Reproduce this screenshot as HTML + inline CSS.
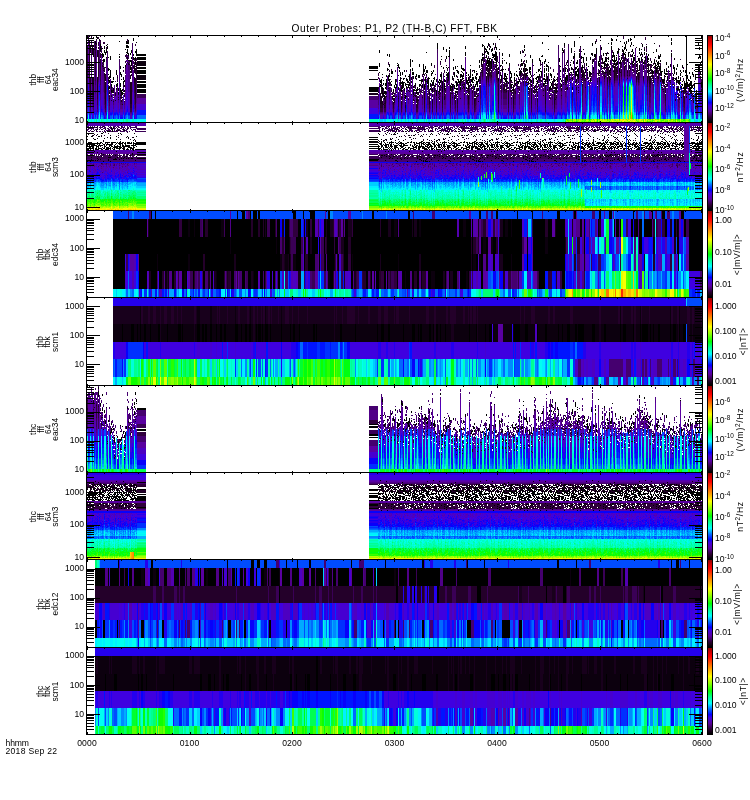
<!DOCTYPE html>
<html lang="en"><head><meta charset="utf-8"><title>Outer Probes: P1, P2 (TH-B,C) FFT, FBK</title>
<style>html,body{margin:0;padding:0;background:#fff}body{width:750px;height:800px;overflow:hidden}svg{display:block}text{font-family:"Liberation Sans",sans-serif;fill:#000}</style></head>
<body>
<svg width="750" height="800" viewBox="0 0 750 800" shape-rendering="crispEdges">
<rect width="750" height="800" fill="#fff"/>
<g><path fill="#000000" d="M611 39h2v2h-2zM126 42h3v2h-3zM126 46h3v2h-3zM624 47h2v2h-2zM491 49h2v2h-2zM622 50h2v2h-2zM135 51h2v2h-2zM617 51h2v2h-2zM487 52h2v2h-2zM495 52h2v2h-2zM591 53h2v2h-2zM136 54h10v2h-10zM102 54h2v2h-2zM492 54h5v2h-5zM594 54h2v3h-2zM612 55h3v2h-3zM573 56h2v2h-2zM658 57h2v2h-2zM137 57h9v3h-9zM494 58h3v2h-3zM647 58h2v2h-2zM633 57h2v4h-2zM605 59h2v2h-2zM481 59h2v2h-2zM103 59h2v3h-2zM487 61h5v2h-5zM603 62h2v2h-2zM576 62h2v2h-2zM619 62h2v2h-2zM616 63h2v2h-2zM521 63h2v3h-2zM598 63h2v3h-2zM369 66h9v3h-9zM655 67h3v2h-3zM575 67h2v2h-2zM137 67h9v2h-9zM673 67h2v2h-2zM659 67h2v3h-2zM529 67h2v3h-2zM698 68h2v3h-2zM577 69h2v2h-2zM538 69h2v2h-2zM423 69h2v3h-2zM685 70h2v3h-2zM426 70h2v3h-2zM457 71h2v2h-2zM652 71h2v2h-2zM520 71h2v2h-2zM137 70h9v4h-9zM391 71h2v3h-2zM575 72h2v2h-2zM412 72h2v3h-2zM519 73h2v2h-2zM504 73h2v3h-2zM550 74h2v2h-2zM575 74h4v2h-4zM460 74h2v2h-2zM447 73h2v4h-2zM440 74h2v3h-2zM388 75h2v2h-2zM566 75h2v2h-2zM418 75h2v3h-2zM109 76h2v2h-2zM686 76h2v3h-2zM475 77h2v2h-2zM472 77h2v2h-2zM565 77h3v3h-3zM675 78h2v2h-2zM406 79h2v2h-2zM388 79h2v2h-2zM444 80h2v2h-2zM505 80h2v2h-2zM471 80h2v2h-2zM380 80h2v3h-2zM137 81h9v2h-9zM458 81h3v2h-3zM407 81h2v2h-2zM427 80h2v4h-2zM678 81h2v3h-2zM690 81h2v3h-2zM476 82h2v2h-2zM432 82h2v3h-2zM456 83h2v3h-2zM385 83h2v3h-2zM116 84h2v2h-2zM419 84h2v2h-2zM402 84h2v2h-2zM137 84h9v4h-9zM683 87h4v2h-4zM401 87h2v2h-2zM549 87h2v3h-2zM413 89h2v2h-2zM369 87h9v5h-9zM137 89h9v4h-9zM384 91h2v2h-2zM121 92h2v2h-2z"/>
<path fill="#0c000e" d="M137 61h9v5h-9zM137 75h9v5h-9z"/>
<path fill="#18001c" d="M92 50h2v4h-2zM489 65h2v2h-2zM486 67h2v2h-2zM616 70h2v2h-2zM134 68h2v5h-2zM130 71h2v2h-2zM447 79h2v2h-2zM649 77h2v6h-2zM134 78h2v5h-2zM92 78h2v5h-2zM476 89h2v2h-2zM369 93h9v2h-9zM380 97h2v2h-2zM130 82h2v22h-2zM380 101h3v3h-3z"/>
<path fill="#24002a" d="M489 72h2v4h-2zM416 101h2v2h-2zM130 104h2v4h-2zM380 104h3v4h-3zM416 104h2v4h-2z"/>
<path fill="#30003d" d="M103 42h2v2h-2zM630 55h2v2h-2zM601 62h2v2h-2zM496 68h2v2h-2zM521 73h2v2h-2zM496 76h2v2h-2zM615 76h3v2h-3zM582 77h2v2h-2zM677 86h2v2h-2zM414 86h2v2h-2zM513 91h2v2h-2zM416 97h2v2h-2zM130 108h2v4h-2zM384 108h2v4h-2zM380 108h3v4h-3zM416 108h2v4h-2z"/>
<path fill="#3a0056" d="M615 78h3v2h-3zM657 79h2v2h-2zM649 95h2v2h-2zM137 94h9v4h-9zM503 93h4v6h-4zM514 94h2v5h-2zM427 96h2v3h-2z"/>
<path fill="#45006f" d="M645 64h2v2h-2zM579 62h2v5h-2zM645 67h2v2h-2zM128 65h2v5h-2zM625 67h2v3h-2zM558 68h2v2h-2zM605 70h2v2h-2zM583 82h2v2h-2zM652 84h2v2h-2zM565 85h2v3h-2zM108 90h2v2h-2zM663 92h2v4h-2zM369 96h9v3h-9zM120 102h3v2h-3zM427 99h2v6h-2zM503 99h4v6h-4zM514 99h2v6h-2zM555 100h2v5h-2zM444 100h2v5h-2z"/>
<path fill="#500089" d="M594 61h2v7h-2zM634 72h2v2h-2zM579 67h2v9h-2zM625 70h2v6h-2zM600 74h2v2h-2zM632 74h4v2h-4zM645 70h2v7h-2zM106 70h2v7h-2zM698 74h2v3h-2zM640 70h2v8h-2zM132 70h2v8h-2zM492 73h2v5h-2zM102 71h2v9h-2zM558 74h2v7h-2zM615 81h3v2h-3zM448 81h2v3h-2zM509 88h2v2h-2zM128 70h2v22h-2zM458 85h2v7h-2zM559 88h2v4h-2zM517 89h2v3h-2zM116 90h2v2h-2zM652 90h2v3h-2zM550 93h2v2h-2zM663 98h2v5h-2zM427 105h2v4h-2zM503 105h4v4h-4zM555 105h2v4h-2zM514 105h2v4h-2zM120 105h3v4h-3zM444 105h2v4h-2zM696 110h2v2h-2z"/>
<path fill="#5a00a1" d="M126 65h2v13h-2zM492 78h2v2h-2zM579 78h2v2h-2zM640 78h2v3h-2zM615 83h3v2h-3zM458 93h2v2h-2zM559 92h2v6h-2zM128 92h2v6h-2zM509 92h2v6h-2zM547 92h2v6h-2zM517 94h2v4h-2zM458 95h4v3h-4zM114 96h2v2h-2zM419 96h3v2h-3zM542 96h3v2h-3zM390 96h2v2h-2zM477 97h2v4h-2zM137 98h9v5h-9zM549 100h3v6h-3zM407 104h2v2h-2zM663 104h2v3h-2zM369 100h9v8h-9zM503 109h4v3h-4zM514 109h2v3h-2zM120 109h3v3h-3zM555 109h2v3h-2zM444 109h2v3h-2zM427 109h2v3h-2z"/>
<path fill="#5300b1" d="M492 80h2v2h-2zM640 81h2v2h-2zM126 82h2v3h-2zM539 85h2v2h-2zM615 85h3v2h-3zM568 87h2v6h-2zM465 91h2v2h-2zM447 87h2v8h-2zM540 89h2v6h-2zM409 98h2v3h-2zM583 99h2v2h-2zM419 98h3v7h-3zM517 98h2v7h-2zM542 98h3v7h-3zM509 98h2v7h-2zM390 98h2v7h-2zM559 98h2v7h-2zM547 98h2v7h-2zM128 98h2v7h-2zM458 99h4v6h-4zM403 100h2v5h-2zM437 100h2v5h-2zM114 101h2v4h-2zM110 101h2v4h-2zM477 102h2v5h-2zM549 106h3v3h-3zM663 108h2v3h-2z"/>
<path fill="#4d00c1" d="M492 82h2v3h-2zM640 83h2v3h-2zM615 87h3v8h-3zM538 89h2v6h-2zM568 95h2v4h-2zM540 95h2v6h-2zM447 95h2v6h-2zM692 104h2v2h-2zM542 105h3v3h-3zM509 105h2v3h-2zM390 105h2v3h-2zM547 105h2v3h-2zM110 105h2v3h-2zM559 105h2v3h-2zM437 105h2v3h-2zM128 105h2v3h-2zM114 105h2v3h-2zM403 105h2v3h-2zM419 105h3v3h-3zM458 105h4v3h-4zM517 105h2v3h-2zM477 107h2v4h-2zM414 109h2v2h-2zM549 109h3v3h-3zM380 116h3v3h-3zM416 116h2v3h-2zM384 116h2v3h-2zM130 116h2v3h-2z"/>
<path fill="#4600d1" d="M492 85h2v2h-2zM640 86h2v8h-2zM538 97h2v4h-2zM615 95h3v7h-3zM568 102h2v3h-2zM447 101h2v5h-2zM540 102h2v4h-2zM137 104h9v6h-9zM692 106h2v4h-2zM409 108h2v2h-2zM390 108h2v4h-2zM559 108h2v4h-2zM547 108h2v4h-2zM110 108h2v4h-2zM403 108h2v4h-2zM437 108h2v4h-2zM458 108h4v4h-4zM517 108h2v4h-2zM128 108h2v4h-2zM509 108h2v4h-2zM114 108h2v4h-2zM419 108h3v4h-3zM542 108h3v4h-3zM555 113h2v2h-2zM444 113h2v2h-2zM427 113h2v2h-2zM503 113h4v2h-4zM514 113h2v2h-2zM120 113h3v2h-3z"/>
<path fill="#3f00e0" d="M492 87h2v8h-2zM640 94h2v6h-2zM615 102h3v4h-3zM538 103h2v3h-2zM568 106h2v3h-2zM447 106h2v4h-2zM540 106h2v4h-2zM692 110h2v2h-2zM369 108h9v6h-9z"/>
<path fill="#2400ee" d="M483 84h2v2h-2zM593 91h2v3h-2zM492 95h2v6h-2zM640 100h2v5h-2zM615 106h3v4h-3zM538 107h2v3h-2zM568 110h2v2h-2zM540 110h2v2h-2zM447 110h2v2h-2zM477 112h2v2h-2zM549 113h3v2h-3zM503 115h4v2h-4zM514 115h2v2h-2zM120 115h3v2h-3zM555 115h2v2h-2zM444 115h2v2h-2zM427 115h2v2h-2z"/>
<path fill="#0800fb" d="M593 98h2v3h-2zM492 101h2v5h-2zM640 105h2v4h-2zM615 110h3v2h-3zM692 112h2v2h-2zM458 113h4v2h-4zM517 113h2v2h-2zM542 113h3v2h-3zM509 113h2v2h-2zM547 113h2v2h-2zM390 113h2v2h-2zM559 113h2v2h-2zM437 113h2v2h-2zM128 113h2v2h-2zM110 113h2v2h-2zM114 113h2v2h-2zM403 113h2v2h-2zM419 113h3v2h-3zM555 117h2v2h-2zM514 117h2v2h-2zM120 117h3v2h-3zM444 117h2v2h-2zM427 117h2v2h-2zM503 117h4v2h-4z"/>
<path fill="#0014ff" d="M483 90h2v5h-2zM492 106h2v4h-2zM640 109h2v3h-2zM540 112h2v2h-2zM447 112h2v2h-2zM137 110h9v5h-9zM549 115h3v2h-3zM369 114h9v5h-9zM663 116h2v3h-2z"/>
<path fill="#0030ff" d="M483 98h2v3h-2zM593 108h2v2h-2zM492 110h2v2h-2zM615 112h3v2h-3zM477 115h2v4h-2zM549 117h3v2h-3zM414 117h2v2h-2z"/>
<path fill="#004cff" d="M483 104h2v2h-2zM692 115h2v3h-2zM409 116h2v2h-2zM559 116h2v3h-2zM437 116h2v3h-2zM128 116h2v3h-2zM110 116h2v3h-2zM114 116h2v3h-2zM403 116h2v3h-2zM419 116h3v3h-3zM458 116h4v3h-4zM517 116h2v3h-2zM542 116h3v3h-3zM509 116h2v3h-2zM390 116h2v3h-2zM547 116h2v3h-2z"/>
<path fill="#0068ff" d="M483 108h2v2h-2zM492 112h2v2h-2zM640 113h2v2h-2zM568 115h2v2h-2zM700 115h2v2h-2zM540 115h2v3h-2zM447 115h2v3h-2zM137 115h9v4h-9z"/>
<path fill="#0089ff" d="M600 87h2v9h-2zM538 115h2v3h-2zM615 115h3v3h-3z"/>
<path fill="#00abff" d="M600 96h2v7h-2zM640 115h2v2h-2z"/>
<path fill="#00ceff" d="M600 103h2v4h-2zM492 115h2v3h-2zM640 117h2v2h-2zM695 120h3v2h-3zM428 119h2v4h-2zM525 119h2v4h-2zM474 119h2v4h-2zM467 119h2v4h-2zM384 119h2v4h-2zM380 119h3v4h-3zM454 119h2v4h-2zM416 119h2v4h-2z"/>
<path fill="#00f0ff" d="M600 107h2v4h-2zM593 116h2v2h-2zM92 119h2v4h-2zM476 119h3v4h-3zM413 119h3v4h-3zM503 119h4v4h-4zM130 119h2v4h-2zM549 119h4v4h-4zM555 119h2v4h-2zM444 119h2v4h-2zM134 119h2v4h-2zM514 119h2v4h-2zM439 119h2v4h-2z"/>
<path fill="#00fff1" d="M137 119h9v4h-9z"/>
<path fill="#00ffda" d="M483 116h2v2h-2zM120 119h3v2h-3zM538 119h2v4h-2zM547 119h2v4h-2zM509 119h2v4h-2zM557 119h4v4h-4zM395 119h2v4h-2zM437 119h2v4h-2zM387 119h2v4h-2zM403 119h2v4h-2zM419 119h3v4h-3zM399 119h2v4h-2zM458 119h4v4h-4zM517 119h2v4h-2zM700 119h2v4h-2zM390 119h2v4h-2zM542 119h3v4h-3zM691 120h2v3h-2z"/>
<path fill="#00ffc2" d="M600 112h2v2h-2zM489 119h3v3h-3zM114 119h2v4h-2zM106 119h2v4h-2zM369 119h9v4h-9zM110 119h2v4h-2zM128 119h2v4h-2zM132 119h2v4h-2zM102 119h2v4h-2z"/>
<path fill="#00ffaa" d="M447 119h2v4h-2zM540 119h2v4h-2z"/>
<path fill="#00ff92" d="M126 119h2v4h-2z"/>
<path fill="#00ff72" d="M600 115h2v4h-2z"/></g><g fill="none" transform="translate(0 .5)"><path stroke="#000000" d="M483 36h2M89 36h1M96 36h1M579 37h1M634 37h1M96 37h2M611 38h1M630 38h1M97 38h1M630 39h2M600 40h1M630 40h1M126 41h1M620 41h1M119 41h1M136 42h1M608 43h1M654 43h1M107 44h1M482 44h1M126 45h2M106 45h1M633 45h1M482 45h2M580 46h1M482 46h1M93 46h1M622 46h1M495 47h2M636 47h1M492 48h1M484 48h2M102 48h1M548 49h1M641 49h1M485 49h2M93 49h1M622 49h1M624 49h1M125 49h1M583 49h1M499 49h1M562 50h2M486 50h1M631 51h2M495 51h1M486 51h2M579 51h1M581 51h1M491 51h1M653 52h1M625 52h1M126 52h2M104 52h3M623 52h1M628 52h2M426 52h1M608 53h1M136 53h1M617 53h1M492 53h1M623 53h2M127 53h2M605 53h2M102 53h1M482 54h2M119 54h1M623 54h3M488 54h1M640 54h3M592 55h1M542 55h1M616 55h1M640 55h1M482 55h1M621 55h1M634 55h1M493 56h4M658 56h3M541 56h2M699 56h2M441 56h1M619 56h1M448 56h2M581 56h1M103 56h1M655 57h1M102 57h1M595 57h1M133 57h1M495 57h2M608 57h1M108 57h1M135 57h1M106 57h1M581 57h3M492 57h2M698 57h3M612 57h1M482 57h2M698 58h1M133 58h3M482 58h1M489 58h2M581 58h1M502 58h1M607 58h2M700 58h1M573 58h1M441 59h1M133 59h1M608 59h1M135 59h1M612 59h1M489 59h1M539 60h2M130 60h1M495 60h2M638 60h2M504 60h1M571 60h1M612 60h5M487 60h3M440 61h1M540 61h1M658 61h1M544 61h2M636 61h2M613 61h3M604 61h3M130 61h2M598 61h2M548 62h1M636 62h1M657 62h2M542 62h1M629 62h1M598 62h1M581 62h1M607 63h1M486 63h6M632 63h1M657 63h3M654 63h2M630 63h1M397 63h1M655 64h1M686 64h2M633 64h1M486 64h1M657 64h2M647 64h1M541 64h1M488 64h2M650 64h1M606 64h2M546 64h1M398 64h1M470 65h1M559 65h1M652 65h1M397 65h2M497 65h1M546 65h2M655 65h2M658 65h1M601 65h1M533 65h1M500 65h2M567 65h1M565 65h1M655 66h1M698 66h1M457 66h1M441 66h1M500 66h1M577 66h1M588 66h1M602 66h1M599 66h1M560 66h1M657 66h4M398 66h1M546 66h3M544 66h1M448 67h1M701 67h1M653 67h1M604 67h2M398 67h2M105 67h1M446 67h1M123 67h1M581 67h3M566 68h1M447 68h1M461 68h3M525 68h2M540 68h1M387 68h1M108 68h1M578 68h1M502 68h1M399 68h1M575 69h1M462 69h3M502 69h2M525 69h3M505 69h1M480 69h1M387 69h2M108 69h2M660 70h1M520 70h1M609 70h2M500 70h1M529 70h1M473 70h2M652 70h1M456 70h2M525 70h2M638 70h1M369 70h9M387 70h1M463 70h2M694 70h1M108 70h1M461 71h1M540 71h2M660 71h3M669 71h1M516 71h1M666 71h2M476 71h1M431 71h1M538 71h1M609 71h1M529 71h2M575 71h4M525 71h1M589 71h1M536 72h1M604 72h1M432 72h1M681 72h1M589 72h2M529 72h1M587 72h1M570 72h1M660 72h2M462 72h1M446 72h1M379 72h1M448 72h1M425 73h1M652 73h1M597 73h1M589 73h3M664 73h3M550 73h1M431 73h2M458 73h1M565 73h1M510 73h2M507 74h1M589 74h2M382 74h1M516 74h1M120 74h2M105 74h1M534 74h1M108 74h1M692 74h2M665 74h2M664 75h1M516 75h2M526 75h2M585 75h1M519 75h1M466 75h1M685 75h3M398 75h1M500 75h2M391 76h1M505 76h2M575 76h1M682 76h1M415 76h2M408 76h2M444 76h1M475 76h1M577 76h2M537 76h3M517 76h1M665 76h1M460 76h4M676 77h1M557 77h1M462 77h1M434 77h1M460 77h1M504 77h1M117 77h1M536 77h3M506 77h1M428 77h1M510 77h2M403 78h2M462 78h2M452 78h2M428 78h2M543 78h2M585 78h1M406 78h1M535 78h2M433 78h2M503 78h4M109 78h1M121 79h1M536 79h1M543 79h3M504 79h2M471 79h3M422 79h1M476 79h1M688 79h1M556 79h1M381 79h1M551 79h1M444 79h1M403 79h1M457 79h2M369 79h9M452 79h1M434 79h1M460 79h1M661 79h4M466 79h1M439 79h1M554 79h1M428 79h1M399 80h2M419 80h4M545 80h1M383 80h1M124 80h1M439 80h2M514 80h2M466 80h3M553 80h3M474 80h1M688 80h2M458 80h1M567 80h1M460 80h2M676 80h5M510 80h2M662 80h3M108 80h2M111 81h3M391 81h1M402 81h1M440 81h1M682 81h1M557 81h1M466 81h2M662 81h2M421 81h2M544 81h2M476 81h3M536 81h2M554 81h1M517 81h3M438 81h1M514 81h1M123 81h2M466 82h4M663 82h1M686 82h2M517 82h2M111 82h2M578 82h1M550 82h1M438 82h3M472 82h1M506 82h1M400 82h5M518 83h1M694 83h2M400 83h4M381 83h1M405 83h1M684 83h4M466 83h1M409 83h1M117 83h1M452 84h2M400 84h1M405 84h5M556 84h1M665 84h1M684 84h8M395 84h2M436 84h1M681 84h2M679 84h1M554 84h1M511 84h2M464 84h1M535 85h1M432 85h1M414 85h2M382 85h1M513 85h1M682 85h1M411 85h1M545 85h1M408 85h2M452 85h1M405 85h1M684 85h9M450 85h1M450 86h3M402 86h1M474 86h2M380 86h2M691 86h2M534 86h1M684 86h6M550 86h1M456 86h1M116 86h1M386 86h1M419 86h1M394 87h3M689 87h4M554 87h2M381 87h2M508 87h1M116 88h1M419 88h1M554 88h3M693 88h1M395 88h1M454 88h2M381 88h3M677 88h2M689 88h3M685 89h1M382 89h2M556 89h1M416 89h3M122 89h1M677 89h3M537 89h1M689 89h2M549 90h1M408 90h1M120 90h3M677 90h1M416 90h2M554 90h1M689 90h3M679 90h1M121 91h1M438 91h2M455 91h1M416 91h1M416 92h2M113 92h1M405 93h1M416 93h1M394 93h1M695 93h2M382 93h3M383 94h1M122 94h1M383 95h2"/>
<path stroke="#18001c" d="M88 37h1M96 39h1M88 40h1M87 43h1M89 46h4M92 47h1M96 47h1M98 48h1M89 49h2M92 49h1M94 49h1M87 50h1M101 51h1M95 52h1M484 54h1M101 54h1M100 55h1M622 55h2M642 56h1M484 57h1M644 57h1M126 57h2M622 57h1M623 58h1M483 58h2M100 59h1M624 59h1M642 59h1M631 59h1M524 60h1M484 60h1M128 60h2M622 60h3M642 61h1M622 61h1M483 61h2M127 62h1M623 62h1M103 62h1M483 62h1M495 62h1M644 63h2M634 63h1M102 63h1M631 63h1M128 63h1M126 64h1M103 64h1M632 64h1M128 64h2M482 64h1M490 64h1M621 64h1M613 64h1M612 65h1M633 65h1M102 65h1M608 65h1M136 65h1M134 65h1M487 65h1M481 66h2M612 66h2M493 66h1M133 66h1M632 66h1M645 66h1M617 66h1M495 66h2M654 66h1M135 66h1M601 66h1M647 66h2M102 66h2M490 67h1M133 67h2M648 67h1M615 67h2M613 67h1M629 68h2M103 68h1M602 68h1M608 68h1M614 68h1M650 68h1M647 68h2M489 68h2M494 68h1M650 69h2M593 69h1M489 69h1M632 69h1M616 69h1M606 69h3M637 69h1M648 69h1M630 69h1M495 69h1M481 70h2M657 70h2M636 70h1M103 70h1M649 70h2M632 70h2M614 70h1M488 70h2M583 71h1M104 71h1M634 71h1M613 71h2M601 71h3M649 71h1M651 71h1M657 71h1M636 71h2M643 71h1M481 72h2M610 72h1M593 72h1M486 72h1M602 72h1M605 72h4M638 72h2M650 72h1M571 72h1M584 72h1M620 72h1M598 73h2M649 73h3M486 73h3M669 73h1M616 73h1M638 73h1M657 73h1M135 73h1M609 73h1M605 73h1M603 73h1M659 73h1M573 74h1M637 74h2M609 74h2M131 74h1M659 74h2M598 74h1M570 74h1M523 75h1M520 75h1M652 75h1M603 75h2M599 75h1M627 75h1M130 75h2M583 76h2M604 76h2M657 76h1M591 76h1M649 76h5M660 77h1M520 77h1M447 77h1M530 77h1M540 77h1M587 77h1M581 77h1M134 77h1M584 77h1M92 77h1M655 78h1M587 78h2M653 78h1M669 78h1M577 78h1M597 78h1M627 78h1M571 78h1M672 79h1M569 79h2M609 79h2M470 79h1M527 79h1M619 79h1M581 79h1M525 79h1M546 79h1M501 80h1M669 80h2M584 80h2M463 80h1M674 80h1M539 80h3M667 80h1M652 80h2M591 80h1M563 80h1M609 80h1M479 80h2M389 81h1M507 81h1M566 81h1M669 81h1M588 81h1M541 81h1M597 81h1M462 81h1M498 81h1M581 81h1M426 81h1M666 81h1M526 81h1M662 82h1M390 82h1M670 82h1M470 82h1M538 82h1M664 82h1M526 82h2M473 82h1M570 82h1M563 82h1M565 82h2M520 83h1M566 83h1M506 83h1M529 83h1M479 83h1M108 83h1M504 83h1M388 83h3M663 83h2M560 83h1M649 83h1M448 84h1M536 84h1M576 84h1M462 84h2M582 84h1M470 84h1M565 84h1M666 84h2M527 84h1M557 84h1M530 84h1M672 84h2M540 84h1M503 84h1M473 84h1M517 84h1M578 84h1M563 84h1M589 84h1M503 85h2M447 85h1M516 85h1M575 85h1M469 85h1M431 85h1M462 85h1M664 85h1M674 85h1M667 85h1M433 85h2M546 85h1M506 85h2M526 85h1M514 86h1M469 86h2M421 86h1M670 86h1M434 86h2M500 86h1M506 86h1M529 86h1M517 86h2M545 86h1M479 86h1M541 86h1M463 86h1M597 86h1M425 86h1M664 86h3M473 86h1M123 86h1M445 86h1M453 86h1M427 86h1M531 86h1M379 86h1M701 87h1M441 87h1M501 87h1M471 87h1M557 87h1M411 87h1M451 87h1M533 87h2M431 87h1M673 87h1M585 87h1M463 87h2M661 87h2M578 87h1M665 87h1M680 87h1M407 87h1M567 87h1M464 88h1M500 88h1M534 88h1M553 88h1M536 88h1M688 88h1M406 88h1M467 88h1M471 88h2M517 88h2M388 88h1M507 88h1M503 88h2M462 88h1M445 88h1M566 88h2M506 89h1M529 89h1M684 89h1M468 89h1M400 89h1M565 89h1M440 89h1M451 89h1M662 89h2M503 89h1M473 89h1M123 89h1M534 89h3M519 89h1M116 89h1M512 89h1M567 89h1M399 90h2M395 90h1M422 90h1M434 90h2M556 90h1M415 90h1M683 90h3M504 90h1M665 90h1M388 90h1M419 90h1M451 90h2M510 90h3M402 90h1M543 90h1M445 90h1M578 90h1M466 90h3M533 90h1M428 90h1M510 91h2M464 91h1M663 91h1M120 91h1M506 91h1M424 91h1M456 91h2M469 91h1M533 91h2M528 91h1M452 91h1M552 91h1M420 91h2M123 91h1M681 91h6M555 91h3M406 91h1M433 91h2M474 91h1M409 91h1M685 92h1M422 92h1M519 92h1M386 92h1M537 92h1M111 92h2M552 92h2M512 92h1M396 92h1M378 92h1M681 92h1M665 92h1M533 92h3M555 92h2M442 92h1M455 92h3M578 92h1M439 92h1M400 93h1M385 93h2M438 93h1M457 93h1M420 93h1M450 93h3M440 93h1M528 93h1M123 93h1M415 93h1M478 93h1M466 93h1M686 93h2M549 93h1M468 93h2M464 94h1M688 94h2M411 94h1M686 94h1M121 94h1M677 94h2M511 94h1M467 94h1M513 94h1M665 94h1M382 94h1M402 94h1M118 94h1M692 94h1M675 94h1M439 94h1M392 94h1M454 95h1M554 95h1M556 95h1M404 95h1M120 95h2M678 95h2M419 95h1M691 95h1M543 95h1M393 95h1M414 95h3M477 95h2M456 95h1M561 95h1M549 95h2M476 96h2M455 96h1M474 96h1M386 96h1M432 96h1M457 96h1M381 96h3M406 96h1M415 96h1M396 96h1M413 96h1M392 96h3M683 96h1M535 96h1M109 96h1M692 96h1M694 96h1M439 96h1M677 96h1M395 97h1M113 97h1M422 97h1M401 97h2M438 97h1M556 97h1M404 97h1M681 97h1M452 97h1M549 97h1M418 97h1M118 97h1M385 97h1M392 97h1M120 97h3M429 98h2M693 98h1M511 98h1M460 98h1M398 98h1M690 98h1M474 98h2M392 98h3M109 98h1M550 98h1M416 99h2M384 99h1M537 99h1M393 99h2M404 99h1M122 99h1M413 99h1M381 99h1M554 99h2M436 99h1M408 99h1M689 99h1M118 99h1M692 99h1M111 100h1M417 100h2M380 100h2M115 100h1M696 100h2M691 100h1M413 100h2M113 101h1M696 101h1M478 101h1M124 101h1M393 102h2M413 102h1M405 102h1M384 103h2M697 103h1M417 103h1M393 103h1M383 104h1M122 104h1M384 105h1M697 105h1M384 107h1M697 107h1"/>
<path stroke="#24002a" d="M89 44h1M92 45h1M87 46h1M98 47h1M87 49h1M136 64h1M647 65h1M643 65h1M486 65h1M134 66h1M650 67h1M131 67h1M607 68h1M636 68h1M614 69h1M482 71h1M609 72h1M524 73h2M617 73h1M615 74h2M523 74h2M629 75h1M637 75h1M105 75h1M615 75h3M524 75h1M104 76h2M523 76h1M104 77h1M619 78h1M525 78h1M643 79h1M614 80h1M619 80h1M582 82h1M650 83h1M649 84h2M665 91h1M432 92h1M424 92h1M381 93h1M513 93h1M457 94h1M450 94h1M554 96h1M380 96h1M385 96h1M382 97h1M429 97h1M537 98h1M380 99h1M393 100h1M416 100h1M436 100h1M384 106h2M385 107h1"/>
<path stroke="#30003d" d="M100 36h1M499 39h1M641 43h1M646 44h1M95 44h1M619 49h1M484 49h1M100 51h1M574 51h1M482 53h1M630 54h1M126 54h1M125 55h2M658 55h1M637 56h1M524 56h1M102 56h1M125 56h1M645 56h1M485 57h1M654 59h1M134 59h1M680 59h1M134 60h3M131 60h1M502 60h1M523 61h2M602 61h1M608 61h1M648 61h1M498 62h1M570 62h1M616 62h1M615 63h1M648 63h1M651 64h1M649 64h1M493 64h1M608 64h1M649 65h3M482 65h1M446 65h1M616 65h1M496 65h1M650 66h2M615 66h1M609 66h1M487 66h1M651 67h1M603 67h1M489 67h1M617 67h1M607 67h3M496 67h1M615 68h3M692 68h1M603 68h2M658 68h1M666 68h1M655 69h1M604 69h1M617 69h1M615 69h1M657 69h1M651 70h1M582 70h2M639 70h1M527 70h1M637 70h1M627 70h1M610 71h1M582 71h1M489 71h1M658 71h1M563 71h1M651 72h1M657 72h2M616 72h2M582 72h2M530 72h1M672 73h1M610 73h1M653 73h1M548 73h1M637 73h1M435 74h1M652 74h1M651 75h1M610 75h1M653 75h1M497 75h1M462 75h1M522 75h1M533 75h1M621 76h1M624 76h1M482 76h1M608 76h1M504 76h1M637 76h1M490 76h1M487 76h1M560 76h1M653 77h1M382 77h1M680 77h1M490 77h2M507 78h1M401 78h1M421 79h1M506 79h1M390 79h1M461 79h2M537 80h1M464 80h1M643 80h1M510 81h2M400 81h1M115 81h1M694 81h1M457 82h1M510 82h3M488 82h1M636 82h1M638 82h1M503 82h1M409 82h1M510 83h1M552 83h2M689 83h1M424 84h1M476 84h1M438 85h1M555 85h2M464 85h1M438 86h2M543 86h1M513 86h1M430 86h1M649 87h2M503 87h1M477 88h1M529 88h1M506 88h1M508 88h1M511 88h1M415 88h1M504 89h2M381 89h1M424 89h1M503 90h1M505 90h2M432 91h1M113 91h1M503 91h3M427 91h1M503 92h4M450 92h1M693 93h1M401 94h1M385 94h1M382 95h1M455 95h1M380 95h1M416 96h1M401 96h1M109 97h1M398 99h1M384 104h1"/>
<path stroke="#3a0056" d="M91 41h1M101 46h1M622 53h1M642 55h1M492 59h1M102 60h1M103 63h1M613 63h1M630 64h1M632 65h1M481 65h1M493 65h1M613 65h1M633 66h1M606 67h1M601 67h1M605 68h2M598 69h1M593 70h1M659 70h1M698 71h1M587 73h1M660 73h1M591 74h1M581 74h1M548 74h1M412 76h1M423 76h1M524 76h1M489 76h1M608 77h1M652 77h1M624 77h1M584 78h1M490 78h2M651 78h2M651 79h1M491 79h1M583 79h3M441 79h1M653 79h1M566 80h1M664 81h1M643 81h1M504 82h1M514 82h1M389 82h1M614 83h1M505 83h1M619 83h1M525 83h1M565 83h1M504 84h3M514 85h2M108 85h1M427 85h1M503 86h1M464 86h1M506 87h1M476 88h1M445 89h1M472 90h1M519 90h1M476 91h1M445 91h1M537 91h1M469 92h1M452 92h1M444 92h2M427 93h1M555 93h2M439 93h1M464 93h1M514 93h1M475 94h2M445 94h1M427 94h2M427 95h1M439 95h1M444 95h2M511 95h1M109 95h1M436 96h1M555 96h2M417 96h2M120 96h1M511 97h1M555 97h1M452 98h1M555 98h2M535 98h1M402 98h1M422 98h1M120 98h1M384 100h1M405 100h1"/>
<path stroke="#45006f" d="M88 36h1M101 47h1M622 54h1M127 55h1M126 56h2M622 56h1M631 58h1M126 58h1M623 59h1M623 61h1M106 61h2M494 62h1M102 62h1M129 63h1M612 63h1M646 63h1M494 64h2M102 64h1M132 65h2M495 65h1M103 65h1M634 66h2M646 66h1M102 67h2M495 67h1M632 67h4M132 68h2M634 68h2M102 68h1M481 68h1M640 69h2M102 69h2M633 69h3M132 69h1M646 69h1M613 70h1M634 70h1M602 70h1M593 71h1M481 71h1M592 72h1M603 72h1M493 72h1M606 73h1M601 73h2M571 73h1M602 74h1M605 74h2M659 75h2M598 75h1M570 75h1M581 75h1M520 76h1M587 76h1M527 76h1M629 76h1M540 76h1M672 77h1M524 77h1M489 77h1M577 77h1M569 78h1M447 78h1M624 78h1M674 78h1M521 78h1M608 78h1M540 78h1M621 79h1M110 79h1M521 79h2M479 79h1M482 79h1M637 79h1M490 79h1M487 79h1M546 80h1M490 80h2M589 80h1M648 80h1M569 80h1M470 80h1M615 80h3M661 80h1M522 80h1M584 81h1M670 81h1M463 81h1M643 82h1M462 82h2M651 82h2M530 82h1M446 82h1M388 82h1M657 83h2M536 83h1M652 83h1M500 83h1M463 83h1M557 83h1M517 83h1M566 84h1M431 84h1M544 85h1M421 85h1M523 85h1M425 85h1M636 85h1M517 85h1M638 85h1M533 85h1M117 86h1M108 86h1M553 87h1M512 87h1M421 87h1M518 87h1M433 87h1M565 88h1M451 88h1M566 89h1M471 89h1M395 89h1M419 89h2M663 90h2M420 90h1M440 90h1M475 91h1M664 91h1M438 92h1M440 92h1M115 92h1M678 93h1M413 95h1M454 96h1M121 96h1M439 97h1M121 98h1M392 99h1M556 99h1M369 99h10M418 99h1M445 99h1M124 99h1M649 102h2M678 102h2M413 104h1M120 104h2M696 104h2M696 105h1M696 106h2M696 107h1M684 111h1M455 111h1M135 111h1M90 111h1M436 112h1M474 112h1M508 112h1M457 112h1M429 112h1M380 112h3M545 112h1M416 112h2M105 112h1M531 112h1M130 112h2M450 112h1M554 112h1M432 112h1M468 112h1M424 112h1M405 112h1M384 112h2M401 112h1M442 112h1M393 112h1M513 112h1M498 112h1"/>
<path stroke="#500089" d="M88 41h1M101 50h1M101 52h1M622 58h1M484 59h2M126 60h2M644 60h1M642 60h1M594 60h1M126 61h1M102 70h1M603 74h1M605 75h2M625 76h1M579 76h3M573 76h2M655 76h2M606 76h1M592 76h3M633 76h3M668 77h2M593 77h1M527 77h1M645 77h1M588 77h1M605 77h2M598 77h1M579 77h2M574 77h1M698 77h1M489 78h1M606 78h1M672 78h1M524 78h1M540 79h1M608 79h1M627 79h1M666 80h1M538 80h1M470 81h1M538 81h3M479 81h1M522 81h1M546 81h1M569 81h1M521 82h2M539 82h1M610 82h1M470 83h1M661 83h2M461 83h2M546 83h1M643 83h1M541 83h2M530 83h1M663 84h1M458 84h1M500 85h1M662 85h2M463 85h1M473 85h1M453 85h1M663 86h1M431 86h1M583 86h2M614 86h1M667 86h1M619 86h1M525 86h1M657 86h2M500 87h1M517 87h1M453 87h1M400 88h1M532 88h2M557 88h1M662 88h2M547 88h2M701 88h1M388 89h1M467 89h1M428 89h1M534 90h1M678 90h1M550 90h2M557 90h1M542 91h3M388 91h1M386 91h1M435 91h1M419 91h1M548 91h4M477 91h1M117 92h1M419 92h3M414 92h2M549 92h1M459 92h2M518 92h1M534 93h1M512 93h1M477 93h1M391 93h1M454 93h1M420 94h1M549 96h1M407 96h2M550 97h2M407 97h1M565 97h2M551 98h1M549 98h1M407 98h2M118 98h1M550 99h2M407 99h1M697 101h1M663 103h1M649 107h2M678 107h2M683 111h1M684 112h1M455 112h1M135 112h1M90 112h1M474 113h1M554 113h1M432 113h1M457 113h1M429 113h1M468 113h1M424 113h1M545 113h1M384 113h2M105 113h1M531 113h1M130 113h2M450 113h1M442 113h1M513 113h1M498 113h1M405 113h1M436 113h1M401 113h1M393 113h1M508 113h1M380 113h3M416 113h2"/>
<path stroke="#5a00a1" d="M127 61h1M126 63h2M127 64h1M494 69h1M571 76h1M630 76h1M600 76h2M626 76h1M632 76h1M623 76h1M620 77h1M592 77h1M573 77h1M99 77h1M671 77h1M495 77h1M107 77h1M625 77h1M570 77h2M699 77h1M611 77h1M633 77h3M628 77h2M594 77h1M646 77h1M483 77h1M605 78h1M593 78h2M659 78h1M634 78h2M573 78h2M526 78h2M655 79h2M591 79h1M574 79h1M426 79h1M593 79h1M524 79h1M489 79h1M605 79h2M627 80h1M608 80h1M656 80h1M672 80h1M568 80h1M579 80h1M567 81h2M624 81h1M577 81h1M487 82h1M666 82h1M479 82h1M568 82h1M637 82h1M568 83h2M563 83h1M643 84h1M516 84h1M539 84h1M568 84h1M569 85h1M470 85h1M448 86h1M411 86h2M661 86h1M536 87h1M412 87h1M411 88h2M431 88h1M123 90h1M686 90h1M578 91h1M458 92h1M409 92h2M116 92h1M578 93h1M583 93h2M116 93h2M421 94h1M542 94h3M477 94h2M390 94h2M456 94h1M415 94h1M420 95h2M390 95h1M544 95h1M542 95h1M437 96h2M478 96h1M403 96h2M403 97h1M679 97h1M437 97h1M110 97h2M115 98h1M652 98h2M404 98h1M111 98h1M414 99h2M415 100h1M477 101h1M414 101h2M136 103h10M664 103h1M565 103h2M663 107h1M678 110h2M649 110h2M649 111h1M678 111h1M97 112h1M455 113h1M90 113h1M135 113h1M684 113h1M105 114h1M531 114h1M554 114h1M432 114h1M468 114h1M424 114h1M405 114h1M384 114h2M130 114h2M450 114h1M401 114h1M442 114h1M393 114h1M513 114h1M498 114h1M436 114h1M474 114h1M508 114h1M457 114h1M429 114h1M380 114h3M545 114h1M416 114h2"/>
<path stroke="#5300b1" d="M654 76h1M644 76h1M494 76h1M600 77h2M632 77h1M633 78h1M570 78h1M581 78h1M628 78h1M611 78h1M594 79h1M634 79h2M587 79h1M573 79h1M526 79h1M655 80h1M634 80h1M489 80h1M673 80h1M580 80h1M593 80h2M426 80h1M524 80h1M593 81h1M655 81h2M608 81h1M627 81h1M579 81h2M668 81h1M668 82h2M579 82h1M656 82h1M567 82h1M624 82h1M676 83h1M637 83h1M487 83h1M482 84h1M621 84h1M479 85h1M490 85h1M666 85h1M447 86h1M540 87h2M540 88h1M412 89h1M411 90h2M431 91h1M686 92h1M692 93h1M112 94h1M679 94h1M692 95h1M461 98h1M458 98h2M110 98h1M114 98h1M114 99h2M110 99h2M110 100h1M114 100h1M652 104h2M414 106h2M664 107h1M407 108h2M663 111h1M650 111h1M572 111h1M679 111h1M696 112h2M697 113h1M135 114h1M665 114h1M90 114h1M93 114h1M684 114h1M455 114h1M537 114h1M475 114h1M398 114h1M424 115h1M405 115h1M401 115h1M442 115h1M393 115h1M513 115h1M498 115h1M380 115h3M436 115h1M416 115h2M474 115h1M554 115h1M508 115h1M432 115h1M457 115h1M429 115h1M468 115h1M545 115h1M384 115h2M105 115h1M531 115h1M130 115h2M450 115h1"/>
<path stroke="#4d00c1" d="M654 77h1M630 77h1M626 77h1M623 77h1M644 77h1M629 78h1M612 78h1M600 78h2M660 78h1M618 78h1M632 78h1M611 79h2M628 79h1M633 79h1M588 80h1M526 80h2M592 80h1M635 80h1M99 80h1M671 80h1M620 80h1M495 80h1M107 80h1M625 80h1M646 80h1M483 80h1M524 81h1M489 81h1M594 81h1M634 81h2M673 81h1M627 82h1M608 82h1M593 82h2M591 82h1M634 82h1M655 82h1M580 82h1M655 83h2M579 83h2M593 83h1M672 83h1M624 83h1M567 84h1M676 84h1M674 84h1M577 85h1M575 86h1M538 88h1M687 91h1M411 91h1M101 93h2M686 95h1M677 97h1M528 97h1M700 98h2M583 105h2M409 105h2M652 108h2M565 111h2M118 111h1M136 111h1M108 111h1M414 111h1M386 111h1M440 111h1M664 111h1M89 111h1M472 112h1M92 112h1M120 112h3M464 112h1M552 112h1M555 112h2M418 112h1M535 112h1M383 112h1M454 112h1M402 112h1M422 112h1M561 112h1M439 112h1M480 112h1M392 112h1M444 112h2M649 112h2M427 112h2M511 112h1M113 112h1M394 112h1M430 112h1M519 112h1M378 112h1M501 112h1M413 112h1M389 112h1M469 112h1M104 112h1M452 112h1M572 112h1M678 112h2M476 112h1M134 112h1M87 112h1M467 112h1M503 112h4M529 112h1M434 112h1M514 112h2M124 112h1M649 113h1M678 113h1M696 113h1M697 114h1M683 114h1M109 114h1"/>
<path stroke="#4600d1" d="M631 76h1M494 77h1M654 78h1M644 78h1M630 78h1M600 79h2M618 79h1M611 80h2M628 80h1M484 80h1M633 80h1M570 80h1M581 80h1M612 81h1M483 81h2M524 82h1M489 82h1M673 82h1M483 82h1M680 82h1M635 82h1M594 83h1M608 83h1M481 83h1M627 83h1M485 83h1M624 84h1M593 84h2M593 85h1M676 86h1M577 86h1M637 86h1M487 86h1M590 87h1M687 92h1M528 92h1M675 95h1M101 99h2M538 101h4M538 102h1M693 103h1M700 104h2M569 105h1M583 109h2M415 111h1M497 111h1M477 111h2M386 112h1M440 112h1M607 112h1M89 112h1M565 112h1M585 112h1M408 112h1M118 112h1M663 112h1M108 112h1M650 113h1M679 113h1M572 113h1M649 114h1M678 114h1M696 114h1M582 114h1M97 115h1"/>
<path stroke="#3f00e0" d="M494 78h1M626 78h1M623 78h1M644 79h1M632 79h1M629 79h1M654 79h1M660 79h1M600 80h2M570 81h1M628 81h1M611 81h1M633 81h1M484 82h1M592 83h1M673 83h1M680 83h1M99 83h1M671 83h1M620 83h1M495 83h1M483 83h2M524 83h1M489 83h1M107 83h1M625 83h1M587 83h1M646 83h1M527 83h1M627 84h1M608 84h1M594 85h1M593 86h2M676 87h1M682 90h1M677 91h1M691 94h1M406 95h1M693 97h1M693 99h1M539 102h1M101 105h2M568 105h1M538 106h1M700 108h2M569 109h1M604 111h1M414 112h1M653 112h1M664 112h1M549 112h3M597 112h1M95 112h1M407 112h1M566 112h1M425 112h1M533 112h1M589 112h1M100 112h1M386 113h1M565 113h1M440 113h1M89 113h1M585 113h1M408 113h1M118 113h1M663 113h2M108 113h1M607 113h1M599 114h1M650 114h1M572 114h1M679 114h1M576 114h1M647 114h1M696 115h2M475 118h1M665 118h1"/>
<path stroke="#2400ee" d="M631 77h1M494 79h1M630 79h1M632 80h1M654 80h1M600 81h2M628 82h1M611 82h1M588 82h1M618 82h1M524 84h1M489 84h1M680 85h1M608 85h1M627 85h1M635 85h1M682 88h1M539 106h1M568 109h1M538 110h1M651 111h1M639 111h1M558 111h1M491 111h1M94 111h1M662 112h1M583 112h1M449 112h1M403 112h2M559 112h2M437 112h2M517 112h2M441 112h1M132 112h1M636 112h1M521 112h1M433 112h1M557 112h1M451 112h1M128 112h2M509 112h2M388 112h1M435 112h1M443 112h1M512 112h1M117 112h1M523 112h1M507 112h1M114 112h2M410 112h1M530 112h1M419 112h3M125 112h1M458 112h4M542 112h3M532 112h1M685 112h1M488 112h1M400 112h1M471 112h1M604 112h1M534 112h1M667 112h1M390 112h2M502 112h1M638 112h1M473 112h1M547 112h2M456 112h1M553 112h1M652 112h1M103 112h1M423 112h1M500 112h1M564 112h1M110 112h2M395 112h1M415 112h1M106 112h1M463 112h1M562 112h1M446 112h1M566 113h1M653 113h1M407 113h1M414 113h2M565 114h1M486 114h1M585 114h1M609 114h1M118 114h1M108 114h1M407 114h2M386 114h1M663 114h2M136 114h1M440 114h1M607 114h1M414 114h1M89 114h1M696 118h2M109 118h1"/>
<path stroke="#0800fb" d="M623 79h1M626 79h1M630 80h1M632 81h1M654 81h1M644 82h1M581 82h1M600 82h2M588 83h1M628 83h1M526 83h1M611 83h1M633 84h1M527 85h1M489 85h1M524 85h1M646 86h1M587 86h1M608 86h1M627 86h1M680 86h1M99 86h1M620 86h1M495 86h1M592 86h1M483 86h2M671 86h1M107 86h1M625 86h1M694 88h1M539 110h1M686 111h1M538 111h2M610 111h1M453 112h1M584 112h1M409 112h1M701 112h1M412 112h1M661 112h1M387 112h1M583 113h2M604 113h1M409 113h2M652 113h1M497 114h1M652 114h2M410 114h1M657 114h1M477 114h2M670 114h1M681 114h1M415 114h1M583 114h1M566 114h1M585 115h1M408 115h1M607 115h1M663 115h1"/>
<path stroke="#0014ff" d="M494 80h1M629 80h1M654 82h1M600 83h2M644 83h1M581 83h1M526 84h1M628 84h1M611 84h1M588 84h1M633 85h1M618 85h1M570 85h1M673 86h1M527 86h1M673 88h1M593 105h2M602 111h1M575 111h1M645 111h1M496 112h1M399 112h1M568 112h2M119 112h1M700 112h1M102 112h1M686 112h1M538 112h1M98 112h1M453 113h1M701 113h1M569 113h1M412 113h1M387 113h1M677 114h1M584 114h1M604 114h1M675 114h1M658 114h1M578 114h1M525 114h1M409 114h1M528 114h1M466 114h1M692 114h2M619 114h1M614 114h1M565 115h2M653 115h1M664 115h1M407 115h1M407 116h2M576 118h1M599 118h1M647 118h1"/>
<path stroke="#0030ff" d="M631 78h1M623 80h1M626 80h1M630 81h1M494 81h1M632 82h1M660 82h1M654 83h1M600 84h2M644 84h1M581 84h1M628 85h1M633 86h1M489 86h1M524 86h1M694 92h1M694 94h1M690 97h1M695 111h1M577 111h1M682 111h1M637 111h1M487 111h1M567 111h1M411 112h1M397 112h1M669 112h1M539 112h1M643 112h1M101 112h1M479 112h1M691 112h1M490 112h1M606 112h1M666 112h1M127 112h1M686 113h1M568 113h1M700 113h1M538 113h2M516 114h1M499 114h1M94 114h1M465 114h1M536 114h1M520 114h1M491 114h1M688 114h1M412 114h1M387 114h1M123 114h1M700 114h2M563 114h1M431 114h1M396 114h1M447 114h2M546 114h1M651 114h1M379 114h1M112 114h1M96 114h1M116 114h1M540 114h2M126 114h1M470 114h1M639 114h1M558 114h1M462 114h1M453 114h1M91 114h1M568 114h2M500 115h1M564 115h1M400 115h1M471 115h1M463 115h1M562 115h1M534 115h1M446 115h1M390 115h2M502 115h1M559 115h2M547 115h2M553 115h1M652 115h1M636 115h1M103 115h1M451 115h1M423 115h1M128 115h2M110 115h2M395 115h1M443 115h1M106 115h1M512 115h1M117 115h1M449 115h1M403 115h2M419 115h3M437 115h2M458 115h4M517 115h2M542 115h3M441 115h1M132 115h1M521 115h1M433 115h1M557 115h1M532 115h1M509 115h2M388 115h1M435 115h1M523 115h1M507 115h1M114 115h2M410 115h1M530 115h1M638 115h1M125 115h1M473 115h1M456 115h1M652 116h2M486 118h1M609 118h1"/>
<path stroke="#004cff" d="M629 81h1M630 82h1M494 82h1M660 83h1M632 83h1M654 84h1M581 85h1M600 85h2M644 85h1M628 86h1M689 91h1M689 93h1M694 95h1M694 97h1M88 111h1M699 111h1M668 112h1M640 112h2M698 112h1M687 112h1M656 112h1M426 112h1M674 112h1M133 112h1M621 112h1M482 112h1M406 112h1M579 112h1M643 113h1M522 114h1M615 114h3M610 114h1M538 114h2M648 114h1M686 114h1M590 114h1M409 115h1M661 115h1M583 117h2M670 118h1M681 118h1M583 118h1M657 118h1M410 118h1"/>
<path stroke="#0068ff" d="M631 79h1M626 81h1M623 81h1M660 84h1M632 84h1M654 85h1M600 86h2M588 86h1M644 86h1M581 86h1M526 86h1M593 112h1M603 112h1M655 112h1M605 112h1M580 112h1M574 112h1M674 113h1M426 113h1M645 114h1M602 114h1M643 114h1M575 114h1M569 117h1M619 118h1M675 118h1M658 118h1M578 118h1M614 118h1M677 118h1M584 118h1M525 118h1M409 118h1M528 118h1M466 118h1M692 118h2"/>
<path stroke="#0089ff" d="M629 82h1M630 83h1M494 83h1M654 86h1M595 111h1M622 111h1M481 112h1M624 112h1M596 112h1M676 112h1M571 112h1M485 112h1M659 112h1M642 112h1M594 112h1M634 112h1M655 113h1M605 113h1M580 113h1M574 113h1M593 113h1M637 114h1M492 114h2M487 114h1M567 114h1M672 114h1M586 114h1M674 114h1M613 114h1M695 114h1M598 114h1M426 114h1M577 114h1M682 114h1M479 115h1M411 115h1M568 117h1M96 118h1M538 118h1M116 118h1M540 118h2M470 118h1M462 118h1M91 118h1M568 118h2M516 118h1M499 118h1M431 118h1M465 118h1M112 118h1M536 118h1M520 118h1M688 118h1M123 118h1M563 118h1M396 118h1M447 118h2M546 118h1M126 118h1M379 118h1"/>
<path stroke="#00abff" d="M626 82h1M623 82h1M630 84h1M494 84h1M660 85h1M632 85h1M527 111h1M673 111h1M608 111h1M689 111h1M612 112h1M622 112h1M635 112h1M690 112h1M484 112h1M595 112h1M485 113h1M594 113h1M481 113h1M605 114h1M580 114h1M88 114h1M591 114h1M574 114h1M655 114h1M699 114h1M593 114h2M426 115h1M648 118h1M590 118h1M539 118h1M522 118h1M615 118h3"/>
<path stroke="#00ceff" d="M631 80h1M629 83h1M494 85h1M632 86h1M660 86h1M483 112h1M608 112h1M673 112h1M689 112h1M622 113h1M483 113h2M595 113h1M612 113h1M485 114h1M573 114h1M481 114h1M605 115h1M580 115h1M574 115h1M593 115h1M603 115h1M655 115h1M697 119h1M695 122h1M697 122h1"/>
<path stroke="#00f0ff" d="M626 83h1M623 83h1M630 85h1M680 112h1M618 112h1M570 112h1M694 112h1M673 113h1M608 113h1M689 113h1M620 114h1M592 114h1M671 114h1M495 114h1M107 114h1M483 114h2M595 114h1M646 114h1M612 114h1M99 114h1M587 114h1M622 114h1M625 114h1M627 114h1M485 115h1M594 115h1M481 115h1M624 115h1M593 118h1M492 118h2M672 118h1M598 118h1M586 118h1M613 118h1M695 119h2M696 122h1"/>
<path stroke="#00fff1" d="M630 86h1M494 86h1M600 111h2M581 111h1M633 112h1M611 112h1M618 113h1M694 113h1M570 113h1M680 113h1M673 114h1M689 114h1M527 114h1M608 114h1M484 115h1M612 115h1M635 115h1M690 115h1M634 118h1M596 118h1M659 118h1M591 118h1M594 118h1M692 119h1M124 119h1M108 119h1M488 120h1M118 120h1M120 121h3M488 122h1M118 122h1M482 122h1M124 122h1M87 122h1"/>
<path stroke="#00ffda" d="M631 81h1M626 84h1M623 84h1M629 84h1M611 113h1M524 114h1M570 114h1M694 114h1M680 114h1M489 114h1M618 114h1M483 115h1M573 118h1M484 118h1M488 119h1M481 119h2M118 119h1M691 119h1M118 121h1M487 121h2M120 122h3M486 122h1M481 122h1M490 122h1"/>
<path stroke="#00ffc2" d="M588 112h1M526 112h1M644 112h1M628 114h1M611 114h1M587 118h1M625 118h1M483 118h1M620 118h1M592 118h1M671 118h1M495 118h1M107 118h1M646 118h1M491 122h1M489 122h1M487 122h1"/>
<path stroke="#00ffaa" d="M631 82h1M626 85h1M623 85h1M629 85h1M654 112h1M581 114h1M600 114h2M611 115h1M493 119h1M492 120h1"/>
<path stroke="#00ff92" d="M485 119h1M492 119h1M493 120h1M565 120h1"/>
<path stroke="#00ff72" d="M629 86h1M626 86h1M623 86h1M660 112h1M632 112h1M588 115h1M526 115h1M628 118h1M565 119h1"/>
<path stroke="#00ff52" d="M631 83h1M660 113h1M632 113h1M654 115h1M644 118h1M494 122h1"/>
<path stroke="#00ff31" d="M494 112h1M632 114h1M660 114h1M689 120h1"/>
<path stroke="#00ff10" d="M631 84h1M630 112h1M689 119h1M684 120h1M576 121h1M689 122h1"/>
<path stroke="#0dff00" d="M684 119h1M576 119h1M678 119h2M675 119h1M589 119h1M683 120h1M576 122h1M572 122h1M589 122h1"/>
<path stroke="#26ff00" d="M650 119h1M582 119h1M567 119h1M590 119h1M677 119h1M599 119h1M589 120h1M572 120h1M650 121h1M584 121h1M681 121h2M689 121h1M590 121h1M675 121h1M647 121h1M599 121h1M683 122h1M685 122h1"/>
<path stroke="#3fff00" d="M631 85h1M494 118h1M670 119h1M683 119h1M607 119h1M566 119h1M681 119h1M663 119h1M572 119h1M649 119h1M657 119h2M567 120h1M661 120h3M576 120h1M636 120h1M585 120h1M675 120h1M688 120h1M679 120h1M677 120h1M685 120h1M582 121h1M577 121h1M661 121h1M572 121h1M657 121h1M588 121h1M609 121h1M665 121h1M684 122h1M583 122h1M607 122h1M566 122h1M681 122h1M673 122h1M568 122h1M675 122h1M614 122h1M678 122h1M664 122h2M649 122h1"/>
<path stroke="#59ff00" d="M629 111h1M630 118h1M664 119h1M591 119h1M648 119h1M619 119h1M660 119h1M671 119h1M609 119h2M593 119h1M636 119h1M652 119h1M682 119h1M588 119h1M647 120h1M673 120h1M678 120h1M681 120h1M669 120h1M653 120h1M607 120h1M658 121h1M684 121h2M581 121h1M589 121h1M574 121h1M666 121h1M637 121h2M648 121h2M579 122h1M638 122h1M659 122h3M650 122h1M686 122h1M677 122h1M594 122h1M610 122h1M582 122h1M648 122h1M663 122h1"/>
<path stroke="#72ff00" d="M631 86h1M626 112h1M623 112h1M685 119h1M583 119h1M655 119h1M604 119h1M673 119h1M585 119h1M661 119h2M568 119h1M638 119h1M598 119h1M578 119h1M665 119h1M665 120h2M686 120h2M670 120h1M582 120h2M674 120h1M682 120h1M627 120h1M615 120h1M569 120h3M577 120h2M619 120h1M575 121h1M585 121h2M624 121h1M583 121h1M596 121h1M683 121h1M673 121h1M677 121h2M629 121h1M688 121h1M651 121h1M621 121h1M571 122h1M567 122h1M641 122h1M617 122h1M592 122h2M580 122h1M584 122h2M574 122h2M668 122h1M577 122h2M670 122h1M590 122h1"/>
<path stroke="#8cff00" d="M577 119h1M674 119h1M633 119h1M570 119h1M666 119h1M656 119h1M626 119h1M672 119h1M596 119h1M643 119h1M628 119h1M676 119h1M586 119h1M581 120h1M614 120h1M599 120h1M590 120h1M608 120h3M637 120h2M566 120h1M650 120h2M641 120h1M587 121h1M646 121h1M616 121h1M566 121h2M663 121h2M606 121h1M659 121h1M672 121h1M670 121h1M578 121h2M628 121h1M604 122h1M588 122h1M639 122h2M647 122h1M674 122h1M633 122h1M598 122h3M657 122h1M627 122h1M609 122h1M680 122h1M621 122h1M671 122h2M652 122h1M611 122h1M636 122h1M682 122h1M586 122h1"/>
<path stroke="#a2ff00" d="M629 114h1M571 119h1M574 119h1M635 119h1M579 119h3M587 119h1M605 119h2M623 119h1M647 119h1M602 119h1M686 119h3M608 119h1M667 119h1M651 119h1M601 120h1M649 120h1M630 120h1M680 120h1M664 120h1M588 120h1M573 120h2M658 120h1M592 120h1M607 121h2M687 121h1M639 121h1M611 121h1M669 121h1M570 121h1M674 121h1M619 121h1M581 122h1M595 122h2M635 122h1M613 122h1M646 122h1M616 122h1M632 122h1M688 122h1M658 122h1M608 122h1M654 122h1M651 122h1"/>
<path stroke="#b8ff00" d="M594 119h1M653 119h1M629 119h1M614 119h1M637 119h1M612 119h1M569 119h1M669 119h1M596 120h1M602 120h1M616 120h1M657 120h1M586 120h2M579 120h1M591 120h1M604 120h3M613 120h1M593 120h1M595 121h1M618 121h1M614 121h1M627 121h1M686 121h1M668 121h1M640 121h2M592 121h1M635 121h2M603 121h3M680 121h1M571 121h1M610 121h1M625 121h1M631 121h1M623 122h3M629 122h1M666 122h1M601 122h1M591 122h1M655 122h1M669 122h1"/>
<path stroke="#ceff00" d="M626 118h1M623 118h1M654 119h1M627 119h1M592 119h1M573 119h1M625 119h1M595 119h1M615 119h1M648 120h1M672 120h1M618 120h1M634 120h2M611 120h2M655 120h2M591 121h1M620 121h1M613 121h1M600 121h2M593 121h1M632 121h1M619 122h1M637 122h1M687 122h1M612 122h1M634 122h1M676 122h1M587 122h1"/>
<path stroke="#e4ff00" d="M641 119h1M613 119h1M611 119h1M622 119h1M620 119h1M601 119h1M680 119h1M616 119h2M630 119h1M625 120h1M640 120h1M621 120h1M655 121h1M630 121h1M605 122h2M570 122h1"/>
<path stroke="#faff00" d="M621 119h1M640 119h1M618 119h1M624 119h1M634 119h1M629 120h1M623 120h2M595 120h1M612 121h1M623 121h1M634 121h1M622 122h1M628 122h1M631 122h1M603 122h1M618 122h1"/>
<path stroke="#fff100" d="M644 119h1M628 120h1M622 121h1M644 122h1M630 122h1M620 122h1"/>
<path stroke="#ffdf00" d="M622 120h1M620 120h1"/>
<path stroke="#ffce00" d="M631 112h1"/></g><g fill="none" transform="translate(.5 0)"><path stroke="#000000" d="M93 37v2M133 38v3M671 38v3M99 39v2M616 39v2M628 39v3M128 40v2M95 41v3M626 41v3M595 41v3M542 42v2M624 42v2M671 42v3M631 42v3M611 42v3M493 43v2M592 43v3M698 43v3M488 43v3M564 43v3M574 41v6M642 44v3M625 44v3M630 45v2M495 45v2M524 45v3M484 46v2M490 46v2M487 46v2M646 46v2M437 43v6M107 46v3M104 46v3M465 46v3M449 47v2M611 46v4M601 47v3M443 47v3M699 47v3M496 48v2M489 48v2M562 48v2M100 44v7M639 48v3M618 48v3M644 49v2M632 49v2M136 49v2M626 49v2M524 49v2M127 49v3M446 49v3M656 49v3M106 49v3M104 50v2M571 48v5M379 50v3M131 50v3M523 51v2M563 51v2M596 48v6M484 50v4M520 51v3M641 52v2M639 52v2M633 52v2M644 52v3M613 52v3M646 53v2M130 53v2M584 53v2M105 53v2M449 50v6M465 52v4M603 53v3M502 53v3M574 53v3M648 54v2M660 54v2M133 54v2M606 54v2M128 54v2M699 54v2M387 54v2M671 53v4M628 53v4M632 54v3M389 54v3M509 54v3M579 53v5M530 55v3M486 55v3M647 56v2M119 56v2M625 55v4M446 56v3M131 57v2M605 57v2M110 56v4M616 57v3M614 57v3M621 57v3M590 57v3M638 58v2M674 58v2M539 58v2M487 58v2M586 57v4M645 57v4M641 57v4M602 58v3M545 59v2M599 59v2M453 59v2M491 59v2M559 58v4M593 59v3M627 59v3M521 59v3M660 60v2M412 60v2M577 60v2M656 60v2M620 60v2M583 58v5M532 59v4M479 60v3M647 60v3M654 60v3M567 60v3M526 60v3M701 61v2M633 61v2M617 61v2M651 61v2M496 61v2M639 61v2M686 36v28M502 61v3M493 61v3M573 61v3M592 62v2M643 62v2M544 62v2M506 62v2M481 61v4M135 61v4M614 62v3M666 62v3M131 62v4M586 63v3M431 63v3M700 63v3M509 63v3M570 64v2M410 59v8M379 63v4M604 64v3M636 64v3M525 64v3M419 64v3M677 64v3M389 64v3M670 64v3M125 65v2M673 65v2M606 65v2M582 65v2M488 65v2M461 65v3M682 65v3M629 65v3M479 65v3M614 66v2M668 66v2M423 64v5M491 64v5M120 66v3M425 66v3M455 66v3M593 67v2M443 67v2M686 65v5M639 65v5M498 67v3M130 67v3M453 67v3M571 67v3M610 68v2M676 68v2M519 68v2M412 68v3M563 68v3M546 68v3M587 69v2M410 69v2M666 69v2M548 67v5M523 68v4M619 68v4M567 69v3M565 69v3M683 70v2M404 70v2M433 70v2M560 70v2M502 70v2M680 70v2M399 70v2M581 68v5M544 68v5M664 69v4M585 69v4M656 69v4M573 69v4M599 70v3M510 71v2M474 71v2M674 69v5M498 71v3M120 72v2M692 72v2M578 72v2M466 72v2M689 72v2M116 70v5M676 72v3M402 72v3M423 72v3M700 72v3M530 73v2M686 73v2M526 73v2M110 70v6M400 72v4M541 72v4M476 73v3M463 73v3M661 73v3M680 73v3M546 73v3M569 73v3M514 73v3M468 74v2M431 74v2M539 74v2M673 74v2M416 74v2M472 74v2M409 74v2M454 72v5M582 73v4M511 74v3M544 74v3M121 75v2M693 75v2M405 75v2M456 75v2M589 75v2M386 75v2M531 75v2M470 69v9M551 76v2M452 76v2M554 76v2M413 76v3M479 76v3M678 76v3M690 76v3M441 77v2M572 77v2M661 77v2M578 77v2M388 77v2M415 77v2M448 77v2M695 75v5M501 76v4M667 76v4M468 77v3M400 77v3M411 77v3M113 77v3M673 77v3M123 77v3M514 77v3M510 78v2M538 78v2M560 78v2M680 78v2M409 77v4M529 78v3M498 78v3M549 79v2M519 79v2M478 79v2M425 77v5M590 78v4M576 79v3M686 79v3M436 79v3M431 80v2M433 80v2M561 80v2M565 80v2M386 79v4M531 80v3M676 81v2M684 81v2M411 81v2M528 81v2M456 81v2M109 81v2M552 81v2M547 76v8M533 78v6M395 79v5M545 82v2M123 82v2M508 82v2M537 82v2M383 83v2M415 83v2M515 83v2M439 83v2M543 83v3M551 83v3M460 83v3M430 83v3M471 84v2M391 84v2M475 84v2M531 84v2M380 84v2M701 82v5M120 83v4M477 84v3M561 84v3M428 84v3M124 85v2M394 85v2M396 85v2M111 84v4M422 84v4M694 84v4M454 85v3M511 85v3M413 86v2M406 86v2M408 86v2M552 86v2M468 83v6M424 85v4M681 86v3M109 86v3M417 87v2M385 87v2M466 87v2M444 83v7M528 87v3M452 87v3M460 87v3M474 87v3M398 87v3M430 88v2M457 88v2M120 88v2M513 87v4M450 87v4M118 88v3M113 88v3M432 88v3M404 88v3M478 88v3M439 89v2M442 81v11M401 89v3M393 89v3M124 90v2M111 90v2M382 90v3M696 90v3M691 91v3M118 92v2M429 92v2M413 91v4M436 90v6M693 95v2M696 94v4M405 95v4M384 96v3"/>
<path stroke="#18001c" d="M89 41v3M96 43v2M95 45v2M90 47v2M87 47v2M101 48v2M90 50v3M97 50v7M93 54v3M127 58v2M644 61v2M624 63v2M496 63v2M615 64v2M648 64v2M625 65v2M524 63v5M620 66v2M643 66v4M131 68v3M486 69v2M607 70v2M647 70v3M491 70v3M488 71v2M627 71v2M655 70v4M636 72v2M497 73v2M583 73v3M607 73v3M104 73v3M587 74v2M426 74v2M491 75v2M619 74v4M525 74v4M130 76v3M609 76v3M643 76v3M604 77v2M658 77v2M614 72v8M488 74v6M638 75v5M636 76v4M523 77v3M486 76v5M105 77v4M647 76v6M607 77v5M599 77v5M530 79v3M660 80v2M441 80v2M523 81v2M447 81v2M653 81v2M500 81v2M575 81v2M516 82v2M425 82v3M514 83v2M544 83v2M661 84v2M553 84v3M538 84v3M440 85v2M510 84v4M403 86v2M504 86v2M560 86v2M378 87v2M539 87v2M409 87v2M428 87v2M576 87v3M572 87v3M434 87v3M108 87v3M551 88v2M676 88v2M456 88v2M561 88v3M701 89v2M547 89v2M431 89v2M97 77v15M112 90v2M536 90v2M391 90v2M381 90v3M472 91v2M515 91v3M690 92v2M476 92v2M683 92v2M109 92v2M418 92v3M455 93v2M380 93v2M444 93v2M93 83v13M115 93v3M90 78v19M135 83v14M111 95v2M537 95v2M124 95v2M686 96v2M554 97v2M444 96v4M454 97v3M679 98v2M439 98v2M675 99v2M394 100v2M121 100v2M693 100v3M385 100v3M436 101v2M105 82v22M498 84v20M531 88v16M545 89v15M508 92v12M424 93v11M468 95v9M450 95v9M442 96v8M513 97v7M457 98v6M474 99v5M432 99v5M429 99v5M554 100v4M401 101v3M405 105v3M695 106v3"/>
<path stroke="#24002a" d="M89 47v2M95 47v5M100 56v2M488 68v2M524 68v5M615 70v4M619 72v2M89 50v26M98 50v26M95 53v23M100 60v16M136 66v10M624 66v10M621 69v7M496 70v6M648 70v6M608 73v3M482 73v3M487 74v2M87 51v27M638 80v2M488 80v2M636 80v2M609 81v2M486 81v2M647 82v2M599 82v2M607 82v2M498 82v2M134 83v3M92 83v3M649 85v2M582 85v2M545 87v2M508 90v2M468 91v2M554 93v2M474 92v4M442 93v3M432 94v2M513 95v2M97 92v7M401 98v2M385 98v2M665 95v6M475 99v2M93 96v6M398 100v2M537 100v2M684 96v8M90 97v7M135 97v7M455 100v4M385 104v2M436 103v5M105 104v4M531 104v4M554 104v4M432 104v4M457 104v4M468 104v4M424 104v4M450 104v4M401 104v4M442 104v4M393 104v4M513 104v4M498 104v4M474 104v4M508 104v4M429 104v4M545 104v4"/>
<path stroke="#30003d" d="M91 36v3M623 36v3M98 37v2M645 37v3M596 39v3M127 39v3M100 40v4M495 43v2M98 42v4M135 44v2M489 44v3M659 45v2M564 46v2M106 47v2M644 47v2M494 47v3M579 49v2M646 48v4M671 50v2M522 50v3M612 50v3M485 51v2M607 52v2M499 52v3M100 53v2M525 54v2M488 56v3M599 56v3M624 57v2M606 57v2M601 55v5M619 58v2M639 58v2M595 58v2M136 58v2M650 58v3M497 56v6M445 59v3M592 59v3M486 60v3M624 61v2M632 61v2M125 61v2M621 62v2M523 62v2M136 62v2M610 60v5M566 62v3M440 62v3M388 62v3M134 62v3M653 63v2M540 62v4M660 63v3M605 63v3M518 64v2M520 64v3M130 65v2M607 65v2M621 65v3M434 65v3M699 66v2M502 66v2M637 63v6M565 67v2M683 67v2M125 67v2M550 67v2M584 63v7M482 67v3M582 68v2M572 68v2M521 68v2M104 67v4M508 68v3M569 68v3M391 69v2M447 69v2M501 69v2M490 69v2M553 69v3M487 69v3M389 70v2M608 70v2M395 70v2M123 70v2M406 70v2M472 70v2M497 70v3M444 70v3M519 71v2M527 72v2M441 72v2M629 70v5M453 72v3M500 72v3M389 73v2M477 73v2M491 73v2M604 73v2M557 73v2M667 73v2M627 73v2M378 73v3M584 73v3M670 73v3M572 74v2M424 74v2M446 74v2M563 74v2M658 73v4M422 74v3M590 75v2M117 75v2M639 73v5M526 76v2M98 76v2M569 76v2M457 76v2M541 76v2M648 76v2M700 76v3M664 76v3M546 76v3M466 77v2M378 77v2M657 77v2M480 72v8M528 77v3M518 77v3M539 77v3M108 77v3M553 78v2M497 78v2M416 78v2M427 78v2M100 76v5M95 76v5M683 78v3M557 78v3M453 79v2M582 79v2M500 79v2M572 79v2M424 79v2M469 76v6M136 76v6M89 76v6M117 78v4M701 79v3M578 79v3M396 79v3M619 81v2M677 81v2M553 81v2M525 81v2M461 81v2M501 81v2M455 81v2M614 81v2M480 81v3M464 82v2M421 82v2M555 83v2M459 83v2M486 83v2M451 83v2M528 83v2M609 83v2M467 83v2M389 84v2M552 84v2M693 84v2M607 84v2M381 84v2M123 84v2M501 84v3M647 84v3M599 84v3M401 85v2M650 85v2M537 86v2M535 86v2M556 86v2M439 87v2M386 87v3M665 88v2M111 88v2M555 89v2M514 89v2M429 89v3M444 90v2M104 78v15M87 78v15M480 85v8M134 86v7M92 86v7M389 87v6M501 88v5M529 90v3M383 90v3M679 91v2M554 91v2M393 92v2M684 92v2M582 87v8M649 88v7M417 93v2M683 94v2M429 94v3M475 95v2M398 96v2M436 97v2M455 97v2M695 95v5M109 99v2M683 97v6M384 101v2M97 99v6M405 103v2M665 101v5M475 101v5M93 102v5M537 102v5M398 102v5M135 104v4M90 104v4M684 104v4M455 104v4M450 108v4M531 108v4M424 108v4M405 108v4M401 108v4M442 108v4M393 108v4M513 108v4M498 108v4M436 108v4M474 108v4M554 108v4M508 108v4M432 108v4M457 108v4M429 108v4M468 108v4M545 108v4M105 108v4"/>
<path stroke="#3a0056" d="M94 41v4M132 43v5M568 44v4M600 45v4M558 45v4M635 48v2M580 47v4M564 49v4M437 49v4M611 50v3M107 51v3M562 52v3M596 54v3M623 56v2M128 56v3M449 57v3M671 57v3M594 58v2M106 58v3M574 58v3M483 59v2M625 59v2M579 59v3M119 59v3M645 61v2M129 61v2M641 61v2M133 61v3M532 63v2M542 63v3M620 64v2M634 64v2M559 66v2M509 66v2M125 69v2M410 71v2M443 73v2M521 75v2M627 76v2M482 77v2M522 77v2M621 77v2M637 77v2M487 77v2M610 77v2M496 78v2M648 78v2M98 78v2M639 78v2M597 79v2M604 79v3M583 80v2M497 80v3M657 81v2M108 81v2M95 81v4M100 81v4M597 82v3M636 83v2M638 83v2M523 83v2M488 83v2M585 81v6M136 82v5M486 85v2M609 85v2M505 85v2M89 82v6M472 86v2M519 86v3M607 86v4M427 87v3M585 88v2M469 87v4M515 88v3M552 88v3M464 89v2M378 89v3M535 90v2M402 91v3M392 92v2M511 92v2M475 92v2M647 87v8M599 87v8M650 88v7M576 90v5M561 91v4M120 92v3M124 93v2M537 93v2M398 92v4M430 93v3M535 94v2M555 94v2M572 92v5M452 94v3M402 95v2M422 95v2M434 92v7M92 93v6M472 93v6M480 93v6M519 93v6M501 93v6M389 93v6M104 93v6M134 93v6M87 93v6M529 93v6M469 94v5M552 94v5M378 94v5M464 95v4M467 95v4M445 96v3M561 96v3M476 97v2M582 95v7M678 96v6M649 97v5M109 101v5M683 103v4M97 105v4M665 106v4M475 106v4M93 107v3M537 107v3M398 107v3M135 108v3M90 108v3M684 108v3M455 108v3"/>
<path stroke="#45006f" d="M88 38v2M96 40v3M91 43v3M94 45v4M132 48v2M484 55v2M499 55v3M600 49v11M465 57v3M611 53v8M107 54v7M580 51v11M671 60v2M128 61v2M625 62v2M132 60v5M635 60v6M626 64v3M558 49v19M596 57v11M630 66v2M132 66v2M641 64v5M654 67v2M99 47v23M568 48v22M91 48v22M94 50v20M564 53v17M437 53v17M562 55v15M449 60v10M574 61v9M107 62v8M119 62v8M623 63v7M483 63v7M485 64v6M628 64v6M397 67v3M601 68v2M532 65v6M542 66v5M493 67v4M620 68v4M630 70v2M598 70v3M633 71v2M509 68v6M559 70v4M125 71v3M698 72v2M593 73v3M410 73v3M655 74v2M669 74v3M443 75v2M125 75v2M563 76v2M575 77v2M548 75v5M412 77v3M379 78v2M516 78v2M496 80v2M651 80v2M98 80v2M610 80v2M639 80v3M491 81v2M658 81v2M589 82v2M576 82v2M441 82v2M667 82v2M507 82v3M604 82v3M670 83v2M435 83v3M560 84v2M619 84v2M525 84v2M583 84v2M390 84v2M657 84v2M388 84v2M614 84v2M497 83v4M572 83v4M488 85v2M576 85v2M557 85v2M547 84v4M400 85v3M440 87v2M653 86v4M664 87v3M391 88v2M543 88v2M460 90v2M467 91v2M404 91v2M100 85v9M589 85v9M95 85v9M597 87v7M425 87v7M428 91v3M486 87v8M609 87v8M136 87v9M113 94v2M394 94v2M89 88v9M565 91v6M108 92v5M440 94v3M607 90v8M585 90v8M663 96v2M413 97v2M576 95v6M599 95v6M647 95v6M113 99v2M650 97v5M120 99v3M122 100v2M572 97v6M383 98v6M92 99v6M480 99v6M464 99v6M552 99v6M535 99v6M402 99v6M422 99v6M519 99v6M511 99v6M467 99v6M529 99v6M501 99v6M389 99v6M469 99v6M104 99v6M452 99v6M476 99v6M134 99v6M87 99v6M434 99v6M472 99v6M561 99v6M454 100v5M378 100v5M439 101v4M392 101v4M430 101v4M418 101v4M113 102v3M124 102v3M394 103v2M582 102v5M649 103v4M678 103v4M109 106v4M697 108v2M683 107v4M97 109v3M665 110v2M93 110v2M475 110v2M398 110v2M537 110v2"/>
<path stroke="#500089" d="M99 41v6M96 45v2M132 50v10M635 50v10M618 53v7M499 58v4M646 55v8M465 60v3M631 60v3M628 58v6M626 58v6M485 60v4M494 65v3M640 61v8M106 62v8M592 65v7M654 70v2M635 70v2M492 60v13M397 70v3M600 60v14M558 70v4M632 72v2M699 72v2M594 68v8M623 70v6M574 70v6M630 72v4M592 73v3M656 73v3M571 74v2M611 61v16M671 62v15M596 68v9M483 70v7M668 70v7M99 70v7M495 70v7M485 70v7M628 70v7M481 73v4M620 73v4M586 67v11M613 72v6M602 76v2M426 76v2M659 76v2M656 77v2M591 77v2M119 70v10M568 70v10M520 78v2M94 70v11M449 70v11M91 70v11M577 79v2M575 79v2M624 79v2M446 77v5M516 80v2M482 80v2M637 80v2M621 80v2M487 80v2M379 80v2M542 71v12M387 76v7M700 79v4M412 80v3M490 81v2M661 81v2M648 81v2M399 82v2M496 82v2M98 82v2M639 83v2M651 83v2M491 83v2M658 84v2M584 84v2M441 84v3M536 85v2M532 71v17M509 74v14M548 80v8M559 81v7M604 85v3M388 86v2M507 86v2M473 87v2M123 87v2M652 86v4M117 87v3M112 87v3M435 88v2M542 84v7M544 86v5M421 88v3M433 88v3M548 89v2M564 70v22M562 70v22M437 70v22M502 72v20M410 76v16M423 77v15M125 77v15M443 77v15M106 77v15M132 78v14M110 80v12M103 80v12M521 83v9M446 83v9M449 84v8M461 84v8M530 85v7M636 86v6M638 86v6M523 86v6M390 87v5M463 88v4M441 88v4M532 89v3M500 90v2M553 90v2M509 90v2M507 90v2M473 90v2M114 85v8M488 87v6M583 87v6M667 88v5M403 89v4M662 90v3M400 91v2M451 91v2M471 90v4M543 92v2M657 87v8M670 87v8M395 91v4M414 93v2M404 93v2M460 93v2M111 93v2M497 87v9M407 88v8M386 94v2M438 94v2M566 90v7M551 95v2M118 95v2M653 93v5M664 96v2M414 96v3M597 94v6M95 94v6M425 94v6M589 94v6M533 94v6M100 94v6M609 95v6M486 95v6M679 100v2M136 96v7M386 97v6M440 97v6M89 97v6M108 97v6M565 98v5M118 100v3M607 98v6M585 98v6M408 100v4M696 102v2M599 101v5M576 101v5M647 101v5M650 103v4M679 103v4M572 103v5M383 105v4M113 105v4M394 105v4M430 105v4M422 105v4M519 105v4M389 105v4M104 105v4M511 105v4M467 105v4M378 105v4M529 105v4M501 105v4M413 105v4M124 105v4M469 105v4M452 105v4M92 105v4M476 105v4M134 105v4M87 105v4M552 105v4M418 105v4M535 105v4M454 105v4M402 105v4M434 105v4M472 105v4M561 105v4M439 105v4M480 105v4M392 105v4M464 105v4M582 107v3M678 108v2M696 108v2M649 108v2M109 110v2"/>
<path stroke="#5a00a1" d="M618 60v16M622 62v14M642 62v14M484 63v13M631 64v12M644 64v12M612 67v9M595 68v8M494 71v5M654 72v4M88 43v34M101 55v23M397 73v5M603 76v2M485 77v2M596 77v2M481 77v2M613 78v2M598 78v2M586 78v2M668 78v3M698 78v3M645 78v3M602 78v3M133 78v3M96 48v34M499 62v20M465 63v19M126 78v4M606 80v2M520 81v2M621 82v2M482 82v2M540 82v2M119 80v5M102 80v5M490 83v2M648 83v2M610 83v2M447 83v2M522 83v2M91 81v5M379 83v3M700 83v3M412 83v3M399 84v2M496 84v2M98 84v2M541 84v2M94 81v6M558 81v6M651 85v2M491 85v2M639 85v2M578 85v2M462 86v2M387 83v6M578 88v2M453 88v3M661 88v3M681 89v2M396 88v4M688 89v3M584 87v6M658 87v7M619 87v7M525 87v7M614 87v7M701 91v3M517 92v2M390 92v2M544 92v2M542 92v2M461 92v3M437 92v4M403 93v3M114 93v3M408 93v3M604 88v9M110 92v5M681 93v4M395 95v2M463 92v6M562 92v6M446 92v6M502 92v6M449 92v6M441 92v6M132 92v6M636 92v6M521 92v6M557 92v6M388 92v6M435 92v6M443 92v6M106 92v6M523 92v6M530 92v6M125 92v6M532 92v6M507 92v6M638 92v6M473 92v6M103 92v6M423 92v6M500 92v6M564 92v6M410 93v5M553 93v5M652 93v5M451 94v4M117 94v4M433 94v4M400 94v4M471 94v4M534 95v3M512 95v3M456 96v2M667 93v6M662 93v6M685 93v6M488 93v6M583 94v5M415 97v2M696 98v2M438 98v2M670 95v6M657 95v6M681 98v3M497 96v6M566 98v5M653 99v5M407 100v4M425 100v6M533 100v6M100 100v6M589 100v6M597 100v6M95 100v6M486 101v5M609 101v5M414 102v4M136 104v3M89 103v5M108 103v5M118 103v5M386 103v5M440 103v5M565 104v4M585 104v4M607 104v4M408 106v2M599 106v4M647 106v4M576 106v4M679 108v2M650 108v2M572 108v3M430 109v3M519 109v3M378 109v3M501 109v3M413 109v3M389 109v3M469 109v3M104 109v3M452 109v3M476 109v3M134 109v3M87 109v3M418 109v3M467 109v3M529 109v3M434 109v3M124 109v3M472 109v3M561 109v3M92 109v3M464 109v3M552 109v3M535 109v3M383 109v3M454 109v3M394 109v3M402 109v3M422 109v3M439 109v3M480 109v3M392 109v3M511 109v3M113 109v3M582 110v2M398 112v2M537 112v2M475 112v2M665 112v2M93 112v2"/>
<path stroke="#5300b1" d="M595 76v2M618 76v2M484 76v2M622 76v2M612 76v2M642 76v3M88 77v2M671 78v2M107 78v2M625 78v2M483 78v2M646 78v2M99 78v2M620 78v2M495 78v2M592 78v2M603 78v2M699 78v2M481 79v2M485 79v2M659 79v2M596 79v2M127 78v4M586 80v2M598 80v2M574 80v2M605 80v2M613 80v2M698 81v2M133 81v2M672 81v2M645 81v3M602 81v3M577 82v2M674 82v2M590 82v2M101 78v7M397 78v7M606 82v4M669 83v3M610 85v2M522 85v2M568 85v2M648 85v2M643 85v2M687 87v2M399 88v2M465 82v9M409 89v2M119 85v8M102 85v8M496 86v7M98 86v7M700 86v7M399 91v2M408 91v2M688 92v2M499 82v13M96 82v13M520 84v11M126 85v10M563 85v10M516 86v9M546 86v9M91 86v9M379 87v8M470 88v7M462 89v6M536 92v3M569 93v2M431 93v2M465 93v2M491 87v9M639 87v9M558 87v9M94 87v9M651 87v9M116 94v2M396 94v2M387 89v9M661 91v7M412 91v7M453 92v6M409 93v5M701 94v4M584 94v5M692 97v2M403 98v2M437 98v2M658 94v7M578 94v7M614 94v7M525 94v7M619 94v7M466 95v6M528 98v3M677 99v2M604 97v6M652 99v5M449 98v7M441 98v7M132 98v7M521 98v7M433 98v7M532 98v7M388 98v7M435 98v7M523 98v7M507 98v7M530 98v7M638 98v7M125 98v7M473 98v7M456 98v7M500 98v7M564 98v7M400 98v7M471 98v7M463 98v7M562 98v7M534 98v7M446 98v7M502 98v7M553 98v7M636 98v7M103 98v7M557 98v7M451 98v7M423 98v7M395 98v7M443 98v7M106 98v7M512 98v7M117 98v7M685 99v6M488 99v6M667 99v6M662 99v6M410 101v4M583 101v4M681 101v5M657 101v5M670 101v5M415 102v4M497 102v5M566 104v4M653 105v3M407 106v2M425 106v3M589 106v3M533 106v3M100 106v3M597 106v3M95 106v3M414 107v2M486 106v4M609 106v4M136 107v4M565 108v3M118 108v3M108 108v3M386 108v3M440 108v3M89 108v3M585 108v4M607 108v4M408 109v3M576 110v2M647 110v2M599 110v2M683 112v2M109 112v2M97 113v2"/>
<path stroke="#4d00c1" d="M622 78v2M595 78v2M484 78v2M571 79v2M642 79v2M88 79v3M699 80v2M603 80v3M481 81v2M485 81v2M659 81v2M596 81v2M605 82v2M574 82v2M426 82v2M613 82v3M598 82v3M586 82v3M668 83v3M698 83v3M133 83v3M579 84v2M656 84v2M637 84v2M487 84v2M645 84v3M602 84v3M482 85v2M590 85v2M621 85v2M643 87v2M406 89v2M479 87v5M101 85v8M490 86v7M127 85v9M397 85v9M606 86v8M669 86v8M666 88v6M522 87v8M648 87v8M590 88v7M568 93v2M610 87v9M528 94v2M538 95v2M700 93v5M496 93v6M399 93v6M98 93v6M119 93v6M102 94v5M675 96v3M96 95v6M470 95v6M462 95v6M536 95v6M516 95v6M499 95v6M563 95v6M431 95v6M465 95v6M546 95v6M112 95v6M520 95v6M123 95v6M126 95v6M379 95v6M116 96v5M91 95v7M688 95v7M491 96v6M94 96v6M651 96v6M639 96v6M558 96v6M396 97v5M569 99v3M453 98v6M412 98v6M387 98v6M701 99v5M692 100v4M661 98v7M584 101v4M409 101v4M614 101v5M675 101v5M658 101v5M578 101v5M525 101v5M677 101v5M528 101v5M466 101v5M619 101v5M604 103v4M521 105v3M433 105v3M532 105v3M435 105v3M400 105v3M471 105v3M507 105v3M638 105v3M125 105v3M473 105v3M456 105v3M553 105v3M652 105v3M500 105v3M564 105v3M395 105v3M463 105v3M562 105v3M534 105v3M446 105v3M502 105v3M449 105v3M441 105v3M132 105v3M636 105v3M103 105v3M557 105v3M451 105v3M423 105v3M388 105v3M443 105v3M106 105v3M512 105v3M117 105v3M523 105v3M530 105v3M410 106v2M685 105v4M488 105v4M667 105v4M662 105v4M583 106v3M415 107v2M670 106v4M681 106v4M657 106v4M497 107v4M566 108v3M533 109v3M100 109v3M589 109v3M597 109v3M95 109v3M653 109v3M407 109v3M425 109v3M486 110v2M609 110v2M582 112v2M436 116v3M474 116v3M508 116v3M429 116v3M545 116v3M105 116v3M531 116v3M554 116v3M432 116v3M457 116v3M468 116v3M424 116v3M405 116v3M450 116v3M401 116v3M442 116v3M393 116v3M513 116v3M498 116v3"/>
<path stroke="#4600d1" d="M595 80v2M622 80v2M573 81v2M99 81v2M671 81v2M495 81v2M107 81v2M625 81v2M587 81v2M646 81v2M620 81v2M592 81v2M642 81v3M571 81v3M699 82v3M88 82v3M659 83v2M596 83v2M634 83v2M591 83v2M603 83v2M655 84v2M580 84v2M574 84v2M605 84v2M672 85v2M567 85v2M586 85v2M598 85v2M613 85v2M674 86v3M426 84v6M698 86v8M133 86v8M579 86v8M668 86v8M656 86v8M621 87v7M482 87v7M675 92v2M677 92v2M406 92v3M575 87v9M645 87v9M602 87v9M539 95v2M643 89v9M479 92v7M490 93v6M101 94v5M411 95v4M127 94v6M397 94v6M606 94v6M669 94v6M666 94v6M590 95v7M522 95v7M648 95v7M610 96v6M568 99v3M686 98v5M700 99v5M119 99v6M399 99v6M98 99v6M496 99v6M102 100v5M116 101v5M516 101v5M499 101v5M465 101v5M536 101v5M520 101v5M123 101v5M563 101v5M431 101v5M546 101v5M379 101v5M112 101v5M96 101v5M126 101v5M470 101v5M462 101v5M91 102v4M396 102v4M688 102v4M491 102v5M94 102v5M651 102v5M639 102v5M558 102v5M412 104v4M387 104v4M453 104v4M701 105v3M661 105v3M409 106v2M584 106v3M525 106v4M528 106v4M466 106v4M619 106v4M675 106v4M658 106v4M578 106v4M614 106v4M677 106v4M604 107v4M564 108v4M400 108v4M471 108v4M463 108v4M534 108v4M446 108v4M502 108v4M473 108v4M456 108v4M553 108v4M636 108v4M103 108v4M423 108v4M500 108v4M395 108v4M443 108v4M106 108v4M562 108v4M449 108v4M441 108v4M132 108v4M521 108v4M433 108v4M557 108v4M451 108v4M532 108v4M388 108v4M435 108v4M512 108v4M117 108v4M523 108v4M507 108v4M530 108v4M638 108v4M125 108v4M685 109v3M488 109v3M667 109v3M652 109v3M662 109v3M670 110v2M583 110v2M681 110v2M410 110v2M657 110v2M599 112v2M576 112v2M647 112v2M464 113v2M552 113v2M535 113v2M383 113v2M113 113v2M454 113v2M394 113v2M422 113v2M519 113v2M439 113v2M511 113v2M467 113v2M430 113v2M378 113v2M529 113v2M501 113v2M413 113v2M389 113v2M469 113v2M104 113v2M452 113v2M476 113v2M134 113v2M87 113v2M418 113v2M402 113v2M434 113v2M124 113v2M472 113v2M561 113v2M92 113v2M480 113v2M392 113v2M475 115v3M665 115v3M684 115v4M537 115v4M398 115v4M455 115v4M135 115v4M90 115v4M93 115v4"/>
<path stroke="#3f00e0" d="M618 80v2M622 82v2M612 82v2M595 82v2M635 83v2M573 83v2M481 84v2M571 84v2M485 84v2M642 84v2M634 85v2M591 85v2M659 85v2M699 85v2M624 85v2M596 85v2M88 85v2M580 86v5M605 86v5M574 86v5M655 86v5M593 87v4M603 85v7M586 87v8M598 87v8M613 87v8M672 87v8M682 92v3M637 87v9M487 87v9M577 87v9M567 90v6M674 89v8M426 90v8M687 94v5M691 96v3M482 94v6M579 94v6M668 94v6M656 94v6M698 94v6M133 94v6M621 94v6M406 97v3M645 96v6M602 96v6M575 96v6M643 98v6M411 99v6M479 99v6M490 99v6M101 100v5M691 101v4M397 100v6M669 100v6M666 100v6M127 100v6M606 100v6M590 102v4M522 102v4M648 102v4M610 102v5M686 103v4M700 105v3M399 105v4M98 105v4M496 105v4M119 105v4M102 106v3M499 106v4M431 106v4M465 106v4M112 106v4M536 106v4M520 106v4M688 106v4M123 106v4M563 106v4M396 106v4M546 106v4M126 106v4M379 106v4M96 106v4M116 106v4M470 106v4M462 106v4M91 106v4M516 106v4M94 107v4M651 107v4M639 107v4M558 107v4M491 107v4M387 108v4M453 108v4M412 108v4M661 108v4M701 109v3M466 110v2M619 110v2M614 110v2M584 110v2M675 110v2M658 110v2M578 110v2M525 110v2M409 110v2M677 110v2M528 110v2M609 112v2M486 112v2M136 112v2M109 115v3M697 116v2M683 115v4M97 116v3"/>
<path stroke="#2400ee" d="M644 80v2M633 82v2M612 84v2M99 84v2M671 84v2M495 84v2M107 84v2M625 84v2M595 84v2M587 84v2M646 84v2M622 84v2M620 84v2M592 84v2M573 85v2M481 86v5M485 86v5M594 87v4M624 87v6M571 86v8M642 86v8M659 87v7M596 87v7M634 87v7M676 90v4M591 87v8M699 87v9M88 87v9M655 91v7M580 91v7M574 91v7M605 91v7M593 94v4M603 92v7M672 95v6M586 95v6M598 95v6M613 95v6M682 95v7M637 96v6M487 96v6M577 96v6M567 96v6M674 97v7M426 98v6M687 99v6M698 100v5M656 100v5M133 100v5M621 100v5M482 100v5M406 100v5M579 100v5M668 100v5M645 102v5M602 102v5M575 102v5M643 104v4M479 105v4M691 105v4M411 105v4M490 105v4M397 106v3M101 106v3M666 106v3M127 106v3M606 106v3M669 106v3M648 106v4M590 106v4M522 106v4M610 107v4M686 107v4M399 109v3M98 109v3M496 109v3M119 109v3M700 109v3M102 109v3M112 110v2M520 110v2M688 110v2M396 110v2M126 110v2M379 110v2M462 110v2M96 110v2M116 110v2M516 110v2M499 110v2M470 110v2M465 110v2M536 110v2M91 110v2M123 110v2M563 110v2M431 110v2M546 110v2M670 112v2M497 112v2M681 112v2M657 112v2M425 113v2M533 113v2M100 113v2M589 113v2M597 113v2M95 113v2M378 115v2M529 115v2M501 115v2M413 115v2M389 115v2M469 115v2M104 115v2M452 115v2M476 115v2M134 115v2M87 115v2M418 115v2M434 115v2M124 115v2M472 115v2M561 115v2M92 115v2M464 115v2M552 115v2M535 115v2M383 115v2M113 115v2M454 115v2M394 115v2M402 115v2M422 115v2M519 115v2M439 115v2M480 115v2M392 115v2M511 115v2M467 115v2M430 115v2M696 116v2M582 115v4M649 115v4M678 115v4"/>
<path stroke="#0800fb" d="M618 83v2M570 83v2M595 86v2M622 86v2M612 86v4M484 87v3M635 86v7M573 87v8M481 91v7M485 91v7M594 94v4M624 93v6M571 94v6M642 94v6M676 94v6M634 94v7M596 94v7M659 94v7M591 95v6M88 96v7M699 96v7M655 98v7M605 98v7M580 98v7M574 98v7M603 99v6M593 101v4M672 101v5M586 101v5M613 101v5M598 101v5M577 102v5M682 102v5M637 102v5M487 102v5M567 102v5M674 104v4M426 104v4M133 105v4M621 105v4M482 105v4M579 105v4M668 105v4M687 105v4M656 105v4M406 105v4M698 105v4M645 107v4M602 107v4M575 107v4M643 108v4M101 109v3M479 109v3M691 109v3M490 109v3M606 109v3M666 109v3M127 109v3M411 109v3M397 109v3M669 109v3M648 110v2M590 110v2M522 110v2M614 112v2M675 112v2M658 112v2M578 112v2M525 112v2M677 112v2M528 112v2M619 112v2M466 112v2M132 113v2M521 113v2M433 113v2M532 113v2M388 113v2M435 113v2M523 113v2M507 113v2M638 113v2M125 113v2M473 113v2M456 113v2M685 113v2M500 113v2M488 113v2M564 113v2M400 113v2M471 113v2M395 113v2M463 113v2M562 113v2M534 113v2M446 113v2M667 113v2M502 113v2M553 113v2M441 113v2M636 113v2M103 113v2M557 113v2M451 113v2M423 113v2M443 113v2M106 113v2M512 113v2M117 113v2M662 113v2M449 113v2M530 113v2M576 115v3M647 115v3M599 115v3M650 115v4M572 115v4M679 115v4M529 117v2M501 117v2M413 117v2M124 117v2M469 117v2M452 117v2M92 117v2M476 117v2M134 117v2M87 117v2M552 117v2M418 117v2M535 117v2M402 117v2M434 117v2M472 117v2M561 117v2M439 117v2M480 117v2M392 117v2M464 117v2M383 117v2M113 117v2M454 117v2M394 117v2M422 117v2M519 117v2M389 117v2M104 117v2M511 117v2M467 117v2M430 117v2M378 117v2"/>
<path stroke="#0014ff" d="M608 87v2M483 87v3M694 89v3M620 87v8M592 87v8M99 87v8M671 87v8M495 87v8M107 87v8M625 87v8M587 87v8M646 87v8M627 87v9M622 88v9M595 88v9M690 94v3M612 90v8M484 95v3M635 93v6M573 95v6M485 98v7M481 98v7M624 99v6M594 101v4M642 100v6M676 100v6M571 100v6M659 101v5M596 101v5M634 101v5M591 101v5M695 104v2M88 103v4M699 103v4M655 105v3M605 105v3M580 105v3M603 105v3M574 105v3M593 106v2M672 106v4M598 106v4M586 106v4M613 106v4M567 107v4M682 107v4M637 107v4M487 107v4M577 107v4M695 109v2M426 108v4M674 108v4M621 109v3M482 109v3M406 109v3M579 109v3M668 109v3M698 109v3M687 109v3M656 109v3M133 109v3M116 112v2M516 112v2M499 112v2M470 112v2M465 112v2M462 112v2M536 112v2M491 112v2M91 112v2M563 112v2M431 112v2M94 112v2M546 112v2M651 112v2M112 112v2M520 112v2M688 112v2M123 112v2M396 112v2M126 112v2M379 112v2M639 112v2M558 112v2M96 112v2M661 113v2M533 115v2M100 115v2M589 115v2M597 115v2M95 115v2M414 115v2M425 115v2M486 115v3M609 115v3M118 115v4M386 115v4M136 115v4M440 115v4M89 115v4M108 115v4M607 116v3M565 116v3M585 116v3M408 117v2"/>
<path stroke="#0030ff" d="M611 85v2M618 86v3M570 86v3M680 88v2M527 87v9M673 89v8M608 89v8M483 95v3M587 95v6M625 95v6M495 95v6M99 95v6M620 95v6M592 95v6M671 95v6M107 95v6M646 95v6M627 96v6M622 97v6M595 97v6M612 98v6M695 101v3M484 101v3M635 99v6M690 99v6M573 101v5M485 105v3M481 105v3M594 106v2M624 105v4M571 106v3M642 106v3M676 106v3M659 106v4M591 106v4M634 106v4M596 106v4M88 107v4M699 107v4M605 108v4M580 108v4M574 108v4M603 108v4M655 108v4M598 110v2M593 110v2M672 110v2M586 110v2M613 110v2M590 112v2M522 112v2M610 112v2M648 112v2M119 113v2M102 113v2M399 113v2M98 113v2M496 113v2M488 115v2M667 115v2M415 115v2M662 115v2M583 115v2M685 115v2M670 115v3M681 115v3M657 115v3M497 115v4M566 116v3M653 117v2M597 117v2M95 117v2M407 117v2M425 117v2M589 117v2M533 117v2M100 117v2"/>
<path stroke="#004cff" d="M611 87v3M633 87v7M524 87v9M489 87v9M618 89v9M570 89v9M680 91v7M689 95v4M527 96v7M673 97v7M608 97v7M689 100v4M483 101v3M625 101v5M592 101v5M671 101v5M495 101v5M107 101v5M646 101v5M99 101v5M620 101v5M587 101v5M627 102v5M595 103v4M622 103v4M612 104v4M484 106v2M635 105v4M690 105v4M573 106v4M485 108v4M481 108v4M571 109v3M642 109v3M624 109v3M676 109v3M659 110v2M634 110v2M591 110v2M594 110v2M596 110v2M602 112v2M575 112v2M645 112v2M397 113v2M691 113v2M666 113v2M127 113v2M101 113v2M479 113v2M490 113v2M606 113v2M669 113v2M411 113v2M584 115v2M466 115v3M619 115v3M614 115v3M675 115v3M658 115v3M578 115v3M525 115v3M677 115v3M528 115v3M604 115v4M463 116v3M562 116v3M534 116v3M446 116v3M502 116v3M449 116v3M441 116v3M132 116v3M636 116v3M103 116v3M557 116v3M451 116v3M423 116v3M388 116v3M443 116v3M106 116v3M512 116v3M117 116v3M523 116v3M530 116v3M521 116v3M433 116v3M532 116v3M435 116v3M400 116v3M471 116v3M507 116v3M638 116v3M125 116v3M473 116v3M456 116v3M553 116v3M500 116v3M564 116v3M395 116v3M667 117v2M662 117v2M685 117v2M488 117v2M652 117v2"/>
<path stroke="#0068ff" d="M628 87v8M611 90v8M633 94v6M524 96v6M489 96v6M618 98v6M694 98v6M570 98v6M680 98v6M527 103v4M673 104v4M689 104v4M608 104v4M483 106v2M620 106v4M592 106v4M671 106v4M495 106v4M107 106v4M646 106v4M99 106v4M587 106v4M625 106v4M627 107v3M595 107v4M622 107v4M612 108v4M635 109v3M690 109v3M484 110v2M573 110v2M682 112v2M637 112v2M487 112v2M672 112v2M586 112v2M577 112v2M613 112v2M567 112v2M695 112v2M598 112v2M698 113v2M133 113v2M656 113v2M621 113v2M482 113v2M687 113v2M406 113v2M579 113v2M668 113v2M399 115v2M98 115v2M496 115v2M119 115v2M102 115v2M112 115v3M96 115v3M688 115v3M126 115v3M470 115v3M462 115v3M116 115v3M91 115v3M516 115v3M499 115v3M465 115v3M536 115v3M520 115v3M123 115v3M563 115v3M431 115v3M396 115v3M546 115v3M379 115v3M639 115v4M558 115v4M453 115v4M491 115v4M412 115v4M387 115v4M94 115v4M651 115v4M661 116v3M701 117v2"/>
<path stroke="#0089ff" d="M588 87v5M526 87v5M644 87v7M581 87v9M628 95v6M611 98v6M633 100v6M524 102v5M489 102v5M570 104v4M694 104v4M680 104v4M618 104v4M527 107v4M689 108v3M673 108v3M608 108v3M99 110v2M620 110v2M107 110v2M587 110v2M483 110v2M627 110v2M625 110v2M592 110v2M671 110v2M495 110v2M646 110v2M88 112v2M591 112v2M699 112v2M603 113v2M127 115v2M101 115v2M691 115v2M490 115v2M606 115v2M666 115v2M397 115v2M669 115v2M648 115v3M590 115v3M522 115v3M686 115v4M610 115v4M399 117v2M98 117v2M700 117v2M102 117v2M496 117v2M119 117v2"/>
<path stroke="#00abff" d="M654 87v6M588 92v7M526 92v7M644 94v7M581 96v7M628 101v5M611 104v4M633 106v3M524 107v3M489 107v3M570 108v4M694 108v4M680 108v4M618 108v4M573 112v2M659 113v2M642 113v2M624 113v2M596 113v2M676 113v2M571 113v2M634 113v2M621 115v2M482 115v2M406 115v2M579 115v2M668 115v2M698 115v2M687 115v2M656 115v2M133 115v2M645 115v4M602 115v4M643 115v4M575 115v4M411 116v3M479 116v3M127 117v2M490 117v2M606 117v2M669 117v2M397 117v2M101 117v2M691 117v2M666 117v2"/>
<path stroke="#00ceff" d="M654 93v6M588 99v6M526 99v6M644 101v5M581 103v4M628 106v4M611 108v4M633 109v3M524 110v2M489 110v2M587 112v2M625 112v2M627 112v2M495 112v2M646 112v2M99 112v2M620 112v2M592 112v2M671 112v2M107 112v2M635 113v2M690 113v2M598 115v3M672 115v3M586 115v3M613 115v3M695 115v4M577 115v4M682 115v4M637 115v4M487 115v4M567 115v4M674 115v4M426 116v3M482 117v2M579 117v2M668 117v2M687 117v2M656 117v2M406 117v2M698 117v2M133 117v2M621 117v2M545 119v4M401 119v4M442 119v4M528 119v4M393 119v4M498 119v4M405 119v4M436 119v4M408 119v4M398 119v4M508 119v4M480 119v4M531 119v4M554 119v4M450 119v4M537 119v4M523 119v4M432 119v4M457 119v4M513 119v4M424 119v4"/>
<path stroke="#00f0ff" d="M632 87v3M660 87v3M654 99v6M526 105v4M588 105v4M644 106v4M581 107v4M628 110v2M527 112v2M571 115v2M642 115v2M676 115v2M634 115v3M591 115v3M659 115v3M596 115v3M88 115v4M699 115v4M603 116v3M574 116v3M655 116v3M605 116v3M580 116v3M519 119v4M522 119v4M466 119v4M378 119v4M464 119v4M427 119v4M561 119v4M409 119v4M407 119v4M97 119v4M392 119v4M109 119v4M501 119v4M524 119v4M90 119v4M389 119v4M418 119v4M693 119v4M535 119v4M383 119v4M469 119v4M529 119v4M402 119v4M425 119v4M452 119v4M434 119v4M511 119v4M422 119v4M472 119v4M394 119v4M386 119v4M533 119v4M105 119v4M430 119v4"/>
<path stroke="#00fff1" d="M660 90v8M632 90v8M654 105v4M588 109v3M526 109v3M644 110v2M524 112v2M489 112v2M573 115v3M481 116v3M485 116v3M624 116v3M571 117v2M642 117v2M676 117v2M100 119v2M486 119v3M497 119v4"/>
<path stroke="#00ffda" d="M494 87v7M660 98v6M632 98v6M654 109v3M628 112v2M633 113v2M99 115v3M620 115v3M107 115v3M587 115v3M625 115v3M592 115v3M671 115v3M495 115v3M646 115v3M622 115v4M627 115v4M595 115v4M612 116v3M635 116v3M690 116v3M87 119v3M124 120v2M482 120v2M562 119v4M521 119v4M534 119v4M433 119v4M446 119v4M473 119v4M496 119v4M136 119v4M95 119v4M532 119v4M453 119v4M443 119v4M456 119v4M512 119v4M502 119v4M449 119v4M89 119v4M698 119v4M435 119v4M98 119v4M553 119v4M471 119v4M507 119v4M530 119v4M441 119v4M104 119v4M500 119v4M564 119v4M412 119v4M527 119v4M451 119v4M410 119v4M423 119v4M113 119v4M406 119v4M463 119v4M108 120v3M100 121v2"/>
<path stroke="#00ffc2" d="M630 87v7M494 94v6M632 104v4M660 104v4M581 112v2M527 115v4M608 115v4M673 115v4M689 115v4M487 119v2M481 120v2M99 118v5M119 119v4M125 119v4M94 119v4M91 119v4M117 119v4"/>
<path stroke="#00ffaa" d="M630 94v7M494 100v6M660 108v4M632 108v4M526 113v2M644 113v2M588 113v2M633 115v2M680 115v4M618 115v4M524 115v4M489 115v4M570 115v4M694 115v4M431 119v4M462 119v4M465 119v4M563 119v4M426 119v4M546 119v4M495 119v4M397 119v4M379 119v4M699 119v4M536 119v4M520 119v4M470 119v4M516 119v4M499 119v4M483 119v4M411 119v4M479 119v4M485 120v3M694 121v2M493 121v2"/>
<path stroke="#00ff92" d="M630 101v5M494 106v4M654 113v2M628 115v3M611 116v3M633 117v2M694 119v2M112 119v4M690 119v4M88 119v4M101 119v4M96 119v4M123 119v4M116 119v4M492 121v2"/>
<path stroke="#00ff72" d="M630 106v4M494 110v2M644 115v3M581 115v4M494 119v3M484 119v4"/>
<path stroke="#00ff52" d="M630 110v2M588 116v3M526 116v3"/>
<path stroke="#00ff31" d="M626 87v7M623 87v7M654 116v3M565 121v2"/>
<path stroke="#00ff10" d="M629 87v9M626 94v6M623 94v6M494 113v2"/>
<path stroke="#0dff00" d="M629 96v7M626 100v6M623 100v6M630 113v2M660 115v4M632 115v4M597 119v4"/>
<path stroke="#26ff00" d="M629 103v4M623 106v4M626 106v4M494 115v3M679 121v2"/>
<path stroke="#3fff00" d="M629 107v4M623 110v2M626 110v2M630 115v3M652 120v2M667 120v3M643 120v3"/>
<path stroke="#59ff00" d="M584 119v2M568 120v2"/>
<path stroke="#72ff00" d="M660 120v2M594 120v2"/>
<path stroke="#8cff00" d="M629 112v2M623 113v2M626 113v2M645 119v2M654 120v2M569 121v2"/>
<path stroke="#a2ff00" d="M671 120v2M617 120v2M580 120v2M662 121v2M573 121v2M602 121v2"/>
<path stroke="#b8ff00" d="M631 87v6M626 115v3M623 115v3M632 119v2M642 119v2M575 119v2M598 120v2M645 121v2M653 121v2"/>
<path stroke="#ceff00" d="M631 93v7M629 115v4M659 119v2M639 119v2M646 119v2M600 119v2M668 119v2M626 120v3M656 121v2M615 121v2"/>
<path stroke="#e4ff00" d="M631 100v5M603 119v2M676 120v2M633 120v2"/>
<path stroke="#faff00" d="M631 105v4M644 120v2M642 121v2"/>
<path stroke="#fff100" d="M631 109v3"/>
<path stroke="#ffdf00" d="M631 119v2"/>
<path stroke="#ffbc00" d="M631 113v2"/>
<path stroke="#ff9900" d="M631 115v2"/>
<path stroke="#ff8700" d="M631 117v2"/></g>
<pattern id="t1a" x="87" y="123" width="51" height="87" patternUnits="userSpaceOnUse"><g><path fill="#000000" d="M1 19h2v2h-2zM35 22h2v2h-2zM0 25h2v2h-2z"/>
<path fill="#5300b1" d="M0 0h51v3h-51zM12 40h2v2h-2z"/>
<path fill="#4d00c1" d="M24 42h2v2h-2zM44 43h2v3h-2zM25 47h3v2h-3z"/>
<path fill="#0800fb" d="M47 53h2v2h-2z"/>
<path fill="#0030ff" d="M28 56h3v2h-3zM36 57h4v2h-4z"/>
<path fill="#00abff" d="M26 63h2v2h-2z"/>
<path fill="#00ceff" d="M11 60h2v2h-2zM17 62h2v2h-2zM49 63h2v2h-2zM14 65h3v2h-3zM26 65h2v2h-2z"/>
<path fill="#00f0ff" d="M11 63h2v2h-2z"/>
<path fill="#00fff1" d="M30 64h2v2h-2zM47 65h2v2h-2z"/>
<path fill="#00ffaa" d="M14 71h2v2h-2z"/>
<path fill="#00ff92" d="M8 69h2v2h-2zM49 71h2v2h-2zM25 71h2v2h-2zM13 74h2v2h-2z"/>
<path fill="#00ff72" d="M36 73h2v2h-2z"/>
<path fill="#00ff31" d="M43 74h2v2h-2z"/>
<path fill="#26ff00" d="M36 77h4v2h-4z"/>
<path fill="#3fff00" d="M48 78h2v2h-2z"/>
<path fill="#8cff00" d="M24 81h2v2h-2z"/></g><g fill="none" transform="translate(0 .5)"><path stroke="#000000" d="M34 3h1M10 3h1M16 3h1M2 4h1M9 4h1M6 4h1M40 5h1M36 6h1M10 6h1M18 6h1M37 7h1M31 7h1M9 7h1M29 7h1M20 8h3M5 8h1M50 9h1M16 9h1M31 10h1M2 10h1M14 10h2M47 10h1M33 10h1M1 11h1M34 11h1M10 11h1M23 12h1M6 12h1M40 13h1M0 13h1M29 13h1M4 13h2M14 13h1M11 13h2M49 13h1M46 14h1M39 14h1M41 14h1M20 14h1M10 15h1M17 15h1M7 16h2M0 16h1M29 16h1M47 16h1M46 17h1M16 18h1M40 19h3M18 19h3M46 19h1M32 19h2M35 19h2M44 19h1M13 19h2M10 19h1M38 19h1M4 19h1M24 19h5M49 19h1M22 19h1M37 20h2M15 20h1M9 20h1M25 20h1M29 20h1M40 20h2M46 20h5M20 20h1M43 20h2M13 20h1M6 20h2M31 20h5M19 21h6M46 21h1M12 21h1M16 21h2M32 21h2M10 21h1M48 21h3M7 21h1M38 21h1M4 21h1M28 21h1M22 22h2M44 22h5M38 22h3M27 22h1M5 22h5M33 22h1M11 22h1M17 22h1M42 22h1M15 22h1M46 23h1M27 23h7M38 23h5M9 23h3M17 23h2M4 23h2M49 23h1M13 23h1M24 23h2M22 23h1M19 24h2M9 24h1M32 24h3M46 24h2M26 24h5M42 24h3M5 24h2M17 24h1M2 24h2M40 25h1M25 25h1M27 25h1M43 25h4M16 25h2M13 25h1M6 25h1M19 25h3M29 25h5M8 25h2M39 26h1M10 26h2M45 26h2M8 26h1M32 26h1M41 26h1M18 26h4M15 26h1M3 26h1M36 26h2M48 26h2M26 26h2M46 27h1M29 28h1M7 28h1M10 29h1M0 29h1M14 30h1M40 31h1M16 31h1M28 32h1M43 32h1M36 32h1M32 33h1M39 33h1M10 33h1M14 33h1M49 33h1M37 34h1M4 34h1M30 34h1M21 34h3M34 35h1M39 35h1M10 35h1M41 35h1M28 35h1M36 35h1M44 35h2M32 36h1M26 36h4M4 36h1M13 36h1M11 36h1M8 37h1M48 37h1M10 37h1M36 37h1M0 38h1M16 38h1M23 38h1"/>
<path stroke="#0c000e" d="M33 18h1M50 18h1M48 18h1M30 19h1M21 19h1M3 19h1M42 20h1M18 20h1M24 20h1M2 21h1M35 21h1M25 21h1M41 22h1M19 22h1M4 22h1M30 22h1M24 22h1M12 22h3M50 23h1M3 23h1M21 24h1M41 24h1M15 24h1M22 25h1M35 25h1M3 25h1M12 25h1M9 26h1M6 26h1M43 26h1M40 26h1"/>
<path stroke="#18001c" d="M45 14h1M31 14h1M6 15h1M41 15h1M33 16h1M43 16h1M16 17h1M48 17h1"/>
<path stroke="#24002a" d="M40 9h1M18 9h1M3 10h1M21 10h1M7 11h1M17 12h1M31 12h1M9 12h1M5 12h1M14 12h1M14 40h1"/>
<path stroke="#3a0056" d="M40 4h2M43 4h8M27 4h1M34 4h4M12 4h4M22 4h2M1 4h1M7 4h2M31 4h2M3 4h3M29 4h1M17 4h2M43 5h1M23 5h1M13 5h1M27 5h2M36 5h1M33 5h2M41 5h1M30 5h1M49 5h1M1 5h6M16 5h3M25 5h1M20 5h2M38 5h1M6 6h1M44 6h1M14 6h2M4 6h1M8 6h2M21 6h2M12 6h1M24 6h1M30 6h3M46 6h3M37 6h1M35 6h1M0 6h2M39 6h2M45 7h1M36 7h1M17 7h1M30 7h1M32 7h2M50 7h1M38 7h2M0 7h1M48 7h1M3 7h1M19 7h5M7 7h1M4 8h1M42 8h1M26 8h5M33 8h5M6 8h1M12 8h2M9 8h2M23 8h2M15 8h1M1 8h2M39 8h2M48 8h3M17 8h2M3 31h3M36 31h2M14 31h2M11 31h2M0 31h1M24 31h1M39 31h1M17 31h2M46 31h5M20 31h1M26 31h5M43 31h2M32 31h1M41 31h1M7 31h1M23 32h1M42 32h1M11 32h1M29 32h6M37 32h1M39 32h2M25 32h3M44 32h4M0 32h8M13 32h9M43 33h1M33 33h1M40 33h1M35 33h4M11 33h3M16 33h15M45 33h2M0 33h10M38 34h13M5 34h16M24 34h6M31 34h6M0 34h4M46 35h5M11 35h17M40 35h1M37 35h2M35 35h1M42 35h2M29 35h5M0 35h10M15 40h1M34 40h1M19 40h1"/>
<path stroke="#45006f" d="M5 3h1M40 3h1M37 3h1M21 3h1M42 3h2M26 3h3M23 3h1M17 3h1M35 3h1M0 3h2M7 3h1M13 3h1M30 3h2M3 3h1M15 3h1M48 3h2M22 36h4M12 36h1M14 36h7M33 36h18M0 36h4M30 36h2M5 36h6M37 37h11M9 37h1M22 37h14M49 37h2M0 37h3M11 37h10M4 37h4M17 38h6M24 38h27M1 38h2M4 38h12M0 40h1M36 40h1M32 40h1M47 40h1M3 40h1M38 40h1M40 41h1M19 41h1M6 41h1M15 41h1M26 42h1M32 42h1M14 43h1M11 43h1M35 43h1M38 43h1M26 44h1M15 49h1"/>
<path stroke="#500089" d="M23 40h1M40 40h2M6 40h1M26 40h2M4 40h1M20 40h2M30 40h1M17 40h2M49 40h1M9 41h1M21 41h1M26 41h1M32 41h1M35 41h3M47 41h1M16 41h1M5 41h1M18 41h1M0 41h1M14 41h1M40 42h2M12 42h2M48 43h1M22 43h1M16 43h1M35 44h1M0 44h1M14 45h1M0 46h1M3 48h1M40 49h1"/>
<path stroke="#5a00a1" d="M11 29h40M1 29h9M46 30h5M15 30h30M0 30h14M31 40h1M1 40h2M16 40h1M25 40h1M7 40h2M48 40h1M10 40h1M45 40h1M28 40h2M35 40h1M7 41h1M2 41h2M41 41h3M49 41h1M17 41h1M38 42h1M21 42h1M35 42h1M33 42h1M45 42h1M15 42h2M13 43h1M34 43h1M27 43h1M36 43h1M1 43h1M9 43h1M39 43h2M23 43h1M32 43h1M7 44h1M3 44h1M14 44h2M22 44h2M25 44h1M49 44h1M19 44h2M33 44h1M19 45h1M15 45h1M0 45h1M34 45h1M6 45h2M23 45h1M41 46h1M16 46h1M39 46h1M21 46h1M7 46h2M1 46h1M32 46h1M35 46h1M6 47h1M38 47h1M18 47h1M8 47h1M16 48h1M27 49h1M23 49h1M32 50h1M19 51h1M36 51h1"/>
<path stroke="#5300b1" d="M47 27h4M0 27h46M8 28h21M0 28h7M30 28h21M39 40h1M37 40h1M9 40h1M33 40h1M50 40h1M33 41h2M46 41h1M20 41h1M30 41h2M4 41h1M39 42h1M14 42h1M49 42h1M22 42h1M1 42h2M36 42h2M43 42h1M8 42h2M0 43h1M17 43h2M21 43h1M26 43h1M49 43h2M15 43h1M39 44h1M1 44h1M37 44h1M11 44h1M30 45h1M47 45h2M37 45h3M21 45h1M33 45h1M41 45h1M43 45h1M40 46h1M12 46h1M36 46h1M23 46h1M42 46h1M14 46h2M39 47h1M29 47h1M35 47h1M16 47h1M40 48h1M35 48h2M49 48h1M7 48h1M6 49h2M37 49h1M22 49h1M13 49h1M16 49h1M27 50h1M38 50h1M36 53h1M13 53h1"/>
<path stroke="#4d00c1" d="M43 40h2M46 40h1M24 40h1M1 41h1M48 41h1M45 41h1M39 41h1M25 41h1M44 42h1M34 42h1M0 42h1M20 43h1M10 43h1M28 43h2M37 43h1M50 44h1M38 44h1M18 44h1M30 44h1M24 44h1M36 44h1M47 44h2M1 45h1M35 45h1M49 45h2M11 45h2M45 46h1M33 46h1M19 46h1M31 46h1M4 46h1M2 46h1M37 46h1M9 47h1M21 47h1M11 47h1M42 47h1M47 47h1M15 47h1M33 47h2M40 47h1M30 47h1M31 48h1M8 48h2M43 48h3M37 48h1M9 49h1M41 49h1M3 49h1M12 49h1M25 49h1M35 50h1M25 50h2M50 50h1M5 50h1M40 50h1M23 51h1M0 51h2M27 51h1M19 52h1M36 52h1M14 52h1M16 53h1M40 53h1M0 53h1M3 54h1M16 55h1M8 55h1"/>
<path stroke="#4600d1" d="M42 40h1M5 40h1M44 41h1M38 41h1M8 41h1M10 41h1M17 42h2M5 42h2M43 43h1M41 43h1M9 44h1M21 44h1M42 44h2M17 44h1M24 45h2M8 45h2M5 45h1M2 45h1M36 45h1M38 46h1M34 46h1M27 46h1M25 46h1M9 46h1M29 46h2M7 47h1M44 47h1M4 47h1M36 47h2M10 47h1M32 47h1M6 48h1M42 48h1M15 48h1M20 48h2M12 48h1M48 48h1M28 48h2M29 49h1M47 49h1M31 49h1M4 49h1M2 49h1M35 49h2M14 49h1M21 49h1M26 49h1M33 49h1M3 50h1M34 50h1M8 50h1M12 50h3M37 50h1M22 50h1M15 51h1M30 51h1M39 51h1M25 51h1M3 52h1M26 52h2M16 52h1M43 52h1M34 52h1M0 52h1M37 52h1M9 52h1M25 53h2M50 53h1M41 53h1M19 54h1M7 54h1M23 54h1M15 54h2M17 55h1"/>
<path stroke="#3f00e0" d="M24 41h1M10 42h1M48 42h1M20 42h1M33 43h1M34 44h1M46 44h1M41 44h1M10 45h1M42 45h1M24 46h1M43 46h2M6 46h1M46 46h4M5 47h1M45 47h1M31 47h1M28 47h1M48 47h2M43 47h1M30 48h1M46 48h1M4 48h2M33 48h1M11 48h1M38 48h2M50 48h1M18 49h1M8 49h1M48 49h3M42 49h1M44 49h1M28 49h1M2 50h1M45 50h2M6 50h2M48 50h1M30 50h2M16 50h1M4 50h1M40 51h3M14 51h1M47 51h2M26 51h1M20 51h1M16 51h2M28 51h2M34 51h2M37 51h2M3 51h1M40 52h1M11 52h1M29 52h1M42 52h1M13 52h1M6 52h1M15 52h1M1 52h2M49 52h2M11 53h2M39 53h1M6 53h2M1 53h1M9 53h1M17 53h1M19 53h1M34 53h2M3 53h1M14 53h2M40 54h1M30 54h1M13 54h1M26 54h2M27 55h1M35 55h1M19 55h1M15 55h1M50 55h1M3 55h1M38 55h1"/>
<path stroke="#2400ee" d="M10 44h1M11 46h1M5 46h1M24 47h1M10 48h1M13 48h1M18 48h1M20 49h1M45 49h1M11 49h1M38 49h1M43 49h1M5 49h1M30 49h1M49 50h1M9 50h1M43 50h2M33 50h1M23 50h1M17 50h1M28 50h2M47 50h1M15 50h1M20 50h2M36 50h1M11 51h1M45 51h1M13 51h1M6 51h1M43 51h1M49 51h2M21 51h2M24 51h1M21 52h1M38 52h1M12 52h1M25 52h1M17 52h2M29 53h3M44 53h1M20 53h2M18 53h1M24 53h1M27 53h1M49 54h1M20 54h3M35 54h3M46 54h1M25 54h1M17 54h2M31 54h2M1 55h1M26 55h1M7 55h1M47 55h3M36 55h2M34 55h1M15 56h2M19 56h1M3 56h1"/>
<path stroke="#0800fb" d="M0 39h51M46 45h1M10 46h1M46 47h1M47 48h1M24 48h1M46 49h1M41 50h1M44 51h1M5 51h1M12 51h1M9 51h1M35 52h1M41 52h1M39 52h1M23 52h2M48 52h1M10 52h1M20 52h1M44 52h2M37 53h2M2 53h1M42 53h2M45 53h1M23 53h1M42 54h1M1 54h2M33 54h2M11 54h2M24 54h1M9 54h1M5 54h2M44 54h2M31 55h1M9 55h4M43 55h1M20 55h2M39 55h1M2 55h1M25 55h1M18 56h1M0 56h1M13 56h2M15 57h2"/>
<path stroke="#0014ff" d="M12 47h1M11 50h1M42 50h1M2 51h1M10 51h1M30 52h1M47 52h1M5 53h1M49 53h1M10 53h1M38 54h2M50 54h1M18 55h1M40 55h3M33 55h1M22 55h1M13 55h1M44 55h3M4 55h1M49 56h2M21 56h2M25 56h1M38 56h2M41 56h1M7 56h1M31 56h1M14 57h1M0 57h2M18 57h2M6 57h1M50 57h1M40 58h1M8 58h1M19 58h1M34 58h2M14 58h2"/>
<path stroke="#0030ff" d="M46 51h1M5 52h1M46 53h1M10 54h1M41 54h1M43 54h1M24 55h1M47 56h2M20 56h1M4 56h2M43 56h2M1 56h2M36 56h2M8 56h2M33 56h2M12 56h1M7 57h2M11 57h1M21 57h3M13 57h1M47 57h3M4 57h1M34 57h1M25 57h1M21 58h1M26 58h3M23 58h1M5 58h2M50 58h1M16 58h3M0 58h3"/>
<path stroke="#004cff" d="M5 55h1M30 55h1M42 56h1M10 56h2M45 56h2M42 57h3M31 57h1M5 57h1M24 57h1M12 57h1M2 57h1M9 57h1M20 57h1M41 58h1M7 58h1M13 58h1M29 58h3M4 58h1M25 58h1M49 58h1M11 58h1M22 58h1M32 59h1"/>
<path stroke="#0068ff" d="M46 52h1M24 56h1M45 57h2M10 57h1M41 57h1M9 58h2M12 58h1M42 58h7M20 58h1M40 59h1M0 59h1M6 59h2M14 59h3M35 59h1M26 60h1M3 60h1M27 61h1M19 61h1M32 63h1"/>
<path stroke="#0089ff" d="M24 58h1M1 59h1M25 59h3M21 59h1M23 59h1M17 59h1M29 59h1M19 59h1M38 59h1M36 59h1M12 59h1M14 60h3M49 60h1M7 60h2M39 60h2M18 60h2M22 60h2M27 60h1M38 61h1M16 61h1M50 61h1M40 61h1M14 61h1M14 62h3M32 62h1M29 62h1M7 62h1M19 62h1M22 62h2M40 63h1"/>
<path stroke="#00abff" d="M3 59h1M28 59h1M8 59h2M43 59h3M49 59h2M5 59h1M18 59h1M34 59h1M39 59h1M37 59h1M11 59h1M22 59h1M6 60h1M50 60h1M33 60h2M36 60h3M21 60h1M42 60h2M28 60h2M29 61h1M41 61h1M6 61h3M15 61h1M34 61h1M36 61h1M49 61h1M21 61h3M50 62h1M37 62h4M8 62h1M21 62h1M27 62h2M0 63h2M19 63h1M23 63h1M13 63h4M18 64h2M0 64h1M14 64h3M7 66h1M32 66h1"/>
<path stroke="#00ceff" d="M4 59h1M2 59h1M46 59h3M41 59h2M10 59h1M33 59h1M4 60h2M44 60h2M41 60h1M47 60h1M28 61h1M18 61h1M2 61h1M39 61h1M37 61h1M47 61h2M42 61h2M33 61h1M33 62h2M12 62h1M36 62h1M31 62h1M47 62h3M43 63h1M21 63h2M2 63h1M28 63h2M41 63h1M36 63h4M39 64h1M1 64h1M17 64h1M29 64h1M13 64h1M36 64h2M6 65h2M37 65h1M19 65h1M3 65h1M50 65h1M35 66h1"/>
<path stroke="#00f0ff" d="M48 60h1M2 60h1M30 61h2M44 61h1M41 62h4M10 62h2M2 62h1M47 63h2M9 63h1M20 63h1M44 63h2M42 63h1M48 64h1M41 64h1M38 64h1M4 64h1M43 64h3M49 65h1M28 65h2M38 65h2M12 65h2M41 65h3M17 65h2M36 65h1M21 66h1M39 66h2M29 66h1M13 66h1M18 66h2M42 66h1M6 66h1M31 66h1M3 66h1M36 66h2M49 66h2"/>
<path stroke="#00fff1" d="M31 63h1M4 63h1M46 63h1M10 63h1M46 64h2M42 64h1M28 64h1M5 64h1M2 64h1M4 65h2M33 65h1M11 65h1M44 65h2M41 66h1M38 66h1M28 66h1M43 66h3M11 66h2M5 66h1M30 66h1M17 66h1M22 66h1M7 67h1M15 67h1M0 67h1M27 67h1M26 68h1M14 69h1"/>
<path stroke="#00ffda" d="M46 65h1M4 66h1M20 66h1M33 66h1M40 67h1M34 67h1M14 67h1M21 67h1M17 67h3M14 68h2M19 68h1"/>
<path stroke="#00ffc2" d="M46 66h1M24 66h1M9 67h1M20 67h1M22 67h1M35 67h1M13 67h1M25 67h2M16 67h1M39 67h1M45 67h2M6 68h2M33 68h3M29 68h1M42 68h1M40 68h1M0 68h1M27 68h1M1 69h1M17 69h1M25 69h2M15 69h1M38 69h1M28 69h1M35 69h2M14 70h3M32 70h1M40 70h1M34 70h1M0 70h1M27 70h1M32 73h1M7 73h1"/>
<path stroke="#00ffaa" d="M28 67h4M1 67h2M43 67h1M4 67h3M47 67h2M36 67h3M8 67h1M11 67h1M41 68h1M13 68h1M44 68h1M36 68h4M28 68h1M16 68h3M25 68h1M1 68h1M9 68h1M48 68h1M4 68h2M20 68h3M29 69h1M19 69h1M31 69h1M4 69h3M21 69h2M0 69h1M39 69h1M27 69h1M37 69h1M35 70h3M13 70h1M6 70h1M25 70h2M28 70h1M17 70h1M29 71h1M7 71h1M40 71h1M19 72h1M0 72h1M7 72h2M16 73h1M40 73h1M26 73h1M32 74h1"/>
<path stroke="#00ff92" d="M12 67h1M10 67h1M33 67h1M44 67h1M43 68h1M10 68h2M45 68h1M31 68h1M16 69h1M43 69h3M18 69h1M34 69h1M11 69h3M40 69h2M21 70h2M49 70h1M29 70h2M33 70h1M4 70h2M11 70h1M38 70h2M42 70h3M47 70h1M1 70h2M43 71h1M30 71h1M10 71h2M34 71h1M0 71h1M2 71h1M8 71h1M37 71h3M22 71h1M41 71h1M13 71h1M6 71h1M33 72h2M40 72h1M17 72h2M21 72h1M1 72h1M29 72h1M34 73h1M0 73h1M3 73h1M41 73h1M13 73h1M18 73h2M15 73h1M38 73h1M6 74h2M26 74h1M17 74h1M35 74h1M39 74h2M40 75h1M0 75h1M32 75h1M7 75h1M50 75h1M3 75h1M38 75h1"/>
<path stroke="#00ff72" d="M41 67h2M24 67h1M8 68h1M46 68h2M12 68h1M46 69h3M10 69h1M33 69h1M42 69h1M48 70h1M41 70h1M46 70h1M18 70h1M36 71h1M1 71h1M9 71h1M4 71h2M33 71h1M42 71h1M20 71h2M44 71h5M17 71h2M9 72h5M36 72h4M28 72h1M4 72h3M43 72h3M24 72h1M14 73h1M9 73h1M48 73h1M33 73h1M11 73h1M17 73h1M27 73h4M6 73h1M4 73h1M39 73h1M45 74h1M3 74h2M29 74h1M0 74h2M50 74h1M16 74h1M34 74h1M27 74h1M25 74h1M37 75h1M26 75h3M23 75h1M16 75h2M34 75h2M8 75h2"/>
<path stroke="#00ff52" d="M31 70h1M45 70h1M28 71h1M30 72h1M2 72h1M47 72h2M41 72h2M20 72h1M31 73h1M1 73h2M50 73h1M20 73h2M12 73h1M25 73h1M42 73h6M28 74h1M2 74h1M41 74h2M21 74h1M48 74h1M11 74h1M42 75h1M6 75h1M4 75h1M39 75h1M25 75h1M49 75h1M1 75h1M20 75h3M45 75h1M0 76h1M14 76h1"/>
<path stroke="#00ff31" d="M10 70h1M46 72h1M38 74h1M9 74h2M20 74h1M5 75h1M2 75h1M36 75h1M10 75h3M41 75h1M29 75h1M16 76h1M40 76h1M27 76h1M49 76h1M8 76h1M32 76h1M3 76h1M26 77h1M40 78h1"/>
<path stroke="#00ff10" d="M10 73h1M12 74h1M48 75h1M6 76h2M37 76h1M1 76h1M9 76h1M26 76h1M11 76h1M17 76h1M33 76h3M41 76h1M19 76h1M13 76h1M50 76h1M22 76h2M39 76h1M14 77h3M49 77h1M7 77h1M0 77h1M27 77h1M15 78h1M26 78h2"/>
<path stroke="#0dff00" d="M24 75h1M31 76h1M47 76h1M15 76h1M38 76h1M44 76h1M18 76h1M2 76h1M25 76h1M36 76h1M21 76h1M17 77h1M32 77h1M13 77h1M34 77h2M3 77h1M50 77h1M43 77h1M8 77h2M40 77h1M45 77h1M48 77h1M21 77h3M7 78h1M16 78h1M18 78h1M14 78h1M29 79h1M27 79h1M6 79h2M21 79h1M23 79h1M26 80h1M7 81h1"/>
<path stroke="#26ff00" d="M12 76h1M24 76h1M45 76h2M29 76h2M48 76h1M42 76h2M20 76h1M4 76h2M5 77h1M18 77h1M25 77h1M41 77h2M1 77h1M29 77h3M8 78h2M22 78h2M5 78h2M45 78h1M11 78h3M0 78h4M42 78h1M30 78h2M16 79h1M0 79h1M14 79h1M37 79h1M8 79h1M26 79h1M42 79h2M33 79h1M11 79h1M22 79h1M18 79h2M49 80h1M14 81h2M27 81h1M22 81h1M35 81h1M3 82h1M40 82h1"/>
<path stroke="#3fff00" d="M10 76h1M20 77h1M33 77h1M6 77h1M44 77h1M46 77h1M12 77h1M24 77h1M2 77h1M43 78h2M41 78h1M24 78h2M20 78h2M20 79h1M10 79h1M44 79h2M40 79h2M12 79h2M15 79h1M30 79h1M34 79h1M25 79h1M21 80h1M9 80h1M13 80h2M23 80h1M0 80h2M39 80h2M29 80h1M7 80h1M18 80h1M35 80h2M36 81h1M26 81h1M33 81h1M45 81h1M38 81h1M40 81h1M14 82h1M22 82h1M7 82h1M28 82h1M18 82h1"/>
<path stroke="#59ff00" d="M11 77h1M29 78h1M33 78h2M10 78h1M46 79h2M31 79h1M1 79h2M38 79h1M5 79h1M24 79h1M36 79h1M27 80h2M22 80h1M6 80h1M47 80h1M37 80h2M15 80h1M50 80h1M33 80h2M30 80h1M8 80h1M45 80h1M5 81h2M28 81h2M41 81h1M3 81h1M49 81h2M11 81h2M34 81h1M35 82h1M19 82h1M15 82h1M26 82h2M37 82h3M21 82h1M33 82h1"/>
<path stroke="#72ff00" d="M10 77h1M46 78h1M39 79h1M9 79h1M44 80h1M46 80h1M12 80h1M2 80h1M48 80h1M42 80h1M24 80h2M31 80h1M39 81h1M37 81h1M21 81h1M43 81h2M13 81h1M30 81h2M47 81h1M44 82h3M49 82h2M34 82h1M36 82h1M29 82h2M1 82h1M20 82h1M5 82h2M3 83h1M22 83h2M7 83h1M19 83h1M15 83h1"/>
<path stroke="#8cff00" d="M11 80h1M41 80h1M43 80h1M5 80h1M9 81h1M48 81h1M42 81h1M1 81h2M46 81h1M18 81h1M41 82h1M31 82h1M43 82h1M11 82h2M2 82h1M36 83h1M49 83h1M9 83h1M21 83h1M13 83h2M26 83h1M0 83h2M29 83h1M40 83h2M6 83h1M16 83h1M18 83h1M7 84h1M40 84h1M27 84h1"/>
<path stroke="#a2ff00" d="M42 82h1M13 82h1M9 82h2M48 82h1M33 83h3M47 83h1M50 83h1M38 83h1M4 83h1M30 83h1M12 83h1M2 83h1M25 83h1M27 83h1M20 83h1M3 84h2M19 84h1M14 84h2M36 84h1M21 84h1M26 84h1"/>
<path stroke="#b8ff00" d="M47 82h1M5 83h1M45 83h2M48 83h1M42 83h2M17 83h1M8 84h2M22 84h2M0 84h1M25 84h1M17 84h2M20 84h1M45 84h1M33 84h3M12 84h2M26 85h1M23 85h1"/>
<path stroke="#ceff00" d="M8 83h1M44 83h1M28 83h1M39 83h1M10 83h2M47 84h4M1 84h1M43 84h2M5 84h2M11 84h1M38 84h2M28 84h2M41 84h1M16 84h1M14 85h1M32 85h1M34 85h2M0 85h1M25 85h1"/>
<path stroke="#e4ff00" d="M31 83h1M24 83h1M30 84h2M42 84h1M46 84h1M2 84h1M22 85h1M29 85h1M15 85h4M38 85h1M45 85h1M43 85h1M27 85h1M8 85h1M1 85h1M33 85h1M0 86h2M40 86h1M18 86h1M23 86h1"/>
<path stroke="#faff00" d="M24 84h1M10 84h1M31 85h1M19 85h3M36 85h2M6 85h2M49 85h1M9 85h1M47 85h1M39 85h2M26 86h2M38 86h1M32 86h1M29 86h1M7 86h1M19 86h1M13 86h1"/>
<path stroke="#fff100" d="M41 85h2M10 85h1M44 85h1M50 85h1M28 85h1M46 85h1M24 85h1M14 86h3M49 86h1M45 86h1M47 86h1M6 86h1M34 86h4M39 86h1"/>
<path stroke="#ffdf00" d="M13 85h1M48 85h1M33 86h1M17 86h1M44 86h1M50 86h1M46 86h1M20 86h3M12 86h1M25 86h1M8 86h1M41 86h2M10 86h1"/>
<path stroke="#ffce00" d="M11 85h2M31 86h1M43 86h1M24 86h1M48 86h1M11 86h1"/>
<path stroke="#ffbc00" d="M9 86h1M28 86h1"/></g><g fill="none" transform="translate(.5 0)"><path stroke="#000000" d="M24 4v2M26 4v2M25 6v3M23 14v2M0 21v2M2 22v2M50 24v2M36 24v2M11 24v2M23 24v3M45 30v2M22 31v2M21 36v2M3 37v2"/>
<path stroke="#0c000e" d="M37 23v3M14 25v2"/>
<path stroke="#3a0056" d="M10 4v2M27 6v2M9 31v2M50 32v2M27 41v2"/>
<path stroke="#45006f" d="M23 41v2"/>
<path stroke="#500089" d="M29 41v2M50 41v2M7 42v2M19 42v2M3 42v2M32 44v2"/>
<path stroke="#5a00a1" d="M22 40v2M47 42v2M29 44v2M40 44v2M26 45v2"/>
<path stroke="#5300b1" d="M5 43v2M13 44v2M16 44v2M28 44v3M18 45v2M3 45v3M14 47v2M19 47v2M32 48v2"/>
<path stroke="#4d00c1" d="M11 40v3M28 41v2M42 42v2M31 42v2M4 42v2M6 43v2M2 43v2M8 43v2M27 44v2M17 45v3M50 46v2M23 47v2M0 47v2M34 48v2M1 49v2M18 50v2M32 51v3"/>
<path stroke="#4600d1" d="M46 42v2M30 42v2M12 43v2M31 44v2M20 45v3M13 46v2M17 48v2M19 49v2M0 49v2M7 51v2"/>
<path stroke="#3f00e0" d="M4 44v2M22 45v4M1 47v2M24 49v2M39 49v2M8 51v2M0 54v2"/>
<path stroke="#2400ee" d="M41 47v2M4 51v4M8 53v2M29 54v2M14 54v2M23 55v2M32 55v2"/>
<path stroke="#0800fb" d="M2 47v2M10 49v2M31 51v2M33 51v3M28 52v2M6 55v2M40 56v2M26 56v2"/>
<path stroke="#0014ff" d="M22 52v2M28 54v2M27 56v2M35 56v2M32 57v2M3 57v2"/>
<path stroke="#0030ff" d="M17 56v2"/>
<path stroke="#004cff" d="M33 57v2"/>
<path stroke="#0068ff" d="M32 60v2"/>
<path stroke="#0089ff" d="M35 60v2M0 60v3M26 61v2M3 61v2M32 64v2"/>
<path stroke="#00abff" d="M31 59v2M17 60v2M13 59v4M25 60v3M1 60v3M7 63v2M3 63v2M35 62v4M40 64v2"/>
<path stroke="#00ceff" d="M30 59v2M20 59v4M9 60v3M4 61v2M45 61v2M6 62v3M34 63v2M25 63v2M8 63v2M21 64v2M23 64v3M0 65v2"/>
<path stroke="#00f0ff" d="M24 59v3M10 60v2M46 60v3M5 61v3M30 62v2M33 63v2M22 64v2M8 65v2M1 65v2M34 65v2M25 65v2"/>
<path stroke="#00fff1" d="M24 62v4M20 64v2M9 64v3"/>
<path stroke="#00ffda" d="M10 64v3M2 65v2M23 67v3M32 67v3M3 69v2"/>
<path stroke="#00ffc2" d="M3 67v2M49 67v3M7 69v2M19 70v2M23 70v3M3 71v2M16 71v2"/>
<path stroke="#00ffaa" d="M50 67v4M32 71v2M27 71v2M35 71v3M15 74v2"/>
<path stroke="#00ff92" d="M24 68v2M2 68v2M49 73v2M23 73v2M19 74v2"/>
<path stroke="#00ff72" d="M30 68v2M20 69v2M12 70v2M31 71v2M22 72v3M31 74v2"/>
<path stroke="#00ff52" d="M24 70v2M5 73v2M8 73v2M18 74v2M30 74v2"/>
<path stroke="#00ff31" d="M33 74v2M47 74v2M19 77v2"/>
<path stroke="#00ff10" d="M24 73v2M46 74v2M32 78v2M35 78v2"/>
<path stroke="#0dff00" d="M28 76v2"/>
<path stroke="#26ff00" d="M47 77v2M50 78v2M3 79v2M19 80v2M32 80v3M0 81v2"/>
<path stroke="#3fff00" d="M28 78v2M4 77v4M16 80v3"/>
<path stroke="#59ff00" d="M20 80v2M17 78v5M23 81v2"/>
<path stroke="#72ff00" d="M10 80v2M8 81v2M32 83v2"/>
<path stroke="#8cff00" d="M4 81v2"/>
<path stroke="#b8ff00" d="M37 83v2"/>
<path stroke="#faff00" d="M3 85v2"/>
<path stroke="#fff100" d="M4 85v2"/>
<path stroke="#ffdf00" d="M5 85v2M30 85v2M2 85v2"/></g></pattern><rect x="87" y="123" width="50" height="87" fill="url(#t1a)"/>
<g><path fill="#000000" d="M137 142h9v3h-9z"/>
<path fill="#3a0056" d="M137 128h9v2h-9z"/>
<path fill="#45006f" d="M137 159h9v3h-9z"/>
<path fill="#5300b1" d="M137 123h9v3h-9zM137 150h9v2h-9z"/>
<path fill="#4d00c1" d="M137 166h9v3h-9z"/>
<path fill="#4600d1" d="M137 170h9v2h-9z"/>
<path fill="#3f00e0" d="M137 175h9v2h-9z"/>
<path fill="#0030ff" d="M137 179h9v3h-9z"/>
<path fill="#00abff" d="M137 183h9v3h-9z"/>
<path fill="#00ceff" d="M137 186h9v2h-9z"/>
<path fill="#00ff72" d="M137 196h9v3h-9z"/>
<path fill="#8cff00" d="M137 206h9v2h-9z"/></g><g fill="none" transform="translate(0 .5)"><path stroke="#000000" d="M137 149h9M137 152h9M137 154h9M137 158h9"/>
<path stroke="#3a0056" d="M137 131h9M137 155h9M137 157h9"/>
<path stroke="#5a00a1" d="M137 153h9"/>
<path stroke="#5300b1" d="M137 164h9M137 169h9"/>
<path stroke="#4d00c1" d="M137 163h9M137 172h9M137 174h9"/>
<path stroke="#4600d1" d="M137 165h9"/>
<path stroke="#3f00e0" d="M137 173h9"/>
<path stroke="#2400ee" d="M137 177h9"/>
<path stroke="#0800fb" d="M137 162h9"/>
<path stroke="#004cff" d="M137 178h9"/>
<path stroke="#0089ff" d="M137 182h9"/>
<path stroke="#00f0ff" d="M137 188h9"/>
<path stroke="#00fff1" d="M137 189h9"/>
<path stroke="#00ffc2" d="M137 190h9"/>
<path stroke="#00ffaa" d="M137 191h9M137 193h9M137 195h9"/>
<path stroke="#00ff92" d="M137 192h9M137 194h9"/>
<path stroke="#00ff10" d="M137 199h9"/>
<path stroke="#0dff00" d="M137 200h9M137 202h9"/>
<path stroke="#26ff00" d="M137 201h9M137 203h9"/>
<path stroke="#59ff00" d="M137 205h9"/>
<path stroke="#72ff00" d="M137 204h9"/>
<path stroke="#e4ff00" d="M137 208h9"/>
<path stroke="#fff100" d="M137 209h9"/></g>
<g><path fill="#000000" d="M369 159h9v2h-9z"/>
<path fill="#3a0056" d="M369 130h9v2h-9zM369 156h9v3h-9z"/>
<path fill="#5a00a1" d="M369 152h9v2h-9zM369 163h9v2h-9z"/>
<path fill="#5300b1" d="M369 123h9v3h-9zM369 150h9v2h-9z"/>
<path fill="#4600d1" d="M369 169h9v2h-9z"/>
<path fill="#0030ff" d="M369 179h9v2h-9z"/>
<path fill="#00ceff" d="M369 182h9v4h-9z"/>
<path fill="#00f0ff" d="M369 186h9v2h-9z"/>
<path fill="#00fff1" d="M369 188h9v2h-9z"/>
<path fill="#00ffaa" d="M369 190h9v3h-9zM369 197h9v2h-9z"/>
<path fill="#00ff92" d="M369 195h9v2h-9z"/>
<path fill="#00ff52" d="M369 201h9v2h-9z"/>
<path fill="#72ff00" d="M369 206h9v2h-9z"/></g><g fill="none" transform="translate(0 .5)"><path stroke="#000000" d="M369 137h9M369 139h9M369 141h9M369 144h9M369 146h9M369 148h9"/>
<path stroke="#0c000e" d="M369 142h9"/>
<path stroke="#3a0056" d="M369 128h9M369 154h9"/>
<path stroke="#45006f" d="M369 126h9M369 161h9"/>
<path stroke="#500089" d="M369 165h9"/>
<path stroke="#4d00c1" d="M369 167h9"/>
<path stroke="#4600d1" d="M369 166h9M369 174h9"/>
<path stroke="#3f00e0" d="M369 171h9"/>
<path stroke="#2400ee" d="M369 172h9M369 176h9"/>
<path stroke="#0800fb" d="M369 162h9M369 168h9M369 173h9M369 175h9M369 178h9"/>
<path stroke="#0014ff" d="M369 177h9"/>
<path stroke="#004cff" d="M369 181h9"/>
<path stroke="#00ffaa" d="M369 194h9"/>
<path stroke="#00ff92" d="M369 193h9"/>
<path stroke="#00ff52" d="M369 199h9"/>
<path stroke="#00ff31" d="M369 200h9M369 204h9"/>
<path stroke="#00ff10" d="M369 203h9M369 205h9"/>
<path stroke="#a2ff00" d="M369 208h9"/>
<path stroke="#b8ff00" d="M369 209h9"/></g>
<pattern id="t1b" x="378" y="123" width="53" height="87" patternUnits="userSpaceOnUse"><g><path fill="#000000" d="M40 25h2v2h-2z"/>
<path fill="#500089" d="M20 40h2v2h-2zM46 42h2v2h-2z"/>
<path fill="#5a00a1" d="M0 29h53v2h-53z"/>
<path fill="#5300b1" d="M0 0h53v3h-53z"/>
<path fill="#4d00c1" d="M12 46h2v2h-2z"/>
<path fill="#0800fb" d="M23 54h2v2h-2z"/>
<path fill="#0030ff" d="M15 56h2v2h-2z"/>
<path fill="#0089ff" d="M28 61h2v2h-2z"/>
<path fill="#00abff" d="M40 59h2v2h-2z"/>
<path fill="#00ceff" d="M42 59h2v2h-2zM33 63h4v2h-4zM51 64h2v2h-2z"/>
<path fill="#00f0ff" d="M6 62h2v2h-2zM40 65h2v2h-2zM48 65h2v2h-2z"/>
<path fill="#00fff1" d="M42 65h2v2h-2zM28 67h2v2h-2z"/>
<path fill="#00ffda" d="M47 70h2v2h-2z"/>
<path fill="#00ffc2" d="M45 68h2v2h-2z"/>
<path fill="#00ffaa" d="M42 70h2v2h-2z"/>
<path fill="#00ff31" d="M45 79h2v2h-2zM34 79h2v2h-2zM47 81h2v2h-2z"/>
<path fill="#00ff10" d="M15 81h2v2h-2z"/></g><g fill="none" transform="translate(0 .5)"><path stroke="#000000" d="M40 3h1M33 3h1M11 3h1M42 3h1M4 3h1M15 4h1M44 4h1M41 4h1M30 4h1M32 5h1M37 5h1M40 6h1M46 6h1M19 6h1M4 6h1M28 6h1M23 6h1M9 7h1M29 7h1M50 7h1M52 7h1M14 7h1M18 7h1M25 8h1M27 8h1M36 8h1M1 8h1M30 8h1M9 9h1M17 9h1M0 10h1M19 10h1M16 10h1M28 10h1M8 11h1M15 11h1M1 11h1M52 11h1M13 11h1M45 11h1M17 11h1M31 12h1M35 12h2M43 12h1M21 13h1M51 13h1M42 13h1M23 13h1M31 14h1M18 14h1M14 15h1M35 15h1M12 16h1M3 16h1M7 16h1M20 16h1M49 16h1M25 17h1M6 17h1M17 17h1M21 18h1M43 18h2M13 18h1M22 19h2M29 19h2M41 19h3M0 19h1M32 19h2M9 19h1M35 19h2M48 19h1M45 19h2M38 19h1M20 19h1M11 19h5M51 19h1M6 19h1M17 19h1M1 20h1M21 20h5M50 20h2M38 20h4M13 20h1M27 20h2M43 20h3M18 20h2M11 20h1M15 21h1M12 21h1M9 21h2M25 21h2M23 21h1M45 21h2M48 21h5M5 21h1M2 21h2M6 22h3M21 22h3M0 22h1M34 22h1M38 22h2M25 22h5M16 22h4M47 22h1M49 22h2M12 22h2M3 22h2M37 23h2M7 23h2M12 23h1M16 23h2M0 23h2M40 23h6M22 23h4M14 23h1M47 23h3M34 23h2M40 24h3M0 24h1M35 24h4M16 24h4M27 24h1M44 24h3M23 24h2M30 24h2M8 24h2M13 24h1M51 24h1M11 24h1M12 25h1M0 25h3M14 25h1M20 25h1M22 25h1M16 25h2M34 25h2M46 25h2M25 25h2M44 25h1M38 25h1M50 25h1M30 25h1M15 26h1M24 26h1M0 26h2M3 26h1M35 26h3M46 26h4M5 26h5M51 26h1M27 26h3M11 26h1M17 26h1M31 28h1M44 28h1M10 28h1M7 28h1M8 31h1M26 31h1M13 31h1M29 32h2M18 32h1M22 32h1M6 32h1M3 32h2M34 33h1M8 33h1M41 33h2M11 33h1M15 33h2M12 34h1M3 34h1M27 34h1M51 34h1M43 34h1M14 35h1M49 35h1M26 35h1M45 35h1M11 35h1M22 35h1M29 35h1M19 35h1M41 36h2M0 36h1M48 36h1M23 36h1M7 37h1M17 37h2M43 37h1M47 37h1M29 38h1M19 38h1M38 38h1M51 38h1M47 38h3"/>
<path stroke="#0c000e" d="M33 18h1M5 18h1M1 18h1M49 19h2M2 20h1M47 20h1M37 21h1M20 21h1M13 21h1M8 21h1M13 23h1M4 23h1M51 23h1M18 23h1M7 24h1M49 24h2M48 25h1M10 25h1M33 25h1M45 25h1M20 26h1M25 26h1"/>
<path stroke="#18001c" d="M44 13h1M27 13h1M32 14h1M12 15h1M37 15h1M13 16h1M33 16h1M27 16h1M5 17h1M51 17h1M0 17h1"/>
<path stroke="#24002a" d="M39 9h2M7 10h1M11 10h1M40 11h1M37 11h1M48 11h1M16 11h1M30 12h1M26 12h1M5 12h1M33 12h1"/>
<path stroke="#3a0056" d="M23 4h1M13 4h1M26 4h1M45 4h2M31 4h7M7 4h2M16 4h2M19 4h3M28 4h2M42 4h2M39 4h2M0 4h3M50 4h3M10 4h1M30 5h2M4 5h2M7 5h3M33 5h4M38 5h9M51 5h1M24 5h2M21 5h1M11 5h1M0 5h2M13 5h7M48 5h2M20 6h1M47 6h1M6 6h1M50 6h1M1 6h1M31 6h3M39 6h1M16 6h3M10 6h5M41 6h5M20 7h3M4 7h1M15 7h2M31 7h4M37 7h5M8 7h1M46 7h1M24 7h1M10 7h4M0 7h2M44 7h1M46 8h2M31 8h1M41 8h3M28 8h1M20 8h2M38 8h1M33 8h2M0 8h1M12 8h1M2 8h1M50 8h3M23 8h2M6 8h2M10 8h1M14 8h5M14 31h4M1 31h7M22 31h4M51 31h1M11 31h2M47 31h3M9 31h1M39 31h1M41 31h5M27 31h8M19 31h1M23 32h5M33 32h9M0 32h3M43 32h7M51 32h2M5 32h1M17 32h1M31 32h1M7 32h9M20 32h2M2 33h6M38 33h1M49 33h4M9 33h2M40 33h1M32 33h2M0 33h1M28 33h3M17 33h6M12 33h3M24 33h3M43 33h4M35 33h1M4 34h8M52 34h1M28 34h11M40 34h3M44 34h7M0 34h3M13 34h14M23 35h3M15 35h4M12 35h2M20 35h2M50 35h3M40 35h5M46 35h3M0 35h11M30 35h9M27 35h2M44 40h1M18 40h1M22 40h1M47 41h1M39 41h1M25 41h1M14 41h1M21 42h1M29 42h1M15 43h1M50 43h1"/>
<path stroke="#45006f" d="M22 3h2M44 3h7M52 3h1M25 3h3M29 3h4M8 3h3M5 3h2M17 3h1M35 3h1M0 3h2M13 3h1M3 3h1M15 3h1M38 3h1M49 36h4M43 36h5M1 36h22M24 36h17M19 37h24M0 37h7M44 37h1M48 37h5M8 37h9M20 38h9M39 38h6M0 38h19M50 38h1M52 38h1M30 38h8M52 40h1M8 40h1M37 40h1M19 40h1M25 40h2M43 40h1M40 41h1M36 41h1M28 41h2M51 41h2M42 41h1M3 41h1M44 41h1M45 42h1M11 42h1M50 42h1M5 43h1M52 43h1M33 43h1M24 44h1M45 44h1M1 45h1"/>
<path stroke="#500089" d="M9 40h1M45 40h1M17 40h1M3 40h1M48 40h2M14 40h2M12 40h1M35 40h2M39 40h3M51 40h1M50 41h1M33 41h2M37 41h1M10 42h1M33 42h1M13 42h1M25 42h2M44 42h1M16 42h1M22 42h2M8 42h1M22 43h1M19 43h1M40 43h1M36 43h1M14 43h1M10 44h1M50 44h1M43 44h1M52 44h1M1 44h1M12 45h1M10 46h1M47 46h1M16 46h1M25 46h1M52 46h1M37 46h1"/>
<path stroke="#5a00a1" d="M47 40h1M38 40h1M16 40h1M33 40h2M28 40h3M0 40h1M23 40h2M6 40h2M11 40h1M7 41h1M19 41h1M30 41h2M22 41h2M26 41h1M10 41h1M17 41h1M28 42h1M48 42h2M14 42h2M5 42h1M30 42h1M34 42h1M0 42h3M52 42h1M36 42h1M39 42h2M29 43h1M41 43h1M38 43h2M18 43h1M45 43h1M25 44h2M28 44h1M33 44h2M46 44h1M37 44h1M13 44h2M17 44h1M39 44h2M50 45h1M30 45h1M39 45h1M25 45h1M52 45h1M10 45h1M29 46h1M21 46h2M18 46h1M1 46h1M43 46h2M0 47h2M34 47h1M39 47h1M14 47h1M9 47h1M20 47h1M50 48h1M28 48h1M37 48h1M21 48h1M52 49h1M50 51h1M25 51h1M3 54h1"/>
<path stroke="#5300b1" d="M0 27h13M14 27h39M45 28h8M11 28h20M0 28h7M32 28h12M8 28h2M5 40h1M2 40h1M27 40h1M10 40h1M42 40h1M50 40h1M18 41h1M24 41h1M45 41h2M49 41h1M11 41h1M5 41h2M41 41h1M38 41h1M43 41h1M8 41h2M12 42h1M35 42h1M19 42h1M41 42h3M34 43h1M27 43h1M25 43h1M10 43h1M0 43h2M4 43h1M20 43h2M12 44h1M2 44h1M36 44h1M9 44h1M5 44h2M29 44h1M21 45h2M14 45h1M8 45h1M26 45h1M17 45h1M44 45h2M40 45h2M36 45h2M28 45h1M39 46h1M36 46h1M27 46h2M41 46h1M19 46h1M31 46h1M50 46h1M30 47h1M46 47h1M50 47h3M8 47h1M37 47h1M48 47h1M42 47h1M16 47h1M12 48h1M36 48h1M33 48h1M3 48h1M14 49h1M51 49h1M28 49h1M49 50h1M1 50h1M37 50h1M23 50h1M8 50h2M47 52h1M31 52h1M1 55h1"/>
<path stroke="#4d00c1" d="M31 40h2M46 40h1M48 41h1M15 41h2M32 41h1M35 41h1M0 41h1M12 41h1M27 41h1M20 42h1M6 42h1M31 42h1M38 42h1M24 42h1M17 42h2M43 43h2M11 43h3M16 43h2M28 43h1M30 43h1M2 43h1M8 43h1M7 44h2M21 44h1M35 44h1M41 44h1M18 44h2M44 44h1M38 44h1M4 44h1M47 44h2M9 45h1M48 45h1M29 45h1M43 45h1M4 45h3M34 45h1M0 45h1M20 46h1M48 46h2M4 46h1M30 46h1M2 46h1M28 47h2M19 47h1M20 48h1M9 48h2M14 48h1M49 48h1M1 49h1M19 49h2M10 49h1M46 49h2M3 49h1M49 49h2M12 49h1M8 49h1M37 49h1M33 50h1M11 50h1M28 50h2M19 50h1M47 50h1M0 50h1M26 51h1M10 51h1M29 51h1M15 51h1M21 51h2M40 51h1M46 51h1M17 51h2M51 51h1M37 51h1M39 52h1M33 53h1M28 53h1"/>
<path stroke="#4600d1" d="M2 41h1M4 42h1M27 42h1M32 42h1M6 43h1M24 43h1M48 43h1M26 43h1M35 43h1M30 44h1M0 44h1M27 44h1M22 44h1M7 45h1M13 45h1M47 45h1M38 45h1M18 45h1M24 45h1M35 45h1M5 46h1M34 46h1M0 46h1M23 46h2M14 46h1M9 46h1M26 46h1M31 47h1M36 47h1M49 47h1M33 47h1M22 47h3M41 47h1M19 48h1M40 48h2M6 48h1M44 48h1M4 48h1M30 48h1M0 48h1M51 48h2M35 48h1M13 49h1M15 49h1M33 49h2M25 49h1M36 49h1M9 49h1M45 49h1M23 49h1M6 50h1M2 50h2M30 50h1M35 50h2M14 50h3M51 50h1M20 50h3M19 51h1M47 51h1M38 51h1M28 51h1M5 51h1M0 51h1M8 51h1M12 51h3M23 51h1M46 52h1M18 52h1M12 52h1M51 52h1M20 52h1M6 53h1M15 53h1M3 53h1M49 53h1M5 54h1M34 54h1M36 54h1M1 54h1M3 55h1M30 55h1M37 55h1M17 55h1"/>
<path stroke="#3f00e0" d="M46 45h1M2 45h1M19 45h1M45 46h2M51 46h1M6 46h2M18 47h1M21 47h1M26 47h1M10 47h1M44 47h2M7 47h1M4 47h1M5 48h1M34 48h1M8 48h1M1 48h1M48 48h1M45 48h1M23 48h1M13 48h1M15 48h1M43 48h1M24 49h1M21 49h1M35 49h1M41 49h1M6 49h1M38 49h1M16 49h1M10 50h1M45 50h1M32 50h1M25 50h2M50 50h1M35 51h2M33 51h1M41 51h1M6 51h1M48 51h2M4 51h1M34 52h1M0 52h1M52 52h1M36 52h1M8 52h1M48 52h1M26 52h1M45 52h1M29 52h1M19 52h1M50 52h1M5 53h1M21 53h2M12 53h1M10 53h1M32 53h1M7 53h1M18 53h2M1 53h2M36 53h2M2 54h1M25 54h1M52 54h1M49 54h1M33 54h1M17 54h1M29 54h1M15 54h1M38 54h1M34 55h1M12 55h1M51 55h1M26 55h1"/>
<path stroke="#2400ee" d="M42 43h1M27 45h1M8 46h1M6 47h1M27 47h1M18 48h1M46 48h1M4 49h2M30 49h1M2 49h1M0 49h1M41 50h2M17 50h1M38 50h2M7 50h1M12 50h2M5 50h1M24 50h1M20 51h1M16 51h1M27 51h1M30 51h3M49 52h1M4 52h4M33 52h1M17 52h1M22 52h3M35 52h1M42 52h1M37 52h2M28 52h1M14 52h2M40 52h1M29 53h2M13 53h2M25 53h3M20 53h1M45 53h1M23 53h1M38 53h2M34 53h2M43 53h1M8 53h2M4 53h1M50 53h3M47 53h2M37 54h1M26 54h1M9 54h1M11 54h3M35 54h1M31 54h1M16 54h1M21 54h2M18 54h1M0 54h1M39 54h1M6 54h2M48 55h1M11 55h1M19 55h1M39 55h2M7 55h3M2 55h1M25 55h1M52 55h1M36 55h1"/>
<path stroke="#0800fb" d="M0 39h53M32 43h1M43 47h1M5 47h1M32 47h1M38 48h1M16 48h1M24 48h1M7 49h1M31 50h1M4 50h1M46 50h1M27 50h1M24 51h1M39 51h1M45 51h1M41 52h1M13 52h1M25 52h1M27 52h1M21 52h1M10 52h1M42 53h1M31 53h1M24 53h1M0 53h1M43 54h1M30 54h1M40 54h1M46 54h1M19 54h2M48 54h1M41 55h1M13 55h1M20 55h2M18 55h1M10 55h1M15 55h2M49 56h4M39 56h1M25 56h1M22 56h1M28 56h2M3 58h1M52 58h1M1 58h1"/>
<path stroke="#0014ff" d="M7 48h1M7 51h1M42 51h1M30 52h1M32 52h1M40 53h1M46 53h1M11 53h1M17 53h1M4 54h1M51 54h1M8 54h1M42 54h1M46 55h1M0 55h1M42 55h2M5 55h2M22 55h1M29 55h1M31 55h1M43 56h1M30 56h1M34 56h1M2 56h1M36 56h1M48 56h1M26 56h1M8 56h3M45 56h1M23 56h1M40 56h2M17 56h5M12 56h2M12 57h1M39 57h1M17 57h2M50 57h2M22 57h1M28 57h2M41 57h1M25 57h2M25 58h1M51 58h1M37 58h1M10 58h1M35 58h1M47 58h1"/>
<path stroke="#0030ff" d="M10 54h1M38 55h1M4 55h1M4 56h4M31 56h1M46 56h1M8 57h1M34 57h3M21 57h1M10 57h1M19 57h1M13 57h1M30 57h2M48 57h2M38 57h1M40 57h1M23 57h2M45 57h2M52 57h1M45 58h1M28 58h2M12 58h4M43 58h1M49 58h2M33 58h2M5 58h1M39 58h3M36 58h1M17 58h6"/>
<path stroke="#004cff" d="M49 55h1M38 56h1M24 56h1M7 57h1M43 57h1M9 57h1M20 57h1M4 57h2M11 57h1M7 58h3M42 58h1M16 58h1M30 58h1M46 58h1M0 58h1M48 58h1M26 58h1M23 58h1M3 59h1M1 60h1"/>
<path stroke="#0068ff" d="M11 56h1M24 58h1M31 58h2M38 58h1M11 58h1M4 58h1M25 59h1M1 59h1M37 59h1M33 59h1M22 59h1M28 59h2M47 59h1M44 59h1M14 60h1M51 60h1M3 60h1M52 61h1"/>
<path stroke="#0089ff" d="M27 58h1M8 59h1M26 59h1M45 59h1M19 59h1M14 59h4M5 59h1M34 59h1M12 59h1M50 59h3M10 60h1M20 60h1M44 60h2M25 60h2M36 60h2M49 60h2M28 60h3M52 60h1M37 61h1M39 61h2M13 61h1M44 61h1M25 61h1M51 62h1M14 62h1M51 63h2M1 64h1"/>
<path stroke="#00abff" d="M7 59h1M13 59h1M48 59h2M20 59h2M30 59h1M46 59h1M35 59h2M9 59h3M7 60h3M34 60h2M12 60h2M21 60h1M15 60h2M41 61h1M18 61h4M14 61h2M30 61h1M48 61h4M12 61h1M45 61h2M8 61h1M34 61h3M40 62h2M34 62h2M16 62h3M20 62h4M52 62h1M40 63h1M22 63h2M14 63h1M9 63h1M17 63h1M28 63h2M39 64h1M22 64h1M29 65h1M3 65h1"/>
<path stroke="#00ceff" d="M31 59h2M38 59h1M46 60h1M48 60h1M11 60h1M19 60h1M31 60h1M16 61h1M2 61h1M23 61h2M9 61h3M7 61h1M12 62h1M24 62h1M45 62h2M36 62h1M49 62h1M8 62h3M15 62h1M8 63h1M41 63h2M10 63h1M15 63h2M18 63h4M12 63h2M48 63h2M40 64h1M12 64h1M28 64h3M14 64h3M48 64h1M8 64h3M23 64h1M19 64h3M28 65h1M21 65h2M5 65h1M18 65h1M14 65h1M9 65h1M50 66h3M25 66h1M37 66h1M29 66h1M44 66h1"/>
<path stroke="#00f0ff" d="M32 60h1M38 60h1M6 61h1M43 61h1M48 62h1M19 62h1M13 62h1M2 62h1M31 63h2M38 63h1M43 63h1M49 64h1M7 64h1M13 64h1M31 64h1M41 64h3M17 64h2M8 65h1M19 65h2M10 65h1M33 65h1M23 65h1M45 65h1M6 65h1M12 65h2M25 65h2M38 65h1M15 65h3M30 65h1M35 65h2M26 66h1M8 66h3M12 66h9M28 66h1M5 66h1M22 66h2M33 66h4M51 67h1M37 67h1M33 67h1M1 68h1M22 68h1M47 68h1M15 68h1M29 69h1M52 69h1M51 70h1"/>
<path stroke="#00fff1" d="M43 62h1M6 64h1M38 64h1M27 64h1M32 64h1M7 65h1M31 65h1M46 65h1M34 65h1M11 65h1M38 66h1M30 66h1M2 66h1M45 66h2M6 66h2M21 66h1M19 67h1M39 67h2M47 67h1M13 67h3M36 67h1M1 67h1M9 67h1M22 67h1M16 68h1M2 68h1M39 68h1M21 68h1M13 68h2M47 69h1M50 69h2M30 69h1M37 69h1M22 69h1M19 70h1M28 70h1M40 70h1M52 70h1M39 71h1M37 71h1M3 72h1M22 72h1M39 73h1M25 73h1M3 74h1"/>
<path stroke="#00ffda" d="M27 65h1M32 65h1M4 66h1M11 66h1M31 66h1M20 67h2M38 67h1M5 67h1M16 67h3M7 67h2M45 67h1M41 67h1M34 67h2M40 68h1M30 68h1M18 68h3M34 68h1M12 68h1M51 68h1M49 68h1M9 68h1M26 68h1M5 68h2M42 68h1M36 68h2M8 69h2M2 69h1M21 69h1M17 69h1M13 69h1M34 69h2M31 69h1M28 69h1M48 69h2M21 70h2M12 70h3M29 70h2M10 70h1M33 70h1M16 70h2M25 70h2M50 70h1M36 70h2M16 71h1M8 71h2M50 71h3M28 71h3M14 71h1M3 71h1M5 72h1M25 72h1M10 72h1M33 72h1M50 72h2M28 72h2M47 72h1M44 72h1M34 73h1M36 73h1M50 73h1M3 73h1M1 74h1M22 74h1M47 74h1M28 74h1M29 75h1M3 75h1"/>
<path stroke="#00ffc2" d="M32 66h1M27 66h1M26 67h1M10 67h3M6 67h1M48 67h2M4 67h1M46 67h1M30 67h1M2 67h1M7 68h2M17 68h1M35 68h1M41 68h1M31 68h1M24 68h1M10 68h2M14 69h3M41 69h2M19 69h2M26 69h1M10 69h3M5 69h2M36 69h1M20 70h1M4 70h2M45 70h1M41 70h1M7 70h3M34 70h2M31 70h1M15 70h1M18 70h1M10 71h3M44 71h2M18 71h6M25 71h2M5 71h1M33 71h4M37 72h1M45 72h1M23 72h1M41 72h1M30 72h2M7 72h3M34 72h2M19 72h3M12 72h1M39 72h1M52 72h1M14 72h1M8 73h1M49 73h1M26 73h1M10 73h1M28 73h2M35 73h1M51 73h2M40 73h2M47 73h1M13 73h3M18 73h1M22 73h2M0 73h1M29 74h2M33 74h1M25 74h2M44 74h1M49 74h4M2 74h1M39 74h3M14 74h1M9 75h1M22 75h1M51 75h2M28 75h1M25 75h1M29 76h1M50 76h1M52 76h1"/>
<path stroke="#00ffaa" d="M24 67h1M31 67h2M48 68h1M7 69h1M43 69h1M40 69h1M18 69h1M6 70h1M2 70h1M27 70h1M11 70h1M7 71h1M31 71h1M15 71h1M17 71h1M15 72h4M48 72h2M0 72h1M26 72h1M44 73h3M16 73h1M30 73h1M12 73h1M2 73h1M6 73h2M9 73h1M21 73h1M33 73h1M13 74h1M34 74h2M6 74h3M31 74h1M15 74h5M0 74h1M10 74h1M35 75h1M40 75h2M49 75h2M5 75h1M30 75h1M2 75h1M21 75h1M26 75h1M14 75h5M33 75h1M23 75h1M44 76h1M51 76h1M14 76h1M52 77h1M1 77h1M47 79h1"/>
<path stroke="#00ff92" d="M42 67h1M27 69h1M41 71h1M36 72h1M32 72h1M31 73h2M17 73h1M19 73h1M46 74h1M27 74h1M21 74h1M9 74h1M23 74h1M42 74h1M4 75h1M34 75h1M24 75h1M0 75h1M6 75h2M31 75h2M19 75h2M13 75h1M42 75h3M48 76h2M22 76h1M35 76h1M7 76h1M19 76h1M12 76h2M28 77h1M13 77h2M17 77h1M50 77h2M39 77h2M47 77h1M44 77h1M39 78h1M37 78h1M1 78h1M50 78h1M52 79h1M33 79h1"/>
<path stroke="#00ff72" d="M46 72h1M24 72h1M32 74h1M43 74h1M48 75h1M27 75h1M36 76h1M9 76h1M20 76h1M15 76h4M40 76h2M6 76h1M4 76h1M28 76h1M30 76h1M34 76h1M23 76h2M19 77h2M29 77h2M22 77h3M7 77h3M42 77h1M34 77h4M15 77h1M5 77h1M2 77h1M8 78h1M47 78h2M20 78h1M10 78h1M17 78h1M44 78h1M3 78h1M14 78h2M34 78h1M40 78h1M52 78h1M37 79h1M13 79h2M0 79h2M28 79h1M20 80h1M29 80h1M47 80h1M44 80h1M50 80h1M37 81h1"/>
<path stroke="#00ff52" d="M42 76h1M31 76h1M5 76h1M2 76h1M45 76h1M41 77h1M4 77h1M43 77h1M45 77h2M48 77h1M10 77h1M32 77h1M12 78h2M25 78h2M41 78h3M28 78h1M30 78h1M0 78h1M35 78h2M49 78h1M9 78h1M45 78h1M23 78h1M33 78h1M41 79h1M19 79h1M44 79h1M5 79h1M21 79h1M48 79h1M10 79h1M15 79h2M51 80h2M40 80h1M17 80h2M36 80h3M26 80h1M33 80h1M3 81h1M44 81h1M25 81h1"/>
<path stroke="#00ff31" d="M43 76h1M27 76h1M32 76h1M11 77h2M49 77h1M6 77h1M5 78h1M46 78h1M21 78h1M19 78h1M7 78h1M4 79h1M49 79h2M40 79h1M12 79h1M17 79h2M30 79h3M9 79h1M26 79h1M42 79h2M6 79h1M16 80h1M5 80h1M10 80h4M21 80h1M19 80h1M48 80h2M24 81h1M30 81h1M33 81h4M39 81h3M8 81h1M26 81h1M17 81h4M10 81h1M22 81h1M51 81h2M22 82h2M25 82h1M1 82h3M14 82h1M51 82h1M20 82h1M33 82h1M39 82h2M44 82h1"/>
<path stroke="#00ff10" d="M38 76h1M32 78h1M6 78h1M4 78h1M24 78h1M36 79h1M20 79h1M38 79h1M23 79h2M41 80h2M32 80h1M15 80h1M4 80h1M30 80h1M24 80h1M42 81h1M12 81h2M4 81h3M52 82h1M26 82h1M10 82h1M5 82h4M18 82h2M30 82h1M0 82h1M35 82h2M45 82h2"/>
<path stroke="#0dff00" d="M6 80h1M31 80h1M7 81h1M45 81h2M31 81h2M17 82h1M12 82h2M31 82h1M37 82h2M4 82h1M24 82h1M34 82h1M41 82h2M9 82h1M40 83h1M25 83h1"/>
<path stroke="#26ff00" d="M38 81h1M43 82h1M27 82h1M32 82h1M44 83h1M36 83h2M1 83h3M51 83h1M48 83h1M29 83h1M28 84h2"/>
<path stroke="#3fff00" d="M52 83h1M20 83h1M10 83h1M33 83h1M45 83h1M23 83h1M15 83h2M13 83h1M50 83h1M28 83h1M30 83h1M51 84h1M1 84h1M13 84h2M22 84h1M3 84h1M5 84h1M39 84h1"/>
<path stroke="#59ff00" d="M38 83h2M47 83h1M8 83h2M4 83h3M21 83h2M34 83h1M14 83h1M49 83h1M26 83h1M11 83h1M25 84h2M30 84h1M44 84h7M52 84h1M8 84h1M37 84h1M20 84h1M33 84h1M10 84h3"/>
<path stroke="#72ff00" d="M46 83h1M12 83h1M31 83h2M35 83h1M7 83h1M17 83h3M42 83h1M4 84h1M40 84h1M15 84h5M34 84h1M2 84h1M23 84h2M36 84h1M9 84h1M21 84h1M3 85h1"/>
<path stroke="#8cff00" d="M43 83h1M24 83h1M6 84h2M42 84h2M35 84h1M31 84h1M51 85h1M48 85h1M33 85h1M22 85h1M29 85h1"/>
<path stroke="#a2ff00" d="M32 84h1M38 84h1M16 85h2M47 85h1M36 85h2M9 85h2M0 85h1M49 85h1M13 85h2M3 86h1M30 86h1M51 86h1M14 86h1"/>
<path stroke="#b8ff00" d="M1 85h2M50 85h1M43 85h1M20 85h2M4 85h1M24 85h1M18 85h1M12 85h1M39 85h3M8 85h1M27 85h2M35 85h1M30 85h2M34 86h1M39 86h1M36 86h1M47 86h2M1 86h1M20 86h1M17 86h1"/>
<path stroke="#ceff00" d="M5 85h2M32 85h1M19 85h1M25 85h2M45 85h2M34 85h1M37 86h1M8 86h1M41 86h2M10 86h1M45 86h1M22 86h3M28 86h2M12 86h2M49 86h2M18 86h1"/>
<path stroke="#e4ff00" d="M38 85h1M23 85h1M11 85h1M35 86h1M19 86h1M25 86h2M31 86h1M16 86h1M43 86h1M5 86h1M40 86h1M33 86h1M21 86h1M9 86h1"/>
<path stroke="#faff00" d="M42 85h1M38 86h1M46 86h1"/>
<path stroke="#fff100" d="M11 86h1M32 86h1M6 86h1M4 86h1M0 86h1M2 86h1"/>
<path stroke="#ffdf00" d="M27 86h1"/></g><g fill="none" transform="translate(.5 0)"><path stroke="#000000" d="M3 18v3M7 20v2M36 20v3M32 21v2M41 21v2M43 21v2M10 22v2M52 22v2M3 23v2M5 24v2M32 25v2M13 26v2M50 31v2M39 33v3M45 37v2"/>
<path stroke="#18001c" d="M45 16v2M8 16v2"/>
<path stroke="#3a0056" d="M27 5v2M3 42v2"/>
<path stroke="#45006f" d="M46 37v2M1 40v2"/>
<path stroke="#5a00a1" d="M13 40v2M9 42v2M33 45v2M3 44v4"/>
<path stroke="#5300b1" d="M37 42v2M7 42v2M51 42v4M49 43v3M26 48v2M52 50v2"/>
<path stroke="#4d00c1" d="M4 40v2M23 43v3M15 44v4M35 46v2M40 46v2M47 47v2M25 47v2M17 48v2M22 48v2M29 48v2M39 48v2M44 49v2M1 51v2M3 51v2"/>
<path stroke="#4600d1" d="M16 44v2M20 44v2M42 44v3M11 44v3M32 44v3M17 46v2M2 47v2M27 48v2M43 49v2M40 49v2M18 49v2M48 49v2M44 51v4"/>
<path stroke="#3f00e0" d="M31 43v3M38 46v2M31 48v2M2 51v2M11 51v2M43 51v2M45 54v2M47 54v2"/>
<path stroke="#2400ee" d="M11 47v3M32 48v2M42 48v2M34 50v2M9 51v2M41 53v2M50 54v2M28 54v2M1 56v2M3 56v2"/>
<path stroke="#0800fb" d="M16 52v2M35 55v2M44 55v2M33 55v3M47 56v2M14 56v2M37 56v2"/>
<path stroke="#0014ff" d="M27 54v2M14 54v2M44 57v2"/>
<path stroke="#0030ff" d="M32 54v2M42 56v2M0 56v2M2 57v2"/>
<path stroke="#0068ff" d="M27 56v2M32 56v2M6 57v2M1 61v3"/>
<path stroke="#0089ff" d="M39 59v2M17 60v2M22 60v2M33 60v3M47 60v3M39 62v2M3 61v4"/>
<path stroke="#00abff" d="M18 59v2M2 59v2M23 59v2M0 59v4M5 60v5M25 62v3M47 63v2M44 62v4M50 62v4M37 62v4M1 65v2"/>
<path stroke="#00ceff" d="M24 59v2M6 59v2M4 59v3M42 61v2M38 61v2M30 62v2M26 61v4M0 63v2M45 63v2M2 63v3M39 65v2M47 65v2M3 66v3"/>
<path stroke="#00f0ff" d="M31 61v2M27 59v5M4 62v2M11 62v3M46 63v2M24 63v2M0 65v2"/>
<path stroke="#00fff1" d="M32 61v2M4 64v2M24 65v2M44 67v2M50 67v2M52 67v2M25 67v3M33 68v2M3 69v2M1 69v5"/>
<path stroke="#00ffda" d="M0 67v2M23 67v2M39 69v2M44 69v2"/>
<path stroke="#00ffc2" d="M43 67v2M23 69v2M0 69v3M49 70v2M2 71v2M20 73v2M5 73v2M12 74v2M37 75v2M1 75v2M39 75v2"/>
<path stroke="#00ffaa" d="M27 67v2M4 68v2M24 69v3M46 70v2M38 68v5M13 71v2M40 71v2M42 72v2M4 71v4M24 73v2M37 73v2M48 73v2M45 74v2M47 75v2M8 75v2M3 76v2"/>
<path stroke="#00ff92" d="M6 71v2M43 72v2M11 72v3M38 73v3M36 74v2M10 75v2M25 76v2M33 76v2M29 78v2M3 79v2"/>
<path stroke="#00ff72" d="M32 68v4M27 71v3M11 75v2M46 75v2M26 76v2M0 76v2M22 78v3M25 79v2M39 79v2M1 80v2"/>
<path stroke="#00ff52" d="M21 76v2M38 77v2M16 77v2M18 77v2M2 78v2M51 78v2M8 79v2M14 80v2M23 80v2M29 81v2M50 81v2"/>
<path stroke="#00ff31" d="M31 77v2M2 80v2M0 80v2M28 80v3"/>
<path stroke="#00ff10" d="M11 78v2M7 79v2M27 77v5M9 80v2M21 81v2"/>
<path stroke="#0dff00" d="M43 80v2M49 81v2"/>
<path stroke="#26ff00" d="M11 81v2"/>
<path stroke="#59ff00" d="M41 83v2"/>
<path stroke="#72ff00" d="M0 83v2"/>
<path stroke="#8cff00" d="M27 83v2"/>
<path stroke="#a2ff00" d="M44 85v2"/>
<path stroke="#b8ff00" d="M52 85v2"/>
<path stroke="#ceff00" d="M15 85v2"/>
<path stroke="#e4ff00" d="M7 85v2"/></g></pattern><rect x="378" y="123" width="207" height="87" fill="url(#t1b)"/>
<pattern id="t1c" x="585" y="123" width="47" height="87" patternUnits="userSpaceOnUse"><g><path fill="#000000" d="M25 20h4v2h-4zM6 24h2v2h-2z"/>
<path fill="#3a0056" d="M38 4h2v2h-2z"/>
<path fill="#5300b1" d="M0 0h47v3h-47z"/>
<path fill="#4600d1" d="M35 47h2v2h-2z"/>
<path fill="#0068ff" d="M32 63h2v3h-2zM39 64h3v2h-3z"/>
<path fill="#0089ff" d="M42 64h2v2h-2z"/>
<path fill="#00abff" d="M24 81h2v2h-2z"/>
<path fill="#00ceff" d="M10 79h2v2h-2z"/>
<path fill="#00f0ff" d="M42 61h2v2h-2zM44 69h2v2h-2zM35 81h3v2h-3z"/>
<path fill="#00fff1" d="M38 72h2v2h-2zM42 78h2v2h-2zM42 81h2v2h-2z"/>
<path fill="#00ffda" d="M3 74h2v2h-2z"/></g><g fill="none" transform="translate(0 .5)"><path stroke="#000000" d="M18 3h1M35 4h1M19 4h1M37 5h1M1 5h1M21 5h1M6 6h1M15 6h1M43 6h1M30 6h1M46 7h1M12 7h1M1 7h1M20 7h1M17 7h1M29 7h1M0 8h1M16 8h1M36 8h1M9 8h2M25 9h1M42 9h1M37 9h1M2 10h1M28 10h1M30 10h1M3 11h1M41 11h1M44 12h1M26 12h1M36 12h1M17 12h1M19 13h1M28 13h1M43 13h1M8 14h1M32 14h1M40 14h1M23 14h1M12 15h1M39 15h1M18 16h1M32 16h1M42 16h1M14 16h1M22 16h1M45 17h1M17 17h2M43 17h1M33 17h1M23 17h1M34 18h1M29 18h1M10 18h1M20 18h1M18 19h1M1 19h2M25 19h2M31 19h3M39 19h1M13 19h3M35 19h1M7 19h1M41 19h1M28 19h1M43 19h2M20 19h3M7 20h2M21 20h1M32 20h2M16 20h4M35 20h2M38 20h1M4 20h2M11 20h4M40 20h4M30 20h1M45 20h1M19 21h2M16 21h2M0 21h3M35 21h1M44 21h3M30 21h4M4 21h1M8 21h2M13 21h1M6 21h1M22 21h1M37 22h1M31 22h1M0 22h1M25 22h1M29 22h1M7 22h6M39 22h3M5 22h1M18 22h2M2 22h2M15 22h2M32 23h6M24 23h1M40 23h1M13 23h3M17 23h3M42 23h1M2 23h5M30 23h1M27 23h2M45 23h1M22 23h1M29 24h2M19 24h2M0 24h1M26 24h1M23 24h1M9 24h4M4 24h1M43 24h1M33 24h1M14 24h1M17 24h1M37 24h1M39 25h1M2 25h1M35 25h2M45 25h2M41 25h2M31 25h2M21 25h1M10 25h1M15 25h4M13 25h1M23 25h5M38 26h2M46 26h1M24 26h1M9 26h1M26 26h1M16 26h1M33 26h1M43 26h2M18 26h2M5 26h3M11 26h2M23 27h1M12 28h1M21 29h1M26 29h1M29 29h1M39 30h1M32 31h1M34 31h1M0 31h1M25 31h2M4 31h1M30 31h1M27 32h1M19 32h2M17 32h1M22 32h1M41 32h1M7 32h1M24 32h2M44 32h1M39 33h1M36 33h1M41 33h2M21 33h1M26 33h1M23 33h1M30 33h1M7 34h2M46 34h1M37 34h1M33 35h1M14 35h1M32 36h2M29 36h1M36 36h1M45 36h1M22 36h1M34 37h1M0 37h1M9 37h1M21 37h1M25 37h1M27 37h1M41 37h1M12 37h2M1 38h1M46 38h1M19 38h1M5 38h1M21 38h2"/>
<path stroke="#0c000e" d="M37 18h1M43 18h1M30 18h1M22 18h1M4 19h1M24 19h1M12 19h1M0 20h2M29 20h1M15 20h1M36 21h2M43 21h1M23 21h1M40 21h1M44 22h1M36 22h1M34 22h1M26 23h1M20 23h1M43 23h2M28 24h1M25 24h1M3 24h1M32 24h1M9 25h1M38 25h1M43 25h1M5 25h1M40 25h1M14 25h1M19 25h2M4 26h1M17 26h1M22 26h1"/>
<path stroke="#18001c" d="M5 13h1M38 13h1M29 14h2M31 15h1M3 15h1M30 16h1M44 16h1M1 17h1M21 17h1M3 17h1"/>
<path stroke="#24002a" d="M31 9h1M35 9h1M41 9h1M23 11h1M33 11h1M22 12h1M4 12h1M42 12h1"/>
<path stroke="#30003d" d="M18 40h1M25 40h1M44 42h1M45 43h1"/>
<path stroke="#3a0056" d="M8 4h2M26 4h5M11 4h5M6 4h1M17 4h1M44 4h2M3 4h2M32 4h1M22 4h3M34 4h1M0 4h2M23 5h1M14 5h1M43 5h2M2 5h2M18 5h3M12 5h1M46 5h1M28 5h3M42 6h1M34 6h2M22 6h2M39 6h1M27 6h1M12 6h3M19 6h2M31 6h2M10 6h1M44 6h2M16 6h2M0 6h4M13 7h1M40 7h2M18 7h2M32 7h2M10 7h2M2 7h1M7 7h2M25 7h3M45 7h1M4 7h2M21 7h3M6 8h1M44 8h2M8 8h1M25 8h2M15 8h1M32 8h4M28 8h2M38 8h2M21 8h1M41 8h2M3 8h1M19 8h1M43 31h2M33 31h1M15 31h3M5 31h8M27 31h3M36 31h3M19 31h6M31 31h1M1 31h1M3 31h1M41 31h1M28 32h5M0 32h3M14 32h3M8 32h1M21 32h1M42 32h2M26 32h1M10 32h3M23 32h1M34 32h7M5 32h2M24 33h2M37 33h2M28 33h1M4 33h3M16 33h3M12 33h3M1 33h1M20 33h1M8 33h3M31 33h4M43 33h4M22 33h1M38 34h8M9 34h6M0 34h7M16 34h21M15 35h2M0 35h14M18 35h15M34 35h13M12 40h1M45 40h1M22 40h1M29 40h1M40 41h1M0 41h1M45 42h1M25 43h1M7 43h1M45 44h1M11 45h1"/>
<path stroke="#45006f" d="M34 3h2M6 3h3M1 3h2M41 3h2M26 3h6M39 3h1M44 3h3M23 3h2M4 3h1M16 3h1M20 3h1M10 3h3M14 3h1M18 36h4M34 36h2M46 36h1M37 36h8M0 36h17M30 36h2M23 36h6M10 37h2M26 37h1M22 37h3M35 37h6M28 37h6M1 37h8M42 37h5M14 37h7M2 38h3M0 38h1M23 38h23M20 38h1M6 38h13M40 40h1M11 40h1M26 40h2M44 40h1M44 41h2M16 41h1M40 42h1M18 42h1M0 42h1M25 42h1M37 42h1M10 42h1M13 42h1M5 43h1M39 43h2M25 44h1M14 44h1M38 44h1M16 45h1M27 48h1"/>
<path stroke="#500089" d="M20 40h1M42 40h1M13 40h1M15 40h1M1 40h2M31 40h3M24 40h1M36 40h1M38 41h2M31 41h1M26 41h2M22 41h2M2 41h1M4 42h1M36 42h1M1 42h1M26 43h1M33 43h1M30 43h1M10 43h2M37 43h1M20 44h1M17 44h1M22 44h1M25 45h2M7 45h2M45 47h1M5 47h1M20 49h1M29 49h1M45 52h1"/>
<path stroke="#5a00a1" d="M27 29h2M22 29h4M30 29h17M0 29h21M0 30h39M40 30h7M41 40h1M34 40h2M28 40h1M46 40h1M0 40h1M23 40h1M3 40h2M16 40h2M4 41h1M25 41h1M9 41h1M32 41h3M11 41h1M16 42h1M8 42h1M26 42h1M35 42h1M44 43h1M14 43h2M34 43h1M0 43h1M19 43h2M22 43h1M15 44h1M26 44h2M4 44h1M10 44h2M46 44h1M8 44h1M42 45h1M40 45h1M0 45h1M17 45h2M20 45h1M22 45h1M3 46h1M16 46h1M5 46h1M24 46h1M39 46h1M35 46h1M0 47h1M2 47h1M15 48h1M18 48h1M26 48h1M25 49h1M31 50h1"/>
<path stroke="#5300b1" d="M0 27h23M24 27h23M0 28h12M13 28h34M37 40h3M21 40h1M19 40h1M8 40h2M24 41h1M36 41h1M8 41h1M17 41h1M28 41h1M5 42h1M34 42h1M12 42h1M39 42h1M43 42h1M46 43h1M35 43h2M1 43h1M23 43h1M3 43h2M42 43h1M18 44h1M36 44h1M0 44h2M39 44h4M16 44h1M24 45h1M27 45h1M1 45h1M37 45h3M32 45h1M19 45h1M3 45h1M43 45h1M11 46h2M46 46h1M18 46h1M0 46h1M31 46h2M20 46h1M7 46h1M25 46h2M38 46h1M4 46h1M21 47h2M14 47h3M40 48h1M44 48h2M7 48h1M13 48h1M24 48h2M1 48h2M4 48h1M24 49h1M37 49h1M11 49h1M16 49h1M25 50h1M14 50h1M32 50h1M5 51h1M26 51h1M44 51h2M22 51h1M13 51h1M25 52h1M20 53h1M45 53h1M14 54h1"/>
<path stroke="#4d00c1" d="M6 40h1M1 41h1M42 41h2M35 41h1M29 41h1M18 41h1M37 41h1M9 42h1M11 42h1M22 42h1M28 42h2M42 42h1M14 42h1M41 43h1M12 43h2M28 43h1M43 43h1M8 43h1M35 44h1M7 44h1M13 44h1M19 44h1M3 44h1M30 44h1M37 44h1M9 45h1M6 45h1M14 45h2M4 45h1M12 45h1M35 45h2M10 46h1M42 46h1M13 46h3M40 46h1M27 46h1M2 46h1M8 46h1M1 47h1M19 47h2M41 47h1M37 47h2M31 47h3M26 47h2M6 47h7M46 47h1M33 48h1M11 48h1M22 48h1M19 48h1M42 48h1M6 48h1M38 48h1M8 48h2M0 48h1M14 48h1M21 49h1M23 49h1M31 49h1M28 49h1M46 49h1M36 49h1M1 50h1M26 50h1M13 50h1M40 50h2M18 50h1M19 51h2M11 51h1M38 51h1M16 51h1M46 51h1M11 53h1M7 53h1M14 53h1M13 54h1M16 54h1M45 55h1"/>
<path stroke="#4600d1" d="M43 40h1M13 41h1M30 42h1M33 42h1M23 42h1M29 43h1M16 43h3M6 44h1M28 44h1M12 44h1M9 44h1M32 44h1M13 45h1M10 45h1M19 46h1M28 46h3M36 46h1M23 46h1M17 46h1M24 47h2M4 47h1M28 47h1M40 47h1M18 47h1M29 48h3M3 48h1M46 48h1M12 48h1M39 48h1M20 48h1M7 49h3M40 49h2M38 49h1M30 49h1M1 49h1M13 49h2M26 49h1M22 49h1M5 50h1M10 50h2M35 50h2M20 50h1M16 50h2M22 50h3M40 51h2M31 51h3M15 51h1M43 51h1M25 51h1M9 51h1M17 51h1M3 52h1M40 52h1M46 52h1M24 52h1M0 52h1M14 52h1M31 52h2M37 52h1M11 52h1M13 53h1M44 53h1M8 53h1M41 53h1M7 54h1M38 54h1M10 54h1"/>
<path stroke="#3f00e0" d="M12 41h1M17 42h1M9 43h1M6 43h1M43 44h1M30 45h1M46 45h1M28 45h1M37 46h1M1 46h1M9 46h1M22 46h1M6 46h1M43 46h1M34 47h1M39 47h1M29 47h2M42 47h2M13 47h1M5 48h1M21 48h1M23 48h1M32 48h1M16 48h1M39 49h1M32 49h3M3 49h2M17 49h3M46 50h1M29 50h2M42 50h2M33 50h1M19 50h1M38 50h1M4 50h1M8 50h2M18 51h1M1 51h1M23 51h1M5 52h1M7 52h2M19 52h2M22 52h1M38 52h2M43 52h1M24 53h1M30 53h3M9 53h1M15 53h1M38 53h1M22 54h2M19 54h2M11 54h1M44 54h2M39 54h2M31 54h1M29 55h1M13 55h1M38 55h1"/>
<path stroke="#2400ee" d="M23 47h1M3 47h1M41 48h1M28 48h1M34 48h1M5 49h2M35 49h1M6 50h1M15 50h1M28 50h1M2 50h1M29 51h2M10 51h1M35 51h1M24 51h1M27 51h1M14 51h1M8 51h1M9 52h1M33 52h3M17 52h1M6 52h1M1 52h2M4 52h1M30 52h1M10 53h1M5 53h2M19 53h1M35 53h3M27 53h1M39 53h1M37 54h1M35 54h1M41 54h1M27 54h4M15 54h1M5 54h1M18 54h1M6 55h1M26 55h2M24 55h1M16 55h3M36 55h1M31 55h2M40 56h1M25 56h1"/>
<path stroke="#0800fb" d="M0 39h47M37 48h1M42 49h1M15 49h1M2 49h1M3 50h1M21 50h1M42 51h1M6 51h1M28 51h1M34 51h1M3 51h2M41 52h1M12 52h2M15 52h1M44 52h1M10 52h1M27 52h2M23 52h1M28 53h1M40 53h1M0 53h1M22 53h1M6 54h1M36 54h1M32 54h1M15 55h1M28 55h1M46 55h1M10 55h2M39 55h5M19 55h2M33 55h1M23 55h1M31 56h1M24 56h1M18 56h1M45 56h2M26 56h1M20 56h1M19 57h1M24 57h2M38 57h1M40 57h1M20 58h1"/>
<path stroke="#0014ff" d="M2 51h1M2 53h1M24 54h1M9 54h1M12 55h1M14 55h1M3 55h2M35 55h1M27 56h1M36 56h1M0 56h5M8 56h3M17 56h1M38 56h2M41 56h1M19 56h1M15 56h1M18 57h1M46 57h1M31 57h2M26 57h1M20 57h1M10 57h1M0 57h2M3 57h1M44 57h1M40 58h1M0 58h1M24 58h3M7 58h1M16 58h1M38 58h1"/>
<path stroke="#0030ff" d="M34 50h1M23 53h1M42 54h1M9 55h1M34 55h1M29 56h2M23 56h1M35 56h1M42 56h1M12 56h1M32 56h2M17 57h1M29 57h1M41 57h1M8 57h2M2 57h1M35 57h2M8 58h1M37 58h1M35 58h1M31 58h1M44 58h1M14 58h2M10 58h2M39 58h1M17 58h2M25 63h1M24 64h2"/>
<path stroke="#004cff" d="M30 55h1M22 55h1M43 56h1M34 56h1M15 57h1M33 57h2M30 57h1M12 57h1M39 57h1M42 57h2M23 57h1M19 58h1M12 58h2M46 58h1M1 58h3M36 58h1M41 58h2M9 58h1M32 58h3M21 58h3M28 58h2M16 63h1M40 63h1M46 63h1M24 63h1M36 63h1M26 63h1M22 63h1M16 65h1M26 65h1M40 66h1M18 66h1"/>
<path stroke="#0068ff" d="M37 57h1M30 58h1M43 58h1M25 59h1M27 63h1M39 63h1M41 63h2M17 63h1M35 63h1M19 63h1M1 63h4M13 63h3M15 64h3M35 64h2M1 64h3M26 64h2M27 65h1M1 65h5M35 65h1M17 65h3M5 66h1M0 66h1M39 66h1M35 66h2M8 66h1M26 66h1M10 66h1M2 66h2M31 66h3M13 66h5"/>
<path stroke="#0089ff" d="M38 59h1M16 59h1M0 60h1M24 61h2M16 62h1M23 63h1M6 63h1M43 63h1M19 64h1M4 64h1M46 64h1M23 65h1M8 65h3M15 65h1M36 65h2M28 65h3M1 66h1M21 66h3M19 66h1M41 66h3M4 66h1M27 66h3M45 76h1M7 76h1M25 76h2M38 77h1M45 78h1M7 79h1M25 80h1"/>
<path stroke="#00abff" d="M29 59h1M31 59h3M26 59h2M40 59h1M18 59h1M0 59h1M24 59h1M7 59h2M13 59h2M4 59h2M22 59h1M35 60h1M7 60h1M1 60h2M14 60h1M24 60h3M33 60h1M17 60h1M29 61h1M31 61h1M16 61h1M40 61h1M2 61h1M0 61h1M13 61h2M26 61h1M24 62h2M18 62h1M38 62h3M31 62h2M1 62h1M7 62h2M10 62h1M6 64h1M23 64h1M21 65h1M30 66h1M34 66h1M12 66h1M37 66h1M9 66h1M25 67h1M38 76h1M44 76h1M24 76h1M7 77h1M5 77h1M26 77h1M45 77h1M38 79h1M5 79h1M25 79h1M16 80h1M24 80h1M7 81h1"/>
<path stroke="#00ceff" d="M39 59h1M35 59h2M1 59h1M17 59h1M23 59h1M19 59h1M15 59h1M43 60h1M39 60h3M8 60h1M31 60h2M3 60h2M15 60h2M21 60h3M13 60h1M18 60h2M4 61h1M22 61h2M12 61h1M39 61h1M1 61h1M32 61h1M7 61h1M17 61h3M15 61h1M0 62h1M35 62h2M26 62h1M33 62h1M11 62h1M22 62h1M29 62h1M19 62h1M2 62h2M13 62h3M5 67h1M18 67h1M7 67h2M45 67h1M11 67h1M38 67h1M44 68h2M24 68h2M31 68h1M14 69h1M25 69h2M45 72h1M46 76h1M32 76h2M10 76h2M35 76h2M29 76h1M3 76h3M4 77h1M27 77h1M37 77h1M29 77h2M15 77h1M5 78h1M46 78h1M38 78h3M1 78h3M7 78h2M10 78h1M32 78h1M26 78h2M16 79h1M0 79h3M39 79h1M8 79h1M33 79h1M19 79h1M17 80h2M31 80h2M4 80h2M7 80h1M16 81h1M5 81h1M18 81h1M22 81h1M31 81h1M16 82h3M0 82h1M4 82h2M32 82h1M29 82h1M7 82h1M40 82h2"/>
<path stroke="#00f0ff" d="M21 59h1M6 59h1M2 59h2M41 59h3M28 59h1M30 59h1M42 60h1M28 60h3M33 61h1M35 61h1M3 61h1M28 61h1M8 61h2M21 62h1M9 62h1M23 62h1M27 62h2M17 62h1M4 62h1M34 62h1M20 67h1M39 67h2M31 67h3M44 67h1M0 67h1M24 67h1M26 67h4M1 68h1M35 68h1M7 68h1M5 68h1M40 68h1M10 68h2M46 68h1M17 68h2M20 69h1M11 69h1M40 69h2M31 69h1M18 69h1M8 70h1M38 70h3M45 71h1M11 71h1M7 71h1M31 71h1M2 71h1M25 71h1M16 73h1M37 76h1M42 76h2M27 76h2M15 76h1M2 76h1M42 77h1M2 77h2M28 77h1M9 77h2M32 77h2M46 77h1M9 78h1M33 78h1M17 78h1M41 78h1M19 78h1M4 78h1M20 79h1M32 79h1M3 79h2M22 79h2M34 79h1M27 79h1M17 79h2M33 80h1M21 80h3M27 80h4M42 80h1M12 80h2M8 80h2M35 80h2M1 80h3M21 81h1M17 81h1M29 81h1M1 81h4M32 81h2M33 82h1M22 82h1M6 82h1M31 82h1M1 82h3"/>
<path stroke="#00fff1" d="M6 60h1M34 61h1M21 61h1M12 62h1M19 67h1M41 67h3M1 67h2M15 67h1M46 67h1M22 67h2M12 67h1M35 67h2M10 67h1M17 67h1M41 68h1M26 68h4M2 68h1M19 68h2M33 68h1M23 68h1M19 69h1M29 69h1M12 69h2M3 69h3M15 69h3M24 69h1M32 69h2M27 69h1M22 69h1M35 70h1M7 70h1M4 70h1M24 70h4M46 70h1M17 70h2M9 70h3M33 70h1M38 71h1M40 71h1M18 71h1M24 71h1M26 71h1M20 71h1M10 71h1M32 71h1M41 72h1M24 72h2M31 72h1M10 72h2M18 72h3M36 72h1M29 73h1M18 73h1M32 73h1M20 73h1M35 74h1M5 74h1M14 74h1M24 75h3M20 75h1M45 75h1M30 76h1M9 76h1M21 76h1M43 77h1M6 78h1M12 79h1M9 79h1M21 79h1M43 80h1M6 81h1M21 82h1"/>
<path stroke="#00ffda" d="M21 67h1M13 67h1M21 68h2M32 68h1M12 68h2M15 68h1M9 69h2M46 69h1M2 69h1M6 69h2M34 69h2M28 69h1M5 70h1M0 70h1M36 70h1M31 70h2M19 70h4M28 70h2M42 70h1M13 70h1M2 70h2M30 71h1M46 71h1M12 71h1M39 71h1M35 71h2M27 71h1M41 71h2M1 71h1M9 71h1M33 71h1M3 71h2M21 71h3M19 71h1M26 72h2M15 72h3M32 72h2M2 72h3M8 72h1M22 72h1M29 72h1M13 72h1M46 73h1M21 73h1M13 73h2M26 73h1M17 73h1M19 73h1M31 73h1M1 73h2M28 73h1M16 74h2M7 74h1M30 74h2M13 74h1M40 74h2M16 75h1M40 75h1M18 75h1M27 75h1M36 75h1M7 75h2M44 75h1M34 82h1"/>
<path stroke="#00ffc2" d="M21 69h1M23 69h1M41 70h1M6 70h1M43 70h1M12 70h1M8 71h1M17 71h1M29 71h1M13 71h1M9 72h1M21 72h1M1 72h1M23 72h1M6 72h1M28 72h1M43 72h1M46 72h1M30 72h1M12 72h1M41 73h2M10 73h1M3 73h4M36 73h2M33 73h2M22 73h2M27 73h1M8 74h1M18 74h5M26 74h1M28 74h2M42 74h1M6 74h1M1 74h2M32 74h2M12 74h1M39 74h1M36 74h1M9 75h1M31 75h4M11 75h1M17 75h1M22 75h1M41 75h1M19 75h1M29 75h1M13 75h3M5 75h1"/>
<path stroke="#00ffaa" d="M30 70h1M37 70h1M23 70h1M6 71h1M28 71h1M43 71h1M42 72h1M34 72h1M8 73h2M30 73h1M12 73h1M27 74h1M37 74h1M35 75h1M42 75h1M6 75h1M30 75h1M12 75h1M39 75h1M1 75h1M21 75h1"/>
<path stroke="#00ff92" d="M34 74h1M9 74h1M28 75h1M43 75h1M2 75h1M37 75h1"/>
<path stroke="#00ff72" d="M40 83h1"/>
<path stroke="#00ff52" d="M7 83h1M38 83h1M25 83h1"/>
<path stroke="#00ff31" d="M44 83h3M16 83h1M5 83h1M24 83h1M26 83h1M20 83h1M33 83h1M31 83h1M25 84h1M45 84h1"/>
<path stroke="#00ff10" d="M1 83h3M36 83h1M13 83h2M23 83h1M32 83h1M18 83h2M8 83h2M34 83h1M14 84h3M26 84h1M20 84h1M22 84h1M1 84h2M38 84h1M5 84h1M24 84h1"/>
<path stroke="#0dff00" d="M17 83h1M27 83h4M6 83h1M15 83h1M4 83h1M43 83h1M21 83h2M12 83h1M39 83h1M10 83h1M39 84h2M29 84h1M7 84h1M31 84h3M3 84h1M46 84h1M35 84h2M17 84h2M42 84h2"/>
<path stroke="#26ff00" d="M37 83h1M35 83h1M42 83h1M44 84h1M4 84h1M30 84h1M21 84h1M8 84h3M27 84h2M23 84h1M19 84h1M12 84h2"/>
<path stroke="#3fff00" d="M37 84h1M6 84h1M34 84h1"/>
<path stroke="#8cff00" d="M20 85h1M44 85h1M5 85h1M11 86h1M24 86h1"/>
<path stroke="#a2ff00" d="M11 85h1M29 85h1M7 85h1M42 85h1M34 85h2M31 85h1M3 85h1M38 85h1M45 85h1M0 85h1M25 85h1M14 85h1M26 86h1M20 86h1"/>
<path stroke="#b8ff00" d="M4 85h1M24 85h1M32 85h2M46 85h1M1 85h1M26 85h1M8 85h3M17 85h3M15 86h1M22 86h2M45 86h2M25 86h1M4 86h2M19 86h1M7 86h1"/>
<path stroke="#ceff00" d="M27 85h1M22 85h1M41 85h1M15 85h1M36 85h2M39 85h1M12 85h1M2 85h1M21 86h1M10 86h1M38 86h4M0 86h2M35 86h1M31 86h1M44 86h1M3 86h1M18 86h1"/>
<path stroke="#e4ff00" d="M13 85h1M28 85h1M40 85h1M30 85h1M21 85h1M23 85h1M32 86h1M27 86h4M8 86h2M34 86h1M2 86h1M37 86h1M13 86h2"/>
<path stroke="#faff00" d="M36 86h1M33 86h1M17 86h1"/>
<path stroke="#fff100" d="M42 86h1"/>
<path stroke="#ffdf00" d="M12 86h1"/></g><g fill="none" transform="translate(.5 0)"><path stroke="#000000" d="M40 5v2M9 6v2M8 16v2M29 25v2M3 32v2M15 33v2M17 35v2"/>
<path stroke="#0c000e" d="M8 18v2M3 20v2"/>
<path stroke="#18001c" d="M19 14v2"/>
<path stroke="#3a0056" d="M36 4v2M41 4v2M7 5v2M37 6v2M46 31v2"/>
<path stroke="#45006f" d="M21 41v2"/>
<path stroke="#500089" d="M10 40v2M5 40v2M7 40v3M46 41v2M24 42v3"/>
<path stroke="#5a00a1" d="M14 40v2M19 41v2M38 42v2M31 42v4M2 44v2M45 45v2"/>
<path stroke="#5300b1" d="M30 40v2M20 41v2M41 41v2M3 41v2M15 41v2M27 42v2M32 42v2M5 44v2M29 44v2M45 49v2M0 49v3M39 50v2"/>
<path stroke="#4d00c1" d="M2 42v2M23 44v2M33 44v3M21 45v2M44 44v4M17 47v2M44 49v2M25 53v3"/>
<path stroke="#4600d1" d="M6 41v2M34 44v3M41 45v2M43 48v2M7 50v2M29 52v2M16 52v2M18 52v2M26 52v3M0 54v2"/>
<path stroke="#3f00e0" d="M21 43v2M10 48v2M27 49v2M12 49v3M36 51v2M17 53v2M4 53v2M1 53v3"/>
<path stroke="#2400ee" d="M21 51v3M42 52v2M33 53v2M46 53v2M2 54v2M8 54v2M44 55v2"/>
<path stroke="#0800fb" d="M37 50v2M3 53v2M43 53v2M12 53v2M5 55v2M7 55v3M16 56v2M14 56v2M11 56v2M45 57v2"/>
<path stroke="#0014ff" d="M34 53v2M21 54v2M22 56v2M13 56v2M5 57v2M45 63v2"/>
<path stroke="#0030ff" d="M37 55v2M4 57v2M27 57v2M5 63v2M45 65v2M25 65v2"/>
<path stroke="#004cff" d="M28 56v2M21 56v2M6 56v3M18 63v2M31 63v3M0 63v3M14 64v2M7 63v4M44 63v4M38 63v4M20 63v4M11 63v4M24 65v2"/>
<path stroke="#0068ff" d="M45 59v2M8 63v2M10 63v2M29 63v2M22 64v2M13 64v2M46 65v2"/>
<path stroke="#0089ff" d="M45 61v2M37 63v2M9 63v2M21 63v2M28 63v2M30 63v2M34 63v3M12 63v3M6 65v2M25 77v2"/>
<path stroke="#00abff" d="M11 59v3M38 60v2M44 59v4M20 59v4M5 60v3M40 76v2M16 76v3M18 76v3M0 76v3M20 76v3M11 77v2M31 76v4M14 76v4M40 79v3M0 80v2M45 79v4M11 81v2"/>
<path stroke="#00ceff" d="M10 59v3M27 60v2M36 60v2M46 59v4M41 61v2M16 67v2M0 68v2M39 76v2M8 76v2M1 76v2M17 76v2M41 76v2M19 76v2M22 76v3M13 76v4M24 77v3M35 77v3M41 79v3M44 77v6M26 79v4M14 80v3M20 80v3M38 80v3"/>
<path stroke="#00f0ff" d="M9 59v2M34 59v2M12 59v2M37 59v4M6 61v2M30 61v2M14 67v2M38 68v2M16 70v2M45 73v2M25 73v2M6 76v2M23 76v3M12 76v3M21 77v2M36 77v3M29 78v2M6 79v2M15 78v5M46 79v4M19 80v3M39 80v3M8 81v2M10 81v2M13 81v2M27 81v2"/>
<path stroke="#00fff1" d="M4 67v2M39 68v2M36 68v2M8 68v2M1 69v2M14 70v3M5 71v2M0 71v3M7 72v2M44 73v2M11 73v2M34 76v3M28 78v2M30 78v2M37 78v3M34 80v2M28 81v2M30 81v2M12 81v2M9 81v2M23 81v2"/>
<path stroke="#00ffda" d="M34 67v2M9 67v2M6 67v2M3 67v2M30 67v3M37 67v3M43 68v2M44 71v2M40 72v2M35 72v2M24 73v2M38 74v2M0 74v2M10 74v2"/>
<path stroke="#00ffc2" d="M42 68v2M15 70v2M34 70v2M37 71v2M15 73v2M46 74v2"/>
<path stroke="#00ffaa" d="M43 73v2M23 74v2"/>
<path stroke="#00ff10" d="M11 83v2M41 83v2"/>
<path stroke="#0dff00" d="M0 83v2"/>
<path stroke="#a2ff00" d="M16 85v2"/>
<path stroke="#e4ff00" d="M43 85v2"/>
<path stroke="#fff100" d="M6 85v2"/></g></pattern><rect x="585" y="123" width="117" height="87" fill="url(#t1c)"/>
<g><path fill="#5a00a1" d="M684 126h5v35h-5z"/></g><g fill="none" transform="translate(0 .5)"><path stroke="#00fff1" d="M491 172h1"/>
<path stroke="#a2ff00" d="M542 178h1"/></g><g fill="none" transform="translate(.5 0)"><path stroke="#0030ff" d="M626 126v37M640 126v37M580 126v37"/>
<path stroke="#004cff" d="M689 126v27"/>
<path stroke="#00fff1" d="M494 172v6M491 180v2M488 179v5M597 178v8M542 179v11M694 183v7"/>
<path stroke="#00ffc2" d="M689 153v22"/>
<path stroke="#00ffaa" d="M540 173v5M478 177v5M543 178v10M586 189v5M501 186v11M509 188v10M593 190v11"/>
<path stroke="#00ff31" d="M690 163v6M569 173v4M484 174v4M492 174v8M566 176v9M578 179v9M570 182v7M516 186v5M687 188v7"/>
<path stroke="#3fff00" d="M486 172v6M491 173v7M481 176v4M519 180v9M601 190v8"/>
<path stroke="#a2ff00" d="M591 180v5M478 182v5M600 182v6M688 187v4M591 187v5M581 189v8"/></g>
<g><path fill="#000000" d="M557 211h3v8h-3zM253 211h4v8h-4zM574 211h2v8h-2zM408 211h2v8h-2zM310 211h5v8h-5zM242 211h3v8h-3zM258 211h2v8h-2zM479 211h2v8h-2zM372 211h2v8h-2zM609 211h3v8h-3zM599 211h2v8h-2zM681 211h3v8h-3zM328 211h2v8h-2zM496 211h2v8h-2zM293 211h3v8h-3zM662 211h3v8h-3zM113 219h34v18h-34zM503 219h2v18h-2zM345 219h3v18h-3zM391 219h3v18h-3zM556 219h9v18h-9zM417 219h2v18h-2zM631 219h2v18h-2zM298 219h3v18h-3zM616 219h3v18h-3zM270 219h5v18h-5zM399 219h13v18h-13zM459 219h4v18h-4zM195 219h5v18h-5zM353 219h27v18h-27zM253 219h5v18h-5zM644 219h8v18h-8zM231 219h20v18h-20zM421 219h36v18h-36zM684 219h2v18h-2zM260 219h3v18h-3zM512 219h10v18h-10zM636 219h2v18h-2zM324 219h2v18h-2zM466 219h5v18h-5zM548 219h4v18h-4zM208 219h13v18h-13zM327 219h3v18h-3zM149 219h30v18h-30zM312 219h3v18h-3zM665 219h2v18h-2zM203 219h2v18h-2zM182 219h6v18h-6zM190 219h4v18h-4zM508 219h3v18h-3zM674 219h2v18h-2zM381 219h7v18h-7zM225 219h5v18h-5zM533 219h12v35h-12zM285 219h4v35h-4zM277 219h3v35h-3zM308 219h2v35h-2zM639 219h3v35h-3zM335 237h3v17h-3zM113 237h117v17h-117zM312 237h6v17h-6zM677 237h2v17h-2zM486 237h2v17h-2zM231 237h45v17h-45zM548 237h17v17h-17zM493 237h3v17h-3zM499 237h23v17h-23zM351 237h120v17h-120zM689 219h13v52h-13zM327 237h7v34h-7zM344 237h4v34h-4zM296 237h5v34h-5zM205 254h29v17h-29zM190 254h13v17h-13zM308 254h7v17h-7zM236 254h44v17h-44zM421 254h50v17h-50zM158 254h30v17h-30zM353 254h27v17h-27zM533 254h32v17h-32zM493 254h2v17h-2zM512 254h10v17h-10zM503 254h8v17h-8zM476 254h2v17h-2zM381 254h17v17h-17zM139 254h18v17h-18zM399 254h20v17h-20zM481 237h2v52h-2zM113 254h12v35h-12zM182 271h2v18h-2zM172 271h2v18h-2zM151 271h6v18h-6zM453 271h4v18h-4zM435 271h8v18h-8zM406 271h4v18h-4zM211 271h2v18h-2zM270 271h2v18h-2zM417 271h2v18h-2zM402 271h3v18h-3zM254 271h4v18h-4zM562 271h3v18h-3zM248 271h3v18h-3zM273 271h2v18h-2zM159 271h3v18h-3zM231 271h3v18h-3zM139 271h8v18h-8zM384 271h2v18h-2zM260 271h3v18h-3zM242 271h3v18h-3zM217 271h7v18h-7zM330 271h3v18h-3zM376 271h3v18h-3zM203 271h2v18h-2zM366 271h2v18h-2zM278 271h2v18h-2zM412 271h2v18h-2zM351 271h2v18h-2zM539 271h6v18h-6zM428 271h3v18h-3zM460 271h6v18h-6z"/>
<path fill="#0c000e" d="M188 219h2v18h-2zM419 219h2v18h-2zM505 219h3v18h-3zM394 219h3v18h-3zM580 219h2v18h-2zM463 219h3v18h-3zM221 219h3v18h-3zM634 219h2v18h-2zM653 237h2v17h-2zM491 237h2v17h-2zM545 237h3v17h-3zM483 237h3v17h-3zM479 254h2v17h-2zM188 254h2v17h-2zM285 254h3v17h-3zM293 254h3v17h-3zM280 254h2v17h-2zM473 254h3v17h-3zM486 254h2v17h-2zM431 271h4v18h-4zM328 271h2v18h-2zM165 271h2v18h-2zM466 271h2v18h-2zM184 271h2v18h-2z"/>
<path fill="#18001c" d="M306 219h2v18h-2zM599 219h2v18h-2zM348 219h4v18h-4zM670 219h2v18h-2zM282 219h2v18h-2zM500 219h3v18h-3zM414 219h3v18h-3zM388 219h3v18h-3zM330 219h3v18h-3zM310 237h2v17h-2zM674 237h2v17h-2zM341 237h3v17h-3zM419 254h2v17h-2zM234 254h2v17h-2zM499 254h4v17h-4zM214 271h2v18h-2zM450 271h3v18h-3zM443 271h2v18h-2zM354 271h2v18h-2zM298 271h3v18h-3zM251 271h2v18h-2zM149 271h2v18h-2zM208 271h2v18h-2z"/>
<path fill="#24002a" d="M483 219h3v18h-3zM251 219h2v18h-2zM258 219h2v18h-2zM653 219h2v18h-2zM205 219h3v18h-3zM545 219h3v18h-3zM473 237h3v17h-3zM348 237h3v17h-3zM496 237h2v17h-2zM577 237h3v17h-3zM282 237h2v34h-2zM574 254h2v17h-2zM305 254h3v17h-3zM653 254h2v17h-2zM203 254h2v17h-2zM379 271h2v18h-2zM414 271h3v18h-3zM174 271h2v18h-2zM162 271h2v18h-2zM363 271h3v18h-3zM422 271h4v18h-4zM228 271h2v18h-2zM503 271h2v18h-2z"/>
<path fill="#30003d" d="M179 219h3v18h-3zM662 219h3v18h-3zM293 219h5v18h-5zM310 219h2v18h-2zM339 219h2v18h-2zM493 219h2v18h-2zM670 254h2v17h-2zM348 254h3v17h-3zM560 271h2v18h-2zM548 271h4v18h-4zM469 271h2v18h-2zM508 271h3v18h-3zM381 271h3v18h-3zM394 271h3v18h-3z"/>
<path fill="#3a0056" d="M200 219h2v18h-2zM686 219h3v18h-3zM626 219h2v18h-2zM267 219h3v18h-3zM481 219h2v18h-2zM522 237h2v17h-2zM339 237h2v17h-2zM301 237h2v17h-2zM291 237h5v17h-5zM476 237h2v17h-2zM321 237h3v34h-3zM577 254h3v17h-3zM291 254h2v17h-2zM126 254h2v17h-2zM598 254h3v17h-3zM341 254h2v35h-2zM190 271h3v18h-3zM246 271h2v18h-2zM198 271h2v18h-2zM324 271h2v18h-2zM312 271h3v18h-3zM357 271h2v18h-2zM388 271h2v18h-2zM391 271h3v18h-3z"/>
<path fill="#45006f" d="M491 211h2v8h-2zM592 211h3v8h-3zM636 211h2v8h-2zM248 211h2v8h-2zM667 211h3v8h-3zM432 211h3v8h-3zM486 211h2v8h-2zM149 211h2v8h-2zM658 219h3v18h-3zM290 219h3v18h-3zM280 237h2v17h-2zM634 237h2v17h-2zM566 237h2v17h-2zM315 254h3v17h-3zM205 271h3v18h-3zM285 271h3v18h-3zM310 271h2v18h-2zM195 271h2v18h-2zM368 271h2v18h-2zM457 271h2v18h-2zM234 271h2v18h-2zM239 271h3v18h-3zM700 271h2v18h-2zM512 271h5v18h-5z"/>
<path fill="#500089" d="M486 219h2v18h-2zM576 219h4v18h-4zM595 219h2v18h-2zM479 219h2v18h-2zM496 219h2v18h-2zM582 237h2v17h-2zM574 237h2v17h-2zM483 254h3v17h-3zM634 254h2v17h-2zM301 254h2v17h-2zM674 254h2v17h-2zM582 271h2v18h-2zM169 271h3v18h-3zM577 271h3v18h-3zM419 271h2v18h-2zM447 271h2v18h-2zM410 271h2v18h-2z"/>
<path fill="#5a00a1" d="M246 211h2v8h-2zM348 211h3v8h-3zM649 211h3v8h-3zM469 211h2v8h-2zM679 211h2v8h-2zM552 219h3v18h-3zM476 219h2v18h-2zM341 219h2v18h-2zM582 219h2v18h-2zM479 237h2v17h-2zM488 237h3v17h-3zM524 237h3v17h-3zM616 237h3v17h-3zM686 254h3v17h-3zM639 254h3v17h-3zM580 254h2v17h-2zM522 254h2v17h-2zM130 254h4v17h-4zM188 271h2v18h-2zM534 271h3v18h-3zM179 271h3v18h-3zM372 271h2v18h-2zM315 271h3v18h-3zM483 271h3v18h-3zM426 271h2v18h-2z"/>
<path fill="#5300b1" d="M586 219h3v18h-3zM315 219h3v18h-3zM679 219h2v18h-2zM473 219h3v18h-3zM574 219h2v18h-2zM457 219h2v18h-2zM306 237h2v17h-2zM665 237h2v17h-2zM582 254h2v17h-2zM134 254h2v17h-2zM476 271h2v18h-2zM291 271h2v18h-2zM486 271h2v18h-2zM258 271h2v18h-2zM132 271h2v18h-2zM399 271h3v18h-3zM296 271h2v18h-2z"/>
<path fill="#4d00c1" d="M335 219h2v18h-2zM686 237h3v17h-3zM592 237h3v17h-3zM658 254h3v17h-3zM491 254h2v17h-2zM496 254h2v17h-2zM519 271h3v18h-3zM639 271h3v18h-3zM293 271h3v18h-3zM345 271h3v18h-3zM282 271h2v18h-2zM557 271h3v18h-3zM159 289h3v9h-3z"/>
<path fill="#4600d1" d="M522 219h2v18h-2zM491 219h2v18h-2zM672 237h2v17h-2zM488 254h3v17h-3zM586 254h3v17h-3zM339 254h2v17h-2zM569 254h3v17h-3zM306 271h2v18h-2zM478 271h3v18h-3zM473 271h3v18h-3zM574 271h2v18h-2zM348 271h3v18h-3zM505 271h3v18h-3z"/>
<path fill="#3f00e0" d="M321 219h3v18h-3zM601 219h3v18h-3zM569 219h3v18h-3zM628 219h3v18h-3zM566 219h2v18h-2zM658 237h3v17h-3zM644 237h4v17h-4zM528 237h3v17h-3zM580 237h2v17h-2zM667 254h3v17h-3zM566 254h2v17h-2zM126 271h2v18h-2zM129 271h3v18h-3zM674 271h2v18h-2zM528 271h3v18h-3zM134 271h2v18h-2zM580 271h2v18h-2zM689 271h11v18h-11zM354 289h2v9h-2zM460 289h3v9h-3zM270 289h2v9h-2z"/>
<path fill="#2400ee" d="M609 219h3v18h-3zM569 237h3v17h-3zM662 237h3v17h-3zM679 237h4v17h-4zM631 237h2v17h-2zM665 254h2v17h-2zM595 254h2v17h-2zM267 271h3v18h-3zM308 271h2v18h-2zM200 271h2v18h-2zM211 289h2v9h-2zM232 289h2v9h-2zM432 289h3v9h-3z"/>
<path fill="#0800fb" d="M280 219h2v18h-2zM667 219h3v18h-3zM488 219h3v18h-3zM681 219h2v18h-2zM609 237h3v17h-3zM586 237h3v17h-3zM642 237h2v34h-2zM592 254h3v17h-3zM524 254h3v17h-3zM136 254h2v17h-2zM528 254h3v17h-3zM500 271h3v18h-3zM569 271h3v18h-3zM493 271h3v18h-3zM566 271h2v18h-2zM248 289h2v9h-2zM182 289h2v9h-2z"/>
<path fill="#0014ff" d="M524 219h3v18h-3zM670 237h2v17h-2zM649 237h3v34h-3zM628 254h3v17h-3zM552 271h3v18h-3zM545 271h3v18h-3zM586 271h3v18h-3zM670 271h2v18h-2zM372 289h2v9h-2zM219 289h2v9h-2zM439 289h3v9h-3zM512 289h2v9h-2zM692 289h4v9h-4zM155 289h2v9h-2zM198 289h2v9h-2zM363 289h3v9h-3zM429 289h2v9h-2zM697 289h3v9h-3zM376 289h3v9h-3zM174 289h2v9h-2zM162 289h2v9h-2zM165 289h2v9h-2zM149 289h2v9h-2z"/>
<path fill="#0030ff" d="M623 219h3v18h-3zM672 219h2v18h-2zM301 219h2v18h-2zM592 219h3v18h-3zM667 237h3v17h-3zM601 254h3v17h-3zM684 254h2v17h-2zM681 254h2v17h-2zM522 271h2v18h-2zM136 271h2v18h-2zM359 271h3v18h-3zM321 271h3v18h-3zM665 271h2v18h-2zM203 289h2v9h-2zM408 289h2v9h-2zM254 289h3v9h-3zM514 289h3v9h-3zM689 289h3v9h-3zM455 289h2v9h-2zM391 289h3v9h-3zM144 289h3v9h-3zM216 289h3v9h-3zM228 289h2v9h-2zM560 289h2v9h-2zM469 289h2v9h-2z"/>
<path fill="#004cff" d="M670 211h2v8h-2zM129 211h3v8h-3zM333 211h15v8h-15zM374 211h12v8h-12zM152 211h3v8h-3zM653 211h2v8h-2zM414 211h18v8h-18zM493 211h3v8h-3zM488 211h3v8h-3zM326 211h2v8h-2zM260 211h33v8h-33zM498 211h19v8h-19zM645 211h4v8h-4zM238 211h4v8h-4zM387 211h21v8h-21zM657 211h4v8h-4zM665 211h2v8h-2zM638 211h4v8h-4zM577 211h15v8h-15zM543 211h14v8h-14zM296 211h7v8h-7zM231 211h6v8h-6zM595 211h4v8h-4zM363 211h9v8h-9zM674 211h5v8h-5zM410 211h3v8h-3zM684 211h18v8h-18zM634 211h2v8h-2zM304 211h6v8h-6zM351 211h11v8h-11zM481 211h5v8h-5zM471 211h8v8h-8zM560 211h13v8h-13zM605 211h4v8h-4zM615 211h18v8h-18zM113 211h15v8h-15zM315 211h10v8h-10zM533 211h9v8h-9zM134 211h15v8h-15zM435 211h34v8h-34zM156 211h74v8h-74zM251 211h2v8h-2zM601 211h3v8h-3zM518 211h14v8h-14zM684 237h2v17h-2zM628 237h3v17h-3zM604 254h2v17h-2zM616 254h3v17h-3zM488 271h3v18h-3zM599 271h2v18h-2zM496 271h2v18h-2zM662 271h3v18h-3zM280 271h2v18h-2zM234 289h2v9h-2zM374 289h2v9h-2zM549 289h3v9h-3zM366 289h2v9h-2zM190 289h3v9h-3zM402 289h3v9h-3zM422 289h3v9h-3zM273 289h2v9h-2zM508 289h3v9h-3zM384 289h3v9h-3zM417 289h2v9h-2zM195 289h2v9h-2zM239 289h3v9h-3z"/>
<path fill="#0068ff" d="M642 219h2v18h-2zM626 254h2v17h-2zM339 271h2v18h-2zM658 271h3v18h-3zM491 271h2v18h-2zM205 289h3v9h-3zM184 289h2v9h-2zM394 289h3v9h-3zM443 289h2v9h-2zM132 289h2v9h-2zM450 289h5v9h-5zM540 289h2v9h-2zM503 289h2v9h-2zM562 289h3v9h-3zM126 289h2v9h-2zM213 289h3v9h-3zM381 289h3v9h-3zM399 289h3v9h-3zM435 289h3v9h-3zM463 289h4v9h-4z"/>
<path fill="#0089ff" d="M672 211h2v8h-2zM642 211h2v8h-2zM330 211h3v8h-3zM132 211h2v8h-2zM653 271h2v18h-2zM595 271h2v18h-2zM678 271h3v18h-3zM649 271h3v18h-3zM457 289h2v9h-2zM357 289h2v9h-2zM152 289h3v9h-3zM447 289h2v9h-2zM130 289h2v9h-2z"/>
<path fill="#00abff" d="M662 254h3v17h-3zM623 254h3v17h-3zM672 254h2v17h-2zM301 271h3v18h-3zM667 271h3v18h-3zM684 271h2v18h-2zM500 289h3v9h-3zM359 289h3v9h-3zM410 289h2v9h-2zM169 289h5v9h-5zM700 289h2v9h-2zM330 289h3v9h-3zM200 289h2v9h-2z"/>
<path fill="#00ceff" d="M528 219h3v18h-3zM606 254h3v17h-3zM419 289h2v9h-2zM543 289h2v9h-2zM128 289h2v9h-2zM493 289h2v9h-2zM258 289h3v9h-3zM312 289h3v9h-3zM267 289h3v9h-3zM142 289h2v9h-2zM298 289h3v9h-3zM246 289h2v9h-2zM414 289h3v9h-3zM285 289h4v9h-4zM242 289h3v9h-3zM237 289h2v9h-2zM481 289h2v9h-2zM388 289h2v9h-2z"/>
<path fill="#00f0ff" d="M595 237h2v17h-2zM599 237h2v17h-2zM626 237h2v17h-2zM645 254h3v17h-3zM679 254h2v17h-2zM672 271h2v18h-2zM524 271h3v18h-3zM609 271h3v18h-3zM686 271h3v18h-3zM681 271h2v18h-2zM221 289h3v9h-3zM505 289h3v9h-3zM179 289h3v9h-3zM552 289h3v9h-3zM282 289h2v9h-2zM308 289h2v9h-2zM368 289h3v9h-3zM134 289h2v9h-2zM122 289h3v9h-3zM519 289h3v9h-3zM188 289h2v9h-2z"/>
<path fill="#00fff1" d="M136 289h2v9h-2zM310 289h2v9h-2zM426 289h2v9h-2zM472 289h4v9h-4zM251 289h2v9h-2zM557 289h3v9h-3zM117 289h3v9h-3z"/>
<path fill="#00ffda" d="M609 254h3v17h-3zM601 271h3v18h-3zM315 289h3v9h-3zM328 289h2v9h-2zM293 289h3v9h-3zM280 289h2v9h-2zM120 289h2v9h-2z"/>
<path fill="#00ffc2" d="M601 237h3v17h-3zM636 237h2v17h-2zM631 254h2v17h-2zM592 271h3v18h-3zM476 289h2v9h-2zM296 289h2v9h-2zM534 289h3v9h-3zM301 289h2v9h-2z"/>
<path fill="#00ffaa" d="M621 254h2v17h-2zM645 271h3v18h-3zM634 271h2v18h-2zM348 289h3v9h-3zM341 289h3v9h-3zM336 289h2v9h-2z"/>
<path fill="#00ff92" d="M636 254h2v17h-2zM306 289h2v9h-2zM345 289h3v9h-3zM321 289h3v9h-3zM339 289h2v9h-2z"/>
<path fill="#00ff72" d="M623 237h3v17h-3zM606 271h3v18h-3zM616 271h3v18h-3zM631 271h2v18h-2zM522 289h2v9h-2zM290 289h3v9h-3zM479 289h2v9h-2zM483 289h10v9h-10z"/>
<path fill="#00ff52" d="M612 271h2v18h-2z"/>
<path fill="#00ff31" d="M606 219h3v35h-3zM545 289h3v9h-3z"/>
<path fill="#00ff10" d="M636 271h2v18h-2zM496 289h3v9h-3z"/>
<path fill="#0dff00" d="M574 289h2v9h-2zM582 289h2v9h-2zM528 289h3v9h-3z"/>
<path fill="#26ff00" d="M621 219h2v18h-2zM665 289h2v9h-2zM684 289h2v9h-2zM586 289h3v9h-3z"/>
<path fill="#3fff00" d="M628 271h3v18h-3zM674 289h2v9h-2zM577 289h3v9h-3zM679 289h2v9h-2zM686 289h3v9h-3z"/>
<path fill="#59ff00" d="M642 271h2v18h-2zM626 271h2v18h-2z"/>
<path fill="#72ff00" d="M662 289h3v9h-3zM649 289h3v9h-3zM524 289h3v9h-3zM653 289h2v9h-2z"/>
<path fill="#8cff00" d="M642 289h2v9h-2zM566 289h2v9h-2zM645 289h3v9h-3zM592 289h3v9h-3z"/>
<path fill="#a2ff00" d="M580 289h2v9h-2zM667 289h3v9h-3zM658 289h4v9h-4zM589 289h2v9h-2zM634 289h2v9h-2z"/>
<path fill="#ceff00" d="M639 289h3v9h-3z"/>
<path fill="#e4ff00" d="M621 271h2v18h-2zM681 289h2v9h-2z"/>
<path fill="#faff00" d="M621 237h2v17h-2zM623 271h3v18h-3zM670 289h2v9h-2zM616 289h3v9h-3zM595 289h2v9h-2z"/>
<path fill="#fff100" d="M672 289h2v9h-2zM609 289h3v9h-3zM569 289h3v9h-3zM599 289h2v9h-2z"/>
<path fill="#ffdf00" d="M631 289h2v9h-2zM626 289h2v9h-2z"/>
<path fill="#ffce00" d="M601 289h3v9h-3z"/>
<path fill="#ffbc00" d="M628 289h3v9h-3z"/>
<path fill="#ffab00" d="M623 289h3v9h-3z"/>
<path fill="#ff7600" d="M606 289h3v9h-3zM636 289h2v9h-2z"/>
<path fill="#ff2f00" d="M621 289h2v9h-2z"/></g><g fill="none" transform="translate(.5 0)"><path stroke="#000000" d="M633 211v8M652 211v8M250 211v8M151 211v8M532 211v8M517 211v8M155 211v8M303 211v8M237 211v8M413 219v18M614 219v18M598 219v18M264 219v18M620 219v18M397 219v18M677 219v18M266 219v18M584 219v35M324 237v17M472 219v52M527 237v34M304 237v34M319 237v34M325 254v17M338 254v17M351 254v17M678 254v17M289 254v17M468 271v18M193 271v18M387 271v18M445 271v18M449 271v18M371 271v18M264 271v18M397 271v18M186 271v18"/>
<path stroke="#0c000e" d="M194 219v18M678 219v18M304 219v18M511 219v18M230 237v17M289 237v17M276 237v17M398 254v17M157 254v17M334 254v17M324 254v17M352 254v17M511 254v17M253 271v18M374 271v18M216 271v18M421 271v18M168 271v18M405 271v18"/>
<path stroke="#18001c" d="M148 219v18M343 219v18M338 219v18M412 219v18M572 219v18M265 219v18M326 219v18M555 219v18M478 219v18M565 237v17M305 237v17M380 254v17M284 254v17M288 254v17M337 254v17M471 254v17M290 254v17M644 254v17M584 254v17M227 271v18"/>
<path stroke="#24002a" d="M263 219v18M333 219v18M275 219v18M380 219v18M326 237v17M478 237v17M471 237v17M343 254v17M556 271v18M224 271v18M344 271v18M194 271v18M333 271v18M390 271v18M370 271v18M167 271v18"/>
<path stroke="#30003d" d="M289 219v18M352 219v18M676 219v18M532 219v18M656 219v18M334 237v17M325 237v17M290 237v17M335 254v17M620 254v17M362 271v18M230 271v18M584 271v18M178 271v18M265 271v18M237 271v18M538 271v18M518 271v18M338 271v18M356 271v18"/>
<path stroke="#3a0056" d="M224 219v18M657 219v18M318 219v18M591 254v17M446 271v18M472 271v18M304 271v18M537 271v18M226 271v18"/>
<path stroke="#45006f" d="M656 211v8M128 211v8M573 211v8M413 211v8M661 211v8M644 211v8M542 211v8M589 219v18M202 219v18M276 219v18M284 237v17M245 271v18M157 271v18M275 271v18M202 271v18M335 271v18M277 271v18M263 271v18"/>
<path stroke="#500089" d="M652 219v18M527 219v18M499 219v18M337 219v18M638 219v18M344 219v18M619 219v18M398 219v18M230 219v18M683 219v18M338 237v17M589 237v17M605 237v17M326 254v17M318 254v17M353 271v18M197 271v18M210 271v18M511 271v18M517 271v18M327 271v18M164 271v18M266 271v18M225 271v18"/>
<path stroke="#5a00a1" d="M230 211v8M613 211v8M655 211v8M604 211v8M576 211v8M325 211v8M334 219v18M573 219v18M147 219v18M532 237v34M661 254v17M138 254v17M386 271v18M398 271v18M499 271v18M177 271v18M236 271v18M238 271v18"/>
<path stroke="#5300b1" d="M565 219v18M471 219v18M615 219v18M495 219v18M657 237v17M320 237v17M590 237v17M336 254v17M585 254v17M613 254v17M148 271v18M375 271v18M334 271v18M407 289v9"/>
<path stroke="#4d00c1" d="M638 237v17M303 237v34M478 254v17M125 271v18M533 271v18M326 271v18M176 271v18M459 271v18M213 271v18M147 271v18M527 271v18M139 289v9M151 289v9"/>
<path stroke="#4600d1" d="M319 219v18M498 237v17M495 254v17M677 254v17M272 271v18M598 271v18M187 271v18M431 289v9"/>
<path stroke="#3f00e0" d="M597 219v18M585 237v17M573 237v17M614 254v17M638 254v17M125 254v17M656 254v17M129 254v17M498 254v17M276 271v18M158 271v18M471 271v18M168 289v9M412 289v9"/>
<path stroke="#2400ee" d="M303 219v18M498 219v18M648 237v17M318 237v17M613 237v17M652 237v17M598 237v17M620 237v17M656 237v17M589 254v17M320 254v17M676 254v17M657 254v17M290 271v18M336 271v18M445 289v9"/>
<path stroke="#0800fb" d="M633 219v18M305 219v18M661 219v18M585 219v18M591 219v18M531 237v17M128 254v17M565 254v17M337 271v18M138 271v18M305 271v18M648 271v18M555 271v18M677 271v18M573 271v18M289 271v18M231 289v9M227 289v9M264 289v9M438 289v9M208 289v9M468 289v9M141 289v9"/>
<path stroke="#0014ff" d="M320 219v18M284 219v18M612 237v34M531 254v17M319 271v18M343 271v18M568 271v18M250 289v9M193 289v9M413 289v9M140 289v9M186 289v9"/>
<path stroke="#0030ff" d="M661 237v17M591 237v17M619 237v17M576 237v34M615 254v17M597 254v17M568 254v17M648 254v17M573 254v17M572 271v18M657 271v18M589 271v18M262 289v9M467 289v9M353 289v9M405 289v9"/>
<path stroke="#004cff" d="M245 211v8M612 211v8M257 211v8M590 219v18M531 219v18M604 237v17M676 237v17M655 254v17M638 271v18M532 271v18M318 271v18M565 271v18M683 271v18M604 271v18M676 271v18M288 271v18M585 271v18M644 271v18M696 289v9M449 289v9M537 289v9M225 289v9M352 289v9M539 289v9M158 289v9M257 289v9M442 289v9M356 289v9M164 289v9"/>
<path stroke="#0068ff" d="M612 219v18M614 237v17M652 254v17M572 254v17M590 254v17M597 271v18M498 271v18M128 271v18M459 289v9M428 289v9M266 289v9M518 289v9M253 289v9M421 289v9M272 289v9M202 289v9M387 289v9M210 289v9M406 289v9M176 289v9M362 289v9"/>
<path stroke="#0089ff" d="M614 211v8M386 211v8M362 211v8M615 237v17M683 237v17M656 271v18M531 271v18M576 271v18M197 289v9M538 289v9M371 289v9M279 289v9M351 289v9M167 289v9M236 289v9M148 289v9M194 289v9M245 289v9M390 289v9M425 289v9"/>
<path stroke="#00abff" d="M597 237v17M633 254v17M655 271v18M661 271v18M542 289v9M138 289v9M261 289v9M556 289v9M157 289v9M265 289v9M548 289v9M178 289v9M277 289v9"/>
<path stroke="#00ceff" d="M568 219v18M613 219v18M655 237v17M683 254v17M591 271v18M320 271v18M605 271v18M517 289v9M397 289v9M230 289v9M177 289v9M116 289v9M125 289v9"/>
<path stroke="#00f0ff" d="M568 237v17M619 254v17M590 271v18M325 289v9M471 289v9M114 289v9M446 289v9"/>
<path stroke="#00fff1" d="M604 219v18M655 219v18M633 237v17M284 271v18M115 289v9M555 289v9M224 289v9M209 289v9M533 289v9M226 289v9M113 289v9M289 289v9M324 289v9M511 289v9M344 289v9M263 289v9M327 289v9M333 289v9"/>
<path stroke="#00ffda" d="M605 219v18M652 271v18M338 289v9M147 289v9M278 289v9M326 289v9M379 289v9M334 289v9M276 289v9"/>
<path stroke="#00ffc2" d="M620 271v18M304 289v9M398 289v9"/>
<path stroke="#00ffaa" d="M614 271v18M678 289v9M380 289v9M478 289v9M187 289v9M319 289v9M275 289v9M527 289v9"/>
<path stroke="#00ff92" d="M499 289v9"/>
<path stroke="#00ff72" d="M532 289v9M584 289v9M495 289v9"/>
<path stroke="#00ff52" d="M318 289v9"/>
<path stroke="#00ff31" d="M619 271v18M598 289v9M335 289v9M531 289v9M565 289v9"/>
<path stroke="#00ff10" d="M284 289v9M677 289v9"/>
<path stroke="#0dff00" d="M572 237v17M305 289v9M320 289v9M303 289v9M591 289v9"/>
<path stroke="#26ff00" d="M573 289v9"/>
<path stroke="#59ff00" d="M615 271v18M652 289v9"/>
<path stroke="#72ff00" d="M644 289v9"/>
<path stroke="#8cff00" d="M576 289v9M605 289v9"/>
<path stroke="#a2ff00" d="M648 289v9M683 289v9M604 289v9M597 289v9"/>
<path stroke="#b8ff00" d="M585 289v9M657 289v9"/>
<path stroke="#ceff00" d="M676 289v9M568 289v9"/>
<path stroke="#e4ff00" d="M614 289v9"/>
<path stroke="#faff00" d="M655 289v9M638 289v9M612 289v9"/>
<path stroke="#fff100" d="M656 289v9"/>
<path stroke="#ffdf00" d="M619 289v9"/>
<path stroke="#ffce00" d="M620 289v9M613 289v9M633 289v9"/>
<path stroke="#ffbc00" d="M633 271v18"/>
<path stroke="#ff9900" d="M572 289v9"/>
<path stroke="#ff7600" d="M615 289v9"/></g>
<g><path fill="#000000" d="M578 324h6v18h-6zM683 324h3v18h-3zM235 324h3v18h-3zM388 324h2v18h-2zM258 324h3v18h-3zM197 324h3v18h-3zM340 324h2v18h-2zM381 324h3v18h-3zM224 324h2v18h-2zM604 324h2v18h-2zM429 324h2v18h-2zM412 324h3v18h-3zM158 324h2v18h-2zM178 324h3v18h-3zM623 324h3v18h-3zM575 324h2v18h-2zM489 324h3v18h-3zM293 324h2v18h-2zM205 324h2v18h-2zM545 324h2v18h-2zM514 324h6v18h-6zM436 324h2v18h-2zM525 324h3v18h-3zM642 324h6v18h-6zM673 324h3v18h-3zM420 324h2v18h-2zM245 324h2v18h-2zM313 324h2v18h-2zM220 324h2v18h-2zM210 324h2v18h-2zM144 324h2v18h-2zM592 324h3v18h-3zM249 324h2v18h-2zM658 324h2v18h-2zM567 324h3v18h-3zM202 324h2v18h-2zM131 324h3v18h-3zM265 324h3v18h-3z"/>
<path fill="#0c000e" d="M210 306h2v18h-2zM197 306h3v18h-3zM446 324h5v18h-5zM422 324h7v18h-7zM520 324h5v18h-5zM606 324h14v18h-14zM242 324h3v18h-3zM200 324h2v18h-2zM601 324h3v18h-3zM378 324h3v18h-3zM161 324h6v18h-6zM654 324h4v18h-4zM123 324h8v18h-8zM441 324h4v18h-4zM547 324h11v18h-11zM317 324h17v18h-17zM676 324h2v18h-2zM390 324h13v18h-13zM271 324h10v18h-10zM404 324h8v18h-8zM226 324h9v18h-9zM595 324h4v18h-4zM207 324h3v18h-3zM138 324h2v18h-2zM384 324h4v18h-4zM415 324h3v18h-3zM212 324h4v18h-4zM356 324h21v18h-21zM493 324h5v18h-5zM134 324h3v18h-3zM146 324h4v18h-4zM431 324h2v18h-2zM486 324h3v18h-3zM626 324h7v18h-7zM680 324h3v18h-3zM563 324h4v18h-4zM247 324h2v18h-2zM300 324h13v18h-13zM671 324h2v18h-2zM636 324h4v18h-4zM113 324h9v18h-9zM217 324h3v18h-3zM538 324h7v18h-7zM584 324h8v18h-8zM141 324h3v18h-3zM478 324h7v18h-7zM651 324h2v18h-2zM660 324h10v18h-10zM342 324h13v18h-13zM470 324h6v18h-6zM454 324h15v18h-15zM195 324h2v18h-2zM282 324h8v18h-8zM268 324h2v18h-2zM621 324h2v18h-2zM570 324h5v18h-5zM151 324h7v18h-7zM238 324h3v18h-3zM251 324h2v18h-2zM183 324h11v18h-11zM335 324h5v18h-5zM168 324h10v18h-10zM648 324h2v18h-2zM528 324h7v18h-7zM693 324h8v18h-8zM559 324h3v18h-3zM295 324h4v18h-4zM222 324h2v18h-2zM503 324h9v18h-9zM291 324h2v18h-2zM438 324h2v18h-2zM263 324h2v18h-2zM690 324h2v18h-2z"/>
<path fill="#18001c" d="M308 306h26v18h-26zM573 306h26v18h-26zM399 306h10v18h-10zM555 306h15v18h-15zM293 306h5v18h-5zM240 306h7v18h-7zM601 306h17v18h-17zM337 306h5v18h-5zM258 306h3v18h-3zM388 306h6v18h-6zM525 306h6v18h-6zM429 306h5v18h-5zM381 306h3v18h-3zM299 306h8v18h-8zM228 306h7v18h-7zM436 306h10v18h-10zM200 306h10v18h-10zM370 306h8v18h-8zM178 306h3v18h-3zM478 306h42v18h-42zM521 306h3v18h-3zM143 306h5v18h-5zM212 306h5v18h-5zM266 306h2v18h-2zM410 306h16v18h-16zM156 306h4v18h-4zM690 306h2v18h-2zM359 306h9v18h-9zM694 306h7v18h-7zM251 306h2v18h-2zM220 306h7v18h-7zM236 306h2v18h-2zM167 306h4v18h-4zM355 306h3v18h-3zM650 306h20v18h-20zM272 306h6v18h-6zM161 306h3v18h-3zM680 306h7v18h-7zM174 306h3v18h-3zM182 306h12v18h-12zM448 306h2v18h-2zM535 306h13v18h-13zM550 306h3v18h-3zM623 306h8v18h-8zM456 306h7v18h-7zM465 306h3v18h-3zM279 306h2v18h-2zM289 306h3v18h-3zM150 306h3v18h-3zM255 306h2v18h-2zM343 306h4v18h-4zM282 306h3v18h-3zM113 306h27v18h-27zM642 306h7v18h-7zM673 306h4v18h-4zM636 306h4v18h-4zM434 324h2v18h-2zM599 324h2v18h-2zM451 324h3v18h-3zM253 324h2v18h-2zM634 324h2v18h-2zM687 324h3v18h-3z"/>
<path fill="#24002a" d="M194 306h2v18h-2zM631 306h2v18h-2zM263 306h2v18h-2zM473 306h3v18h-3zM677 306h2v18h-2zM570 306h3v18h-3zM141 306h2v18h-2zM450 306h6v18h-6zM378 306h3v18h-3zM396 306h3v18h-3zM463 306h2v18h-2zM618 306h2v18h-2zM384 306h4v18h-4zM687 306h3v18h-3zM692 306h2v18h-2zM548 306h2v18h-2zM238 306h2v18h-2zM164 306h3v18h-3zM247 306h2v18h-2zM434 306h2v18h-2zM599 306h2v18h-2zM671 306h2v18h-2zM531 306h4v18h-4zM446 306h2v18h-2zM171 306h3v18h-3zM426 306h3v18h-3zM553 306h2v18h-2zM253 306h2v18h-2zM268 306h2v18h-2zM347 306h8v18h-8zM621 306h2v18h-2zM634 306h2v18h-2zM368 306h2v18h-2zM470 306h2v18h-2zM153 306h3v18h-3zM148 306h2v18h-2zM285 306h4v18h-4z"/>
<path fill="#45006f" d="M626 359h5v18h-5zM657 359h5v18h-5zM609 359h14v18h-14zM673 359h3v18h-3zM578 359h3v18h-3zM693 359h2v18h-2zM642 359h2v18h-2zM645 359h2v18h-2zM697 377h2v8h-2z"/>
<path fill="#500089" d="M606 377h3v8h-3zM594 377h4v8h-4zM626 377h2v8h-2z"/>
<path fill="#5a00a1" d="M498 324h5v18h-5zM671 377h2v8h-2zM618 377h2v8h-2z"/>
<path fill="#4d00c1" d="M535 324h2v18h-2zM586 359h2v18h-2zM637 359h3v18h-3zM604 359h2v18h-2zM592 359h3v18h-3zM575 359h3v18h-3zM581 359h2v18h-2zM653 359h4v18h-4zM683 359h3v18h-3zM623 359h3v18h-3zM642 377h2v8h-2z"/>
<path fill="#4600d1" d="M197 342h3v17h-3zM210 342h2v17h-2zM588 359h4v18h-4zM662 359h6v18h-6zM584 359h2v18h-2zM695 359h4v18h-4zM680 359h3v18h-3zM651 359h2v18h-2zM690 359h2v18h-2z"/>
<path fill="#3f00e0" d="M673 342h5v17h-5zM268 342h13v17h-13zM521 342h9v17h-9zM690 342h2v17h-2zM236 342h14v17h-14zM395 342h14v17h-14zM257 342h8v17h-8zM251 342h2v17h-2zM161 342h33v17h-33zM537 342h8v17h-8zM223 342h4v17h-4zM437 342h14v17h-14zM516 342h4v17h-4zM680 342h7v17h-7zM454 342h23v17h-23zM217 342h5v17h-5zM212 342h4v17h-4zM695 342h6v17h-6zM144 342h2v17h-2zM601 342h19v17h-19zM388 342h6v17h-6zM636 342h4v17h-4zM586 342h13v17h-13zM621 342h10v17h-10zM282 342h9v17h-9zM641 342h29v17h-29zM478 342h7v17h-7zM486 342h27v17h-27zM350 342h27v17h-27zM195 342h2v17h-2zM412 342h22v17h-22zM148 342h12v17h-12zM115 342h11v17h-11zM381 342h5v17h-5zM228 342h7v17h-7zM200 342h10v17h-10zM601 359h3v18h-3zM595 359h3v18h-3zM606 359h3v18h-3zM699 359h2v18h-2zM651 377h2v8h-2zM623 377h3v8h-3z"/>
<path fill="#2400ee" d="M113 298h573v8h-573zM531 342h3v17h-3zM687 342h3v17h-3zM113 342h2v17h-2zM545 342h3v17h-3zM434 342h2v17h-2zM599 342h2v17h-2zM386 342h2v17h-2zM451 342h3v17h-3zM583 342h3v17h-3zM253 342h2v17h-2zM634 342h2v17h-2zM378 342h3v17h-3zM291 342h5v17h-5zM671 342h2v35h-2zM631 342h2v35h-2zM420 359h2v18h-2z"/>
<path fill="#0800fb" d="M555 342h3v17h-3zM126 342h2v17h-2zM296 342h2v17h-2zM347 342h3v17h-3zM548 342h2v17h-2zM551 342h2v17h-2zM687 359h3v18h-3zM412 359h3v18h-3zM599 359h2v18h-2zM578 377h3v8h-3z"/>
<path fill="#0014ff" d="M320 342h5v17h-5zM577 342h6v17h-6zM535 342h2v17h-2zM410 342h2v17h-2zM146 342h2v17h-2zM298 342h2v17h-2zM553 342h2v17h-2zM558 342h12v17h-12zM266 342h2v17h-2zM340 342h2v17h-2zM573 342h2v17h-2zM303 342h4v17h-4zM308 342h9v17h-9zM115 359h2v18h-2zM634 359h2v18h-2zM604 377h2v8h-2zM673 377h3v8h-3z"/>
<path fill="#0030ff" d="M317 342h3v17h-3zM344 342h3v17h-3zM128 342h15v17h-15zM570 342h3v17h-3zM325 342h5v17h-5zM331 342h7v17h-7zM266 359h2v18h-2zM124 359h2v18h-2zM381 359h3v18h-3zM489 359h3v18h-3zM573 359h2v18h-2zM567 359h3v18h-3zM644 377h3v8h-3zM592 377h2v8h-2zM658 377h2v8h-2zM581 377h2v8h-2zM683 377h3v8h-3z"/>
<path fill="#004cff" d="M687 298h15v8h-15zM515 359h5v18h-5zM410 359h2v18h-2zM258 359h3v18h-3zM117 359h5v18h-5zM388 359h2v18h-2zM586 377h2v8h-2zM637 377h3v8h-3z"/>
<path fill="#0068ff" d="M300 342h3v17h-3zM575 342h2v17h-2zM407 359h2v18h-2zM503 359h2v18h-2zM399 359h4v18h-4zM628 377h3v8h-3zM654 377h3v8h-3z"/>
<path fill="#0089ff" d="M338 342h2v17h-2zM525 359h3v18h-3zM522 359h2v18h-2zM404 359h3v18h-3zM487 359h2v18h-2zM535 359h2v18h-2zM415 359h3v18h-3zM478 359h3v18h-3zM429 359h2v18h-2zM456 359h2v18h-2zM508 359h5v18h-5zM245 359h2v18h-2zM694 377h3v8h-3zM575 377h2v8h-2zM690 377h2v8h-2zM588 377h3v8h-3zM663 377h3v8h-3zM613 377h2v8h-2zM660 377h2v8h-2z"/>
<path fill="#00abff" d="M441 359h2v18h-2zM423 359h3v18h-3zM495 359h3v18h-3zM275 359h3v18h-3zM563 359h4v18h-4zM391 359h3v18h-3zM375 359h2v18h-2zM431 359h2v18h-2zM528 359h2v18h-2zM465 359h3v18h-3zM501 359h2v18h-2zM699 377h2v8h-2zM666 377h2v8h-2zM584 377h2v8h-2zM680 377h3v8h-3zM489 377h3v8h-3zM601 377h3v8h-3zM615 377h3v8h-3zM115 377h2v8h-2z"/>
<path fill="#00ceff" d="M555 359h3v18h-3zM373 359h2v18h-2zM282 359h3v18h-3zM197 359h3v18h-3zM224 359h2v18h-2zM210 359h2v18h-2zM279 359h2v18h-2zM236 359h2v18h-2zM481 359h3v18h-3zM505 359h3v18h-3zM458 359h2v18h-2zM126 359h2v18h-2zM609 377h4v8h-4zM573 377h2v8h-2z"/>
<path fill="#00f0ff" d="M498 359h3v18h-3zM448 359h2v18h-2zM542 359h3v18h-3zM242 359h3v18h-3zM443 359h2v18h-2zM461 359h2v18h-2zM370 359h3v18h-3zM441 377h2v8h-2zM621 377h2v8h-2zM429 377h4v8h-4zM460 377h3v8h-3z"/>
<path fill="#00fff1" d="M559 359h3v18h-3zM397 359h2v18h-2zM539 359h3v18h-3zM356 359h2v18h-2zM220 359h3v18h-3zM420 377h2v8h-2zM481 377h3v8h-3zM245 377h2v8h-2zM465 377h3v8h-3zM412 377h3v8h-3zM124 377h2v8h-2zM117 377h3v8h-3z"/>
<path fill="#00ffda" d="M202 359h2v18h-2zM263 359h2v18h-2zM205 359h2v18h-2zM144 359h2v18h-2zM131 359h3v18h-3zM228 359h3v18h-3zM363 359h3v18h-3zM232 359h3v18h-3zM285 359h4v18h-4zM570 359h3v18h-3zM503 377h2v8h-2zM456 377h4v8h-4zM266 377h2v8h-2zM487 377h2v8h-2zM478 377h3v8h-3zM448 377h2v8h-2zM567 377h3v8h-3zM120 377h2v8h-2z"/>
<path fill="#00ffc2" d="M359 359h3v18h-3zM463 359h2v18h-2zM454 359h2v18h-2zM368 359h2v18h-2zM384 359h2v18h-2zM446 359h2v18h-2zM473 359h3v18h-3zM548 359h2v18h-2zM381 377h3v8h-3zM631 377h2v8h-2zM258 377h3v8h-3zM599 377h2v8h-2zM687 377h3v8h-3z"/>
<path fill="#00ffaa" d="M426 359h3v18h-3zM238 359h2v18h-2zM386 359h2v18h-2zM158 359h2v18h-2zM352 359h3v18h-3zM268 359h2v18h-2zM495 377h3v8h-3zM423 377h3v8h-3zM224 377h2v8h-2zM463 377h2v8h-2zM210 377h2v8h-2zM275 377h3v8h-3zM443 377h2v8h-2zM501 377h2v8h-2zM388 377h2v8h-2zM228 377h3v8h-3z"/>
<path fill="#00ff92" d="M178 359h3v18h-3zM553 359h2v18h-2zM214 359h2v18h-2zM378 359h3v18h-3zM531 359h3v18h-3zM134 359h3v18h-3zM233 377h2v8h-2zM454 377h2v8h-2zM236 377h2v8h-2zM375 377h2v8h-2zM508 377h2v8h-2zM242 377h3v8h-3zM251 377h2v8h-2zM470 377h2v8h-2zM563 377h3v8h-3zM516 377h2v8h-2z"/>
<path fill="#00ff72" d="M313 359h2v18h-2zM128 359h3v18h-3zM212 359h2v18h-2zM186 359h3v18h-3zM138 359h2v18h-2zM146 359h2v18h-2zM473 377h3v8h-3zM505 377h3v8h-3zM400 377h3v8h-3zM158 377h2v8h-2zM634 377h2v8h-2zM282 377h3v8h-3zM410 377h2v8h-2zM426 377h3v8h-3zM370 377h3v8h-3zM279 377h2v8h-2z"/>
<path fill="#00ff52" d="M175 359h2v18h-2zM191 359h3v18h-3zM434 359h2v18h-2zM207 359h2v18h-2zM161 359h3v18h-3zM183 359h2v18h-2zM200 359h2v18h-2zM356 377h2v8h-2zM144 377h2v8h-2zM555 377h3v8h-3zM359 377h3v8h-3zM518 377h2v8h-2zM197 377h3v8h-3zM498 377h3v8h-3zM525 377h3v8h-3z"/>
<path fill="#00ff31" d="M189 359h2v18h-2zM323 359h2v18h-2zM168 359h3v18h-3zM300 359h3v18h-3zM373 377h2v8h-2zM415 377h3v8h-3zM204 377h3v8h-3zM396 377h4v8h-4zM363 377h3v8h-3zM313 377h2v8h-2zM238 377h2v8h-2zM522 377h2v8h-2zM263 377h2v8h-2zM390 377h4v8h-4zM535 377h4v8h-4zM217 377h2v8h-2zM558 377h4v8h-4zM220 377h2v8h-2zM268 377h2v8h-2z"/>
<path fill="#00ff10" d="M344 359h6v18h-6zM253 359h2v18h-2zM304 359h3v18h-3zM451 359h3v18h-3zM446 377h2v8h-2zM407 377h2v8h-2zM126 377h2v8h-2zM285 377h2v8h-2zM352 377h3v8h-3zM214 377h2v8h-2z"/>
<path fill="#0dff00" d="M321 359h2v18h-2zM331 359h3v18h-3zM325 359h2v18h-2zM141 359h2v18h-2zM308 359h3v18h-3zM368 377h2v8h-2zM300 377h3v8h-3zM202 377h2v8h-2zM528 377h2v8h-2zM570 377h3v8h-3zM304 377h3v8h-3zM451 377h3v8h-3zM539 377h3v8h-3zM404 377h3v8h-3zM131 377h6v8h-6zM287 377h2v8h-2z"/>
<path fill="#26ff00" d="M171 359h3v18h-3zM327 359h3v18h-3zM148 359h2v18h-2zM337 359h3v18h-3zM325 377h2v8h-2zM186 377h3v8h-3zM434 377h2v8h-2zM146 377h2v8h-2zM200 377h2v8h-2z"/>
<path fill="#3fff00" d="M317 359h3v18h-3zM311 359h2v18h-2zM141 377h2v8h-2zM308 377h3v8h-3zM138 377h2v8h-2zM178 377h3v8h-3zM323 377h2v8h-2zM542 377h3v8h-3z"/>
<path fill="#59ff00" d="M153 359h3v18h-3zM164 359h3v18h-3zM183 377h3v8h-3zM327 377h3v8h-3zM317 377h3v8h-3zM207 377h2v8h-2zM189 377h5v8h-5zM384 377h4v8h-4zM161 377h3v8h-3zM331 377h3v8h-3zM548 377h2v8h-2zM345 377h5v8h-5z"/>
<path fill="#72ff00" d="M321 377h2v8h-2zM253 377h2v8h-2zM128 377h3v8h-3zM175 377h2v8h-2zM378 377h3v8h-3zM168 377h3v8h-3z"/>
<path fill="#8cff00" d="M171 377h3v8h-3zM531 377h3v8h-3zM311 377h2v8h-2zM338 377h2v8h-2zM148 377h2v8h-2zM553 377h2v8h-2z"/>
<path fill="#e4ff00" d="M153 377h3v8h-3zM164 377h3v8h-3z"/></g><g fill="none" transform="translate(.5 0)"><path stroke="#000000" d="M150 324v18M167 324v18M640 324v18M653 324v18M633 324v18M440 324v18M140 324v18M558 324v18M469 324v18M476 324v18M182 324v18M256 324v18M403 324v18M241 324v18M290 324v18M562 324v18M433 324v18M445 324v18M270 324v18M122 324v18M281 324v18M355 324v18M650 324v18M299 324v18M137 324v18M620 324v18M262 324v18M485 324v18M679 324v18M216 324v18M316 324v18M377 324v18M537 324v18M418 324v18M670 324v18"/>
<path stroke="#0c000e" d="M620 306v18M679 306v18M281 306v18M265 306v18M250 306v18M670 306v18M235 306v18M640 306v18M140 306v18M315 324v18M204 324v18M261 324v18M419 324v18M641 324v18M257 324v18M255 324v18M513 324v18M577 324v18M181 324v18"/>
<path stroke="#18001c" d="M633 306v18M249 306v18M395 306v18M335 306v18M469 306v18M218 306v18M196 306v18M270 306v18M476 306v18M472 306v18M262 306v18M334 324v18M477 324v18M701 324v18M160 324v18M692 324v18M194 324v18M678 324v18"/>
<path stroke="#24002a" d="M271 306v18M394 306v18M358 306v18M298 306v18M342 306v18M217 306v18M649 306v18M334 306v18M409 306v18M261 306v18M477 306v18M701 306v18M641 306v18M257 306v18M524 306v18M227 306v18M177 306v18M520 306v18M307 306v18M292 306v18M160 306v18M219 306v18M468 306v18M181 306v18M278 306v18M336 306v18"/>
<path stroke="#45006f" d="M677 359v18M650 359v18M668 359v18"/>
<path stroke="#5a00a1" d="M670 359v18"/>
<path stroke="#5300b1" d="M640 359v18M679 359v18M583 359v18M692 377v8M653 377v8"/>
<path stroke="#4d00c1" d="M647 359v18M633 359v18M644 359v18"/>
<path stroke="#4600d1" d="M514 342v17M670 342v17M436 342v17M640 342v17M377 342v17M265 342v17M250 342v17M235 342v17M256 342v17M620 342v17M485 342v17M679 342v17M216 342v17M598 359v18M693 377v8"/>
<path stroke="#3f00e0" d="M492 324v18M534 342v17M693 342v17M633 342v17M669 359v18M636 359v18M648 359v18M686 359v18M676 359v18M670 377v8M647 377v8"/>
<path stroke="#2400ee" d="M512 324v18M678 342v17M477 342v17M394 342v17M160 342v17M692 342v17M194 342v17M550 342v17M281 359v18M649 359v18M641 359v18M620 377v8M640 377v8M679 377v8"/>
<path stroke="#0800fb" d="M143 342v17M281 342v17M418 359v18M701 359v18M403 359v18M485 359v18M678 359v18M122 359v18M583 377v8"/>
<path stroke="#0014ff" d="M694 342v17M222 342v17M515 342v17M255 342v17M330 342v17M530 342v17M513 342v17M692 359v18M265 359v18"/>
<path stroke="#0030ff" d="M307 342v17M342 342v17M409 342v17M227 342v17M520 342v17M701 342v17M419 359v18M250 359v18M235 359v18M256 359v18M514 359v18M377 359v18M650 377v8"/>
<path stroke="#004cff" d="M686 324v18M476 359v18M294 359v18M436 359v18M422 359v18M445 359v18M290 359v18M113 359v18M577 377v8M657 377v8M633 377v8"/>
<path stroke="#0068ff" d="M469 359v18M241 359v18M472 359v18M270 359v18M537 359v18M562 359v18M262 359v18M114 359v18M494 359v18M591 377v8"/>
<path stroke="#0089ff" d="M343 342v17M433 359v18M437 359v18M273 359v18M440 359v18M492 359v18M460 359v18M123 359v18M355 359v18M546 359v18M293 359v18M249 359v18M445 377v8M668 377v8M598 377v8"/>
<path stroke="#00abff" d="M295 359v18M252 359v18M289 359v18M439 359v18M545 359v18M395 359v18M484 359v18M538 359v18M521 359v18M558 359v18M550 359v18M669 377v8M440 377v8M281 377v8M662 377v8M265 377v8M469 377v8M636 377v8M472 377v8"/>
<path stroke="#00ceff" d="M686 298v8M366 359v18M438 359v18M493 359v18M396 359v18M530 359v18M486 359v18M251 359v18M216 359v18M686 377v8M485 377v8M676 377v8M256 377v8M122 377v8M494 377v8M433 377v8M476 377v8M436 377v8M648 377v8"/>
<path stroke="#00f0ff" d="M140 359v18M390 359v18M547 359v18M552 359v18M409 359v18M255 359v18M250 377v8M437 377v8M114 377v8"/>
<path stroke="#00fff1" d="M274 359v18M513 359v18M551 359v18M272 359v18M367 359v18M362 359v18M677 377v8M649 377v8M113 377v8M641 377v8M262 377v8"/>
<path stroke="#00ffda" d="M471 359v18M296 359v18M394 359v18M534 359v18M468 359v18M291 359v18M240 359v18M515 377v8M235 377v8M270 377v8M438 377v8M492 377v8M123 377v8M355 377v8"/>
<path stroke="#00ffc2" d="M261 359v18M167 359v18M450 359v18M248 359v18M231 359v18M524 359v18M470 359v18M257 359v18M510 377v8M422 377v8M678 377v8M439 377v8M562 377v8M514 377v8M249 377v8"/>
<path stroke="#00ffaa" d="M218 359v18M350 359v18M137 359v18M341 359v18M271 359v18M477 359v18M292 359v18M204 359v18M223 359v18M358 359v18M226 359v18M278 359v18M182 359v18M403 377v8M273 377v8M468 377v8M511 377v8M450 377v8M484 377v8M232 377v8M418 377v8M241 377v8M493 377v8M216 377v8M377 377v8"/>
<path stroke="#00ff92" d="M520 359v18M247 359v18M150 359v18M351 359v18M297 359v18M209 359v18M299 359v18M486 377v8M140 377v8M512 377v8M294 377v8M701 377v8M272 377v8M255 377v8M546 377v8"/>
<path stroke="#00ff72" d="M152 359v18M248 377v8M366 377v8M290 377v8M566 377v8M293 377v8"/>
<path stroke="#00ff52" d="M156 359v18M340 359v18M227 359v18M343 359v18M217 359v18M316 359v18M143 359v18M419 377v8M341 377v8M395 377v8M367 377v8M477 377v8M167 377v8M222 377v8M257 377v8M240 377v8"/>
<path stroke="#00ff31" d="M174 359v18M157 359v18M185 359v18M320 359v18M350 377v8M231 377v8M150 377v8M274 377v8M550 377v8M226 377v8M295 377v8"/>
<path stroke="#00ff10" d="M219 359v18M330 359v18M196 359v18M362 377v8M513 377v8M521 377v8M223 377v8M289 377v8M278 377v8M182 377v8M299 377v8"/>
<path stroke="#0dff00" d="M151 359v18M181 359v18M335 359v18M271 377v8M291 377v8M330 377v8M547 377v8M212 377v8M320 377v8M551 377v8M351 377v8M156 377v8M261 377v8M227 377v8M296 377v8M545 377v8M344 377v8"/>
<path stroke="#26ff00" d="M303 359v18M315 359v18M298 359v18M552 377v8M358 377v8M409 377v8M343 377v8M137 377v8M316 377v8M213 377v8"/>
<path stroke="#3fff00" d="M307 359v18M336 359v18M177 359v18M195 359v18M524 377v8M209 377v8M340 377v8M520 377v8M247 377v8M530 377v8M152 377v8"/>
<path stroke="#59ff00" d="M342 359v18M394 377v8M315 377v8M181 377v8M174 377v8M157 377v8M143 377v8M303 377v8M337 377v8M196 377v8"/>
<path stroke="#72ff00" d="M160 359v18M219 377v8M335 377v8M297 377v8M307 377v8M534 377v8"/>
<path stroke="#8cff00" d="M151 377v8M292 377v8M342 377v8"/>
<path stroke="#a2ff00" d="M334 359v18M336 377v8M177 377v8"/>
<path stroke="#b8ff00" d="M194 359v18M298 377v8M195 377v8"/>
<path stroke="#e4ff00" d="M334 377v8"/>
<path stroke="#faff00" d="M160 377v8"/>
<path stroke="#fff100" d="M194 377v8"/></g>
<g><path fill="#000000" d="M401 403h2v2h-2zM137 408h9v2h-9zM524 418h3v2h-3zM393 419h2v2h-2zM433 423h2v3h-2zM397 425h2v2h-2zM408 425h2v2h-2zM593 425h2v2h-2zM369 426h9v2h-9zM587 426h2v2h-2zM521 427h2v2h-2zM473 427h2v2h-2zM514 427h2v2h-2zM620 428h2v2h-2zM670 428h2v2h-2zM137 429h9v2h-9zM681 429h2v2h-2zM589 429h2v3h-2zM369 434h9v2h-9zM441 434h2v2h-2z"/>
<path fill="#30003d" d="M369 420h9v4h-9zM137 432h9v4h-9z"/>
<path fill="#3a0056" d="M137 424h9v4h-9zM369 430h9v4h-9z"/>
<path fill="#45006f" d="M406 407h2v2h-2zM369 406h9v4h-9zM554 408h2v2h-2zM428 409h2v2h-2zM637 409h2v2h-2zM641 410h2v2h-2zM136 410h10v2h-10zM574 412h2v3h-2zM137 412h9v4h-9zM405 414h2v2h-2zM104 415h2v3h-2zM128 415h3v4h-3zM561 420h2v2h-2zM578 421h2v2h-2zM450 421h2v2h-2zM111 421h2v2h-2zM618 421h2v3h-2zM544 422h2v2h-2zM409 423h2v2h-2zM484 423h3v3h-3zM696 424h2v2h-2zM691 424h2v2h-2zM499 424h2v3h-2zM437 425h2v2h-2zM663 426h2v2h-2zM668 426h2v2h-2zM578 426h2v2h-2zM516 426h2v2h-2zM388 427h2v2h-2zM476 427h2v2h-2zM463 428h2v2h-2zM683 428h2v2h-2zM444 430h2v2h-2zM438 430h2v2h-2zM516 430h2v3h-2zM475 431h2v2h-2zM456 431h2v2h-2zM689 432h2v2h-2zM668 432h2v2h-2zM496 435h2v2h-2zM487 435h2v2h-2zM670 435h2v2h-2zM531 435h2v3h-2zM137 436h9v6h-9zM369 440h9v6h-9z"/>
<path fill="#500089" d="M88 393h2v3h-2zM94 394h2v4h-2zM88 396h3v3h-3zM401 408h2v2h-2zM534 414h2v2h-2zM428 415h2v2h-2zM369 410h9v10h-9zM133 420h2v3h-2zM573 421h2v3h-2zM133 424h2v3h-2zM646 425h2v3h-2zM104 427h2v2h-2z"/>
<path fill="#5a00a1" d="M88 399h2v3h-2zM94 400h2v3h-2zM94 404h2v3h-2zM88 402h3v19h-3zM94 408h2v13h-2zM381 411h2v10h-2zM401 413h2v8h-2zM490 414h2v7h-2zM99 415h2v6h-2zM136 417h10v4h-10zM534 418h2v3h-2zM428 419h2v2h-2zM644 421h2v2h-2zM137 421h9v3h-9zM540 425h2v2h-2zM691 427h2v2h-2zM538 432h2v2h-2zM570 438h2v3h-2zM137 442h9v6h-9zM369 446h9v6h-9z"/>
<path fill="#5300b1" d="M428 423h3v2h-3zM381 421h2v5h-2zM88 421h3v6h-3zM94 421h2v6h-2zM401 421h2v6h-2zM405 424h2v3h-2zM421 426h2v2h-2zM611 426h2v2h-2zM428 425h2v4h-2zM644 425h2v4h-2zM381 427h2v2h-2zM425 427h2v2h-2zM490 421h2v10h-2zM534 422h2v9h-2zM99 423h2v8h-2zM634 429h2v2h-2zM448 431h2v2h-2zM563 434h2v2h-2zM628 434h2v2h-2zM696 434h2v4h-2zM480 436h2v2h-2zM538 436h2v2h-2zM510 436h2v2h-2zM408 435h2v4h-2zM646 436h2v3h-2zM563 437h2v2h-2zM130 437h2v2h-2zM473 439h3v3h-3zM474 442h2v2h-2zM570 442h2v4h-2z"/>
<path fill="#4d00c1" d="M490 431h2v4h-2zM534 431h2v4h-2zM99 431h2v4h-2zM419 432h3v3h-3zM390 433h2v2h-2zM387 433h2v2h-2zM598 433h2v2h-2zM628 439h2v3h-2zM480 439h2v3h-2zM646 439h2v4h-2zM667 439h2v4h-2zM130 439h2v4h-2zM510 439h2v4h-2zM682 440h2v3h-2zM563 440h2v3h-2zM538 441h2v2h-2zM408 441h2v2h-2zM693 441h2v2h-2zM570 446h2v6h-2zM473 448h3v4h-3zM137 448h9v6h-9z"/>
<path fill="#4600d1" d="M102 427h2v2h-2zM390 435h2v2h-2zM534 435h2v4h-2zM419 435h3v4h-3zM99 435h2v4h-2zM552 435h2v4h-2zM490 435h2v4h-2zM598 436h2v3h-2zM541 436h2v3h-2zM387 436h2v3h-2zM448 436h2v3h-2zM437 437h2v2h-2zM700 443h2v2h-2zM114 443h2v2h-2zM646 443h2v4h-2zM130 443h2v4h-2zM510 443h2v4h-2zM563 443h2v4h-2zM538 443h2v4h-2zM408 445h2v2h-2zM480 445h2v2h-2zM696 445h2v2h-2zM682 445h2v2h-2zM117 449h2v2h-2zM117 452h2v2h-2zM117 455h2v2h-2zM369 452h9v6h-9zM570 452h2v6h-2zM473 452h3v6h-3z"/>
<path fill="#3f00e0" d="M102 431h2v4h-2zM598 439h2v2h-2zM490 440h4v2h-4zM552 439h2v4h-2zM419 439h3v4h-3zM534 439h2v4h-2zM526 439h2v4h-2zM99 439h2v4h-2zM437 440h2v3h-2zM448 440h2v3h-2zM541 441h2v2h-2zM598 441h3v2h-3zM498 441h2v2h-2zM510 447h2v2h-2zM480 447h2v3h-2zM667 447h2v4h-2zM682 449h2v2h-2zM408 447h2v5h-2zM130 447h2v5h-2zM538 447h2v5h-2zM696 447h2v5h-2zM563 447h2v5h-2zM646 447h2v5h-2zM628 448h2v4h-2zM114 450h2v2h-2zM510 450h2v2h-2zM137 454h9v6h-9z"/>
<path fill="#2400ee" d="M102 435h2v5h-2zM135 436h2v4h-2zM405 438h2v2h-2zM675 443h2v2h-2zM598 443h3v2h-3zM437 443h2v3h-2zM502 443h2v3h-2zM534 443h2v4h-2zM526 443h2v4h-2zM419 443h3v4h-3zM387 443h2v4h-2zM490 443h2v4h-2zM541 443h2v4h-2zM498 443h2v4h-2zM99 443h2v4h-2zM552 443h2v4h-2zM448 444h2v3h-2zM598 445h2v2h-2zM412 452h2v3h-2zM130 452h2v6h-2zM696 452h2v6h-2zM510 452h2v6h-2zM563 452h2v6h-2zM538 452h2v6h-2zM628 452h2v6h-2zM408 452h2v6h-2zM646 452h2v6h-2zM480 452h2v6h-2zM667 452h2v6h-2zM682 455h2v3h-2zM570 458h2v6h-2zM473 458h3v6h-3zM117 459h2v5h-2z"/>
<path fill="#0800fb" d="M405 440h2v4h-2zM135 440h2v4h-2zM102 440h2v4h-2zM526 447h2v6h-2zM387 447h2v6h-2zM498 447h2v6h-2zM99 447h2v6h-2zM490 447h2v6h-2zM437 447h2v6h-2zM541 447h2v6h-2zM552 447h2v6h-2zM448 447h2v6h-2zM419 447h3v6h-3zM534 447h2v6h-2zM675 448h2v5h-2zM502 449h2v4h-2zM598 449h3v4h-3zM678 450h2v3h-2zM574 451h2v2h-2zM369 458h9v6h-9zM137 460h9v5h-9z"/>
<path fill="#0014ff" d="M405 444h2v4h-2zM135 444h2v4h-2zM102 444h2v4h-2zM617 450h2v2h-2zM387 453h2v5h-2zM598 453h3v5h-3zM541 453h2v5h-2zM498 453h2v5h-2zM99 453h2v5h-2zM552 453h2v5h-2zM675 453h2v5h-2zM490 453h2v5h-2zM437 453h2v5h-2zM526 453h2v5h-2zM448 453h2v5h-2zM419 453h3v5h-3zM534 453h2v5h-2zM502 453h2v5h-2zM678 456h2v2h-2zM412 459h2v3h-2zM628 459h2v5h-2zM696 459h2v5h-2zM646 459h2v5h-2zM682 459h2v5h-2zM408 459h2v5h-2zM667 459h2v5h-2zM480 459h2v5h-2zM130 459h2v5h-2zM114 459h2v5h-2zM510 459h2v5h-2zM563 459h2v5h-2zM538 459h2v5h-2zM117 465h2v4h-2zM570 465h2v4h-2zM473 465h3v4h-3z"/>
<path fill="#0030ff" d="M135 448h2v6h-2zM102 448h2v6h-2zM405 448h2v6h-2zM369 464h9v5h-9zM137 465h9v4h-9z"/>
<path fill="#004cff" d="M554 429h2v7h-2zM104 429h2v7h-2zM608 429h2v7h-2zM572 429h2v7h-2zM410 429h2v7h-2zM644 429h2v7h-2zM428 429h2v7h-2zM392 430h2v6h-2zM536 432h2v4h-2zM518 432h2v4h-2zM446 432h2v4h-2zM590 432h2v4h-2zM662 432h2v4h-2zM626 433h2v3h-2zM698 433h2v3h-2zM464 434h2v2h-2zM102 454h2v4h-2zM405 454h2v4h-2zM135 454h2v4h-2zM675 459h2v5h-2zM490 459h2v5h-2zM437 459h2v5h-2zM448 459h2v5h-2zM419 459h3v5h-3zM534 459h2v5h-2zM502 459h2v5h-2zM526 459h2v5h-2zM387 459h2v5h-2zM598 459h3v5h-3zM541 459h2v5h-2zM498 459h2v5h-2zM99 459h2v5h-2zM552 459h2v5h-2zM678 462h2v2h-2zM412 465h2v3h-2zM480 465h2v4h-2zM667 465h2v4h-2zM130 465h2v4h-2zM114 465h2v4h-2zM510 465h2v4h-2zM563 465h2v4h-2zM538 465h2v4h-2zM628 465h2v4h-2zM696 465h2v4h-2zM646 465h2v4h-2zM682 465h2v4h-2zM408 465h2v4h-2z"/>
<path fill="#0068ff" d="M120 458h2v2h-2zM405 458h2v2h-2zM135 458h2v2h-2zM102 458h2v2h-2zM639 462h2v2h-2zM675 464h2v2h-2zM437 464h2v2h-2zM534 464h2v2h-2zM502 464h2v2h-2zM678 464h2v2h-2zM526 464h2v2h-2zM574 464h2v2h-2zM419 464h3v2h-3zM598 464h3v2h-3zM387 464h2v2h-2zM595 464h2v2h-2zM490 464h2v2h-2zM541 464h2v2h-2zM498 464h2v2h-2zM99 464h2v2h-2zM552 464h2v2h-2zM448 464h2v2h-2z"/>
<path fill="#0089ff" d="M405 460h2v4h-2zM135 460h2v4h-2zM102 460h2v4h-2zM502 466h2v3h-2zM526 466h2v3h-2zM387 466h2v3h-2zM598 466h3v3h-3zM498 466h2v3h-2zM99 466h2v3h-2zM552 466h2v3h-2zM675 466h2v3h-2zM490 466h2v3h-2zM437 466h2v3h-2zM541 466h2v3h-2zM448 466h2v3h-2zM419 466h3v3h-3zM534 466h2v3h-2z"/>
<path fill="#00abff" d="M405 464h2v3h-2zM135 464h2v3h-2zM102 464h2v3h-2zM120 465h2v2h-2z"/>
<path fill="#00ceff" d="M102 467h2v2h-2zM405 467h2v2h-2zM135 467h2v2h-2z"/>
<path fill="#00f0ff" d="M608 436h2v5h-2zM410 436h2v5h-2zM644 436h2v5h-2zM518 436h2v5h-2zM500 436h2v5h-2zM572 436h2v5h-2zM446 436h2v5h-2zM464 436h2v5h-2zM698 436h2v5h-2zM680 436h2v5h-2zM392 436h2v5h-2zM590 436h2v5h-2zM428 436h2v5h-2zM662 436h2v5h-2zM536 436h2v5h-2zM554 436h2v5h-2zM626 436h2v5h-2zM104 436h2v5h-2zM482 439h2v2h-2z"/>
<path fill="#00fff1" d="M590 441h2v6h-2zM554 441h2v6h-2zM392 441h2v6h-2zM608 441h2v6h-2zM536 441h2v6h-2zM572 441h2v6h-2zM644 441h2v6h-2zM662 441h2v6h-2zM698 441h2v6h-2zM626 441h2v6h-2zM104 441h2v6h-2zM680 441h2v6h-2zM518 441h2v6h-2zM410 441h2v6h-2zM428 441h2v6h-2zM464 441h2v6h-2zM500 441h2v6h-2zM446 441h2v6h-2zM482 441h2v6h-2zM122 445h2v2h-2z"/>
<path fill="#00ffda" d="M104 447h2v6h-2zM608 447h2v6h-2zM572 447h2v6h-2zM644 447h2v6h-2zM680 447h2v6h-2zM662 447h2v6h-2zM626 447h2v6h-2zM464 447h2v6h-2zM518 447h2v6h-2zM410 447h2v6h-2zM392 447h2v6h-2zM428 447h2v6h-2zM536 447h2v6h-2zM122 447h2v6h-2zM500 447h2v6h-2zM446 447h2v6h-2zM482 447h2v6h-2zM698 447h2v6h-2zM590 447h2v6h-2zM554 447h2v6h-2z"/>
<path fill="#00ffc2" d="M572 453h2v6h-2zM680 453h2v6h-2zM626 453h2v6h-2zM410 453h2v6h-2zM428 453h2v6h-2zM464 453h2v6h-2zM482 453h2v6h-2zM518 453h2v6h-2zM590 453h2v6h-2zM392 453h2v6h-2zM608 453h2v6h-2zM536 453h2v6h-2zM122 453h2v6h-2zM644 453h2v6h-2zM500 453h2v6h-2zM446 453h2v6h-2zM662 453h2v6h-2zM698 453h2v6h-2zM554 453h2v6h-2zM104 453h2v6h-2z"/>
<path fill="#00ffaa" d="M518 459h2v6h-2zM410 459h2v6h-2zM392 459h2v6h-2zM428 459h2v6h-2zM122 459h2v6h-2zM500 459h2v6h-2zM446 459h2v6h-2zM482 459h2v6h-2zM698 459h2v6h-2zM590 459h2v6h-2zM554 459h2v6h-2zM104 459h2v6h-2zM608 459h2v6h-2zM536 459h2v6h-2zM572 459h2v6h-2zM644 459h2v6h-2zM680 459h2v6h-2zM662 459h2v6h-2zM626 459h2v6h-2zM464 459h2v6h-2z"/>
<path fill="#00ff92" d="M482 465h2v4h-2zM518 465h2v4h-2zM590 465h2v4h-2zM392 465h2v4h-2zM536 465h2v4h-2zM122 465h2v4h-2zM644 465h2v4h-2zM500 465h2v4h-2zM446 465h2v4h-2zM662 465h2v4h-2zM698 465h2v4h-2zM554 465h2v4h-2zM104 465h2v4h-2zM608 465h2v4h-2zM572 465h2v4h-2zM680 465h2v4h-2zM626 465h2v4h-2zM410 465h2v4h-2zM428 465h2v4h-2zM464 465h2v4h-2zM378 469h2v2h-2zM686 469h2v2h-2zM578 469h2v2h-2zM589 469h2v2h-2zM648 469h2v2h-2zM458 469h2v2h-2zM569 469h3v2h-3zM117 469h2v4h-2zM473 469h3v4h-3zM570 471h2v2h-2z"/>
<path fill="#00ff72" d="M369 469h9v2h-9zM480 469h2v2h-2zM130 469h2v2h-2zM646 469h2v2h-2zM667 469h3v4h-3zM693 469h2v4h-2zM650 469h3v4h-3zM696 469h3v4h-3zM114 469h3v4h-3zM700 469h2v4h-2zM507 469h2v4h-2zM133 469h2v4h-2zM682 469h4v4h-4zM538 469h2v4h-2zM104 469h2v4h-2zM658 469h2v4h-2zM628 469h2v4h-2zM583 469h3v4h-3zM510 469h3v4h-3zM435 469h2v4h-2zM476 469h2v4h-2zM563 469h2v4h-2zM122 471h3v2h-3zM646 471h3v2h-3zM625 471h2v2h-2zM524 471h2v2h-2zM593 471h2v2h-2zM479 471h4v2h-4zM568 471h2v2h-2zM587 471h2v2h-2zM128 471h4v2h-4zM369 471h10v2h-10zM673 471h2v2h-2zM409 471h2v2h-2z"/>
<path fill="#00ff52" d="M137 469h9v4h-9z"/>
<path fill="#00ff31" d="M419 469h4v4h-4zM428 469h2v4h-2zM448 469h3v4h-3zM540 469h4v4h-4zM431 469h3v4h-3zM99 469h2v4h-2zM655 469h2v4h-2zM526 469h2v4h-2zM691 469h2v4h-2zM598 469h3v4h-3zM595 469h2v4h-2zM608 469h2v4h-2zM489 469h6v4h-6zM386 469h3v4h-3zM533 469h3v4h-3zM460 469h2v4h-2zM630 469h2v4h-2zM572 469h6v4h-6zM552 469h3v4h-3zM530 469h2v4h-2zM644 469h2v4h-2zM380 469h3v4h-3zM518 469h2v4h-2zM675 469h2v4h-2zM637 469h2v4h-2zM437 469h2v4h-2zM498 469h2v4h-2zM501 469h3v4h-3z"/>
<path fill="#00ff10" d="M617 469h2v4h-2zM611 469h3v4h-3zM639 469h2v4h-2z"/>
<path fill="#0dff00" d="M135 469h2v4h-2zM102 469h2v4h-2zM125 469h2v4h-2zM405 469h2v4h-2z"/>
<path fill="#26ff00" d="M392 469h2v4h-2z"/>
<path fill="#3fff00" d="M442 469h2v4h-2z"/></g><g fill="none" transform="translate(0 .5)"><path stroke="#000000" d="M89 386h1M680 386h1M534 397h1M598 399h1M552 399h1M680 400h1M523 401h1M136 403h1M565 403h1M612 403h1M494 404h1M523 405h1M402 405h1M382 406h1M421 406h1M132 407h1M106 407h1M577 407h1M553 407h1M491 409h1M577 409h1M557 409h2M640 410h1M555 411h1M575 411h1M553 411h1M642 412h1M566 412h1M541 413h2M642 414h1M424 414h1M552 414h1M698 415h1M564 415h1M572 415h1M646 415h1M383 415h1M578 415h1M380 415h1M578 416h2M425 416h1M645 416h2M387 416h1M574 416h1M635 416h1M540 417h1M444 417h1M430 417h1M622 417h1M526 417h1M425 417h2M524 417h1M578 418h2M564 418h1M645 418h1M647 418h1M393 418h1M425 418h3M419 418h1M536 419h1M400 419h1M661 419h1M387 419h1M657 419h1M622 419h1M427 419h1M647 419h2M565 419h1M583 419h1M384 420h1M486 420h1M622 420h2M449 420h2M426 420h1M526 420h1M623 421h1M394 421h1M408 421h2M526 421h2M427 421h1M449 421h1M418 421h1M406 422h4M426 422h2M414 422h1M633 422h2M696 422h1M378 422h1M625 423h1M587 423h1M692 423h1M385 423h1M427 423h1M399 423h1M407 423h2M418 423h1M413 424h1M616 424h1M369 424h9M656 424h1M384 424h2M586 424h2M408 424h1M458 424h1M397 424h3M450 424h1M120 425h1M587 425h1M483 425h1M443 425h2M492 425h1M656 425h3M584 425h1M584 426h2M434 426h1M673 426h1M473 426h1M522 426h1M443 426h1M563 426h1M388 426h1M122 426h1M630 426h1M656 426h2M660 427h1M621 427h2M410 427h1M510 427h1M463 427h1M397 427h1M544 427h1M677 427h1M630 427h2M700 427h1M524 427h1M461 428h1M536 428h1M587 428h1M630 428h1M467 428h1M488 428h1M673 429h1M455 429h1M461 429h2M515 429h1M379 429h1M662 429h3M487 429h3M593 430h1M664 430h1M528 430h1M472 430h1M487 430h1M689 430h1M489 430h1M670 430h1M120 431h1M482 431h1M492 431h1M452 431h1M505 431h1M522 431h1M471 431h2M501 431h2M501 432h1M587 432h1M110 432h2M589 432h1M531 432h1M481 432h2M442 433h1M110 433h1M652 433h1M600 433h1M686 433h1M531 433h2M439 433h1M620 433h1M509 433h1M693 434h1M701 434h1M497 434h1M472 434h2M677 434h1M687 434h1M668 434h1M601 435h1M114 435h1M442 436h1M682 436h2M369 437h9M123 437h2M482 438h1M119 439h3M120 440h1"/>
<path stroke="#18001c" d="M94 399h1M87 400h1M91 401h1M98 401h1M87 403h1M94 403h1M96 405h1M98 406h1M94 407h1M93 409h1M100 410h1M102 412h1M100 413h1M98 413h1M102 415h1M136 416h1M556 417h1M101 417h2M573 418h1M555 419h2M642 419h1M645 419h1M135 419h1M565 420h1M646 420h1M579 420h1M552 420h1M424 421h1M103 421h1M548 421h1M135 421h1M642 423h1M101 423h1M645 423h1M426 423h1M552 423h1M553 424h1M131 424h1M424 424h1M646 424h1M101 424h2M571 424h1M611 425h1M565 425h1M103 425h1M383 425h1M568 425h1M430 425h1M552 425h1M424 426h1M557 426h1M427 426h1M648 426h1M569 426h1M613 426h1M380 427h1M553 427h1M576 427h1M131 427h1M431 427h1M434 427h1M387 427h1M608 427h1M416 427h1M643 427h1M407 427h1M640 428h1M575 428h1M424 428h1M561 428h2M606 428h3M647 428h1M549 428h1M406 428h1M409 428h1M565 428h2M544 428h1M526 428h1M130 428h2M553 429h1M405 429h2M610 429h1M384 429h1M103 429h1M618 429h1M563 429h2M434 429h1M580 429h1M614 429h1M470 430h1M412 430h1M565 430h1M130 430h1M649 430h1M606 430h1M416 430h1M388 430h1M427 430h1M398 430h1M380 431h1M634 431h1M618 431h1M423 431h1M549 431h1M387 431h1M563 431h1M614 431h1M426 431h1M508 431h1M131 432h1M616 432h1M564 432h2M416 432h1M388 432h1M571 432h1M430 432h1M583 433h1M470 433h1M575 433h1M565 433h1M547 433h1M424 433h1M636 433h1M646 433h1M617 433h1M552 433h1M505 433h1M570 433h1M581 433h1M406 433h1M436 433h1M398 433h1M553 434h1M624 434h1M529 434h1M412 434h1M542 434h1M580 434h1M654 434h1M621 434h1M571 434h1M427 434h1M508 434h1M689 434h1M526 434h1M611 435h1M652 435h3M575 435h1M565 435h1M444 435h2M658 435h1M664 435h1M387 435h1M622 435h1M513 435h2M467 435h1M430 435h1M397 435h1M624 436h1M610 436h1M470 436h1M577 436h1M131 436h1M424 436h1M652 436h1M527 436h1M484 436h1M616 436h1M454 436h1M676 436h1M452 436h1M385 436h1M406 436h1M571 436h1M398 436h1M524 437h1M520 437h1M391 437h1M607 437h1M493 437h1M488 437h1M593 437h1M688 437h1M431 437h1M661 437h1M658 437h1M474 437h1M112 437h1M513 437h2M397 437h1M544 437h1M380 438h1M625 438h1M616 438h1M588 438h1M600 438h1M475 438h1M539 438h1M673 438h1M433 438h1M694 438h1M416 438h1M502 438h1M487 438h1M603 438h1M596 439h1M660 439h1M516 439h1M383 439h1M622 439h1M563 439h1M583 439h1M449 439h1M502 439h2M388 439h1M658 439h1M578 439h1M472 439h1M701 440h1M505 440h2M113 440h1M454 440h1M517 440h1M509 440h1M451 440h1M528 440h1M503 440h1M696 440h1M495 440h1M679 440h1M593 440h1M634 440h1M538 440h1M600 440h1M621 440h1M689 440h1M672 440h1M391 440h1M542 440h1M694 440h1M400 441h1M631 441h2M502 441h1M653 441h1M516 441h2M617 441h1M452 441h1M673 441h1M505 441h1M665 441h1M388 441h1M436 441h1M700 441h1M107 441h1M442 441h1M675 441h1M439 441h1M596 442h1M520 442h1M457 442h1M480 442h2M696 442h1M588 442h2M679 442h1M690 442h1M634 442h1M629 442h1M657 442h1M496 442h1M544 442h1M112 443h1M670 443h1M121 443h1M477 443h1M682 443h1M693 443h2M673 443h1M408 443h1M689 443h1M107 443h1M470 443h1M495 443h2M473 443h1M589 443h1M439 443h1M508 443h1M624 444h1M120 444h1M696 444h1M668 444h1M531 444h1M379 444h1M478 444h1M690 444h1M124 444h1M487 444h1M441 444h2M672 444h1M481 444h1M686 445h1M629 445h1M621 445h1M524 445h1M528 445h2M675 445h1M125 445h1M445 445h1M675 446h2M457 446h1M492 446h1M529 446h1M600 446h1M532 446h1M665 446h1M459 446h1M118 446h1M508 446h1M624 447h1M488 447h1M520 447h1M475 447h1M495 447h1M478 447h1M675 447h1M124 447h2M444 447h1M454 448h1M670 448h1M441 448h1M653 448h1M120 448h1M693 448h1M492 448h1M124 448h1M600 448h1M115 448h1M118 448h1M456 448h1M660 449h1M488 449h1M686 449h1M120 449h2M516 450h1M484 450h1M673 450h1M462 450h1M481 450h1M456 450h1M596 451h1M531 451h1M477 451h1M496 451h1M532 452h1M665 452h1M459 452h1M506 452h1M672 453h1M462 453h1M441 454h1M700 454h1M456 454h1M114 455h1M115 456h1M124 457h1M124 459h1"/>
<path stroke="#30003d" d="M96 404h1M98 405h1"/>
<path stroke="#3a0056" d="M98 402h1M98 404h1"/>
<path stroke="#45006f" d="M98 386h1M91 388h1M93 389h1M92 392h1M89 392h1M95 392h2M94 393h1M546 394h1M494 397h1M546 398h1M135 398h1M100 398h1M680 398h1M401 400h1M469 400h1M534 400h2M644 402h2M106 403h1M534 404h1M549 404h2M429 404h1M534 405h2M127 406h1M395 406h1M543 406h1M406 406h1M100 406h1M642 407h1M402 407h1M547 407h1M102 407h1M430 408h1M519 408h1M131 408h2M428 408h1M579 408h1M602 408h1M106 408h1M637 408h1M132 409h2M407 409h1M130 409h1M554 410h1M534 411h2M574 411h1M638 411h1M421 411h1M640 412h2M415 412h1M577 412h1M129 413h1M568 413h2M420 413h1M447 413h1M520 413h1M105 414h1M569 414h1M519 414h2M128 414h2M415 414h1M573 415h3M520 415h1M411 415h2M568 415h1M505 416h1M640 416h2M643 416h1M388 416h2M676 416h1M538 416h1M551 416h1M648 416h2M581 416h1M568 416h3M631 417h1M568 417h2M580 417h2M489 417h1M424 417h1M422 417h1M630 418h2M696 418h2M501 418h1M461 418h1M411 418h1M556 418h1M446 418h1M580 418h1M422 418h3M568 418h1M630 419h1M561 419h3M501 419h2M606 419h1M128 419h1M133 419h2M573 419h1M426 419h1M566 419h1M422 419h2M652 419h1M130 419h1M618 419h1M691 419h1M104 419h1M445 419h1M413 419h2M388 419h1M104 420h2M430 420h1M651 420h1M112 420h1M387 420h2M684 420h1M463 420h1M434 420h1M521 420h1M608 420h1M405 420h1M451 420h1M583 420h2M414 421h1M650 421h2M104 421h1M500 421h1M379 421h2M520 421h2M485 422h1M508 422h1M389 422h1M410 422h1M649 422h2M676 422h1M541 422h1M513 422h1M674 422h1M521 422h1M396 422h1M398 423h1M541 423h2M388 423h2M569 423h2M656 423h2M648 423h2M462 423h1M572 423h1M697 423h1M579 423h1M449 423h2M414 424h1M531 424h1M544 424h1M649 424h1M380 424h1M378 424h1M437 424h1M464 424h1M420 424h1M521 424h2M593 424h1M624 424h1M578 424h2M527 424h1M657 424h1M684 424h2M404 424h1M577 425h2M603 425h1M662 425h3M606 425h2M648 425h1M507 425h1M545 425h1M683 425h3M521 425h1M511 425h1M529 425h2M378 425h3M399 425h1M485 426h1M417 426h1M506 426h3M459 426h1M378 426h2M641 426h1M392 426h3M684 426h3M107 426h2M530 426h1M423 426h1M112 426h2M539 426h1M692 426h1M476 426h1M472 426h1M449 426h2M520 426h2M379 427h1M385 427h2M449 427h1M112 427h1M391 427h3M625 427h3M500 427h1M485 427h2M570 427h1M108 427h1M658 427h1M662 428h1M569 428h1M641 428h1M501 428h1M486 428h1M489 428h1M588 428h1M631 428h2M517 428h1M579 428h1M627 428h1M668 428h1M386 428h1M631 429h1M672 429h1M477 429h1M500 429h2M112 429h1M587 429h2M687 429h1M448 429h1M475 429h1M633 429h1M624 429h2M444 429h1M667 429h2M627 429h3M379 430h1M677 430h1M455 430h2M464 430h1M625 430h1M686 430h2M501 430h1M684 430h1M475 430h3M667 430h1M522 430h1M672 430h2M495 430h2M485 431h1M689 431h1M651 431h3M507 431h1M513 431h2M107 431h1M667 431h3M664 431h1M539 431h1M483 431h1M124 431h1M675 431h1M620 432h1M651 432h1M439 432h1M701 432h1M588 432h1M676 432h1M570 432h1M593 432h2M509 432h4M502 432h1M571 433h1M588 433h2M473 433h4M511 433h1M675 433h1M694 434h1M532 434h1M477 434h1M110 434h1M511 434h2M670 434h1M474 434h2M528 434h1M116 435h1M681 435h3M674 435h1M475 435h1M485 436h1M496 437h1M671 437h1M700 438h1M667 438h1M117 439h2M117 440h3M121 440h1M121 442h1"/>
<path stroke="#500089" d="M88 392h1M95 393h1M94 398h1M592 400h1M554 413h2M136 413h1M136 415h1M642 418h1M575 420h1M645 420h1M568 420h1M128 420h1M642 420h1M602 421h1M580 421h1M422 421h1M565 421h2M591 421h1M547 421h1M695 422h1M130 422h2M134 423h1M647 424h1M573 424h1M131 425h1M572 425h3M104 425h2M104 426h1M570 426h1M573 426h2M568 426h1M583 426h1M424 427h1M585 427h1M581 427h1M561 427h1M409 427h1M574 427h1M646 428h1M563 428h2M410 428h1M423 428h1M407 428h1M378 428h1M649 429h2M647 429h1M549 429h1M585 429h1M581 429h1M409 429h1M130 429h2M423 429h2M577 430h1M545 430h1M423 430h1M650 430h1M423 432h1M570 434h1M570 435h2M570 436h1M397 436h1M571 437h1M643 437h1"/>
<path stroke="#5a00a1" d="M95 403h1M95 407h1M99 412h2M137 416h9M548 419h1M557 419h1M534 421h1M552 421h1M575 421h1M548 422h1M557 422h1M552 422h2M553 423h1M405 423h2M576 423h1M425 424h2M642 424h1M383 424h1M645 424h1M575 424h2M553 425h1M400 426h1M380 426h1M691 426h1M418 427h1M573 427h1M396 427h1M541 427h1M399 427h2M666 428h1M541 428h2M400 428h1M380 428h1M537 428h1M572 428h3M431 428h1M544 429h1M606 429h1M574 429h1M640 429h1M526 429h2M549 430h1M384 430h2M448 430h1M394 430h1M131 430h1M631 430h2M542 430h1M408 430h2M398 431h1M574 431h1M130 431h2M625 431h1M538 431h1M577 431h1M563 432h1M385 432h1M646 432h2M636 432h1M130 432h1M603 433h1M480 433h1M625 433h1M563 433h2M556 433h1M654 433h1M452 435h1M474 436h1M475 437h1M474 438h1M578 438h1M571 441h1"/>
<path stroke="#5300b1" d="M102 416h1M535 421h1M99 421h2M99 422h1M552 424h1M381 426h3M552 426h3M402 427h1M615 427h1M88 427h2M554 427h1M552 427h1M576 428h1M618 428h1M404 428h1M434 428h1M552 428h3M399 428h1M615 428h2M392 428h1M611 428h1M418 428h5M575 429h1M565 429h1M616 429h1M418 429h4M562 429h1M552 429h1M449 430h1M419 430h3M433 430h1M580 430h1M552 430h2M621 430h1M380 430h1M541 431h2M420 431h1M384 431h1M617 431h1M619 431h1M388 431h1M467 431h1M112 432h1M547 432h1M542 432h1M463 432h1M526 432h2M433 432h1M398 432h1M448 433h1M384 433h1M413 433h1M502 433h1M436 434h1M685 434h1M457 434h1M107 434h1M653 434h1M502 434h2M600 434h1M661 434h1M658 434h1M585 434h1M581 434h1M538 434h2M408 434h1M603 434h1M646 434h2M593 435h1M577 435h1M113 435h1M510 435h1M498 435h1M385 435h1M503 435h1M658 436h1M563 436h1M514 436h1M670 437h1M652 437h1M628 437h2M487 437h1M477 438h1M436 438h1M701 438h1M593 438h1M696 438h1M510 438h1M670 438h2M658 438h1M585 438h1M481 438h1M628 438h1M524 438h1M514 438h1M672 439h1M506 439h1M509 439h1M452 440h1M439 442h1M670 442h1M379 442h1M506 444h1M473 444h1M403 444h1M528 444h1M475 444h1M473 445h3M452 445h1M379 445h1"/>
<path stroke="#4d00c1" d="M135 418h1M135 420h1M558 422h1M416 426h1M430 427h1M90 427h1M405 427h2M401 427h1M401 428h2M612 428h1M89 428h2M405 428h1M418 430h1M434 430h1M618 430h1M688 431h1M562 431h1M418 431h2M553 431h1M88 431h2M635 431h1M565 431h1M421 431h1M607 431h1M552 432h2M387 432h1M445 432h1M575 432h1M634 432h2M541 432h1M664 432h1M463 433h1M526 433h2M521 433h1M553 433h1M449 433h1M541 433h2M444 434h1M505 434h1M448 434h2M520 434h2M552 434h1M541 434h1M527 434h1M660 435h2M599 435h1M521 435h1M502 435h1M526 435h1M448 435h1M676 435h1M542 435h1M675 436h1M678 436h1M661 436h1M502 436h2M622 437h1M503 437h1M675 437h2M675 438h1M538 439h2M487 439h1M701 439h1M110 439h1M683 439h1M652 439h1M564 439h1M588 439h1M696 439h1M593 439h1M693 439h2M451 439h1M495 439h1M697 440h1M462 440h1M693 440h1M107 440h1M696 441h2M456 441h1M652 441h1M588 441h1M459 441h1M697 442h1M601 442h1M487 442h1M436 442h1M632 442h1M115 442h1M673 442h1M107 442h1M628 442h1M117 444h1M672 445h1M117 445h2M488 446h1M528 446h1M117 446h1M473 446h3M118 447h1M473 447h2M459 447h1M488 448h1"/>
<path stroke="#4600d1" d="M558 425h1M102 425h1M546 428h1M102 429h1M383 430h1M406 430h1M102 430h2M586 431h1M434 431h1M621 433h1M634 433h1M624 433h1M664 433h1M454 434h1M463 434h1M467 434h1M449 435h1M520 435h1M527 435h1M541 435h1M580 435h1M598 435h1M689 435h1M112 436h1M513 436h1M444 436h1M520 436h2M526 436h1M526 437h2M502 437h1M470 438h1M498 438h2M113 438h1M574 438h2M676 438h1M595 438h2M431 438h1M622 438h1M503 438h1M526 438h1M438 439h1M653 439h1M675 439h2M413 439h1M600 439h1M675 440h1M472 440h1M700 442h1M588 443h1M480 443h2M696 443h1M451 443h1M487 443h1M412 443h2M629 443h1M697 444h1M628 444h2M480 444h1M700 445h1M667 445h2M441 445h1M115 445h1M628 445h1M667 446h1M700 446h2M693 446h2M524 446h1M628 446h2M114 446h2M693 447h1M117 447h1M693 450h1M117 451h1M672 452h1M117 454h1M118 457h1"/>
<path stroke="#3f00e0" d="M465 428h1M546 429h1M430 431h1M416 431h1M406 431h1M405 432h2M405 433h1M688 434h1M405 434h2M418 434h1M664 434h1M135 434h2M136 435h1M624 435h1M454 435h1M634 435h1M463 436h1M467 436h1M689 436h1M639 437h2M617 438h2M660 438h1M520 438h1M391 438h1M431 439h1M541 439h2M387 439h1M490 439h3M437 439h1M448 439h1M617 440h1M653 440h1M387 440h2M541 440h1M516 440h1M120 441h1M503 441h1M387 441h1M398 441h1M675 442h2M490 442h2M653 442h1M619 442h1M502 442h2M631 442h1M387 442h2M400 442h1M574 442h2M531 443h1M588 447h1M492 447h1M412 447h2M671 447h1M114 447h2M603 447h1M694 447h1M456 447h1M114 448h1M510 449h1M115 449h1M456 449h1M480 450h1M700 451h2M668 451h1M484 451h1M693 451h2M673 451h1M480 451h2M514 451h1M593 451h1M683 451h1M462 451h1M456 451h1"/>
<path stroke="#2400ee" d="M383 433h1M434 434h1M405 435h2M383 435h1M616 435h1M135 435h1M688 435h1M634 436h1M607 436h1M664 436h1M624 438h1M454 438h1M112 439h1M634 439h1M520 439h1M391 439h1M505 439h1M467 439h1M679 439h1M618 441h1M657 441h1M544 441h1M639 441h2M679 441h1M617 442h2M617 443h1M478 443h1M448 443h1M384 443h1M485 444h1M617 445h1M678 445h1M676 445h1M678 446h2M503 446h1M574 446h2M595 446h2M485 446h1M437 446h1M114 452h2M462 452h1M682 452h2M115 453h1M114 454h2M115 455h1M124 455h1M114 456h1M115 457h1M118 458h1"/>
<path stroke="#0800fb" d="M546 432h1M91 432h1M688 436h1M416 436h1M664 437h1M616 437h1M442 438h1M454 439h1M634 441h1M444 441h1M454 441h1M513 443h1M634 443h1M520 443h1M657 445h1M639 445h2M125 446h1M617 446h2M598 447h3M622 447h1M457 447h1M653 447h1M676 447h1M516 448h1M598 448h2M472 452h1M595 452h2M96 457h1M529 458h1M593 458h1M133 458h1M484 458h1M124 458h1M115 458h1M549 458h1M673 458h1M585 458h1M654 458h1M568 458h1M601 458h1M487 458h1M436 458h1M603 458h1M524 458h1M628 458h2M671 458h1M696 458h2M559 458h1M563 458h2M462 458h1M658 458h1M385 458h1M456 458h1M682 458h2M538 458h2M508 458h1M128 458h1M685 458h1M110 458h1M412 458h1M632 458h1M700 458h2M588 458h1M394 458h1M408 458h2M581 458h1M646 458h2M441 458h1M625 458h1M693 458h2M424 458h1M652 458h1M636 458h1M451 458h1M556 458h1M661 458h1M480 458h2M667 458h2M495 458h1M130 458h2M690 458h1M466 458h1M514 458h1M510 458h2M583 458h1M477 458h1M610 458h1M473 464h3M614 464h1M452 464h1M532 464h1M665 464h1M672 464h1M459 464h1M506 464h1M686 464h1M578 464h1M589 464h1M439 464h1M496 464h1M649 464h1M488 464h1M403 464h1M117 464h2M397 464h1M570 464h2M509 464h1M670 464h1M423 464h1M528 464h1M643 464h1M379 464h1"/>
<path stroke="#0014ff" d="M546 433h1M688 438h1M664 439h1M664 441h1M454 442h1M442 442h1M621 444h1M517 444h1M112 444h1M463 445h1M520 445h1M660 448h1M516 449h1M639 449h2M398 457h1M413 458h1"/>
<path stroke="#0030ff" d="M546 434h1M664 442h1M442 443h1M664 444h1M445 446h1M121 448h1M121 451h1M120 452h2M639 456h2M640 457h1M387 458h2M400 458h1M384 458h1M604 458h1M113 458h1M94 458h1M562 458h1M455 458h1M595 458h2M622 458h1M635 458h1M490 458h2M485 458h1M380 458h1M642 458h1M541 458h2M88 458h1M457 458h1M653 458h1M498 458h2M493 458h1M99 458h2M460 458h1M580 458h1M552 458h2M448 458h2M431 458h1M478 458h1M675 458h2M582 458h1M97 458h1M419 458h3M437 458h2M534 458h2M565 458h1M502 458h2M132 458h1M678 458h2M526 458h2M521 458h1M433 458h1M557 458h1M637 458h1M567 458h1M631 458h1M619 458h1M655 458h1M523 458h1M470 458h1M109 458h1M382 458h1M390 458h1M691 458h1M574 458h2M598 458h3M606 458h1M550 458h1M472 458h1M92 458h1M560 458h1M110 464h1M632 464h1M588 464h1M394 464h1M408 464h2M581 464h1M385 464h1M646 464h2M508 464h1M625 464h1M652 464h1M636 464h1M451 464h1M556 464h1M412 464h1M661 464h1M480 464h2M700 464h2M667 464h2M495 464h1M130 464h2M690 464h1M466 464h1M514 464h1M510 464h2M583 464h1M477 464h1M610 464h1M529 464h1M593 464h1M133 464h1M484 464h1M441 464h1M693 464h2M424 464h1M549 464h1M673 464h1M585 464h1M654 464h1M568 464h1M601 464h1M487 464h1M603 464h1M524 464h1M628 464h2M671 464h1M696 464h2M114 464h2M559 464h1M563 464h2M462 464h1M658 464h1M456 464h1M682 464h2M538 464h2M128 464h1M436 464h1M685 464h1"/>
<path stroke="#004cff" d="M392 429h1M627 432h1M546 435h1M522 435h1M669 435h1M687 435h1M111 435h1M530 435h1M468 435h1M426 457h1M89 457h1M639 457h1M611 457h1M398 463h1M413 464h1M650 468h1M107 468h1M124 468h1M412 468h1"/>
<path stroke="#0068ff" d="M546 436h1M413 468h1M577 468h1M492 468h1"/>
<path stroke="#0089ff" d="M664 457h1M416 458h1M445 458h1M383 458h1M426 463h1M89 463h1M617 464h2M391 464h1M125 464h1M660 464h1M120 464h1M415 464h1M678 468h2M531 468h1M547 468h1"/>
<path stroke="#00abff" d="M454 463h1M95 463h1M106 463h1M418 463h1M121 464h1M516 468h1M639 468h2M613 468h1M657 468h1M544 468h1"/>
<path stroke="#00ceff" d="M616 464h1M442 464h1"/>
<path stroke="#00f0ff" d="M497 440h1"/>
<path stroke="#00ffc2" d="M546 463h1M91 468h1"/></g><g fill="none" transform="translate(.5 0)"><path stroke="#000000" d="M546 386v2M98 387v2M592 387v2M135 392v3M93 392v3M440 393v2M102 394v2M98 391v6M639 395v3M644 397v2M136 399v3M382 399v3M401 401v2M555 402v2M134 402v3M100 403v3M575 402v5M566 404v3M551 404v3M604 406v2M134 406v2M405 406v3M127 407v2M557 407v2M419 407v2M102 408v3M534 409v2M395 409v2M595 409v2M591 409v3M551 410v2M549 410v2M104 410v3M411 411v2M542 411v2M519 411v2M429 411v2M400 411v2M572 409v5M635 411v3M134 411v4M391 413v2M633 413v2M595 413v2M615 413v2M662 413v2M609 412v4M558 413v3M486 414v2M549 414v2M493 414v2M465 414v3M422 415v2M419 415v2M631 415v2M650 415v3M666 415v3M518 416v2M521 416v3M584 416v3M620 416v3M553 417v2M602 416v4M570 417v3M538 417v3M449 417v3M643 417v3M453 418v2M406 417v4M607 418v3M409 418v3M611 418v3M424 419v2M404 419v2M578 419v2M398 419v2M587 419v3M688 419v3M411 420v2M108 420v2M501 420v3M699 420v3M542 421v2M463 421v2M434 421v2M658 421v2M648 421v2M499 420v4M610 421v3M105 421v3M685 422v2M527 422v2M423 422v2M614 422v2M403 422v2M445 422v2M397 422v2M583 422v2M577 421v4M629 421v4M431 422v3M608 422v3M605 422v3M111 423v2M633 423v2M474 423v2M690 422v4M650 423v3M631 423v3M570 424v2M415 424v2M515 424v2M389 424v2M688 424v3M495 424v3M518 425v2M384 425v2M512 424v4M489 424v4M596 425v3M624 425v3M448 425v3M633 426v2M649 426v2M126 426v3M590 426v3M603 427v2M507 427v3M657 427v3M484 428v2M113 428v2M403 428v2M697 428v2M539 428v2M453 428v2M533 427v4M443 429v2M502 429v2M446 426v6M111 428v4M518 428v4M478 428v4M459 429v3M596 429v3M389 429v3M474 430v2M630 430v2M662 430v2M698 430v3M525 430v3M681 431v2M495 431v2M678 431v2M628 430v4M529 431v3M674 431v3M123 431v3M435 431v3M471 432v2M667 432v2M696 432v2M660 432v3M125 432v3M672 433v2M485 433v3M596 434v2M124 435v2M667 435v3M694 435v3M462 436v2M117 436v2M509 436v2M456 436v3M121 437v2M672 437v2M700 439v2M114 437v6M118 441v2"/>
<path stroke="#18001c" d="M93 400v3M87 408v2M566 417v2M557 420v2M128 421v2M611 421v3M575 422v2M555 422v2M416 423v2M128 426v2M134 427v2M578 428v2M547 429v2M570 429v2M643 429v2M575 430v2M646 430v2M527 430v2M556 430v2M405 430v2M545 431v2M577 432v3M409 432v3M513 433v2M130 433v2M394 434v2M581 435v2M585 436v2M436 436v2M634 437v2M467 437v2M559 438v2M394 439v2M654 439v2M456 439v2M513 440v3M413 440v3M403 441v2M531 441v2M462 441v2M397 441v3M467 442v2M506 442v2M444 442v2M454 443v2M650 443v2M118 443v2M688 444v2M516 445v3M463 446v2M661 446v2M502 446v3M509 447v2M682 447v2M505 447v2M524 447v2M459 448v2M514 449v2M593 449v2M472 449v3M114 457v2"/>
<path stroke="#30003d" d="M87 401v2M87 404v4M98 407v6M96 406v12M87 410v8M98 414v4"/>
<path stroke="#3a0056" d="M87 394v2M87 397v3M96 398v2M98 399v2M96 401v3M101 418v2M101 421v2M96 418v9M87 418v11M98 418v11M101 425v4"/>
<path stroke="#45006f" d="M655 387v2M95 388v2M440 389v2M98 389v2M460 389v3M592 390v2M550 391v3M491 391v3M469 392v2M106 392v3M96 393v2M432 393v2M127 392v4M381 394v3M490 394v3M592 393v6M382 397v2M535 398v2M582 398v2M566 398v2M127 399v2M132 399v2M637 399v2M519 399v3M428 400v2M573 400v2M432 398v5M101 400v3M552 400v3M534 401v2M128 401v2M402 401v2M550 399v5M546 401v3M566 402v2M491 402v2M639 399v6M382 402v3M132 403v3M645 404v2M469 402v5M103 404v3M598 405v2M582 405v2M549 405v2M555 404v4M552 405v3M595 405v3M535 406v2M131 406v2M93 403v6M491 406v3M591 407v2M109 407v2M611 407v2M421 407v3M644 408v2M135 408v2M543 408v2M128 408v2M646 408v2M604 408v3M582 408v3M526 408v3M609 408v3M535 409v2M399 409v3M132 410v2M537 410v2M558 410v3M397 410v3M406 410v3M93 410v3M569 411v2M606 411v2M611 411v2M390 410v4M392 411v3M428 411v3M602 411v3M534 412v2M538 412v2M553 412v2M644 412v3M431 412v3M384 412v3M547 412v3M571 412v3M647 412v4M605 413v3M467 413v3M418 413v3M640 413v3M502 413v3M560 414v2M437 414v2M699 414v2M133 414v2M425 414v2M395 414v2M101 412v5M526 413v4M508 415v2M565 415v2M448 415v2M615 415v2M557 415v2M385 415v3M583 415v3M498 415v3M533 415v3M689 416v2M573 416v2M684 416v2M400 416v2M393 416v2M636 416v2M433 416v2M134 416v2M563 415v4M588 416v3M609 416v3M649 417v2M380 417v2M640 417v2M389 417v2M646 417v2M561 417v2M93 414v6M590 417v3M660 417v3M547 417v3M549 417v3M656 418v2M575 418v2M551 418v2M616 418v2M418 417v4M625 417v4M674 417v4M455 418v3M392 418v3M540 418v3M638 418v3M470 419v2M545 419v2M697 419v2M658 419v2M109 415v7M664 415v7M416 415v7M529 417v5M420 419v3M518 419v3M443 420v2M439 420v2M495 420v2M586 420v2M576 420v2M538 420v2M559 420v2M502 420v2M437 420v3M461 420v3M383 420v3M647 420v3M481 420v3M387 421v2M603 421v2M464 421v2M571 421v2M584 421v2M569 421v2M657 421v2M581 421v2M457 421v3M632 421v3M379 422v2M607 422v2M627 422v2M641 419v6M400 421v4M601 422v3M669 422v3M596 423v2M516 423v2M663 423v2M129 422v4M394 422v4M561 422v4M589 423v3M536 423v3M392 423v3M687 423v3M504 423v3M418 424v2M427 424v2M449 424v2M569 424v2M107 424v2M652 424v2M113 424v2M542 424v2M388 424v2M621 421v6M643 421v6M502 423v4M480 424v3M679 424v3M435 424v3M619 424v3M407 424v3M470 424v3M385 425v2M659 425v2M571 425v2M610 425v2M625 425v2M694 425v3M600 425v3M115 425v3M526 426v2M607 426v2M696 426v2M634 423v6M445 424v5M447 425v4M605 426v3M120 426v3M676 426v3M125 426v3M443 427v2M129 427v2M648 427v2M593 427v2M617 427v2M681 427v2M673 427v2M629 427v2M686 427v2M654 425v5M438 427v3M427 427v3M495 427v3M545 427v3M520 427v3M96 427v3M454 427v3M450 428v2M525 428v2M393 428v2M493 425v6M690 426v5M413 427v4M513 427v4M114 428v3M508 428v3M391 428v3M700 428v3M479 428v3M651 429v2M665 429v2M529 429v2M471 429v2M108 429v2M110 426v6M531 427v5M571 428v4M656 429v3M536 429v3M121 429v3M660 430v2M594 430v2M587 430v2M510 430v2M627 430v2M441 430v3M597 430v3M629 430v3M496 431v2M480 431v2M643 431v2M687 431v2M520 431v2M113 431v2M673 431v2M693 430v4M578 430v4M116 431v3M443 432v2M466 432v2M492 432v2M653 432v2M679 428v7M468 431v4M488 432v3M484 432v3M683 432v3M530 432v3M500 432v3M498 432v3M522 432v3M593 433v2M681 433v2M517 433v2M456 433v3M462 433v3M504 433v3M509 434v2M589 434v2M481 434v2M439 434v3M512 435v2M472 435v2M506 432v6M665 434v4M122 434v4M701 435v3M451 435v3M679 436v3M441 436v3M682 437v2M125 435v5M459 436v5M124 440v3M119 441v2M117 441v2"/>
<path stroke="#500089" d="M91 390v2M97 392v7M92 393v6M460 393v6M440 397v2M99 395v6M90 399v3M655 397v6M381 397v6M567 398v6M680 401v5M490 402v5M401 405v3M546 404v5M550 405v5M494 405v5M100 408v2M639 406v5M382 407v4M598 407v5M432 409v4M127 409v4M402 410v3M106 409v5M543 410v4M491 410v4M535 412v2M523 410v5M612 411v4M429 413v2M132 412v5M421 413v4M604 413v4M554 414v3M637 414v4M390 414v4M519 415v3M534 416v2M595 415v4M582 415v4M548 415v4M644 416v3M557 417v2M428 417v2M635 418v2M552 418v2M425 419v2M609 419v2M560 419v2M419 419v2M553 420v2M549 420v4M646 421v3M424 422v2M566 422v3M104 422v3M568 422v3M130 423v2M556 420v6M613 422v4M581 423v3M128 423v3M547 424v2M640 421v6M638 424v3M564 424v4M549 425v3M566 426v2M130 426v2M551 420v9M93 420v9M412 425v4M414 425v4M577 426v3M133 427v2M614 427v2M610 427v2M559 425v5M538 425v5M556 427v3M394 427v3M636 428v2M385 428v2M568 428v2M128 428v2M583 428v2M96 430v3M427 431v3M397 428v7M379 431v4M545 433v2M403 431v5M643 434v2M649 431v7M614 432v6M578 434v4M423 435v3"/>
<path stroke="#5a00a1" d="M91 392v3M95 398v2M440 399v3M592 401v3M469 407v3M381 403v8M99 401v11M401 410v3M490 407v7M135 412v3M99 413v2M102 413v2M555 414v3M535 416v2M429 417v2M558 417v2M465 417v2M395 417v3M92 399v22M460 399v22M97 399v22M655 403v18M567 404v17M680 406v15M546 409v12M550 410v11M494 410v11M639 411v10M598 412v9M127 413v8M432 413v8M106 414v7M543 414v7M612 415v6M523 415v6M554 417v4M421 417v4M604 417v4M132 417v4M644 419v2M519 418v4M390 418v4M637 418v4M582 419v4M595 419v4M430 421v2M428 421v2M642 421v2M635 420v4M425 421v3M609 421v4M560 421v4M419 421v4M565 422v3M540 423v2M591 422v4M602 422v4M580 422v4M422 422v4M695 423v3M109 423v4M699 423v4M615 423v4M387 424v3M411 424v3M608 425v2M426 425v2M576 425v2M618 425v2M431 425v2M562 424v4M420 425v3M404 426v2M415 426v2M638 427v2M547 427v2M527 427v2M433 427v3M437 427v3M499 427v3M398 428v2M449 428v2M613 428v2M599 428v3M619 428v3M521 429v2M610 430v2M647 430v2M564 430v2M583 430v3M581 430v3M408 431v2M424 431v2M128 430v4M559 430v4M585 430v4M133 430v4M568 430v4M412 431v3M658 432v2M549 432v2M508 432v2M107 432v2M632 432v2M394 432v2M96 433v2M650 431v5M427 435v3M545 435v3M589 436v2M379 435v4M686 435v5M528 435v5M452 438v2M403 436v5M397 438v3M643 438v4M614 438v4M649 439v3M423 439v3M379 440v2M578 440v2"/>
<path stroke="#5300b1" d="M91 395v2M440 402v3M592 404v3M469 410v3M135 416v2M555 417v2M558 419v3M465 419v3M395 420v2M429 421v2M103 422v3M644 423v2M546 421v5M554 421v5M612 421v5M421 421v5M557 423v3M127 421v6M106 421v6M680 421v6M548 423v4M425 425v2M639 421v7M136 421v7M575 425v3M419 425v3M565 426v2M432 421v8M543 421v8M494 421v8M519 422v7M635 424v5M609 425v4M695 426v3M586 426v3M602 426v3M580 426v3M591 426v3M411 427v2M540 427v2M699 427v2M655 421v10M523 421v10M97 421v10M604 421v10M132 421v10M598 421v10M460 421v10M550 421v10M92 421v10M567 421v10M637 422v9M390 422v9M582 423v8M595 423v8M560 425v6M642 426v5M109 427v4M557 427v4M94 427v4M88 428v3M387 428v3M415 428v3M607 429v2M382 429v2M541 429v2M400 429v3M691 429v3M431 429v3M640 430v2M499 430v2M544 430v2M526 430v2M613 430v2M437 430v2M391 431v2M470 431v2M599 431v2M521 431v2M606 431v2M631 431v3M438 432v2M493 432v3M455 432v3M574 432v3M478 432v3M676 433v2M622 433v2M610 434v2M424 434v2M480 434v2M588 434v3M524 434v3M130 435v2M96 435v2M625 434v4M559 434v4M673 435v3M466 435v3M603 436v2M133 434v5M632 434v5M556 434v5M549 434v5M568 434v5M128 434v5M583 434v5M508 435v4M110 435v4M529 435v4M636 435v4M412 435v4M495 435v4M690 435v4M685 436v3M394 436v3M654 436v3M601 436v3M668 436v3M683 437v2M610 437v2M484 437v2M424 437v2M473 437v2M385 437v2M581 437v2M107 436v4M650 436v4M439 437v4M665 438v3M670 439v2M545 438v4M589 438v4M427 439v3M496 439v3M488 438v5M528 441v2M509 441v3M452 442v2M672 442v2M686 441v4M532 438v8M665 442v4M578 442v4M614 442v4M649 442v4M423 442v4M643 442v4M589 444v2M439 444v2M488 444v2M397 444v2M670 444v2"/>
<path stroke="#4d00c1" d="M91 398v3M91 402v20M440 405v17M592 407v15M469 413v9M102 418v4M555 420v2M465 422v2M395 422v3M546 426v2M680 427v2M127 427v2M383 427v2M548 427v2M106 427v4M95 427v4M136 429v2M426 429v2M89 429v2M402 429v2M586 429v2M639 428v4M611 429v3M616 430v2M415 431v2M621 431v2M390 431v2M598 431v2M580 431v3M467 432v2M550 431v4M94 431v4M92 431v4M460 431v4M560 431v4M637 431v4M523 431v4M582 431v4M97 431v4M567 431v4M109 431v4M595 431v4M655 431v4M604 431v4M132 431v4M382 431v4M557 431v4M431 432v3M657 432v3M437 432v3M544 432v3M400 432v3M380 432v3M642 432v3M88 432v3M691 432v3M640 432v3M499 432v3M562 433v2M433 433v2M606 433v2M635 433v2M112 433v2M613 433v2M619 433v3M398 434v2M631 434v2M470 434v2M384 434v2M547 434v3M455 435v2M493 435v2M438 435v2M478 435v2M457 435v2M413 434v4M574 435v3M113 436v2M596 436v2M653 436v2M600 436v2M498 436v2M472 437v2M485 437v2M693 437v2M577 437v3M661 438v2M96 437v4M601 439v2M436 439v2M409 439v2M632 439v2M673 439v2M466 439v3M514 439v3M610 439v3M625 439v3M636 439v3M690 439v3M549 439v4M685 439v4M603 439v4M524 439v4M581 439v4M385 439v4M508 439v4M128 439v4M412 439v4M484 439v4M424 439v4M585 439v4M568 439v4M556 439v4M671 439v4M477 439v4M529 439v4M133 439v4M559 440v3M658 440v3M650 440v3M583 440v3M654 441v2M701 441v2M110 441v2M661 441v2M394 441v2M593 441v2M451 441v2M495 441v2M427 442v4M545 442v4M459 443v3M693 444v2M496 444v3M509 444v3M686 446v2M670 446v2M439 446v3M665 447v2M672 447v4M496 448v3M509 449v2M506 445v7M614 446v6M649 446v6M578 446v6M589 446v6M403 446v6M397 446v6M452 446v6M423 446v6M643 446v6M379 446v6M532 447v5M528 448v4M670 449v3M665 450v2M488 450v2M686 450v2M459 450v2"/>
<path stroke="#4600d1" d="M102 422v2M135 422v2M91 422v5M465 424v4M440 422v7M555 424v5M558 427v2M416 428v2M469 422v9M592 422v9M395 425v6M135 425v6M430 428v3M127 429v2M401 429v2M95 431v2M106 431v2M402 431v3M136 431v3M418 432v2M607 432v2M688 432v2M426 432v2M89 432v2M639 432v3M611 432v3M618 432v3M445 433v2M415 433v2M437 435v2M640 435v2M433 435v2M657 435v2M431 435v2M505 435v2M544 435v2M613 435v2M380 435v3M595 435v3M499 435v3M617 435v3M660 436v2M575 436v2M642 435v4M655 435v4M523 435v4M88 435v4M582 435v4M97 435v4M567 435v4M109 435v4M382 435v4M400 435v4M604 435v4M132 435v4M691 435v4M460 435v4M557 435v4M550 435v4M637 435v4M94 435v4M635 435v4M92 435v4M562 435v4M560 435v4M606 435v4M565 436v3M384 436v3M631 436v3M619 436v3M390 437v2M521 437v2M580 437v2M455 437v3M457 438v2M493 438v2M478 438v2M547 437v4M398 437v4M531 438v3M678 438v3M485 439v2M498 439v2M574 439v3M596 440v2M441 439v5M577 440v4M96 441v4M683 443v2M667 443v2M529 443v2M524 443v2M409 443v2M661 443v3M601 443v3M508 444v2M673 444v2M694 444v2M685 443v4M110 443v4M632 443v4M394 443v4M581 443v4M385 443v4M456 443v4M625 443v4M652 443v4M636 443v4M556 443v4M466 443v4M514 443v4M583 443v4M610 443v4M593 443v4M133 443v4M484 443v4M424 443v4M549 443v4M585 443v4M654 443v4M568 443v4M603 443v4M559 443v4M462 443v4M658 443v4M128 443v4M436 444v3M412 444v3M671 444v3M495 444v3M588 445v2M690 445v2M477 445v2M451 445v2M487 445v2M107 444v4M650 445v3M427 446v5M545 446v5M700 447v4M649 452v6M488 452v6M403 452v6M686 452v6M397 452v6M509 452v6M589 452v6M670 452v6M439 452v6M423 452v6M528 452v6M643 452v6M379 452v6M452 452v6M578 452v6M614 452v6M496 452v6M532 453v5M665 453v5M459 453v5M506 453v5M672 454v4"/>
<path stroke="#3f00e0" d="M91 427v2M401 431v2M127 431v2M383 431v2M135 431v3M434 432v2M395 431v4M469 431v4M592 431v4M586 433v2M616 433v2M430 433v2M95 433v2M106 433v2M607 434v2M402 434v2M426 434v3M89 434v3M621 435v2M639 435v2M618 435v3M611 436v2M415 435v4M444 437v2M505 437v2M516 437v2M657 437v4M613 437v4M544 438v3M640 438v3M499 439v2M619 439v2M631 439v2M400 439v2M575 439v3M457 440v2M676 440v2M94 439v4M562 439v4M635 439v4M582 439v4M97 439v4M565 439v4M380 439v4M642 439v4M88 439v4M132 439v4M557 439v4M460 439v4M580 439v4M523 439v4M109 439v4M390 439v4M550 439v4M92 439v4M521 439v4M433 439v4M560 439v4M637 439v4M567 439v4M655 439v4M604 439v4M470 439v4M382 439v4M595 439v4M691 439v4M606 439v4M384 439v4M455 440v3M478 440v3M622 440v3M113 441v2M431 441v2M485 441v2M472 442v2M547 441v4M678 441v4M398 443v2M574 443v3M596 443v3M492 444v2M413 444v3M124 445v2M577 444v4M441 446v2M514 447v2M593 447v2M683 447v2M96 445v5M484 447v3M673 447v3M701 447v3M462 448v2M477 447v4M441 449v2M124 449v2M694 449v2M632 447v5M394 447v5M581 447v5M466 447v5M625 447v5M424 447v5M652 447v5M636 447v5M451 447v5M556 447v5M690 447v5M583 447v5M610 447v5M529 447v5M133 447v5M549 447v5M585 447v5M654 447v5M568 447v5M601 447v5M487 447v5M436 447v5M685 447v5M110 447v5M559 447v5M658 447v5M385 447v5M508 447v5M128 447v5M495 448v4M412 448v4M661 448v4M671 449v3M603 449v3M524 449v3M588 450v2M700 452v2M650 448v7M107 448v7M124 452v3M427 451v7M545 451v7M693 452v6M700 455v3"/>
<path stroke="#2400ee" d="M91 429v3M546 430v2M127 433v2M401 433v2M416 433v2M418 435v2M586 435v2M95 435v2M106 435v2M405 436v2M445 436v2M469 435v5M395 435v5M592 435v5M430 436v4M402 436v4M621 437v3M517 437v3M586 438v2M607 438v2M513 438v2M689 438v2M426 437v4M89 437v4M639 438v3M444 439v2M611 438v4M415 439v4M125 440v3M660 440v3M391 441v2M613 441v4M640 442v3M516 442v3M657 443v2M544 443v2M679 443v2M575 443v3M595 443v3M457 443v3M582 443v4M97 443v4M565 443v4M380 443v4M88 443v4M132 443v4M521 443v4M433 443v4M557 443v4M637 443v4M460 443v4M619 443v4M655 443v4M523 443v4M109 443v4M390 443v4M691 443v4M550 443v4M92 443v4M560 443v4M567 443v4M631 443v4M400 443v4M604 443v4M113 443v4M382 443v4M622 443v4M635 443v4M606 443v4M642 443v4M493 443v4M580 443v4M431 443v4M94 443v4M562 443v4M455 443v4M653 444v3M472 444v3M478 445v2M470 445v2M384 445v2M547 445v4M531 446v3M678 447v2M398 445v5M596 447v4M574 447v4M413 449v3M441 452v2M456 452v2M577 448v7M492 451v4M683 453v2M96 450v7M690 452v6M466 452v6M514 452v6M583 452v6M477 452v6M610 452v6M529 452v6M593 452v6M484 452v6M424 452v6M673 452v6M636 452v6M585 452v6M654 452v6M451 452v6M568 452v6M487 452v6M603 452v6M524 452v6M671 452v6M495 452v6M133 452v6M549 452v6M601 452v6M128 452v6M436 452v6M685 452v6M701 452v6M110 452v6M632 452v6M588 452v6M394 452v6M559 452v6M581 452v6M658 452v6M694 452v6M385 452v6M508 452v6M625 452v6M652 452v6M556 452v6M661 452v6M462 454v4M441 455v3M107 455v3M650 455v3M456 455v3M412 455v3M397 458v6M670 458v6M452 458v6M672 458v6M459 458v6M643 458v6M379 458v6M506 458v6M578 458v6M614 458v6M496 458v6M532 458v6M665 458v6M649 458v6M488 458v6M686 458v6M509 458v6M589 458v6M439 458v6M423 458v6M528 458v6M403 458v6"/>
<path stroke="#0800fb" d="M401 435v2M127 435v2M434 435v3M383 436v3M445 438v2M95 437v4M106 437v4M418 437v4M520 440v2M467 440v2M112 440v3M689 441v2M469 440v4M592 440v4M402 440v4M586 440v4M624 440v4M607 440v4M395 440v4M463 440v4M430 440v4M505 442v2M621 442v2M517 442v2M426 441v4M89 441v4M639 442v3M125 443v2M611 442v4M618 443v3M660 443v3M391 443v4M415 443v4M120 445v3M544 445v4M613 445v4M640 446v3M657 447v2M472 447v2M113 447v2M503 447v2M617 447v3M679 447v3M575 447v4M531 449v2M595 447v5M132 447v6M92 447v6M521 447v6M433 447v6M560 447v6M637 447v6M567 447v6M631 447v6M655 447v6M523 447v6M470 447v6M382 447v6M691 447v6M606 447v6M550 447v6M493 447v6M400 447v6M384 447v6M604 447v6M431 447v6M94 447v6M562 447v6M455 447v6M635 447v6M582 447v6M97 447v6M565 447v6M380 447v6M642 447v6M88 447v6M557 447v6M460 447v6M580 447v6M619 447v6M109 447v6M390 447v6M485 448v5M478 448v5M622 449v4M457 449v4M653 449v4M113 450v3M547 449v7M531 452v4M678 453v3M398 450v7M596 453v5M574 453v5M577 455v3M413 455v3M492 455v3M107 458v4M650 458v4M124 460v2M427 458v6M545 458v6M700 459v5M693 459v5"/>
<path stroke="#0014ff" d="M91 433v2M127 437v3M401 437v3M442 439v2M434 438v4M416 439v4M616 439v4M383 440v3M445 441v2M418 441v4M95 441v4M106 441v4M505 444v3M444 444v3M624 445v2M689 444v4M402 444v4M586 444v4M607 444v4M395 444v4M430 444v4M634 444v4M121 444v4M469 444v4M592 444v4M467 444v4M513 444v4M621 446v2M517 446v2M112 446v2M426 445v4M89 445v4M639 446v3M611 446v4M618 447v3M415 447v5M391 447v5M125 448v4M660 450v2M120 450v2M544 449v7M613 449v7M657 449v7M640 450v6M516 451v5M679 453v3M617 452v6M92 453v5M433 453v5M560 453v5M567 453v5M631 453v5M400 453v5M655 453v5M604 453v5M470 453v5M382 453v5M622 453v5M606 453v5M642 453v5M493 453v5M384 453v5M580 453v5M113 453v5M431 453v5M94 453v5M562 453v5M455 453v5M635 453v5M485 453v5M582 453v5M97 453v5M565 453v5M380 453v5M88 453v5M457 453v5M132 453v5M653 453v5M521 453v5M557 453v5M637 453v5M460 453v5M619 453v5M523 453v5M109 453v5M478 453v5M575 453v5M390 453v5M595 453v5M691 453v5M550 453v5M472 453v5M531 456v2M547 456v2M492 458v4M577 458v4M96 458v6M549 459v5M601 459v5M436 459v5M685 459v5M701 459v5M110 459v5M524 459v5M632 459v5M559 459v5M581 459v5M462 459v5M658 459v5M694 459v5M385 459v5M456 459v5M508 459v5M625 459v5M128 459v5M652 459v5M556 459v5M661 459v5M588 459v5M394 459v5M466 459v5M514 459v5M477 459v5M610 459v5M593 459v5M484 459v5M441 459v5M424 459v5M673 459v5M636 459v5M585 459v5M654 459v5M451 459v5M568 459v5M487 459v5M603 459v5M671 459v5M495 459v5M690 459v5M583 459v5M529 459v5M133 459v5M412 462v2M650 462v2M107 462v2M124 462v2M496 465v4M532 465v4M665 465v4M649 465v4M488 465v4M672 465v4M686 465v4M578 465v4M509 465v4M589 465v4M439 465v4M528 465v4M403 465v4M397 465v4M670 465v4M452 465v4M423 465v4M459 465v4M643 465v4M379 465v4M506 465v4M614 465v4"/>
<path stroke="#0030ff" d="M91 435v2M688 440v4M401 440v4M127 440v4M445 443v2M616 443v3M434 443v3M383 443v4M416 443v4M454 445v2M95 445v4M106 445v4M418 445v4M517 448v2M463 448v6M520 448v6M624 448v6M607 448v6M395 448v6M467 448v6M430 448v6M112 448v6M634 448v6M469 448v6M621 448v6M592 448v6M689 448v6M402 448v6M586 448v6M513 448v6M444 448v6M505 449v5M517 451v3M639 450v6M426 449v8M89 449v8M611 450v7M415 452v6M618 452v6M391 452v6M660 452v6M125 453v5M120 454v4M516 456v2M657 456v2M544 456v2M613 456v2M531 458v4M547 458v4M678 459v3M398 458v5M574 459v5M596 459v5M492 462v2M577 462v2M413 462v2M650 464v4M107 464v4M124 464v4M545 464v5M427 464v5M693 465v4M700 465v4"/>
<path stroke="#004cff" d="M519 429v3M591 429v3M447 429v3M537 429v3M699 429v4M465 429v5M551 429v7M615 429v7M134 429v7M638 429v7M93 429v7M414 429v7M87 429v7M417 429v7M666 429v7M129 429v7M378 429v7M680 429v7M612 429v7M386 429v7M396 429v7M561 429v7M584 429v7M399 429v7M648 429v7M569 429v7M407 429v7M540 429v7M641 429v7M98 429v7M494 429v7M90 429v7M486 429v7M548 429v7M558 429v7M576 429v7M432 429v7M566 429v7M602 429v7M425 429v7M440 429v7M692 429v7M695 429v7M422 429v7M101 429v7M543 429v7M381 429v7M579 429v7M404 429v7M605 430v6M450 430v6M461 430v6M633 430v6M533 431v5M108 431v5M126 431v5M684 431v5M489 431v5M656 432v4M630 432v4M389 432v4M507 432v4M623 432v4M483 432v4M651 433v3M525 433v3M501 433v3M659 433v3M443 434v2M515 434v2M620 434v2M435 434v2M587 434v2M91 437v3M401 444v4M127 444v4M688 446v2M664 445v5M434 446v5M616 446v6M442 447v5M416 447v6M383 447v6M445 447v6M106 449v7M418 449v7M454 449v7M95 449v7M463 454v4M430 454v4M517 454v4M112 454v4M634 454v4M121 454v4M520 454v4M469 454v4M592 454v4M467 454v4M513 454v4M444 454v4M505 454v4M621 454v4M689 454v4M402 454v4M586 454v4M624 454v4M607 454v4M395 454v4M657 458v4M640 458v4M544 458v4M613 458v4M516 458v4M679 459v3M617 458v6M94 459v5M562 459v5M455 459v5M635 459v5M485 459v5M582 459v5M97 459v5M565 459v5M380 459v5M642 459v5M88 459v5M457 459v5M132 459v5M653 459v5M557 459v5M460 459v5M580 459v5M619 459v5M523 459v5M109 459v5M478 459v5M575 459v5M390 459v5M595 459v5M691 459v5M550 459v5M92 459v5M521 459v5M433 459v5M560 459v5M637 459v5M567 459v5M631 459v5M400 459v5M655 459v5M604 459v5M470 459v5M382 459v5M622 459v5M606 459v5M472 459v5M493 459v5M384 459v5M113 459v5M431 459v5M531 462v2M547 462v2M492 464v4M577 464v4M96 464v5M581 465v4M466 465v4M484 465v4M441 465v4M625 465v4M424 465v4M673 465v4M636 465v4M585 465v4M451 465v4M568 465v4M556 465v4M671 465v4M495 465v4M690 465v4M514 465v4M583 465v4M477 465v4M610 465v4M529 465v4M593 465v4M133 465v4M549 465v4M654 465v4M601 465v4M487 465v4M436 465v4M685 465v4M701 465v4M110 465v4M603 465v4M524 465v4M559 465v4M462 465v4M658 465v4M694 465v4M385 465v4M456 465v4M508 465v4M128 465v4M652 465v4M661 465v4M632 465v4M588 465v4M394 465v4"/>
<path stroke="#0068ff" d="M91 440v4M688 448v7M401 448v7M127 448v7M664 450v7M434 451v7M442 452v6M616 452v6M416 453v5M445 453v5M383 453v5M418 456v2M454 456v2M95 456v2M106 456v2M112 458v2M634 458v2M469 458v2M592 458v2M689 458v2M402 458v2M586 458v2M513 458v2M444 458v2M505 458v2M621 458v2M463 458v2M517 458v2M520 458v2M624 458v2M607 458v2M395 458v2M467 458v2M430 458v2M639 458v4M426 458v5M89 458v5M618 458v6M391 458v6M611 458v6M125 458v6M660 458v6M415 458v6M120 460v4M657 462v2M544 462v2M613 462v2M516 462v2M582 464v2M97 464v2M565 464v2M132 464v2M521 464v2M433 464v2M557 464v2M637 464v2M631 464v2M619 464v2M655 464v2M523 464v2M470 464v2M109 464v2M382 464v2M478 464v2M390 464v2M691 464v2M550 464v2M472 464v2M92 464v2M560 464v2M567 464v2M400 464v2M384 464v2M604 464v2M113 464v2M622 464v2M635 464v2M485 464v2M606 464v2M380 464v2M642 464v2M88 464v2M457 464v2M653 464v2M493 464v2M460 464v2M580 464v2M431 464v2M94 464v2M562 464v2M455 464v2M547 464v4M531 464v4M678 466v2M398 464v5M596 466v3M574 466v3"/>
<path stroke="#0089ff" d="M546 437v4M91 444v4M127 455v3M401 455v3M688 455v3M418 458v5M454 458v5M95 458v5M106 458v5M469 460v4M444 460v4M505 460v4M621 460v4M689 460v4M402 460v4M586 460v4M624 460v4M607 460v4M395 460v4M463 460v4M430 460v4M517 460v4M112 460v4M121 460v4M520 460v4M592 460v4M467 460v4M513 460v4M634 460v4M640 464v4M657 464v4M544 464v4M613 464v4M516 464v4M679 466v2M617 465v4M132 466v3M92 466v3M521 466v3M433 466v3M560 466v3M637 466v3M567 466v3M631 466v3M655 466v3M604 466v3M470 466v3M382 466v3M575 466v3M595 466v3M691 466v3M606 466v3M550 466v3M472 466v3M493 466v3M400 466v3M384 466v3M113 466v3M431 466v3M94 466v3M562 466v3M455 466v3M622 466v3M635 466v3M485 466v3M582 466v3M97 466v3M565 466v3M380 466v3M642 466v3M88 466v3M457 466v3M653 466v3M557 466v3M460 466v3M580 466v3M619 466v3M523 466v3M109 466v3M478 466v3M390 466v3"/>
<path stroke="#00abff" d="M546 441v4M91 448v7M127 458v3M688 458v3M401 458v3M616 458v6M664 458v6M442 458v6M434 458v6M383 459v5M416 459v5M445 459v5M621 464v3M402 464v3M586 464v3M517 464v3M624 464v3M607 464v3M395 464v3M463 464v3M467 464v3M430 464v3M112 464v3M634 464v3M520 464v3M469 464v3M592 464v3M689 464v3M513 464v3M444 464v3M505 464v3M639 464v4M89 464v5M426 464v5M611 464v5M660 465v4M415 465v4M391 465v4M125 465v4M618 465v4M120 467v2"/>
<path stroke="#00ceff" d="M546 445v4M91 455v3M688 461v3M401 461v3M127 461v3M383 464v2M416 464v2M445 464v2M454 464v5M95 464v5M106 464v5M418 464v5M395 467v2M463 467v2M517 467v2M112 467v2M121 467v2M520 467v2M467 467v2M430 467v2M513 467v2M634 467v2M469 467v2M505 467v2M621 467v2M592 467v2M689 467v2M402 467v2M586 467v2M444 467v2M624 467v2M607 467v2"/>
<path stroke="#00f0ff" d="M483 436v3M651 436v5M522 436v5M98 436v5M494 436v5M453 436v5M443 436v5M659 436v5M129 436v5M378 436v5M525 436v5M515 436v5M612 436v5M396 436v5M561 436v5M584 436v5M399 436v5M648 436v5M126 436v5M630 436v5M569 436v5M407 436v5M669 436v5M435 436v5M641 436v5M687 436v5M677 436v5M684 436v5M450 436v5M666 436v5M90 436v5M389 436v5M486 436v5M489 436v5M471 436v5M461 436v5M111 436v5M558 436v5M548 436v5M507 436v5M530 436v5M594 436v5M576 436v5M432 436v5M566 436v5M543 436v5M381 436v5M602 436v5M615 436v5M597 436v5M587 436v5M468 436v5M425 436v5M674 436v5M633 436v5M440 436v5M623 436v5M692 436v5M422 436v5M101 436v5M108 436v5M504 436v5M476 436v5M540 436v5M579 436v5M404 436v5M551 436v5M134 436v5M638 436v5M93 436v5M386 436v5M533 436v5M695 436v5M414 436v5M620 436v5M87 436v5M417 436v5M605 436v5M656 436v5M512 437v4M116 438v3M479 438v3M122 439v2M458 439v2M546 449v7M91 458v4M688 464v3M401 464v3M127 464v3M664 464v5M434 464v5M442 465v4M616 465v4M416 466v3M383 466v3M445 466v3"/>
<path stroke="#00fff1" d="M122 441v4M486 441v6M548 441v6M497 441v6M381 441v6M602 441v6M504 441v6M476 441v6M540 441v6M134 441v6M515 441v6M399 441v6M648 441v6M620 441v6M87 441v6M656 441v6M435 441v6M98 441v6M512 441v6M126 441v6M507 441v6M576 441v6M407 441v6M623 441v6M90 441v6M692 441v6M489 441v6M558 441v6M101 441v6M530 441v6M479 441v6M543 441v6M638 441v6M93 441v6M425 441v6M674 441v6M108 441v6M561 441v6M533 441v6M630 441v6M417 441v6M666 441v6M677 441v6M453 441v6M116 441v6M612 441v6M584 441v6M111 441v6M569 441v6M684 441v6M633 441v6M695 441v6M471 441v6M551 441v6M615 441v6M587 441v6M422 441v6M386 441v6M605 441v6M687 441v6M659 441v6M389 441v6M525 441v6M432 441v6M669 441v6M641 441v6M468 441v6M440 441v6M404 441v6M597 441v6M522 441v6M443 441v6M579 441v6M396 441v6M414 441v6M458 441v6M651 441v6M494 441v6M450 441v6M129 441v6M378 441v6M461 441v6M594 441v6M566 441v6M119 443v4M546 456v2M91 462v2M401 467v2M127 467v2M688 467v2"/>
<path stroke="#00ffda" d="M533 447v6M417 447v6M666 447v6M504 447v6M453 447v6M116 447v6M515 447v6M612 447v6M584 447v6M399 447v6M648 447v6M620 447v6M569 447v6M435 447v6M98 447v6M471 447v6M507 447v6M576 447v6M587 447v6M623 447v6M90 447v6M692 447v6M422 447v6M558 447v6M101 447v6M479 447v6M543 447v6M638 447v6M93 447v6M605 447v6M108 447v6M525 447v6M561 447v6M630 447v6M669 447v6M641 447v6M677 447v6M111 447v6M119 447v6M684 447v6M633 447v6M695 447v6M579 447v6M551 447v6M615 447v6M414 447v6M651 447v6M129 447v6M378 447v6M386 447v6M687 447v6M659 447v6M389 447v6M548 447v6M432 447v6M602 447v6M468 447v6M440 447v6M476 447v6M540 447v6M404 447v6M134 447v6M597 447v6M87 447v6M656 447v6M522 447v6M443 447v6M512 447v6M396 447v6M126 447v6M458 447v6M407 447v6M494 447v6M450 447v6M489 447v6M461 447v6M530 447v6M594 447v6M566 447v6M425 447v6M674 447v6M486 447v6M497 447v6M381 447v6M546 458v5M91 464v4"/>
<path stroke="#00ffc2" d="M569 453v6M119 453v6M684 453v6M695 453v6M471 453v6M576 453v6M551 453v6M615 453v6M587 453v6M692 453v6M422 453v6M638 453v6M93 453v6M386 453v6M605 453v6M659 453v6M525 453v6M669 453v6M641 453v6M440 453v6M597 453v6M633 453v6M522 453v6M443 453v6M579 453v6M396 453v6M414 453v6M458 453v6M651 453v6M494 453v6M450 453v6M129 453v6M378 453v6M566 453v6M687 453v6M389 453v6M486 453v6M548 453v6M497 453v6M432 453v6M381 453v6M602 453v6M468 453v6M504 453v6M476 453v6M540 453v6M404 453v6M134 453v6M399 453v6M648 453v6M620 453v6M87 453v6M656 453v6M435 453v6M98 453v6M512 453v6M126 453v6M507 453v6M407 453v6M623 453v6M90 453v6M489 453v6M461 453v6M558 453v6M101 453v6M530 453v6M594 453v6M479 453v6M543 453v6M425 453v6M674 453v6M108 453v6M561 453v6M533 453v6M630 453v6M417 453v6M666 453v6M677 453v6M453 453v6M116 453v6M515 453v6M612 453v6M584 453v6M111 453v6"/>
<path stroke="#00ffaa" d="M551 459v6M615 459v6M414 459v6M422 459v6M651 459v6M129 459v6M386 459v6M605 459v6M687 459v6M659 459v6M389 459v6M548 459v6M432 459v6M669 459v6M468 459v6M440 459v6M476 459v6M540 459v6M404 459v6M597 459v6M87 459v6M656 459v6M522 459v6M443 459v6M512 459v6M396 459v6M126 459v6M458 459v6M407 459v6M494 459v6M450 459v6M378 459v6M461 459v6M530 459v6M594 459v6M566 459v6M425 459v6M486 459v6M497 459v6M381 459v6M602 459v6M417 459v6M504 459v6M453 459v6M116 459v6M134 459v6M515 459v6M584 459v6M399 459v6M648 459v6M620 459v6M569 459v6M435 459v6M98 459v6M471 459v6M507 459v6M576 459v6M587 459v6M623 459v6M90 459v6M692 459v6M489 459v6M558 459v6M101 459v6M479 459v6M543 459v6M638 459v6M93 459v6M674 459v6M108 459v6M525 459v6M561 459v6M533 459v6M630 459v6M666 459v6M641 459v6M677 459v6M612 459v6M111 459v6M119 459v6M684 459v6M633 459v6M695 459v6M579 459v6M546 464v5"/>
<path stroke="#00ff92" d="M566 465v4M687 465v4M389 465v4M486 465v4M548 465v4M432 465v4M381 465v4M602 465v4M504 465v4M476 465v4M540 465v4M404 465v4M134 465v4M399 465v4M620 465v4M656 465v4M435 465v4M443 465v4M512 465v4M396 465v4M126 465v4M407 465v4M90 465v4M489 465v4M461 465v4M558 465v4M530 465v4M543 465v4M425 465v4M108 465v4M497 465v4M561 465v4M533 465v4M417 465v4M666 465v4M677 465v4M453 465v4M116 465v4M515 465v4M612 465v4M584 465v4M648 465v4M569 465v4M119 465v4M684 465v4M507 465v4M576 465v4M615 465v4M623 465v4M692 465v4M422 465v4M638 465v4M93 465v4M386 465v4M605 465v4M659 465v4M630 465v4M669 465v4M641 465v4M440 465v4M111 465v4M597 465v4M633 465v4M695 465v4M522 465v4M579 465v4M551 465v4M414 465v4M458 465v4M651 465v4M494 465v4M450 465v4M378 465v4M468 465v6M87 465v6M98 465v6M594 465v6M674 465v6M471 465v6M587 465v6M101 465v6M479 465v6M525 465v6M129 465v6M536 469v2M626 469v2M410 469v2M482 469v2M123 469v2M439 469v4M643 469v4M397 469v4M506 469v4M488 469v4M670 469v4M423 469v4M528 469v4M452 469v4M509 469v4M614 469v4M403 469v4M496 469v4M532 469v4M665 469v4M672 469v4M589 471v2M459 471v2M379 471v2M578 471v2M686 471v2M649 471v2"/>
<path stroke="#00ff72" d="M588 469v2M673 469v2M124 469v2M568 469v2M122 469v2M409 469v2M128 469v2M524 469v2M625 469v2M593 469v2M632 469v4M497 469v4M663 469v4M556 469v4M394 469v4M551 469v4M93 469v4M462 469v4M549 469v4M414 469v4M654 469v4M385 469v4M522 469v4M504 469v4M601 469v4M581 469v4M456 469v4M487 469v4M427 469v4M561 469v4M495 469v4M605 469v4M407 469v4M641 469v4M603 469v4M453 469v4M690 469v4M466 469v4M514 469v4M389 469v4M671 469v4M610 469v4M566 469v4M107 469v4M110 469v4M119 469v4M529 469v4M412 469v4M559 469v4M623 469v4M424 469v4M636 469v4M484 469v4M545 469v4M451 469v4M101 471v2M579 471v2M87 471v2M458 471v2M590 471v2M98 471v2M687 471v2M536 471v2M468 471v2M471 471v2"/>
<path stroke="#00ff52" d="M408 469v4M441 469v4M661 469v4M96 469v4"/>
<path stroke="#00ff31" d="M695 469v4M411 469v4M604 469v4M113 469v4M132 469v4M615 469v4M425 469v4M633 469v4M521 469v4M483 469v4M557 469v4M580 469v4M455 469v4M606 469v4M550 469v4M591 469v4M472 469v4M627 469v4M94 469v4M622 469v4M515 469v4M396 469v4M547 469v4M635 469v4M92 469v4M562 469v4M398 469v4M485 469v4M417 469v4M666 469v4M560 469v4M678 469v4M619 469v4M662 469v4M537 469v4M111 469v4M642 469v4M523 469v4M88 469v4M582 469v4M457 469v4M97 469v4M470 469v4M567 469v4M653 469v4M109 469v4M478 469v4M400 469v4M565 469v4M384 469v4M390 469v4M413 469v4"/>
<path stroke="#00ff10" d="M657 469v4M415 469v4M620 469v4M679 469v4M544 469v4M699 469v4M464 469v4M660 469v4M391 469v4M120 469v4M516 469v4M500 469v4M602 469v4M446 469v4"/>
<path stroke="#0dff00" d="M440 469v4M486 469v4M634 469v4M586 469v4M558 469v4M520 469v4M607 469v4M469 469v4M681 469v4M513 469v4M402 469v4M395 469v4M444 469v4M463 469v4M399 469v4M505 469v4M89 469v4M592 469v4M467 469v4M430 469v4M689 469v4M555 469v4M621 469v4M426 469v4M112 469v4"/>
<path stroke="#26ff00" d="M434 469v4M465 469v4M445 469v4M95 469v4M108 469v4M517 469v4M416 469v4M106 469v4M680 469v4M418 469v4M624 469v4M121 469v4M447 469v4M597 469v4M664 469v4M383 469v4M454 469v4M404 469v4"/>
<path stroke="#3fff00" d="M90 469v4M401 469v4M548 469v4M616 469v4M688 469v4M677 469v4M127 469v4"/>
<path stroke="#72ff00" d="M91 469v4"/>
<path stroke="#a2ff00" d="M546 469v4"/></g>
<pattern id="t5a" x="87" y="473" width="51" height="87" patternUnits="userSpaceOnUse"><g><path fill="#000000" d="M43 16h2v2h-2zM36 19h2v2h-2z"/>
<path fill="#30003d" d="M0 32h3v2h-3z"/>
<path fill="#5a00a1" d="M0 28h51v2h-51z"/>
<path fill="#4600d1" d="M0 43h2v2h-2zM34 46h2v2h-2z"/>
<path fill="#3f00e0" d="M0 2h51v5h-51zM6 45h2v2h-2zM42 48h2v2h-2z"/>
<path fill="#2400ee" d="M0 0h51v2h-51z"/>
<path fill="#0800fb" d="M0 38h51v2h-51z"/>
<path fill="#004cff" d="M21 54h2v2h-2zM23 63h3v2h-3z"/>
<path fill="#0089ff" d="M19 57h2v2h-2z"/>
<path fill="#00ceff" d="M49 61h2v2h-2z"/>
<path fill="#00fff1" d="M23 66h3v2h-3z"/>
<path fill="#00ffc2" d="M8 70h2v2h-2z"/>
<path fill="#00ff52" d="M18 75h2v2h-2z"/>
<path fill="#00ff10" d="M0 79h2v2h-2z"/>
<path fill="#faff00" d="M18 85h2v2h-2z"/></g><g fill="none" transform="translate(0 .5)"><path stroke="#000000" d="M8 8h1M29 8h1M36 8h1M24 9h1M11 9h1M2 10h1M38 10h1M43 10h1M6 10h1M10 11h2M47 11h2M5 11h1M37 11h3M26 11h1M33 11h1M16 11h2M7 11h1M44 11h1M28 11h1M37 12h1M10 12h1M43 12h2M22 12h1M29 12h3M46 12h2M6 12h1M24 13h1M21 13h1M32 13h1M16 13h2M44 13h1M4 13h1M8 13h2M0 14h1M39 14h1M25 14h3M17 14h4M23 14h1M29 14h1M47 14h1M2 14h2M14 14h2M50 14h1M22 15h2M46 15h1M8 15h1M48 15h1M33 15h1M39 15h2M35 15h1M42 15h1M6 15h1M31 15h1M44 15h1M3 15h1M16 15h1M28 15h1M34 16h1M12 16h1M0 16h1M27 16h1M6 16h2M23 16h1M40 16h2M46 16h2M50 16h1M30 16h1M38 17h3M29 17h2M21 17h3M16 17h2M7 17h3M13 17h1M3 17h1M36 18h1M42 18h1M12 18h2M15 18h1M4 18h1M30 18h1M0 19h1M25 19h1M8 19h1M41 19h2M20 19h1M11 19h1M22 19h1M13 19h4M44 19h3M27 19h8M49 19h2M18 19h1M34 20h1M21 20h2M1 20h10M41 20h1M43 20h1M13 20h1M27 20h2M47 20h2M17 20h1M30 20h1M6 21h4M40 21h3M0 21h3M44 21h3M4 21h1M26 21h3M30 21h2M20 21h2M33 21h3M23 21h1M11 21h2M14 21h3M0 22h1M12 22h1M25 22h1M27 22h1M34 22h3M10 22h1M46 22h5M17 22h1M7 22h1M19 22h1M40 22h2M15 22h1M38 22h1M21 22h2M30 22h1M22 23h12M8 23h1M40 23h1M12 23h2M1 23h2M35 23h1M16 23h1M20 23h1M43 23h1M47 23h1M6 23h1M37 23h1M1 24h1M24 24h1M26 24h4M31 24h3M35 24h2M44 24h1M3 24h8M17 24h2M20 24h3M47 24h2M34 25h1M0 25h1M28 25h3M36 25h1M47 25h4M7 25h2M10 25h1M44 25h2M32 25h1M13 25h1M24 25h2M5 25h1M21 25h2M25 26h1M27 26h1M11 26h4M30 26h3M9 26h1M48 26h1M43 26h4M18 26h2M34 26h4M3 26h3M16 26h1M15 27h1M24 27h1M28 27h7M45 27h1M39 27h3M20 27h1M49 27h2M13 27h1M36 27h1M22 27h1M11 27h1M5 27h3M16 30h2M41 30h1M38 30h1M36 30h1M12 30h2M33 30h2M30 30h1M46 31h1M0 31h1M39 31h1M2 31h1M49 31h1M29 31h1M19 31h1M13 31h1M6 31h1M4 31h1M38 32h2M10 32h2M21 32h1M35 32h2M16 32h1M34 33h1M48 33h1M20 33h1M42 33h1M5 33h1M1 34h1M46 34h1M29 34h1M38 34h1M6 34h2M34 35h1M21 35h1M37 35h1M12 36h2M2 37h1M20 37h1M6 37h1"/>
<path stroke="#0c000e" d="M26 25h1M19 25h1M37 25h2M46 25h1M10 26h1M33 26h1M23 26h1M6 26h1M38 26h1M28 26h1M8 26h1M49 26h1M27 27h1M48 27h1M37 27h2M12 27h1"/>
<path stroke="#18001c" d="M47 19h1M38 19h1M3 19h3M43 19h1M23 19h2M14 20h1M45 20h1M32 20h1M12 20h1M13 21h1M38 21h2M24 21h1M16 22h1M39 22h1M8 22h1M2 22h5M29 22h1M11 23h1M5 23h1M15 23h1M50 24h1M13 24h2M0 24h1M19 24h1M43 24h1"/>
<path stroke="#24002a" d="M30 13h1M22 13h2M42 13h2M20 13h1M11 13h1M5 13h2M45 13h3M0 13h4M25 13h2M50 13h1M14 13h2M37 13h4M40 14h1M46 14h1M24 14h1M1 14h1M10 14h1M33 14h1M4 14h4M28 14h1M48 14h2M38 14h1M10 15h2M0 15h1M29 15h2M25 15h3M21 15h1M32 15h1M41 15h1M7 15h1M18 15h2M37 15h2M15 15h1M50 15h1M4 15h1M24 16h1M36 16h1M48 16h1M26 16h1M9 16h3M15 16h2M33 16h1M3 16h2M22 16h1M38 16h2M29 16h1M42 16h1M12 17h1M27 17h1M49 17h1M41 17h2M10 17h1M45 17h1M34 17h2M47 17h1M15 17h1M16 18h3M39 18h3M7 18h2M21 18h1M26 18h1M23 18h1M43 18h2M35 18h1M3 18h1M49 18h2M5 18h1"/>
<path stroke="#30003d" d="M42 11h2M0 11h2M6 11h1M18 11h2M4 11h1M8 11h2M49 11h2M40 11h1M46 11h1M22 11h2M25 11h1M14 11h1M30 11h3M34 11h3M7 12h2M45 12h1M32 12h1M0 12h4M14 12h2M38 12h1M5 12h1M17 12h2M36 12h1M24 12h3M41 12h2M21 12h1M48 12h1M15 30h1M18 30h3M0 30h1M39 30h2M37 30h1M7 30h5M31 30h2M2 30h2M22 30h8M42 30h3M47 30h4M20 31h1M7 31h6M22 31h1M41 31h5M3 31h1M30 31h4M28 31h1M5 31h1M18 31h1M24 31h3M14 31h3M1 31h1M35 31h4M48 31h1M13 32h3M17 32h4M40 32h6M28 32h4M33 32h2M4 32h6M47 32h4M25 32h2M22 32h2M35 33h2M4 33h1M6 33h1M33 33h1M21 33h2M24 33h8M43 33h5M8 33h12M49 33h2M38 33h4M48 34h2M42 34h2M39 34h2M2 34h2M8 34h21M30 34h8M5 34h1M22 35h3M44 35h2M26 35h8M35 35h2M20 35h1M49 35h2M42 35h1M2 35h16M38 35h2"/>
<path stroke="#45006f" d="M44 10h7M39 10h4M0 10h2M3 10h3M7 10h6M14 10h24"/>
<path stroke="#500089" d="M12 9h12M25 9h26M0 9h11M0 36h12M14 36h37"/>
<path stroke="#5a00a1" d="M30 8h6M37 8h14M9 8h20M0 8h8M7 37h13M21 37h30M0 37h2M3 37h3M7 42h1M3 42h1M2 44h1"/>
<path stroke="#5300b1" d="M0 7h51M40 40h1M2 40h1M34 40h3M11 40h1M32 40h1M29 40h1M44 40h1M4 40h1M34 41h1M25 41h1M41 41h1M2 43h1M23 43h1M41 44h1M3 44h1M43 44h1M29 45h1M27 47h1M29 47h1M27 52h1"/>
<path stroke="#4d00c1" d="M13 40h1M19 40h1M30 40h2M37 40h2M3 40h1M41 40h3M5 40h1M24 40h1M49 40h1M1 41h1M45 41h1M23 41h1M32 41h1M3 41h2M47 41h1M50 41h1M18 41h1M35 41h2M32 42h3M4 42h2M19 42h1M40 42h2M38 42h1M23 42h2M0 42h3M18 43h2M47 43h1M50 43h1M33 43h2M36 43h1M20 44h1M23 44h1M32 44h1M7 44h1M5 44h1M34 44h1M25 44h1M11 45h1M13 45h1M38 45h1M43 45h1M46 45h1M31 46h2M47 46h1M25 46h1M36 46h1M1 47h1M41 48h1M46 48h1M32 49h1"/>
<path stroke="#4600d1" d="M7 40h1M25 40h2M50 40h1M18 40h1M22 40h2M9 40h1M20 40h1M0 40h2M19 41h1M29 41h3M37 41h2M46 41h1M24 41h1M2 41h1M6 41h2M49 41h1M13 41h2M33 41h1M22 41h1M6 42h1M47 42h1M50 42h1M28 42h1M18 42h1M36 42h1M8 42h1M6 43h3M25 43h2M3 43h1M49 43h1M29 44h1M42 44h1M50 44h1M24 44h1M40 44h1M36 44h1M9 44h1M45 44h1M11 44h1M24 45h2M36 45h2M49 45h2M18 45h1M40 45h3M34 45h1M1 45h1M22 45h1M19 46h1M29 46h1M3 46h1M24 46h1M27 46h1M45 46h2M9 46h1M41 46h1M2 47h2M24 47h2M37 47h2M50 47h1M16 48h1M0 48h1M23 48h2M11 48h1M49 49h2M43 51h1M2 51h1M34 51h1M23 51h1M3 52h1M36 52h1M41 52h1M38 53h1M27 53h1"/>
<path stroke="#3f00e0" d="M12 40h1M39 40h1M45 40h4M14 40h1M21 40h1M33 40h1M17 40h1M28 40h1M9 41h2M0 41h1M48 41h1M39 41h2M20 41h2M46 42h1M39 42h1M25 42h1M10 42h1M20 42h1M13 42h1M31 42h1M48 42h2M40 43h3M12 43h1M24 43h1M31 43h2M9 43h1M48 43h1M44 43h3M16 43h1M20 43h2M21 44h2M39 44h1M13 44h2M33 44h1M30 44h2M47 44h1M18 44h2M30 45h1M14 45h1M47 45h2M32 45h1M11 46h1M13 46h4M42 46h1M38 46h1M39 47h3M8 47h1M26 47h1M20 47h1M15 47h2M32 47h1M47 47h1M14 48h1M37 48h1M9 48h1M21 48h1M6 48h1M25 48h2M1 48h2M0 49h1M34 49h3M45 49h1M23 49h1M11 49h1M47 49h1M18 49h2M25 50h1M29 50h1M3 50h1M20 51h1M11 51h1M32 51h1M13 51h1M4 51h1M34 52h1M25 52h1M15 52h1M40 53h1M23 53h1M43 53h1"/>
<path stroke="#2400ee" d="M10 40h1M6 40h1M28 41h1M5 41h1M9 42h1M45 42h1M21 42h2M4 43h2M11 43h1M22 43h1M13 43h1M39 43h1M49 44h1M10 44h1M6 44h1M44 44h1M46 44h1M8 44h1M19 45h2M8 45h3M44 45h2M35 45h1M3 45h1M0 45h1M37 46h1M48 46h1M26 46h1M20 46h3M0 46h2M50 46h1M5 46h1M30 46h1M12 46h1M39 46h1M8 46h1M13 47h2M23 47h1M44 47h2M19 47h1M10 47h2M0 47h1M36 47h1M6 47h2M7 48h2M45 48h1M3 48h2M32 48h1M38 48h2M47 48h1M12 48h2M34 48h3M48 49h1M5 49h2M30 49h2M38 49h1M16 49h1M28 49h1M24 49h1M46 49h1M14 49h1M37 50h1M7 50h2M26 50h1M42 50h2M50 50h1M4 50h1M11 50h2M31 50h5M40 50h1M2 50h1M1 51h1M41 51h1M29 51h1M18 51h2M46 51h2M6 51h1M24 51h2M3 51h1M16 51h1M8 51h2M49 51h2M36 51h1M10 52h1M7 52h1M47 52h1M43 52h1M4 52h1M40 52h1M18 52h3M0 52h3M16 53h1M34 53h3M43 56h1"/>
<path stroke="#0800fb" d="M17 41h1M10 43h1M12 44h1M48 44h1M31 45h1M5 45h1M39 45h1M21 45h1M33 45h1M44 46h1M40 46h1M10 46h1M42 47h1M46 47h1M21 47h1M19 48h1M15 48h1M10 48h1M17 48h1M13 49h1M25 49h2M1 49h3M37 49h1M7 49h4M18 50h2M47 50h1M38 50h1M16 50h1M28 50h1M22 50h2M36 50h1M9 50h1M13 50h2M45 50h1M0 50h2M35 51h1M30 51h2M37 51h2M14 51h2M5 51h1M40 51h1M0 51h1M26 51h1M44 51h2M44 52h1M8 52h2M30 52h1M39 52h1M37 52h1M49 52h1M13 52h2M23 52h1M41 53h1M13 53h1M25 53h2M1 53h4M45 53h2M9 53h1M48 53h1M20 53h1M29 54h1M19 54h1M1 54h1M23 54h1"/>
<path stroke="#0014ff" d="M17 42h1M12 45h1M17 46h1M12 47h1M9 47h1M18 48h1M50 48h1M21 49h2M12 49h1M4 49h1M46 50h1M24 50h1M5 50h2M17 50h1M48 50h2M20 50h2M7 51h1M28 51h1M5 52h1M45 52h2M48 52h1M35 52h1M31 52h1M38 52h1M49 53h2M18 53h1M8 53h1M14 53h1M21 53h1M30 53h2M47 53h1M9 54h2M34 54h3M2 54h3M49 54h1M20 54h1M45 54h1M32 54h1M40 54h2M24 54h2M38 54h1M36 55h1M23 55h3M29 55h1M41 55h1M1 55h2M50 55h1M27 56h1M2 56h1M25 56h1M32 56h1M15 56h1"/>
<path stroke="#0030ff" d="M44 48h1M17 49h1M30 50h1M48 51h1M17 51h1M39 51h1M21 52h1M26 52h1M50 52h1M16 52h1M22 53h1M7 53h1M19 53h1M44 53h1M5 53h1M39 53h1M12 54h3M33 54h1M6 54h3M16 54h1M28 54h1M0 54h1M46 54h3M6 55h4M13 55h4M32 55h1M45 55h5M38 55h1M30 55h1M34 55h1M40 55h1M1 56h1M9 56h1M29 56h2M13 56h1M6 56h1M37 56h2M49 56h2M33 56h2M46 56h1M23 56h2M1 63h1M41 63h1M36 63h1M3 64h1M43 64h1M27 64h1"/>
<path stroke="#004cff" d="M17 47h1M21 51h1M0 53h1M12 53h1M10 53h1M30 54h2M50 54h1M5 54h1M19 55h1M37 55h1M10 55h1M33 55h1M35 55h1M47 56h1M16 56h1M40 56h3M18 56h3M35 56h2M8 56h1M14 56h1M44 56h2M43 57h1M27 57h1M43 59h1M27 59h1M2 63h2M14 63h2M38 63h1M34 63h1M0 63h1M27 63h1M42 63h2M32 63h1M15 64h1M2 64h1M36 64h1M49 64h1M3 65h1M43 65h1M27 65h1M25 65h1"/>
<path stroke="#0068ff" d="M17 52h1M20 55h1M21 56h2M39 56h1M48 56h1M10 56h1M7 56h1M29 57h1M1 57h2M15 57h1M27 58h1M36 58h1M41 58h1M38 58h1M43 58h1M2 59h1M23 59h1M29 59h1M25 60h1M43 60h1M49 63h2M5 63h1M40 63h1M37 63h1M20 63h1M11 63h1M35 63h1M7 63h3M13 63h1M1 64h1M13 64h2M7 64h4M42 64h1M34 64h2M40 65h1M46 65h1M23 65h2M0 65h3M14 65h3M34 65h3M19 65h2M7 65h3"/>
<path stroke="#0089ff" d="M13 57h2M45 57h1M32 57h1M7 57h3M40 57h2M3 57h1M38 57h1M16 57h1M49 57h2M30 57h1M23 57h4M34 57h3M8 58h1M32 58h3M29 58h1M23 58h3M47 58h1M6 58h1M1 58h3M32 59h1M24 59h2M3 59h1M50 59h1M45 59h2M49 60h1M9 60h1M33 60h2M24 60h1M8 61h1M23 61h1M32 61h1M47 61h1M25 61h2M3 61h1M11 62h1M15 62h1M25 62h1M27 62h1M48 63h1M10 63h1M4 63h1M21 63h2M39 63h1M20 64h1M22 64h1M39 64h2M50 64h1M0 64h1M26 65h1M5 65h2M45 65h1M42 65h1M12 65h2M47 65h3M30 65h1M39 65h1"/>
<path stroke="#00abff" d="M31 57h1M28 57h1M12 57h1M47 57h2M33 57h1M5 57h2M22 57h1M35 58h1M30 58h2M21 58h2M48 58h3M44 58h2M0 59h2M47 59h1M49 59h1M20 59h1M4 59h2M33 59h3M46 60h2M2 60h2M30 60h1M0 60h1M14 60h1M23 60h1M32 60h1M13 61h1M18 61h2M42 61h1M34 61h2M37 61h2M15 61h1M4 61h1M2 61h1M24 61h1M45 61h2M11 61h1M2 62h2M38 62h1M16 62h1M18 62h1M34 62h1M23 62h2M36 62h1M26 62h1M45 62h1M32 62h1M17 63h1M5 64h1M21 64h1M48 64h1M31 65h1M44 65h1M50 65h1M21 65h2M17 65h2M10 65h1"/>
<path stroke="#00ceff" d="M4 57h1M39 57h1M21 57h1M17 57h1M44 57h1M28 58h1M4 58h2M21 59h2M6 59h1M18 59h2M30 59h2M44 59h1M4 60h3M10 60h2M18 60h5M26 60h1M44 60h2M35 60h1M13 60h1M50 60h1M16 61h1M20 61h2M9 61h2M5 61h3M12 61h1M14 61h1M30 61h2M44 61h1M4 62h1M40 62h1M37 62h1M8 62h1M19 62h2M13 62h2M22 62h1M28 62h2M35 62h1M42 62h1M46 62h2M6 62h1M31 62h1M17 64h1"/>
<path stroke="#00f0ff" d="M17 58h1M39 58h1M31 60h1M12 60h1M22 61h1M21 62h1M7 62h1M44 62h1M5 62h1M9 62h2M30 62h1M12 62h1M39 62h1M32 66h1M38 66h1M27 66h1M1 67h1M15 67h1M43 68h1M27 68h1M36 68h1M29 69h1M15 70h1M43 70h1M43 72h1"/>
<path stroke="#00fff1" d="M29 66h1M15 66h1M36 66h2M0 66h1M2 66h3M20 66h1M33 66h1M7 67h1M2 67h2M38 67h1M27 67h1M36 67h1M19 67h2M15 68h1M46 68h1M32 68h1M6 69h1M38 69h1M43 69h1M23 69h1M14 70h1M1 70h1M11 70h1M41 71h1M1 72h1M2 73h1"/>
<path stroke="#00ffda" d="M40 66h1M30 66h1M14 66h1M6 66h2M1 66h1M26 66h1M45 66h3M18 66h2M32 67h2M17 67h2M37 67h1M8 67h1M35 67h1M39 67h2M29 67h1M47 67h1M12 67h2M23 68h2M1 68h3M29 68h2M7 68h2M11 68h1M37 68h2M8 69h2M32 69h2M45 69h1M47 69h1M15 69h1M1 69h2M20 70h1M23 70h1M32 70h1M41 70h1M2 70h2M43 71h1M24 71h1M34 71h3M1 71h1M45 71h1M29 71h1M15 71h1M3 71h1M38 72h1M36 72h1M26 72h1M13 72h1M2 72h2M25 73h1M29 73h1M3 73h1"/>
<path stroke="#00ffc2" d="M8 66h1M21 66h1M12 66h2M31 66h1M44 66h1M5 66h1M34 66h1M39 66h1M48 67h1M26 67h1M6 67h1M4 67h1M21 67h2M30 67h1M45 67h2M13 68h2M20 68h1M33 68h1M47 68h1M31 68h1M44 68h1M4 68h3M18 68h1M39 68h1M18 69h5M37 69h1M3 69h2M7 69h1M11 69h2M30 69h1M14 69h1M45 70h1M19 70h1M42 70h1M28 70h4M38 70h1M4 70h3M49 70h2M33 70h2M13 71h2M19 71h2M23 71h1M37 71h2M4 71h1M16 71h1M40 71h1M30 71h1M2 71h1M25 71h1M37 72h1M9 72h1M29 72h2M35 72h1M41 72h1M23 72h3M15 72h1M18 72h3M32 73h3M11 73h1M38 73h1M14 73h2M36 73h1M7 74h2M35 74h1M19 74h1M29 74h1M13 74h1M42 74h1M47 74h1M3 74h1M15 74h1M40 74h1M23 74h2"/>
<path stroke="#00ffaa" d="M35 66h1M28 66h1M48 66h1M17 66h1M44 67h1M5 67h1M0 67h1M14 67h1M9 68h2M12 68h1M21 68h1M26 68h1M45 68h1M17 68h1M42 69h1M31 69h1M48 69h2M5 69h1M39 69h1M39 70h2M7 70h1M16 70h1M37 70h1M48 70h1M22 70h1M42 71h1M49 71h2M5 71h3M12 71h1M21 71h1M26 71h1M33 71h1M4 72h1M33 72h2M39 72h1M45 72h2M14 72h1M7 72h2M35 73h1M20 73h5M12 73h2M40 73h3M37 73h1M49 73h1M7 73h4M4 73h2M44 73h4M6 74h1M25 74h2M38 74h1M49 74h2M11 74h2M2 74h1M9 74h1M32 74h3M45 74h1M29 75h1M27 75h1"/>
<path stroke="#00ff92" d="M22 66h1M31 67h1M48 68h1M22 68h1M19 68h1M17 69h1M50 69h1M12 70h1M21 70h1M35 70h1M39 71h1M48 71h1M17 71h1M22 71h1M16 72h1M5 72h1M21 72h2M40 72h1M12 72h1M49 72h1M44 72h1M26 73h1M19 73h1M4 74h1M46 74h1M36 74h1M14 74h1M20 74h1M31 74h1M43 75h1M1 75h1M3 75h1M41 76h1M35 77h1"/>
<path stroke="#00ff72" d="M17 70h1M48 72h1M10 72h1M42 72h1M31 73h1M37 74h1M10 74h1M44 74h1M21 74h2M36 75h1M9 75h1M15 75h2M47 75h1M38 75h1M50 75h1M23 75h2M45 76h1M23 76h1M1 76h2M43 76h1M25 76h1M13 77h1M3 77h1M34 77h1M18 77h1"/>
<path stroke="#00ff52" d="M22 75h1M34 75h2M4 75h1M40 75h1M30 75h1M0 75h1M2 75h1M25 75h1M14 75h1M6 75h2M49 75h1M3 76h2M14 76h2M34 76h1M24 76h1M36 76h1M7 76h2M26 76h1M22 77h1M29 77h1M40 77h2M15 77h1M44 77h1M0 77h3M8 77h1M24 77h3M19 78h1M4 78h1M32 78h1M27 78h1M2 78h1M45 78h1M25 79h3M27 80h1"/>
<path stroke="#00ff31" d="M39 75h1M44 75h2M12 75h2M31 75h1M37 76h4M0 76h1M9 76h1M22 76h1M29 76h1M13 76h1M38 77h1M30 77h4M20 77h2M49 77h2M5 77h3M12 77h1M36 77h1M42 77h2M18 78h1M30 78h1M34 78h1M9 78h1M21 78h1M0 78h2M13 78h1M24 78h2M40 78h4M37 78h2M15 78h1M2 79h1M14 79h1M6 79h2M49 79h1M45 79h1M32 79h1M47 79h1M38 80h1M24 80h1M3 80h1M36 80h1M11 80h1M28 80h2M2 81h1M34 81h1M49 81h1M19 81h1"/>
<path stroke="#00ff10" d="M37 75h1M26 75h1M48 75h1M10 75h1M48 76h3M5 76h2M17 76h1M44 76h1M30 76h1M12 76h1M37 77h1M9 77h1M48 77h1M45 77h1M19 77h1M28 77h1M4 77h1M36 78h1M10 78h1M20 78h1M33 78h1M22 78h1M7 78h1M31 78h1M50 78h1M16 78h1M5 78h1M46 78h1M39 78h1M29 79h1M41 79h1M13 79h1M36 79h2M18 79h1M34 79h1M24 79h1M49 80h1M8 80h1M21 80h1M26 80h1M5 80h2M33 80h1M35 80h1M42 80h1M18 80h2M45 80h2M36 81h1M1 81h1M11 81h1M32 81h1M27 81h1M7 81h1M45 81h3M24 81h2M3 81h1M16 81h1M20 82h1M23 82h1M15 82h1M36 82h2M43 82h1"/>
<path stroke="#0dff00" d="M17 75h1M8 75h1M35 76h1M31 76h1M16 76h1M16 77h2M39 77h1M23 77h1M29 78h1M47 78h1M6 78h1M44 78h1M12 78h1M49 78h1M26 78h1M19 79h3M50 79h1M28 79h1M11 79h2M46 79h1M38 79h3M33 79h1M15 79h2M7 80h1M13 80h1M47 80h1M44 80h1M16 80h1M40 80h1M2 80h1M34 80h1M30 80h3M9 80h1M38 81h2M35 81h1M50 81h1M30 81h1M0 81h1M12 81h1M8 81h1M43 81h2M33 81h1M23 81h1M40 82h2M47 82h1M3 82h1M38 82h1M16 82h1M32 82h2M27 82h1M29 82h2M1 82h1"/>
<path stroke="#26ff00" d="M44 79h1M5 79h1M9 79h2M42 79h1M31 79h1M50 80h1M12 80h1M39 80h1M25 80h1M14 80h1M23 80h1M40 81h1M9 81h1M26 81h1M4 81h2M29 81h1M13 81h1M31 81h1M28 82h1M8 82h2M4 82h3M11 82h2M2 82h1M0 82h1M24 82h3M49 82h1M45 82h1M19 82h1M34 82h2"/>
<path stroke="#3fff00" d="M28 78h1M30 79h1M10 80h1M17 80h1M14 81h1M6 81h1M28 81h1M21 81h2M39 82h1M48 82h1M13 82h2M22 82h1M31 82h1M44 82h1M50 82h1M46 82h1M32 83h1M35 83h1M4 83h1M43 83h1M27 83h1"/>
<path stroke="#59ff00" d="M48 81h1M21 82h1M40 83h2M15 83h1M34 83h1M2 83h1M25 83h1M20 83h1M11 83h1M43 84h1M27 84h1"/>
<path stroke="#72ff00" d="M7 82h1M44 83h1M50 83h1M30 83h1M46 83h3M36 83h3M7 83h2M1 83h1M33 83h1M22 83h3M38 84h1M4 84h1M18 84h1M25 84h1M20 84h1M7 84h1"/>
<path stroke="#8cff00" d="M14 83h1M49 83h1M10 83h1M5 83h2M18 83h2M42 83h1M3 83h1M28 83h1M37 84h1M0 84h4M6 84h1M50 84h1M9 84h2M30 84h1M34 84h1M12 84h1M23 84h2"/>
<path stroke="#a2ff00" d="M17 83h1M12 83h2M31 83h1M39 83h1M21 83h1M26 83h1M45 83h1M44 84h2M22 84h1M35 84h1M19 84h1M47 84h1M13 84h3M40 84h3M49 84h1M8 84h1M31 84h2M3 85h1M43 85h1M27 85h1"/>
<path stroke="#b8ff00" d="M0 83h1M9 83h1M28 84h1M5 84h1M46 84h1M39 84h1M36 84h1M48 84h1M33 84h1M23 85h1M41 85h1"/>
<path stroke="#ceff00" d="M21 84h1M26 84h1M17 84h1M34 85h3M1 85h1M15 85h1M38 85h1M4 85h1M43 86h1M27 86h1"/>
<path stroke="#e4ff00" d="M32 85h1M7 85h1M47 85h1M44 85h1M50 85h1M16 85h1M40 85h1M2 85h1M24 85h3M37 85h1M20 85h1M41 86h1M34 86h2M23 86h2M1 86h3"/>
<path stroke="#faff00" d="M42 85h1M28 85h3M0 85h1M45 85h2M49 85h1M8 85h1M10 85h1M33 85h1M25 86h2M44 86h1M50 86h1M46 86h1M32 86h2M11 86h1M29 86h1"/>
<path stroke="#fff100" d="M9 85h1M21 85h1M48 85h1M12 85h2M5 85h1M36 86h1M47 86h2M20 86h1M15 86h2M42 86h1M28 86h1M38 86h1M8 86h2M40 86h1M30 86h1M0 86h1"/>
<path stroke="#ffdf00" d="M17 85h1M45 86h1M7 86h1M12 86h2M5 86h1M37 86h1M49 86h1M10 86h1"/>
<path stroke="#ffce00" d="M4 86h1M21 86h1"/>
<path stroke="#ffbc00" d="M17 86h1"/></g><g fill="none" transform="translate(.5 0)"><path stroke="#000000" d="M13 10v4M27 12v2M49 12v2M19 12v2M34 12v3M14 15v2M25 16v2M19 16v2M46 17v2M48 17v2M32 17v2M2 18v2M39 19v2M15 24v2M39 24v2M1 26v2M32 32v2M3 32v2M41 34v2"/>
<path stroke="#0c000e" d="M2 25v2M21 26v2"/>
<path stroke="#18001c" d="M42 22v2M45 22v2"/>
<path stroke="#24002a" d="M35 13v2M43 14v2M13 15v2M18 16v2M20 16v2M31 16v2"/>
<path stroke="#30003d" d="M12 11v2M0 34v2"/>
<path stroke="#5300b1" d="M27 40v4M15 44v2M43 46v2"/>
<path stroke="#4d00c1" d="M8 40v2M26 41v2M11 41v2M15 40v4M43 41v3M29 42v2M27 44v2M2 45v2M27 48v2"/>
<path stroke="#4600d1" d="M16 40v3M42 41v2M30 42v2M14 42v2M38 43v2M16 44v2M29 48v2M41 49v2"/>
<path stroke="#3f00e0" d="M44 41v2M37 42v3M35 42v3M28 43v2M26 44v2M23 45v2M4 44v4M18 46v2M49 46v3M30 47v2M40 48v2M15 49v2M27 50v2M29 52v2"/>
<path stroke="#2400ee" d="M12 41v2M33 46v2M20 48v2M12 51v2M32 52v2M24 52v2"/>
<path stroke="#0800fb" d="M17 43v3M28 45v4M5 47v2M48 47v2M33 48v2M33 51v3M6 52v2M11 52v3M15 53v2M43 54v2M27 54v2"/>
<path stroke="#0014ff" d="M22 47v2M31 47v2M39 49v2M44 49v2M10 50v2M22 51v2M42 51v3M11 55v2"/>
<path stroke="#0030ff" d="M37 53v2M42 54v2M18 54v2M26 54v3M3 55v2"/>
<path stroke="#004cff" d="M28 52v2M17 53v2M39 54v2M31 55v2M28 55v2M4 55v2M12 55v2M0 55v2M19 63v2M6 63v2M29 63v3M41 64v2M11 64v2"/>
<path stroke="#0068ff" d="M44 54v2M5 55v2M27 60v2M18 63v2M30 63v2M26 63v2M45 63v2M47 63v2M16 63v2M4 64v2M32 64v2M38 64v2"/>
<path stroke="#0089ff" d="M17 55v2M11 57v3M15 58v3M38 59v2M36 59v3M29 60v2M41 59v4M1 60v3M43 61v2M31 63v2M44 63v2M46 63v2M12 63v2M33 63v3M28 63v3M37 64v2"/>
<path stroke="#00abff" d="M42 57v2M18 57v2M0 57v2M37 57v2M13 58v2M26 58v2M9 58v2M7 58v3M16 58v3M40 58v4"/>
<path stroke="#00ceff" d="M46 57v2M10 57v3M12 58v2M14 58v2M37 59v2M8 59v2M42 59v2M39 59v3M33 61v2"/>
<path stroke="#00f0ff" d="M28 59v3M48 59v4M0 61v2"/>
<path stroke="#00fff1" d="M17 59v4M43 66v2M9 66v2M11 66v2M41 66v4M34 67v3M25 68v3M27 69v6"/>
<path stroke="#00ffda" d="M49 66v3M42 66v3M40 68v2M36 69v2M26 69v2M18 70v2M11 71v2M43 73v2"/>
<path stroke="#00ffc2" d="M10 66v2M50 66v3M16 66v4M28 67v3M35 68v2M0 68v3M24 69v2M47 70v3M32 71v2M6 72v2M50 72v2M1 73v2"/>
<path stroke="#00ffaa" d="M13 69v2M44 69v3M46 69v3M10 69v3M0 71v4M16 73v2M30 73v2M18 73v2M41 74v2"/>
<path stroke="#00ff92" d="M31 71v2M28 71v4M39 73v2M48 73v2"/>
<path stroke="#00ff72" d="M17 72v3M5 74v2M11 75v2M27 76v2"/>
<path stroke="#00ff52" d="M42 75v2M28 75v2M32 75v2M46 75v3M11 77v2M23 78v2M43 79v2"/>
<path stroke="#00ff31" d="M20 75v2M33 75v2M47 76v2M41 80v2M15 80v2"/>
<path stroke="#00ff10" d="M21 75v2M14 77v2M3 78v2M18 81v2"/>
<path stroke="#0dff00" d="M10 76v2M35 78v2M8 78v2M4 79v2M20 80v2"/>
<path stroke="#26ff00" d="M17 78v2M48 78v3M37 80v2M17 81v2M42 81v2"/>
<path stroke="#3fff00" d="M22 79v2"/>
<path stroke="#59ff00" d="M10 81v2M29 83v2"/>
<path stroke="#8cff00" d="M16 83v2"/>
<path stroke="#b8ff00" d="M11 84v2"/>
<path stroke="#faff00" d="M14 85v2M22 85v2M6 85v2"/>
<path stroke="#ffdf00" d="M31 85v2M39 85v2"/></g></pattern><rect x="87" y="473" width="50" height="87" fill="url(#t5a)"/>
<g><path fill="#000000" d="M137 496h9v4h-9z"/>
<path fill="#24002a" d="M137 490h9v2h-9z"/>
<path fill="#30003d" d="M137 484h9v2h-9zM137 503h9v4h-9z"/>
<path fill="#5a00a1" d="M137 501h9v2h-9z"/>
<path fill="#3f00e0" d="M137 475h9v5h-9zM137 515h9v2h-9z"/>
<path fill="#2400ee" d="M137 473h9v2h-9z"/>
<path fill="#0800fb" d="M137 511h9v2h-9z"/>
<path fill="#0014ff" d="M137 519h9v2h-9z"/>
<path fill="#0030ff" d="M137 523h9v5h-9z"/>
<path fill="#0089ff" d="M137 528h9v2h-9z"/>
<path fill="#00abff" d="M137 536h9v3h-9z"/>
<path fill="#00f0ff" d="M137 531h9v2h-9z"/>
<path fill="#00ffaa" d="M137 539h9v2h-9z"/>
<path fill="#00ff72" d="M137 545h9v2h-9z"/>
<path fill="#00ff10" d="M137 548h9v2h-9z"/>
<path fill="#26ff00" d="M137 553h9v2h-9z"/>
<path fill="#a2ff00" d="M137 556h9v2h-9z"/></g><g fill="none" transform="translate(0 .5)"><path stroke="#000000" d="M137 482h9M137 489h9M137 494h9M137 507h9"/>
<path stroke="#0c000e" d="M137 500h9"/>
<path stroke="#18001c" d="M137 492h9"/>
<path stroke="#24002a" d="M137 486h9"/>
<path stroke="#30003d" d="M137 508h9"/>
<path stroke="#45006f" d="M137 483h9"/>
<path stroke="#500089" d="M137 509h9"/>
<path stroke="#5a00a1" d="M137 481h9M137 510h9"/>
<path stroke="#5300b1" d="M137 480h9"/>
<path stroke="#3f00e0" d="M137 513h9"/>
<path stroke="#2400ee" d="M137 514h9M137 517h9M137 521h9"/>
<path stroke="#0800fb" d="M137 518h9M137 522h9"/>
<path stroke="#00ceff" d="M137 530h9"/>
<path stroke="#00f0ff" d="M137 534h9"/>
<path stroke="#00fff1" d="M137 533h9M137 535h9"/>
<path stroke="#00ffda" d="M137 541h9"/>
<path stroke="#00ff92" d="M137 542h9M137 544h9"/>
<path stroke="#00ff72" d="M137 543h9"/>
<path stroke="#00ff52" d="M137 547h9"/>
<path stroke="#00ff10" d="M137 551h9"/>
<path stroke="#0dff00" d="M137 550h9"/>
<path stroke="#59ff00" d="M137 552h9"/>
<path stroke="#72ff00" d="M137 555h9"/>
<path stroke="#fff100" d="M137 558h9"/>
<path stroke="#ffdf00" d="M137 559h9"/></g>
<g><path fill="#000000" d="M369 489h9v2h-9zM369 495h9v3h-9zM369 504h9v2h-9z"/>
<path fill="#30003d" d="M369 506h9v2h-9z"/>
<path fill="#5a00a1" d="M369 501h9v2h-9z"/>
<path fill="#3f00e0" d="M369 475h9v5h-9zM369 514h9v2h-9z"/>
<path fill="#2400ee" d="M369 473h9v2h-9zM369 521h9v2h-9z"/>
<path fill="#0800fb" d="M369 511h9v2h-9zM369 523h9v3h-9z"/>
<path fill="#0089ff" d="M369 536h9v2h-9z"/>
<path fill="#00abff" d="M369 530h9v2h-9z"/>
<path fill="#00f0ff" d="M369 533h9v2h-9z"/>
<path fill="#00ffc2" d="M369 541h9v2h-9z"/>
<path fill="#00ff92" d="M369 545h9v2h-9z"/>
<path fill="#00ff10" d="M369 548h9v2h-9z"/>
<path fill="#0dff00" d="M369 550h9v2h-9z"/>
<path fill="#faff00" d="M369 558h9v2h-9z"/></g><g fill="none" transform="translate(0 .5)"><path stroke="#000000" d="M369 493h9M369 500h9M369 508h9"/>
<path stroke="#30003d" d="M369 484h9M369 503h9"/>
<path stroke="#45006f" d="M369 483h9"/>
<path stroke="#500089" d="M369 482h9M369 509h9"/>
<path stroke="#5a00a1" d="M369 481h9M369 510h9"/>
<path stroke="#5300b1" d="M369 480h9"/>
<path stroke="#4600d1" d="M369 513h9"/>
<path stroke="#3f00e0" d="M369 519h9"/>
<path stroke="#2400ee" d="M369 516h9M369 518h9"/>
<path stroke="#0800fb" d="M369 517h9M369 520h9"/>
<path stroke="#0030ff" d="M369 527h9"/>
<path stroke="#004cff" d="M369 526h9M369 528h9"/>
<path stroke="#0068ff" d="M369 529h9"/>
<path stroke="#00abff" d="M369 538h9"/>
<path stroke="#00ceff" d="M369 532h9"/>
<path stroke="#00fff1" d="M369 535h9"/>
<path stroke="#00ffc2" d="M369 539h9"/>
<path stroke="#00ffaa" d="M369 540h9M369 544h9M369 547h9"/>
<path stroke="#00ff92" d="M369 543h9"/>
<path stroke="#00ff10" d="M369 552h9"/>
<path stroke="#0dff00" d="M369 553h9"/>
<path stroke="#26ff00" d="M369 555h9"/>
<path stroke="#3fff00" d="M369 554h9"/>
<path stroke="#a2ff00" d="M369 557h9"/>
<path stroke="#b8ff00" d="M369 556h9"/></g>
<pattern id="t5b" x="378" y="473" width="53" height="87" patternUnits="userSpaceOnUse"><g><path fill="#000000" d="M19 13h2v2h-2zM13 18h2v2h-2zM17 21h2v2h-2zM8 23h2v2h-2zM24 24h3v2h-3zM14 24h2v2h-2zM42 33h2v2h-2z"/>
<path fill="#24002a" d="M31 15h3v2h-3z"/>
<path fill="#30003d" d="M0 31h3v2h-3z"/>
<path fill="#5a00a1" d="M0 28h53v2h-53z"/>
<path fill="#4600d1" d="M9 40h2v2h-2zM12 45h2v2h-2z"/>
<path fill="#3f00e0" d="M0 2h53v5h-53z"/>
<path fill="#2400ee" d="M0 0h53v2h-53zM0 46h2v2h-2zM21 46h2v2h-2z"/>
<path fill="#0800fb" d="M0 38h53v2h-53z"/>
<path fill="#0014ff" d="M23 53h2v3h-2z"/>
<path fill="#004cff" d="M37 55h2v2h-2zM44 63h2v2h-2z"/>
<path fill="#0068ff" d="M15 63h3v2h-3z"/>
<path fill="#0089ff" d="M17 57h2v2h-2z"/>
<path fill="#00abff" d="M50 57h3v2h-3zM27 57h2v2h-2zM0 60h2v3h-2z"/>
<path fill="#00ceff" d="M19 60h2v2h-2z"/>
<path fill="#00ffda" d="M8 68h2v2h-2z"/>
<path fill="#00ffc2" d="M51 67h2v2h-2zM37 67h2v2h-2zM46 70h2v2h-2zM38 72h2v2h-2z"/>
<path fill="#00ffaa" d="M51 70h2v2h-2zM27 73h2v2h-2z"/></g><g fill="none" transform="translate(0 .5)"><path stroke="#000000" d="M2 7h1M8 8h1M49 8h1M24 9h1M20 10h1M24 11h1M52 11h1M6 11h2M1 11h1M21 11h1M48 11h1M11 11h1M31 11h1M27 11h3M18 11h1M0 12h1M12 12h1M16 12h3M8 12h1M35 12h1M47 12h1M26 12h2M38 12h1M50 12h1M4 12h1M27 13h1M1 13h3M7 13h2M10 13h1M23 13h1M38 13h2M41 13h1M15 13h1M44 13h1M2 14h1M12 14h3M48 14h5M27 14h2M32 14h1M16 14h2M38 14h1M4 14h1M43 14h3M9 14h2M46 15h1M12 15h1M39 15h1M14 15h1M43 15h2M3 15h2M35 15h1M25 15h2M48 15h2M34 16h1M2 16h1M51 16h1M25 16h3M15 16h2M47 16h1M37 16h2M44 16h1M5 16h1M21 16h2M18 16h1M44 17h5M52 17h1M8 17h1M31 17h2M10 17h1M38 17h2M22 17h5M19 17h1M13 17h1M6 17h1M3 17h1M48 18h4M30 18h3M1 18h1M19 18h2M9 18h1M45 18h1M25 18h4M43 18h1M5 18h1M0 19h1M32 19h2M35 19h2M27 19h3M48 19h3M43 19h3M18 19h2M22 19h1M37 20h1M47 20h4M34 20h2M41 20h3M27 20h1M16 20h1M0 20h6M29 20h3M20 20h3M24 20h2M18 20h1M7 21h2M32 21h1M12 21h1M34 21h1M25 21h2M0 21h3M14 21h2M36 21h4M42 21h2M49 21h4M45 21h1M30 21h1M8 22h1M15 22h1M39 22h1M35 22h2M48 22h2M28 22h5M20 22h1M44 22h3M51 22h1M5 22h1M12 22h2M22 22h1M16 23h2M21 23h6M46 23h1M13 23h2M49 23h2M34 23h6M4 23h3M42 23h3M35 24h4M20 24h1M22 24h1M44 24h4M40 24h2M6 24h1M18 24h1M39 25h1M51 25h1M49 25h1M10 25h3M43 25h2M17 25h1M0 25h2M7 25h1M19 25h1M30 25h2M3 25h3M21 25h2M0 26h1M48 26h1M36 26h2M17 26h6M50 26h1M7 26h3M27 26h2M5 26h1M43 26h1M24 26h2M14 27h1M41 27h2M7 27h2M37 27h3M21 27h1M44 27h4M50 27h2M0 27h2M35 27h1M29 27h3M26 27h2M4 27h1M16 27h1M18 27h1M22 30h2M25 30h1M27 30h1M47 30h2M37 30h1M8 30h1M1 30h2M30 30h1M49 31h1M13 31h2M20 31h1M22 31h1M35 31h1M47 31h1M42 31h3M31 32h2M46 32h1M21 32h1M48 32h1M10 32h1M28 32h1M34 32h2M32 33h2M16 33h1M13 33h1M30 33h1M8 34h1M15 34h1M0 34h1M51 34h1M37 34h1M40 35h1M49 35h1M43 35h2M23 35h1M19 35h1M13 35h1M37 35h2M15 36h1M36 36h1M40 37h1M9 37h1M3 37h1M27 37h1M43 37h1"/>
<path stroke="#0c000e" d="M37 25h2M16 25h1M18 25h1M2 25h1M8 25h1M52 26h1M6 26h1M10 26h2M44 26h2M9 27h1M20 27h1M3 27h1M12 27h1"/>
<path stroke="#18001c" d="M20 19h2M5 19h1M30 19h1M23 19h2M16 19h1M36 20h1M23 20h1M32 20h1M44 21h1M48 21h1M41 21h1M4 21h1M34 22h1M40 22h1M21 22h1M27 22h1M45 23h1M31 23h1M42 24h1M50 24h1M11 24h2M5 24h1M34 24h1M2 24h1M0 24h1M21 24h1M17 24h1M7 24h1M19 24h1"/>
<path stroke="#24002a" d="M40 13h1M24 13h1M14 13h1M29 13h2M9 13h1M21 13h1M26 13h1M47 13h6M35 13h1M4 13h3M42 13h1M11 13h2M18 14h1M8 14h1M37 14h1M33 14h3M0 14h2M39 14h4M30 14h2M46 14h2M25 14h2M3 14h1M15 14h1M50 15h3M10 15h2M36 15h3M20 15h1M45 15h1M22 15h3M16 15h2M42 15h1M27 15h3M45 16h2M52 16h1M36 16h1M9 16h3M3 16h2M0 16h2M29 16h1M13 16h1M43 16h1M12 17h1M14 17h1M37 17h1M9 17h1M42 17h2M4 17h2M35 17h1M27 17h4M1 17h2M20 17h2M21 18h4M8 18h1M39 18h2M29 18h1M34 18h2M46 18h2M6 18h1M4 18h1M11 18h2M15 18h3"/>
<path stroke="#30003d" d="M32 11h1M22 11h1M46 11h2M25 11h2M16 11h1M30 11h1M8 11h1M34 11h3M38 11h7M19 11h2M11 12h1M21 12h5M19 12h1M7 12h1M13 12h1M40 12h2M3 12h1M36 12h2M48 12h2M28 12h1M43 12h1M34 12h1M51 12h1M31 12h2M9 12h1M26 30h1M38 30h2M28 30h2M20 30h2M49 30h2M31 30h5M46 30h1M24 30h1M3 30h5M0 30h1M52 30h1M9 30h10M41 30h4M4 31h9M38 31h4M23 31h3M27 31h4M17 31h3M15 31h1M33 31h2M50 31h3M36 31h1M21 31h1M48 31h1M37 32h3M11 32h10M33 32h1M41 32h2M24 32h3M4 32h6M47 32h1M50 32h2M30 32h1M44 32h1M44 33h9M14 33h2M0 33h13M39 33h2M20 33h7M17 33h1M34 33h4M28 33h2M33 34h4M39 34h3M16 34h13M45 34h5M1 34h6M30 34h1M9 34h6M14 35h5M20 35h3M29 35h1M2 35h11M32 35h2M50 35h3M0 35h1M39 35h1M45 35h2M35 35h2M24 35h3M41 35h2M48 35h1"/>
<path stroke="#45006f" d="M21 10h32M0 10h20"/>
<path stroke="#500089" d="M0 9h24M25 9h28M0 36h15M16 36h20M37 36h16"/>
<path stroke="#5a00a1" d="M9 8h40M50 8h3M0 8h8M10 37h17M4 37h5M28 37h12M44 37h9M41 37h2M0 37h3M18 40h1M49 40h1M39 41h1M26 41h1M35 41h1M29 42h1M11 42h1M6 44h1"/>
<path stroke="#5300b1" d="M3 7h50M0 7h2M12 40h1M39 40h1M22 40h1M28 40h2M6 40h1M36 41h1M49 41h1M32 41h1M19 41h1M13 41h1M12 42h2M39 43h1M26 43h1M23 43h1M42 43h1M34 44h2M39 47h1M44 48h1"/>
<path stroke="#4d00c1" d="M41 40h2M0 40h2M13 40h1M26 40h2M4 40h1M33 40h2M36 40h1M17 41h1M29 41h1M44 41h1M5 41h1M34 41h1M23 41h2M26 42h1M23 42h1M44 42h2M39 42h2M6 42h1M18 42h1M30 42h1M2 42h1M34 42h3M31 43h1M12 43h1M33 43h4M26 44h1M44 44h1M5 44h1M52 44h1M31 45h2M51 45h1M26 46h1M39 46h1M11 47h1M34 47h1M34 49h1M6 52h1"/>
<path stroke="#4600d1" d="M19 40h1M23 40h3M44 40h1M3 40h1M38 40h1M50 40h1M30 40h3M46 40h3M35 40h1M6 41h1M14 41h2M40 41h1M46 41h1M18 41h1M30 41h1M12 41h1M37 41h1M48 41h1M42 41h2M20 41h1M22 41h1M0 41h2M42 42h1M31 42h3M38 42h1M24 42h1M0 42h1M4 42h2M20 42h3M46 42h7M6 43h1M13 43h3M43 43h3M18 43h1M1 43h1M9 43h1M50 43h2M13 44h1M17 44h2M21 44h3M0 44h2M40 45h2M4 45h1M45 45h2M21 45h1M29 45h2M33 45h1M23 45h1M19 46h1M47 46h1M38 46h1M40 46h1M34 46h1M23 46h2M52 46h1M36 46h1M18 47h1M35 47h2M25 47h1M9 47h1M29 47h2M28 48h1M30 48h1M51 48h1M34 48h3M26 48h1M45 48h1M17 48h1M6 49h1M31 49h1M18 49h1M24 49h1M49 49h1M13 50h1M38 50h1M4 50h1M0 50h1M36 50h1M26 50h1M34 52h1M36 52h1M13 53h1"/>
<path stroke="#3f00e0" d="M5 40h1M15 40h3M40 40h1M2 40h1M37 40h1M20 40h1M43 40h1M27 41h1M33 41h1M3 41h2M47 41h1M31 41h1M50 41h1M38 41h1M16 41h1M14 42h3M1 42h1M19 42h1M43 42h1M8 42h2M30 43h1M46 43h1M2 43h1M52 43h1M49 43h1M8 43h1M10 43h1M20 43h1M4 43h2M22 43h1M37 43h2M16 43h1M12 44h1M51 44h1M47 44h2M2 44h3M45 44h1M33 44h1M30 44h2M36 44h4M8 44h2M52 45h1M14 45h1M34 45h3M48 45h1M9 45h3M26 45h3M38 45h2M0 45h2M7 45h1M44 45h1M3 45h1M50 45h1M16 45h1M5 46h1M2 46h1M16 46h3M51 46h1M33 46h1M11 46h1M44 46h2M35 46h1M41 46h1M31 46h1M37 47h1M45 47h1M23 47h1M19 47h1M13 47h1M40 47h2M47 47h1M50 47h1M46 48h1M24 48h1M38 48h3M1 48h1M42 48h2M22 48h1M11 48h3M29 48h1M18 48h2M36 49h1M23 49h1M45 49h1M33 49h1M19 49h1M12 49h2M43 50h3M11 50h2M1 50h1M35 50h1M6 50h1M15 50h1M35 51h2M6 51h2M49 51h1M13 51h1M44 51h1M38 51h1M43 52h1M18 53h1M34 53h1M39 53h1M45 53h2M26 53h1M6 53h1M31 53h1"/>
<path stroke="#2400ee" d="M14 40h1M2 41h1M37 42h1M10 42h1M7 42h1M27 42h1M21 43h1M17 43h1M19 43h1M0 43h1M47 43h2M19 44h2M10 44h1M50 44h1M46 44h1M14 44h1M17 45h3M47 45h1M24 45h2M5 45h1M2 45h1M8 45h1M3 46h2M32 46h1M7 46h3M42 46h1M50 46h1M14 46h2M30 46h1M25 46h1M26 47h1M43 47h2M33 47h1M38 47h1M28 47h1M51 47h1M14 47h4M12 47h1M21 48h1M10 48h1M23 48h1M41 48h1M31 48h3M15 48h1M2 48h1M0 48h1M47 48h2M26 49h1M43 49h2M32 49h1M50 49h2M22 49h1M35 49h1M0 49h2M47 49h1M8 49h2M28 49h3M39 49h3M33 50h1M49 50h3M18 50h2M30 50h2M46 50h2M28 50h1M39 50h1M22 50h4M21 51h1M42 51h2M45 51h1M11 51h1M0 51h2M51 51h2M26 51h2M18 51h1M34 51h1M23 51h2M26 52h1M33 52h1M35 52h1M49 52h2M12 52h1M29 53h2M1 53h1M11 53h1M17 53h1M19 53h1M38 53h1M52 53h1"/>
<path stroke="#0800fb" d="M17 42h1M16 44h1M20 45h1M22 45h1M37 46h1M28 46h2M7 47h1M42 47h1M2 47h2M24 47h1M31 47h2M10 47h1M3 48h1M49 48h2M14 48h1M37 48h1M9 48h1M42 49h1M37 49h2M14 49h2M4 49h1M46 49h1M2 49h1M10 49h2M21 49h1M40 50h2M16 50h1M20 50h2M5 50h1M34 50h1M27 50h1M7 50h2M48 50h1M10 50h1M2 51h2M50 51h1M30 51h1M12 51h1M32 51h2M8 51h1M19 51h2M15 51h2M22 51h1M39 51h2M23 52h3M27 52h4M17 52h5M39 52h1M10 52h2M7 52h2M48 52h1M13 52h2M4 52h2M0 52h2M51 52h2M47 53h1M14 53h2M43 53h1M49 53h2M12 53h1M32 53h2M0 53h1M35 53h2M20 53h3M29 54h1M6 54h1M34 54h1"/>
<path stroke="#0014ff" d="M20 46h1M48 49h1M32 50h1M42 50h1M2 50h2M5 51h1M25 51h1M14 51h1M37 51h1M48 51h1M10 51h1M28 51h1M2 52h1M45 52h1M22 52h1M32 52h1M42 52h1M38 52h1M51 53h1M8 53h1M48 53h1M27 53h2M3 53h3M5 54h1M32 54h2M0 54h1M39 54h1M35 54h2M41 54h2M26 54h3M11 54h3M44 54h3M34 55h3M26 55h1M29 55h1M41 55h1M12 55h2M31 55h1M44 55h1M50 55h1M34 56h1M39 56h1M36 56h1M49 56h1M6 56h1"/>
<path stroke="#0030ff" d="M37 45h1M10 46h1M20 49h1M3 49h1M14 50h1M17 51h1M4 51h1M3 52h1M15 52h1M7 53h1M42 53h1M2 53h1M1 54h1M8 54h3M3 54h2M30 54h2M47 54h1M37 54h2M15 54h1M43 54h1M50 54h3M8 55h1M42 55h2M11 55h1M27 55h2M0 55h2M45 55h3M6 55h1M30 55h1M32 55h2M39 55h1M52 55h1M41 56h2M29 56h2M33 56h1M23 56h1M11 56h3M44 56h2M35 56h1M47 56h1M26 56h2M50 56h3M34 63h1M12 65h1"/>
<path stroke="#004cff" d="M37 50h1M10 53h1M16 54h1M2 54h1M14 54h1M22 54h1M7 55h1M2 55h4M9 55h2M51 55h1M14 55h3M24 56h2M28 56h1M43 56h1M8 56h2M5 56h1M15 56h3M46 56h1M0 56h3M31 56h2M19 56h4M41 57h1M29 63h1M47 63h1M38 63h1M4 63h1M11 63h2M49 63h1M1 63h1M26 63h1M35 63h1M41 64h1M28 64h1M30 64h1M39 64h1M34 64h3M11 64h1M29 65h1M44 65h1M0 65h1M32 65h1M35 65h1"/>
<path stroke="#0068ff" d="M7 54h1M25 55h1M22 55h1M14 56h1M48 56h1M10 56h1M3 56h2M7 56h1M12 57h1M39 57h1M36 57h1M26 57h1M29 57h1M11 58h1M41 58h1M6 58h1M44 58h1M12 61h1M5 63h1M9 63h2M46 63h1M50 63h3M36 63h1M39 63h5M30 63h3M19 63h4M48 63h1M13 63h1M24 63h2M28 63h1M24 64h1M26 64h1M4 64h2M19 64h1M51 64h2M29 64h1M12 64h2M31 64h3M8 64h2M30 65h1M34 65h1M45 65h2M39 65h3M17 65h2M36 65h1M1 65h1M20 65h1M11 65h1M13 65h1M6 65h1M15 65h1M26 65h2M43 65h1"/>
<path stroke="#0089ff" d="M5 57h2M11 57h1M0 57h2M13 57h1M47 57h3M8 57h2M43 57h3M31 57h5M24 57h1M1 58h1M9 58h1M21 58h1M38 58h2M12 58h2M4 58h1M43 58h1M45 58h2M34 58h3M23 59h1M45 59h1M11 59h3M18 59h2M35 59h2M44 60h1M34 60h1M36 60h1M23 61h1M11 61h1M44 61h2M29 61h1M35 61h2M41 62h1M44 62h1M34 62h1M46 62h1M39 62h1M36 62h1M37 63h1M7 63h2M33 63h1M3 63h1M14 63h1M42 64h2M1 64h2M50 64h1M20 64h2M40 64h1M25 64h1M46 64h3M4 65h2M33 65h1M19 65h1M7 65h3M42 65h1M31 65h1M28 65h1M21 65h2M24 65h1M50 65h3M47 65h2"/>
<path stroke="#00abff" d="M42 57h1M15 57h1M19 57h3M38 57h1M4 57h1M46 57h1M19 58h1M47 58h1M5 58h1M32 58h2M0 58h1M14 58h1M37 58h1M7 58h2M51 59h2M42 59h3M15 59h1M28 59h1M4 59h1M21 59h2M6 59h4M30 59h5M46 59h3M1 59h1M17 59h1M35 60h1M29 60h1M6 60h1M31 60h3M43 60h1M11 60h2M49 60h2M27 60h1M45 60h2M52 60h1M21 60h4M8 60h1M46 61h2M31 61h1M15 61h1M8 61h2M4 61h1M33 61h2M39 61h1M49 61h1M21 61h1M41 61h2M27 61h2M17 61h1M29 62h1M13 62h1M18 62h2M42 62h1M38 62h1M49 62h2M23 62h2M8 62h1M26 62h1M32 62h1M45 62h1M11 62h1M2 63h1M7 64h1M3 64h1M22 64h1M2 65h2M16 65h1M25 65h1"/>
<path stroke="#00ceff" d="M16 57h1M14 57h1M37 57h1M7 57h1M48 58h1M10 58h1M15 58h2M42 58h1M31 58h1M5 59h1M0 59h1M27 59h1M14 59h1M37 59h1M2 59h2M50 59h1M28 60h1M2 60h4M14 60h4M9 60h2M51 60h1M47 60h2M42 60h1M16 61h1M5 61h1M2 61h1M14 61h1M32 61h1M50 61h2M24 61h2M38 61h1M12 62h1M47 62h2M9 62h1M21 62h1M27 62h2M33 62h1M17 62h1M51 62h2M35 62h1M30 62h2M15 62h1M3 62h3M6 66h1"/>
<path stroke="#00f0ff" d="M10 57h1M10 59h1M16 59h1M25 60h1M48 61h1M3 61h1M52 61h1M14 62h1M20 62h1M16 62h1M2 62h1M25 62h1M49 66h1M26 66h1M12 66h2M18 66h1M39 66h1M18 68h1M45 69h1M35 69h1M41 70h1"/>
<path stroke="#00fff1" d="M51 66h2M41 66h1M29 66h3M34 66h3M11 66h1M44 66h2M18 67h2M42 67h1M4 67h1M39 67h1M36 67h1M1 67h1M26 67h1M11 67h3M49 68h2M34 68h1M27 68h1M18 69h1M12 69h1M26 69h1M34 70h1M36 70h1M36 72h1"/>
<path stroke="#00ffda" d="M40 66h1M32 66h2M2 66h1M4 66h2M20 66h5M42 66h1M47 66h1M37 66h2M15 66h1M5 67h1M15 67h3M30 67h1M32 67h4M23 67h2M47 67h2M9 67h1M45 67h1M41 67h1M50 67h1M43 68h1M24 68h1M35 68h2M39 68h3M45 68h2M26 68h1M4 68h2M15 68h2M33 68h1M31 68h1M5 69h1M22 69h2M34 69h1M46 69h1M27 69h1M38 69h4M51 69h2M29 69h1M26 70h2M29 70h2M5 70h2M44 70h2M35 70h1M39 70h2M34 71h1M36 71h1M41 71h1M6 71h1M44 71h1M37 72h1M11 72h1M44 72h2M34 72h2M23 73h2M36 73h1M29 73h1M35 74h1M44 74h1"/>
<path stroke="#00ffc2" d="M9 66h1M1 66h1M48 66h1M17 66h1M19 66h1M3 66h1M50 66h1M49 67h1M20 67h1M10 67h1M31 67h1M40 67h1M2 67h1M47 68h2M1 68h1M23 68h1M19 68h1M12 68h1M21 69h1M7 69h1M36 69h2M24 69h1M2 69h1M8 70h1M42 70h2M22 70h1M0 70h2M50 70h1M12 70h1M31 71h2M4 71h2M11 71h3M35 71h1M29 71h1M49 71h2M39 71h1M21 72h1M23 72h1M27 72h2M41 72h1M12 72h2M50 72h1M8 72h2M32 72h2M49 73h1M43 73h2M18 73h2M34 73h2M11 73h2M45 74h1M23 74h1M11 74h3M29 74h1M42 74h1M36 74h1M18 74h1M34 74h1"/>
<path stroke="#00ffaa" d="M7 66h1M16 66h1M10 66h1M3 67h1M42 68h1M2 68h2M30 68h1M14 68h1M10 68h1M20 68h1M17 68h1M30 69h2M3 69h1M50 69h1M47 69h2M1 69h1M19 69h2M42 69h2M33 69h1M15 69h2M2 70h2M31 70h1M38 70h1M9 70h2M20 70h1M37 71h2M3 71h1M30 71h1M7 71h4M45 71h1M27 71h2M33 71h1M7 72h1M17 72h3M31 72h1M46 72h4M5 72h1M2 72h1M52 72h1M0 73h2M13 73h1M8 73h2M50 73h3M45 73h4M3 73h2M33 73h1M22 73h1M51 74h2M19 74h1M30 74h2M46 74h2M16 74h1M43 74h1M5 74h1M21 74h2M0 74h1M24 74h1M38 74h3M49 74h1M8 74h3M36 75h1M45 76h1"/>
<path stroke="#00ff92" d="M10 69h1M33 70h1M7 70h1M2 71h1M16 72h1M51 72h1M3 72h2M29 72h1M20 73h2M5 73h1M2 73h1M14 73h1M16 73h2M7 73h1M31 73h1M3 74h1M1 74h1M20 74h1M33 74h1M17 74h1M6 74h1M15 74h1M50 74h1M11 75h1M29 75h1M31 75h1M35 78h1"/>
<path stroke="#00ff72" d="M14 69h1M37 70h1M14 74h1M48 74h1M7 74h1M4 74h1M2 74h1M25 74h1M8 75h1M5 75h2M33 75h1M23 75h1M45 75h1M0 75h2M13 75h1M15 75h1M40 75h3M52 75h1M32 76h1M18 76h1M13 77h1M50 77h1M43 77h1M26 78h1M6 78h1M44 78h1M39 78h1M0 79h1"/>
<path stroke="#00ff52" d="M14 72h1M35 75h1M7 75h1M17 75h3M28 75h1M46 75h1M12 75h1M14 75h1M37 75h1M27 76h4M7 76h3M12 76h2M15 76h1M4 76h1M23 76h2M36 76h1M41 76h2M1 76h1M33 76h1M21 77h3M34 77h2M30 77h1M46 77h1M12 77h1M27 77h1M52 77h1M47 78h1M12 78h2M34 78h1M25 78h1M6 79h1M12 79h1M26 79h1M17 79h1M35 80h1M44 80h1M41 81h1"/>
<path stroke="#00ff31" d="M50 75h1M9 75h2M30 75h1M2 75h3M47 75h2M20 75h1M32 75h1M22 75h1M24 75h2M40 76h1M46 76h1M0 76h1M52 76h1M14 76h1M19 76h2M17 76h1M35 76h1M37 76h2M3 76h1M32 77h2M49 77h1M51 77h1M8 77h1M37 77h1M26 77h1M10 77h1M3 77h2M44 77h2M29 77h1M17 77h3M47 77h1M50 78h1M4 78h1M0 78h1M17 78h2M33 78h1M28 78h2M34 79h1M27 79h1M52 79h1M49 79h1M9 79h1M11 79h1M44 79h1M11 80h2M50 80h2M41 80h1M49 81h1M32 81h1M13 81h1"/>
<path stroke="#00ff10" d="M21 75h1M38 75h1M27 75h1M47 76h1M50 76h1M21 76h2M2 76h1M9 77h1M48 77h1M20 77h1M15 77h2M7 77h1M24 77h2M28 77h1M38 77h3M0 77h3M30 78h3M1 78h3M49 78h1M21 78h1M8 78h3M51 78h2M19 78h1M38 78h1M43 78h1M40 78h1M46 78h1M24 78h1M27 78h1M29 79h2M1 79h1M45 79h1M33 79h1M13 79h1M15 79h1M18 79h1M38 79h3M35 79h2M49 80h1M13 80h2M31 80h4M36 80h2M43 80h1M39 80h1M27 80h1M17 80h2M21 81h1M23 81h1M43 81h2M0 81h2M50 81h1M11 81h2M34 81h1M49 82h1M8 82h1M45 82h2M41 82h1M19 82h1M31 82h1M24 82h1M39 82h1M35 82h2"/>
<path stroke="#0dff00" d="M5 76h1M25 76h1M10 76h1M14 77h1M22 78h1M14 78h2M48 78h1M20 78h1M45 78h1M50 79h2M46 79h2M31 79h1M3 79h3M24 79h1M14 79h1M21 79h1M7 79h2M42 79h2M10 79h1M19 80h1M47 80h1M40 80h1M0 80h7M15 81h6M31 81h1M35 81h5M46 81h1M10 81h1M3 81h2M32 82h1M28 82h2M47 82h1M6 82h1M44 82h1M4 82h1M14 82h2M18 82h1M22 82h2M34 82h1M20 82h1M11 82h1"/>
<path stroke="#26ff00" d="M48 76h1M37 78h1M25 79h1M32 79h1M19 79h1M38 80h1M30 80h1M46 80h1M21 80h1M26 80h1M8 80h3M8 81h2M40 81h1M2 81h1M51 81h1M5 81h2M33 81h1M22 81h1M47 81h1M38 82h1M30 82h1M50 82h3M25 82h1M1 82h1M21 82h1M10 82h1M42 82h1M12 82h2"/>
<path stroke="#3fff00" d="M7 78h1M37 79h1M22 79h1M2 79h1M15 80h1M30 81h1M37 82h1M9 82h1M17 82h1M43 82h1M5 82h1M40 82h1M0 82h1M2 82h1M34 83h1M29 84h1"/>
<path stroke="#59ff00" d="M22 80h1M14 81h1M7 82h1M3 82h1M48 82h1M33 82h1M32 83h1M29 83h1M13 83h1M11 83h1M5 83h1M39 83h1M35 83h2"/>
<path stroke="#72ff00" d="M16 82h1M44 83h3M38 83h1M4 83h1M18 83h1M49 83h1M23 83h1M33 83h1M42 83h1M6 83h1M31 83h1M5 84h1M12 84h1M39 84h1M35 84h1"/>
<path stroke="#8cff00" d="M47 83h2M27 83h2M0 83h2M19 83h1M14 83h4M43 83h1M8 83h2M24 83h1M30 83h1M50 83h3M36 84h1M1 84h1M43 84h2M23 84h1M49 84h3M6 84h1M46 84h2M31 84h3M15 84h1"/>
<path stroke="#a2ff00" d="M7 83h1M40 83h2M2 83h2M12 83h1M25 83h1M37 83h1M10 83h1M20 83h3M13 84h1M19 84h3M7 84h5M38 84h1M30 84h1M40 84h3M34 84h1M24 84h1M27 84h1M45 84h1M44 85h1"/>
<path stroke="#b8ff00" d="M28 84h1M4 84h1M16 84h3M25 84h1M14 84h1M37 84h1M48 84h1M49 85h1M35 85h1M11 86h1"/>
<path stroke="#ceff00" d="M22 84h1M2 84h2M45 85h1M41 85h1M15 85h1M4 85h3M11 85h2"/>
<path stroke="#e4ff00" d="M29 85h1M50 85h1M26 85h2M46 85h1M17 85h2M37 85h3M35 86h1M12 86h1M39 86h1M49 86h1M31 86h2M26 86h1"/>
<path stroke="#faff00" d="M31 85h1M43 85h1M40 85h1M23 85h2M8 85h3M33 85h1M2 85h2M47 85h1M18 86h1M34 86h1M0 86h1M27 86h1M45 86h2M8 86h1M41 86h2M23 86h1M29 86h1"/>
<path stroke="#fff100" d="M25 85h1M14 85h1M19 85h2M1 85h1M48 85h1M32 85h1M22 85h1M42 85h1M34 85h1M43 86h2M33 86h1M17 86h1M3 86h2M19 86h1M47 86h1M15 86h1M50 86h1M38 86h1M9 86h2M40 86h1"/>
<path stroke="#ffdf00" d="M5 86h2M22 86h1M24 86h2M52 86h1M14 86h1M1 86h1M37 86h1M20 86h1"/>
<path stroke="#ffce00" d="M48 86h1"/>
<path stroke="#ffbc00" d="M2 86h1"/></g><g fill="none" transform="translate(.5 0)"><path stroke="#000000" d="M45 11v2M33 11v2M36 13v2M36 17v2M41 17v3M38 18v2M7 18v3M11 19v2M10 21v2M1 23v2M52 23v2M28 24v2M33 24v3M41 25v2"/>
<path stroke="#0c000e" d="M35 25v2M40 25v3"/>
<path stroke="#24002a" d="M5 14v2M40 15v2M7 15v2M17 16v2M50 16v2"/>
<path stroke="#5300b1" d="M45 40v2M41 41v2"/>
<path stroke="#4d00c1" d="M21 40v2M11 40v2M51 40v2M8 40v2M41 43v2M49 44v2"/>
<path stroke="#4600d1" d="M52 40v2M28 41v2M29 43v2M40 43v2M27 43v2M11 43v2M32 43v2M15 44v2M43 44v3M6 45v2M49 46v2"/>
<path stroke="#3f00e0" d="M7 40v2M25 41v2M24 43v2M28 43v2M42 44v2M6 47v2M4 47v2M27 46v4M52 49v2M17 49v2M29 50v2M41 51v3"/>
<path stroke="#2400ee" d="M3 42v2M25 43v2M46 46v2M8 47v2M5 47v3M31 51v2M47 51v2M9 50v4M44 52v2M40 52v2"/>
<path stroke="#0800fb" d="M7 43v2M52 47v2M20 47v2M25 48v2M46 51v2M49 54v2"/>
<path stroke="#0014ff" d="M48 46v2M7 48v2M16 48v2M16 52v2M18 54v3"/>
<path stroke="#0030ff" d="M37 52v2M25 53v2M21 54v2M17 54v2M19 54v2"/>
<path stroke="#004cff" d="M48 54v2M20 54v2M40 54v3M6 63v2M18 63v2M23 63v3"/>
<path stroke="#0068ff" d="M23 57v2M0 63v2M49 64v2"/>
<path stroke="#0089ff" d="M49 58v2M29 58v2M41 59v2M39 59v2M26 58v4M13 60v2M18 60v2M6 61v2M27 63v2M38 64v2"/>
<path stroke="#00abff" d="M30 57v2M2 57v2M24 58v2M40 57v4M38 59v2M14 64v2M37 64v2M10 64v2"/>
<path stroke="#00ceff" d="M22 57v2M3 57v2M25 57v3M20 58v2M30 60v2M43 61v2M40 61v2"/>
<path stroke="#00f0ff" d="M37 60v3M7 60v3M10 61v2M22 61v2"/>
<path stroke="#00fff1" d="M8 66v2M29 67v2M6 67v3M44 67v3"/>
<path stroke="#00ffda" d="M27 66v2M21 67v2M0 66v4M11 68v3M13 68v3M49 69v2M18 70v2M21 70v2M23 70v2M15 70v2M26 71v2M41 73v2"/>
<path stroke="#00ffc2" d="M43 66v2M46 66v2M25 66v2M14 66v2M28 66v5M32 68v3M4 69v2M17 69v3M19 70v2M25 70v2M1 71v2M43 71v2M6 72v2M30 72v2M26 73v2M32 73v2"/>
<path stroke="#00ffaa" d="M22 67v2M25 68v2M16 70v2M14 70v2M24 70v3M0 71v2M42 71v3M40 71v3M15 72v2"/>
<path stroke="#00ff92" d="M7 67v2M48 70v2M20 71v2M22 71v2M25 72v2M10 72v2M37 73v2M34 75v2M39 75v2M6 76v2"/>
<path stroke="#00ff72" d="M49 75v2M26 75v2M11 76v3"/>
<path stroke="#00ff52" d="M44 75v2M51 75v2M41 77v3"/>
<path stroke="#00ff31" d="M43 75v2M23 78v3M45 80v2"/>
<path stroke="#00ff10" d="M16 75v2M31 76v2M36 77v2M5 77v2M20 79v2M52 80v2M29 80v2M25 80v2"/>
<path stroke="#0dff00" d="M42 77v2M28 79v3M42 80v2M26 81v2"/>
<path stroke="#26ff00" d="M16 78v3M24 80v2M27 81v2"/>
<path stroke="#3fff00" d="M48 79v3M7 80v2"/>
<path stroke="#59ff00" d="M26 83v2"/>
<path stroke="#ceff00" d="M52 84v2M0 84v2"/>
<path stroke="#faff00" d="M36 85v2M51 85v2M21 85v2M13 85v2"/>
<path stroke="#fff100" d="M7 85v2M28 85v2M30 85v2"/>
<path stroke="#ffdf00" d="M16 85v2"/></g></pattern><rect x="378" y="473" width="324" height="87" fill="url(#t5b)"/>
<g></g><g fill="none" transform="translate(.5 0)"><path stroke="#ffce00" d="M130 552v8"/>
<path stroke="#ffab00" d="M131 552v8"/>
<path stroke="#ff9900" d="M132 552v8"/>
<path stroke="#ff8700" d="M133 552v8"/></g>
<g><path fill="#000000" d="M251 560h3v8h-3zM264 560h3v8h-3zM309 560h2v8h-2zM676 560h3v8h-3zM151 560h2v8h-2zM257 560h3v8h-3zM422 560h2v8h-2zM557 560h2v8h-2zM240 568h3v18h-3zM338 568h11v18h-11zM174 568h5v18h-5zM599 568h4v18h-4zM605 568h16v18h-16zM543 568h27v18h-27zM292 568h7v18h-7zM399 568h8v18h-8zM204 568h2v18h-2zM366 568h7v18h-7zM443 568h13v18h-13zM208 568h8v18h-8zM120 568h4v18h-4zM282 568h8v18h-8zM409 568h7v18h-7zM377 568h17v18h-17zM232 568h3v18h-3zM250 568h4v18h-4zM129 568h3v18h-3zM304 568h5v18h-5zM180 568h5v18h-5zM244 568h2v18h-2zM134 568h7v18h-7zM261 568h3v18h-3zM125 568h3v18h-3zM271 568h8v18h-8zM628 568h41v18h-41zM671 568h31v18h-31zM374 568h2v18h-2zM623 568h2v18h-2zM491 568h49v18h-49zM110 568h9v18h-9zM316 568h7v18h-7zM164 568h3v18h-3zM150 568h3v18h-3zM190 568h2v18h-2zM95 568h10v18h-10zM417 568h23v18h-23zM352 568h11v18h-11zM333 568h3v18h-3zM457 568h31v18h-31zM571 568h8v18h-8zM156 568h3v18h-3zM219 568h3v18h-3zM581 568h16v18h-16zM311 568h4v18h-4zM396 568h2v35h-2zM661 586h2v17h-2zM477 586h4v17h-4zM563 586h3v17h-3zM437 586h2v17h-2zM467 620h4v18h-4zM103 620h2v18h-2zM502 620h8v18h-8zM95 620h2v18h-2zM519 620h3v18h-3zM621 620h2v18h-2zM228 620h3v18h-3zM422 620h2v18h-2zM141 620h3v18h-3zM269 620h2v18h-2zM244 620h2v18h-2zM162 620h2v18h-2z"/>
<path fill="#0c000e" d="M206 568h2v18h-2zM394 568h2v18h-2zM264 568h3v18h-3zM330 568h2v18h-2zM141 568h3v18h-3zM153 568h3v18h-3z"/>
<path fill="#18001c" d="M519 586h3v17h-3zM552 586h3v17h-3z"/>
<path fill="#24002a" d="M294 586h21v17h-21zM663 586h10v17h-10zM177 586h2v17h-2zM185 586h51v17h-51zM591 586h3v17h-3zM377 586h19v17h-19zM471 586h6v17h-6zM645 586h15v17h-15zM354 586h7v17h-7zM529 586h17v17h-17zM488 586h30v17h-30zM374 586h2v17h-2zM329 586h3v17h-3zM596 586h4v17h-4zM410 586h2v17h-2zM557 586h6v17h-6zM547 586h5v17h-5zM676 586h24v17h-24zM570 586h19v17h-19zM322 586h6v17h-6zM481 586h6v17h-6zM280 586h13v17h-13zM447 586h5v17h-5zM429 586h5v17h-5zM333 586h20v17h-20zM422 586h2v17h-2zM316 586h3v17h-3zM164 586h10v17h-10zM417 586h4v17h-4zM628 586h4v17h-4zM522 586h6v17h-6zM95 586h58v17h-58zM398 586h5v17h-5zM237 586h31v17h-31zM363 586h10v17h-10zM156 586h6v17h-6zM639 586h4v17h-4zM404 586h3v17h-3zM456 586h12v17h-12zM269 586h7v17h-7zM439 586h6v17h-6zM180 586h3v17h-3zM601 586h22v17h-22z"/>
<path fill="#3a0056" d="M603 568h2v18h-2zM269 568h2v18h-2zM621 568h2v18h-2zM625 586h3v17h-3zM445 586h2v17h-2zM153 586h3v17h-3zM174 586h3v17h-3zM319 586h3v17h-3zM361 586h2v17h-2zM594 586h2v17h-2zM673 586h3v17h-3zM162 586h2v17h-2zM567 586h3v17h-3zM183 586h2v17h-2zM468 586h3v17h-3zM276 586h3v17h-3zM632 586h5v17h-5zM589 586h2v17h-2zM452 586h4v17h-4z"/>
<path fill="#45006f" d="M276 560h3v8h-3zM359 560h5v8h-5zM589 560h2v8h-2zM324 560h2v8h-2zM364 568h2v18h-2zM336 568h2v18h-2zM488 568h3v18h-3zM187 568h3v18h-3zM228 568h3v18h-3zM669 568h2v18h-2zM160 568h4v18h-4zM540 568h3v18h-3zM579 568h2v18h-2zM430 620h3v18h-3zM354 620h3v18h-3zM187 620h3v18h-3zM661 620h2v18h-2zM491 620h2v18h-2zM567 620h3v18h-3zM684 620h3v18h-3zM471 620h3v18h-3z"/>
<path fill="#500089" d="M290 568h2v18h-2zM440 568h3v18h-3zM105 568h3v18h-3zM192 568h3v18h-3zM167 568h4v18h-4zM597 568h2v18h-2zM132 568h2v18h-2zM216 568h3v18h-3zM407 568h2v18h-2z"/>
<path fill="#5a00a1" d="M324 568h2v18h-2zM145 568h3v18h-3zM309 568h2v18h-2zM201 568h3v18h-3zM280 568h2v18h-2zM302 568h2v18h-2zM563 603h3v17h-3z"/>
<path fill="#5300b1" d="M625 568h3v18h-3zM171 568h3v18h-3zM454 603h2v17h-2zM519 603h3v17h-3zM535 603h3v17h-3zM129 603h3v17h-3zM450 603h2v17h-2zM504 603h3v17h-3zM386 603h3v17h-3zM658 603h2v17h-2zM563 620h3v18h-3z"/>
<path fill="#4d00c1" d="M299 568h3v18h-3zM271 603h5v17h-5zM319 603h3v17h-3zM244 603h2v17h-2zM491 603h2v17h-2zM181 603h2v17h-2zM673 603h3v17h-3zM293 603h4v17h-4zM605 603h3v17h-3zM103 603h2v17h-2zM283 603h7v17h-7zM354 603h3v17h-3zM552 603h3v17h-3zM482 603h2v17h-2zM513 603h2v17h-2zM251 603h3v17h-3zM437 603h2v17h-2zM543 603h3v17h-3zM661 603h2v17h-2zM654 603h3v17h-3zM523 603h2v17h-2zM210 603h3v17h-3zM556 603h3v17h-3zM645 603h6v17h-6zM502 603h2v17h-2z"/>
<path fill="#4600d1" d="M349 568h2v18h-2zM148 568h2v18h-2zM224 568h3v18h-3zM547 603h3v17h-3zM389 603h5v17h-5zM233 603h2v17h-2zM190 603h2v17h-2zM264 603h3v17h-3zM452 603h2v17h-2zM572 603h2v17h-2zM567 603h3v17h-3zM371 603h2v17h-2zM311 603h2v17h-2zM120 603h2v17h-2zM641 603h2v17h-2zM240 603h3v17h-3zM338 603h11v17h-11zM134 603h2v17h-2zM612 603h2v17h-2zM464 603h2v17h-2zM525 603h4v17h-4zM352 603h2v17h-2zM246 603h2v17h-2zM485 603h2v17h-2zM632 603h2v17h-2zM409 603h3v17h-3zM125 603h3v17h-3zM174 603h3v17h-3zM666 603h3v17h-3zM560 603h3v17h-3zM679 603h5v17h-5zM213 603h2v17h-2zM208 603h2v17h-2zM110 603h9v17h-9zM434 603h3v17h-3zM95 603h4v17h-4zM477 603h3v17h-3zM361 603h3v17h-3zM577 603h2v17h-2zM454 620h2v18h-2zM367 620h4v18h-4zM535 620h3v18h-3zM386 620h3v18h-3z"/>
<path fill="#3f00e0" d="M246 568h2v18h-2zM254 568h2v18h-2zM313 603h2v17h-2zM227 603h6v17h-6zM418 603h6v17h-6zM139 603h2v17h-2zM167 603h4v17h-4zM614 603h3v17h-3zM439 603h8v17h-8zM538 603h2v17h-2zM377 603h7v17h-7zM305 603h3v17h-3zM594 603h2v17h-2zM493 603h2v17h-2zM261 603h3v17h-3zM122 603h2v17h-2zM254 603h3v17h-3zM664 603h2v17h-2zM302 603h2v17h-2zM530 603h2v17h-2zM162 603h2v17h-2zM629 603h2v17h-2zM357 603h4v17h-4zM132 603h2v17h-2zM206 603h2v17h-2zM430 603h3v17h-3zM396 603h2v17h-2zM676 603h3v17h-3zM671 603h2v17h-2zM216 603h3v17h-3zM336 603h2v17h-2zM280 603h3v17h-3zM468 603h3v17h-3zM497 603h2v17h-2zM187 603h3v17h-3zM550 603h2v17h-2zM687 603h2v17h-2zM269 603h2v17h-2zM309 603h2v17h-2zM692 603h5v17h-5zM621 603h2v17h-2zM332 603h3v17h-3zM510 603h3v17h-3zM584 603h4v17h-4zM579 603h3v17h-3zM404 603h3v17h-3zM673 620h3v18h-3zM374 620h2v18h-2zM658 620h2v18h-2zM552 620h3v18h-3zM543 620h3v18h-3zM582 620h2v18h-2zM129 620h3v18h-3zM450 620h2v18h-2zM513 620h2v18h-2zM589 620h4v18h-4z"/>
<path fill="#2400ee" d="M430 560h3v8h-3zM658 560h2v8h-2zM454 560h2v8h-2zM145 560h3v8h-3zM195 568h3v18h-3zM407 586h3v17h-3zM412 586h2v17h-2zM425 586h2v17h-2zM415 586h2v17h-2zM434 586h3v17h-3zM237 603h2v17h-2zM195 603h3v17h-3zM488 603h3v17h-3zM248 603h2v17h-2zM634 603h3v17h-3zM515 603h3v17h-3zM290 603h2v17h-2zM224 603h2v17h-2zM407 603h2v17h-2zM684 603h3v17h-3zM141 603h3v17h-3zM603 603h2v17h-2zM373 603h3v17h-3zM459 603h2v17h-2zM427 603h2v17h-2zM153 603h3v17h-3zM532 603h2v17h-2zM618 603h3v17h-3zM145 603h3v17h-3zM367 603h3v17h-3zM324 603h2v17h-2zM588 603h6v17h-6zM597 603h2v17h-2zM482 620h2v18h-2zM437 620h2v18h-2zM645 620h12v18h-12zM164 620h3v18h-3zM283 620h3v18h-3zM399 620h3v18h-3zM287 620h3v18h-3zM271 620h5v18h-5zM697 620h2v18h-2zM605 620h3v18h-3zM219 620h3v18h-3zM557 620h2v18h-2zM639 620h2v18h-2zM523 620h2v18h-2z"/>
<path fill="#0800fb" d="M248 568h2v18h-2zM582 603h2v17h-2zM257 603h3v17h-3zM669 603h2v17h-2zM471 603h3v17h-3zM639 603h2v17h-2zM697 603h2v17h-2zM540 603h3v17h-3zM164 603h3v17h-3zM399 603h3v17h-3zM651 603h3v17h-3zM364 603h2v17h-2zM219 603h3v17h-3zM100 603h2v35h-2zM457 620h2v18h-2zM666 620h3v18h-3zM641 620h3v18h-3zM345 620h4v18h-4zM210 620h3v18h-3zM681 620h3v18h-3zM612 620h2v18h-2zM474 620h6v18h-6zM371 620h2v18h-2zM174 620h3v18h-3zM181 620h2v18h-2zM250 620h4v18h-4zM560 620h3v18h-3zM294 620h3v18h-3z"/>
<path fill="#0014ff" d="M474 603h3v17h-3zM412 603h2v17h-2zM151 603h2v17h-2zM105 603h4v17h-4zM330 603h2v17h-2zM447 603h2v17h-2zM183 603h2v35h-2zM276 603h3v35h-3zM125 620h3v18h-3zM389 620h2v18h-2zM115 620h2v18h-2zM548 620h2v18h-2zM452 620h2v18h-2zM572 620h2v18h-2zM134 620h2v18h-2zM361 620h3v18h-3zM577 620h2v18h-2zM410 620h2v18h-2zM292 620h2v18h-2zM264 620h3v18h-3zM190 620h2v18h-2zM120 620h2v18h-2zM240 620h3v18h-3zM208 620h2v18h-2zM447 620h3v18h-3zM110 620h3v18h-3zM679 620h2v18h-2zM97 620h2v18h-2zM485 620h2v18h-2zM213 620h2v18h-2zM525 620h3v18h-3z"/>
<path fill="#0030ff" d="M257 568h3v18h-3zM237 568h2v18h-2zM316 603h3v17h-3zM148 603h2v17h-2zM171 603h3v17h-3zM192 603h3v17h-3zM201 603h3v17h-3zM299 603h3v17h-3zM425 603h2v17h-2zM499 603h3v17h-3zM206 620h2v18h-2zM254 620h3v18h-3zM550 620h2v18h-2zM338 620h7v18h-7zM464 620h2v18h-2zM632 620h2v18h-2zM319 620h3v18h-3zM695 620h2v18h-2zM105 620h4v18h-4zM113 620h2v18h-2zM233 620h2v18h-2zM297 620h2v18h-2zM279 620h4v18h-4zM391 620h3v18h-3zM261 620h3v18h-3zM151 620h2v18h-2zM434 620h3v18h-3zM493 620h2v18h-2zM122 620h2v18h-2zM216 620h3v18h-3zM443 620h2v18h-2zM246 620h2v18h-2zM538 620h2v18h-2zM497 620h2v18h-2zM535 638h3v9h-3zM519 638h3v9h-3zM504 638h3v9h-3zM563 638h3v9h-3zM386 638h3v9h-3zM454 638h2v9h-2zM367 638h4v9h-4z"/>
<path fill="#004cff" d="M660 560h11v8h-11zM228 560h23v8h-23zM298 560h11v8h-11zM311 560h13v8h-13zM267 560h9v8h-9zM287 560h10v8h-10zM468 560h16v8h-16zM577 560h12v8h-12zM364 560h21v8h-21zM260 560h4v8h-4zM425 560h5v8h-5zM433 560h21v8h-21zM100 560h18v8h-18zM386 560h36v8h-36zM681 560h8v8h-8zM326 560h25v8h-25zM485 560h23v8h-23zM352 560h7v8h-7zM280 560h6v8h-6zM690 560h12v8h-12zM182 560h45v8h-45zM672 560h4v8h-4zM148 560h3v8h-3zM254 560h3v8h-3zM120 560h25v8h-25zM456 560h10v8h-10zM559 560h17v8h-17zM591 560h67v8h-67zM509 560h48v8h-48zM153 560h28v8h-28zM160 603h2v17h-2zM625 603h3v17h-3zM418 620h3v18h-3zM445 620h2v18h-2zM614 620h3v18h-3zM412 620h2v18h-2zM499 620h3v18h-3zM171 620h3v18h-3zM687 620h2v18h-2zM148 620h2v18h-2zM664 620h2v18h-2zM167 620h2v18h-2zM676 620h3v18h-3zM359 620h2v18h-2zM510 620h3v18h-3zM594 620h2v18h-2zM132 620h2v18h-2zM380 620h3v18h-3zM585 620h3v18h-3zM231 620h2v18h-2zM404 620h3v18h-3zM673 638h3v9h-3zM450 638h2v9h-2zM374 638h2v9h-2zM513 638h2v9h-2zM543 638h3v9h-3zM658 638h2v9h-2zM502 638h2v9h-2z"/>
<path fill="#0068ff" d="M349 603h2v17h-2zM692 620h3v18h-3zM153 620h3v18h-3zM357 620h2v18h-2zM618 620h3v18h-3zM139 620h2v18h-2zM377 620h3v18h-3zM396 620h2v18h-2zM488 620h3v18h-3zM634 620h2v18h-2zM201 620h3v18h-3zM330 620h2v18h-2zM532 620h2v18h-2zM192 620h3v18h-3zM459 620h2v18h-2zM169 620h2v18h-2zM629 620h2v18h-2zM311 620h2v18h-2zM516 620h2v18h-2zM439 620h4v18h-4zM579 620h2v18h-2zM482 638h2v9h-2zM294 638h3v9h-3zM437 638h2v9h-2zM287 638h3v9h-3zM645 638h12v9h-12zM639 638h2v9h-2zM523 638h2v9h-2zM272 638h4v9h-4zM471 638h3v9h-3zM661 638h2v9h-2zM697 638h2v9h-2zM283 638h3v9h-3zM244 638h2v9h-2zM164 638h3v9h-3zM399 638h3v9h-3zM491 638h2v9h-2zM181 638h2v9h-2zM605 638h3v9h-3zM354 638h3v9h-3zM219 638h3v9h-3z"/>
<path fill="#0089ff" d="M145 620h3v18h-3zM237 620h2v18h-2zM407 620h2v18h-2zM290 620h2v18h-2zM309 620h2v18h-2zM333 620h3v18h-3zM316 620h3v18h-3zM159 620h3v18h-3zM425 620h2v18h-2zM224 620h2v18h-2zM195 620h3v18h-3zM250 638h4v9h-4zM457 638h2v9h-2zM174 638h3v9h-3zM447 638h3v9h-3zM623 638h2v9h-2zM552 638h3v9h-3zM345 638h4v9h-4zM210 638h4v9h-4zM190 638h2v9h-2zM681 638h3v9h-3zM183 638h2v9h-2zM410 638h2v9h-2zM641 638h2v9h-2zM276 638h3v9h-3zM612 638h2v9h-2zM525 638h4v9h-4zM589 638h4v9h-4zM474 638h6v9h-6zM556 638h3v9h-3zM582 638h2v9h-2zM371 638h2v9h-2zM666 638h3v9h-3z"/>
<path fill="#00abff" d="M336 620h2v18h-2zM248 620h2v18h-2zM625 620h3v18h-3zM603 620h2v18h-2zM427 620h2v18h-2zM540 620h3v18h-3zM313 620h2v18h-2zM597 620h2v18h-2zM299 620h5v18h-5zM305 620h3v18h-3zM151 638h2v9h-2zM497 638h2v9h-2zM233 638h2v9h-2zM297 638h2v9h-2zM452 638h2v9h-2zM679 638h2v9h-2zM389 638h5v9h-5zM338 638h7v9h-7zM241 638h2v9h-2zM464 638h2v9h-2zM485 638h2v9h-2zM632 638h2v9h-2zM261 638h6v9h-6zM560 638h3v9h-3zM319 638h3v9h-3zM246 638h2v9h-2zM208 638h2v9h-2zM538 638h2v9h-2zM493 638h2v9h-2zM361 638h3v9h-3z"/>
<path fill="#00ceff" d="M349 620h2v18h-2zM257 620h3v18h-3zM669 620h2v18h-2zM324 620h2v18h-2zM364 620h2v18h-2zM148 638h2v9h-2zM171 638h3v9h-3zM443 638h2v9h-2zM621 638h2v9h-2zM227 638h6v9h-6zM254 638h3v9h-3zM547 638h3v9h-3zM614 638h3v9h-3zM434 638h3v9h-3zM206 638h2v9h-2zM412 638h2v9h-2zM664 638h2v9h-2zM216 638h3v9h-3zM359 638h2v9h-2zM280 638h3v9h-3zM418 638h3v9h-3zM187 638h3v9h-3zM499 638h3v9h-3zM687 638h2v9h-2zM269 638h2v9h-2zM510 638h3v9h-3zM330 638h2v9h-2zM404 638h3v9h-3zM422 638h2v9h-2zM311 638h2v9h-2zM467 638h4v9h-4z"/>
<path fill="#00f0ff" d="M430 638h3v9h-3zM577 638h2v9h-2zM115 638h2v9h-2zM103 638h2v9h-2zM488 638h3v9h-3zM162 638h2v9h-2zM515 638h3v9h-3zM629 638h2v9h-2zM572 638h2v9h-2zM396 638h2v9h-2zM676 638h3v9h-3zM567 638h3v9h-3zM671 638h2v9h-2zM110 638h3v9h-3zM95 638h2v9h-2zM357 638h2v9h-2zM692 638h3v9h-3zM459 638h2v9h-2zM167 638h4v9h-4zM445 638h2v9h-2zM153 638h3v9h-3zM532 638h2v9h-2zM684 638h3v9h-3zM618 638h3v9h-3zM201 638h3v9h-3zM100 638h2v9h-2zM192 638h3v9h-3zM139 638h2v9h-2zM129 638h3v9h-3zM333 638h2v9h-2zM439 638h4v9h-4zM377 638h7v9h-7zM125 638h3v9h-3z"/>
<path fill="#00fff1" d="M224 638h2v9h-2zM407 638h2v9h-2zM316 638h3v9h-3zM141 638h3v9h-3zM550 638h2v9h-2zM309 638h2v9h-2zM159 638h3v9h-3zM305 638h3v9h-3zM132 638h4v9h-4zM145 638h3v9h-3zM105 638h5v9h-5zM313 638h2v9h-2zM195 638h3v9h-3zM594 638h2v9h-2zM237 638h2v9h-2zM117 638h7v9h-7zM97 638h3v9h-3zM425 638h2v9h-2zM113 638h2v9h-2zM634 638h3v9h-3zM290 638h2v9h-2zM599 638h2v9h-2zM584 638h4v9h-4z"/>
<path fill="#00ffda" d="M336 638h2v9h-2zM579 638h2v9h-2zM625 638h3v9h-3zM248 638h2v9h-2zM427 638h2v9h-2zM299 638h5v9h-5zM603 638h2v9h-2zM540 638h3v9h-3z"/>
<path fill="#00ffc2" d="M97 560h2v8h-2zM257 638h3v9h-3zM669 638h2v9h-2zM324 638h2v9h-2zM597 638h2v9h-2zM364 638h2v9h-2zM349 638h2v9h-2z"/>
<path fill="#00ff72" d="M95 560h2v8h-2z"/></g><g fill="none" transform="translate(.5 0)"><path stroke="#000000" d="M286 560v8M671 560v8M484 560v8M467 560v8M385 560v8M689 560v8M576 560v8M297 560v8M118 560v8M351 560v8M227 560v26M223 568v18M236 568v18M256 568v18M108 568v18M329 568v18M268 568v18M144 568v18M200 568v18M198 568v18M279 586v17M644 586v17M414 586v17M546 586v17M700 586v17M663 620v18M286 620v18M576 620v18M559 620v18M660 620v18M199 620v18M395 620v18M383 620v18M117 620v18M398 620v18M495 620v18M628 620v18"/>
<path stroke="#0c000e" d="M186 568v18M279 568v18M570 568v18"/>
<path stroke="#18001c" d="M643 586v17"/>
<path stroke="#24002a" d="M637 586v17M555 586v17M427 586v17M701 586v17M624 586v17M566 586v17"/>
<path stroke="#3a0056" d="M124 568v18M326 568v18M416 568v18M600 586v17M293 586v17M623 586v17M424 586v17M556 586v17M638 586v17M315 586v17M328 586v17M376 586v17M268 586v17M487 586v17M179 586v17M660 586v17M373 586v17M332 586v17M236 586v17M528 586v17M353 586v17M518 586v17"/>
<path stroke="#45006f" d="M466 560v8M680 560v8M398 568v18M456 568v18M185 568v18M267 568v18M315 568v18M328 568v18M179 620v18M119 620v18M394 620v18M403 620v18M409 620v18M236 620v18M546 620v18M157 620v18M185 620v18M239 620v18M222 620v18"/>
<path stroke="#500089" d="M119 568v18M363 568v18M179 568v18M332 568v18"/>
<path stroke="#5a00a1" d="M243 568v18M351 568v18M138 603v35"/>
<path stroke="#5300b1" d="M231 568v18M508 603v17M370 603v17M571 603v17M200 603v17M555 603v17M611 603v17"/>
<path stroke="#4d00c1" d="M222 568v18M109 568v18M373 568v18M329 603v17M403 603v17M204 603v17M601 603v17M637 603v17M215 603v17M429 603v17M507 603v17M617 603v17M566 603v17M518 603v17M366 603v17M529 603v17M384 603v17M424 603v17M611 620v18"/>
<path stroke="#4600d1" d="M260 568v18M304 603v17M701 603v17M449 603v17M495 603v17M223 603v17M236 603v17M628 603v17M402 603v17M178 603v17M623 603v17M250 603v17M308 603v17M461 603v17M691 603v17M279 603v17M602 603v17M638 603v17M534 603v17M657 603v17M297 603v17M415 603v17M609 603v17M180 603v17M458 603v17M158 603v17M571 620v18M555 620v18"/>
<path stroke="#3f00e0" d="M159 568v18M327 568v18M644 603v17M394 603v17M599 603v17M239 603v17M326 603v17M136 603v17M385 603v17M416 603v17M487 603v17M546 603v17M185 603v17M480 603v17M700 603v17M690 603v17M179 603v17M484 603v17M177 603v17M610 603v17M119 603v17M575 603v17M102 603v17M200 620v18M556 620v18M518 620v18"/>
<path stroke="#2400ee" d="M279 560v8M119 560v8M424 560v8M181 560v8M508 560v8M239 568v18M428 586v17M421 586v17M403 586v17M260 603v17M222 603v17M466 603v17M456 603v17M631 603v17M267 603v17M109 603v17M660 603v17M699 603v17M576 603v17M159 603v17M462 603v17M559 603v17M600 603v17M608 603v17M570 603v17M395 603v17M124 603v17M522 603v17M327 603v17M315 603v17M414 603v17M398 603v17M689 603v17M496 603v17M566 620v18M529 620v18M268 620v18M204 620v18M215 620v18"/>
<path stroke="#0800fb" d="M199 568v18M128 568v18M199 603v17M235 603v17M417 603v17M298 603v17M268 603v17M643 603v17M157 603v17M433 603v35M205 603v35M137 603v35M624 603v35M150 603v35M481 620v18M617 620v18M353 620v18M601 620v18M637 620v18M178 620v18M691 620v18M657 620v18M384 620v18M366 620v18M463 620v18M534 620v18M429 620v18M424 620v18M528 620v18M547 620v18M461 620v18M138 638v9"/>
<path stroke="#0014ff" d="M235 568v18M509 603v17M99 603v17M198 603v17M596 603v17M322 603v17M457 603v17M292 603v17M481 603v17M144 603v17M463 603v17M186 603v35M156 603v35M417 620v18M701 620v18M402 620v18M118 620v18M623 620v18M638 620v18M352 620v18M609 620v18M158 620v18M611 638v9"/>
<path stroke="#0030ff" d="M335 603v17M328 603v17M351 603v17M467 603v17M243 603v17M198 620v18M599 620v18M415 620v18M690 620v18M602 620v18M487 620v18M584 620v18M99 620v18M223 620v18M575 620v18M530 620v18M136 620v18M329 620v18M144 620v18M180 620v18M596 620v18M508 638v9"/>
<path stroke="#004cff" d="M679 560v8M574 603v17M128 603v17M226 603v17M663 603v17M581 620v18M484 620v18M308 620v18M671 620v18M531 620v18M177 620v18M610 620v18M515 620v18M700 620v18M102 620v18M351 620v18M322 620v18M304 620v18M480 620v18M227 620v18M200 638v9M518 638v9M271 638v9"/>
<path stroke="#0068ff" d="M323 603v17M593 620v18M416 620v18M689 620v18M672 620v18M496 620v18M243 620v18M385 620v18M421 620v18M608 620v18M644 620v18M574 620v18M326 620v18M571 638v9M150 638v9M507 638v9M643 638v9M529 638v9M384 638v9M617 638v9M366 638v9M403 638v9M268 638v9M637 638v9M555 638v9M204 638v9M601 638v9M157 638v9M215 638v9"/>
<path stroke="#0089ff" d="M376 603v17M124 620v18M631 620v18M570 620v18M462 620v18M456 620v18M260 620v18M128 620v18M267 620v18M588 620v18M414 620v18M466 620v18M636 620v18M522 620v18M109 620v18M699 620v18M481 638v9M691 638v9M609 638v9M463 638v9M534 638v9M240 638v9M417 638v9M433 638v9M657 638v9M205 638v9M137 638v9M495 638v9M158 638v9M186 638v9M628 638v9M461 638v9M286 638v9M236 638v9M429 638v9M353 638v9M402 638v9M178 638v9M293 638v9M424 638v9"/>
<path stroke="#00abff" d="M332 620v18M226 620v18M600 620v18M373 620v18M690 638v9M156 638v9M509 638v9M223 638v9M701 638v9M566 638v9M214 638v9M198 638v9M530 638v9M279 638v9M292 638v9M602 638v9M352 638v9M308 638v9M329 638v9M415 638v9M144 638v9M638 638v9M696 638v9M180 638v9"/>
<path stroke="#00ceff" d="M99 560v8M376 568v18M323 568v18M235 620v18M315 620v18M328 620v18M695 638v9M484 638v9M322 638v9M351 638v9M136 638v9M487 638v9M409 638v9M185 638v9M531 638v9M700 638v9M304 638v9M179 638v9M177 638v9M610 638v9"/>
<path stroke="#00f0ff" d="M327 620v18M496 638v9M385 638v9M222 638v9M416 638v9M243 638v9M480 638v9M689 638v9M596 638v9M421 638v9M644 638v9M394 638v9M546 638v9M239 638v9M608 638v9M326 638v9"/>
<path stroke="#00fff1" d="M575 638v9M335 638v9M663 638v9M699 638v9M462 638v9M102 638v9M522 638v9M581 638v9M456 638v9M414 638v9M260 638v9M631 638v9M128 638v9M466 638v9M660 638v9M332 638v9M267 638v9"/>
<path stroke="#00ffda" d="M376 620v18M323 620v18M574 638v9M398 638v9M373 638v9M226 638v9M593 638v9M199 638v9M395 638v9M124 638v9M315 638v9M328 638v9"/>
<path stroke="#00ffc2" d="M235 638v9M588 638v9M576 638v9M559 638v9M570 638v9M327 638v9"/>
<path stroke="#00ff92" d="M323 638v9M376 638v9"/></g>
<g><path fill="#000000" d="M316 656h2v35h-2zM470 674h3v17h-3zM290 674h2v17h-2zM226 674h3v17h-3zM343 674h3v17h-3zM503 674h3v17h-3zM422 674h4v17h-4zM141 674h2v17h-2zM436 674h2v17h-2zM200 674h2v17h-2zM307 674h3v17h-3zM353 674h3v17h-3zM114 674h3v17h-3zM671 674h3v17h-3zM491 674h4v17h-4zM393 674h3v17h-3zM515 674h3v17h-3zM249 674h2v17h-2zM208 674h3v17h-3zM658 674h2v17h-2zM455 674h2v17h-2z"/>
<path fill="#0c000e" d="M555 656h3v18h-3zM544 656h5v18h-5zM449 656h2v18h-2zM322 656h11v18h-11zM200 656h19v18h-19zM145 656h11v18h-11zM603 656h11v18h-11zM589 656h5v18h-5zM409 656h5v18h-5zM647 656h6v18h-6zM241 656h4v18h-4zM597 656h4v18h-4zM569 656h3v18h-3zM165 656h24v18h-24zM466 656h3v18h-3zM684 656h4v18h-4zM433 656h15v18h-15zM496 656h6v18h-6zM192 656h2v18h-2zM679 656h4v18h-4zM616 656h17v18h-17zM550 656h4v18h-4zM389 656h9v18h-9zM157 656h2v18h-2zM454 656h4v18h-4zM290 656h2v18h-2zM221 656h16v18h-16zM266 656h6v18h-6zM663 656h3v18h-3zM137 656h2v18h-2zM573 656h9v18h-9zM112 656h20v18h-20zM667 656h11v18h-11zM658 656h4v18h-4zM276 656h13v18h-13zM487 656h8v18h-8zM140 656h3v18h-3zM462 656h3v18h-3zM294 656h22v18h-22zM418 656h14v18h-14zM522 656h13v18h-13zM635 656h6v18h-6zM372 656h13v18h-13zM402 656h5v18h-5zM351 656h5v18h-5zM246 656h10v18h-10zM338 656h11v18h-11zM507 656h3v18h-3zM690 656h6v18h-6zM515 656h6v18h-6zM399 656h2v18h-2zM699 656h3v18h-3zM98 656h11v18h-11zM503 656h3v18h-3zM259 656h5v18h-5zM470 656h4v18h-4zM559 656h7v18h-7zM318 656h2v18h-2zM363 656h8v18h-8zM475 656h11v35h-11zM654 656h3v35h-3zM536 656h4v35h-4zM459 674h11v17h-11zM242 674h3v17h-3zM499 674h4v17h-4zM229 674h12v17h-12zM139 674h2v17h-2zM412 674h10v17h-10zM660 674h2v17h-2zM157 674h16v17h-16zM221 674h2v17h-2zM259 674h7v17h-7zM294 674h2v17h-2zM143 674h3v17h-3zM95 674h10v17h-10zM495 674h3v17h-3zM648 674h5v17h-5zM211 674h3v17h-3zM297 674h8v17h-8zM389 674h4v17h-4zM506 674h3v17h-3zM628 674h16v17h-16zM603 674h3v17h-3zM147 674h9v17h-9zM607 674h13v17h-13zM202 674h6v17h-6zM274 674h16v17h-16zM346 674h7v17h-7zM674 674h9v17h-9zM559 674h2v17h-2zM246 674h3v17h-3zM396 674h2v17h-2zM318 674h12v17h-12zM562 674h4v17h-4zM551 674h7v17h-7zM174 674h26v17h-26zM426 674h10v17h-10zM362 674h25v17h-25zM338 674h5v17h-5zM310 674h6v17h-6zM568 674h13v17h-13zM117 674h21v17h-21zM518 674h11v17h-11zM582 674h19v17h-19zM530 674h5v17h-5zM621 674h6v17h-6zM215 674h4v17h-4zM695 674h7v17h-7zM438 674h10v17h-10zM487 674h4v17h-4zM106 674h8v17h-8zM449 674h4v17h-4zM684 674h10v17h-10zM409 674h2v17h-2zM224 674h2v17h-2zM251 674h6v17h-6zM356 674h3v17h-3zM399 674h8v17h-8zM543 674h6v17h-6zM267 674h6v17h-6zM663 674h8v17h-8zM331 674h6v17h-6z"/>
<path fill="#18001c" d="M349 656h2v18h-2zM688 656h2v18h-2zM194 656h6v18h-6zM614 656h2v18h-2zM335 656h3v18h-3zM594 656h3v18h-3zM566 656h3v18h-3zM239 656h2v18h-2zM256 656h3v18h-3zM132 656h5v18h-5zM320 656h2v18h-2zM641 656h6v18h-6zM540 656h4v18h-4zM189 656h3v18h-3zM510 656h5v18h-5zM264 656h2v18h-2zM696 656h3v18h-3zM272 656h4v18h-4zM96 656h2v18h-2zM159 656h6v18h-6zM356 656h2v18h-2zM143 656h2v18h-2zM460 656h2v18h-2zM633 656h2v18h-2zM582 656h5v18h-5zM414 656h4v18h-4zM359 656h4v18h-4zM407 656h2v35h-2zM601 656h2v35h-2zM292 656h2v35h-2zM219 656h2v35h-2zM387 656h2v35h-2zM510 674h2v17h-2zM644 674h3v17h-3zM257 674h2v17h-2zM359 674h3v17h-3zM540 674h3v17h-3zM566 674h2v17h-2zM513 674h2v17h-2z"/>
<path fill="#5a00a1" d="M470 708h3v18h-3zM515 708h3v18h-3zM503 708h3v18h-3z"/>
<path fill="#5300b1" d="M436 708h2v18h-2zM491 708h4v18h-4z"/>
<path fill="#4d00c1" d="M455 708h2v18h-2z"/>
<path fill="#4600d1" d="M620 691h8v17h-8zM515 691h3v17h-3zM470 691h3v17h-3zM475 691h2v17h-2zM658 691h4v17h-4zM487 691h8v17h-8zM650 691h3v17h-3zM503 691h3v17h-3zM699 691h2v17h-2zM436 691h2v17h-2zM526 691h5v17h-5zM675 691h3v17h-3zM647 691h2v17h-2zM671 691h3v17h-3zM610 691h3v17h-3zM635 691h2v17h-2zM498 691h4v17h-4zM455 691h2v17h-2zM462 691h3v35h-3zM522 691h2v35h-2zM533 691h2v35h-2zM249 708h2v18h-2zM487 708h4v18h-4zM526 708h3v18h-3z"/>
<path fill="#3f00e0" d="M200 691h12v17h-12zM433 691h3v17h-3zM98 691h6v17h-6zM438 691h17v17h-17zM662 691h8v17h-8zM628 691h7v17h-7zM582 691h24v17h-24zM145 691h11v17h-11zM531 691h2v17h-2zM213 691h6v17h-6zM495 691h3v17h-3zM252 691h3v17h-3zM524 691h2v17h-2zM173 691h16v17h-16zM402 691h2v17h-2zM551 691h8v17h-8zM678 691h5v17h-5zM684 691h6v17h-6zM384 691h4v17h-4zM535 691h13v17h-13zM637 691h7v17h-7zM192 691h2v17h-2zM695 691h4v17h-4zM613 691h7v17h-7zM389 691h9v17h-9zM518 691h4v17h-4zM223 691h7v17h-7zM249 691h2v17h-2zM691 691h3v17h-3zM231 691h6v17h-6zM112 691h20v17h-20zM562 691h19v17h-19zM653 691h5v17h-5zM280 691h3v17h-3zM105 691h4v17h-4zM157 691h2v17h-2zM510 691h3v17h-3zM457 691h5v17h-5zM607 691h3v17h-3zM137 691h2v17h-2zM399 691h2v17h-2zM473 691h2v17h-2zM241 691h3v17h-3zM477 691h10v17h-10zM465 691h5v17h-5zM499 708h2v18h-2zM589 708h3v18h-3zM393 708h3v18h-3zM475 708h2v18h-2zM226 708h3v18h-3z"/>
<path fill="#2400ee" d="M95 648h607v8h-607zM255 691h4v17h-4zM267 691h3v17h-3zM260 691h6v17h-6zM96 691h2v17h-2zM513 691h2v17h-2zM194 691h6v17h-6zM290 691h2v17h-2zM143 691h2v17h-2zM132 691h5v17h-5zM283 691h2v17h-2zM245 691h4v17h-4zM286 691h3v17h-3zM644 691h3v17h-3zM271 691h5v17h-5zM170 691h3v17h-3zM239 691h2v17h-2zM404 691h3v17h-3zM159 691h3v17h-3zM277 691h3v17h-3zM219 691h4v17h-4zM189 691h3v17h-3zM415 691h18v17h-18zM409 691h5v17h-5zM578 708h3v18h-3zM445 708h3v18h-3zM518 708h3v18h-3zM438 708h3v18h-3zM573 708h3v18h-3zM562 708h3v18h-3zM483 708h3v18h-3z"/>
<path fill="#0800fb" d="M343 691h3v17h-3zM382 691h2v17h-2zM162 691h3v17h-3zM141 691h2v17h-2zM307 691h3v17h-3zM353 691h3v17h-3zM316 691h2v17h-2zM168 691h2v17h-2zM302 691h2v17h-2zM365 691h2v17h-2zM292 691h6v17h-6zM407 691h2v17h-2zM200 708h2v18h-2zM477 708h4v18h-4zM208 708h2v18h-2zM396 708h2v18h-2zM280 708h3v18h-3zM551 708h3v18h-3zM496 708h2v18h-2zM555 708h3v18h-3zM545 708h4v18h-4zM671 708h3v18h-3zM524 708h2v18h-2zM390 708h2v18h-2zM224 708h2v18h-2z"/>
<path fill="#0014ff" d="M376 691h3v17h-3zM371 691h3v17h-3zM367 691h2v17h-2zM165 691h3v17h-3zM338 691h2v17h-2zM346 691h7v17h-7zM318 691h12v17h-12zM298 691h4v17h-4zM310 691h6v17h-6zM341 691h2v17h-2zM356 691h9v17h-9zM331 691h6v17h-6zM536 708h3v18h-3zM215 708h4v18h-4zM466 708h3v18h-3zM481 708h2v18h-2zM402 708h2v18h-2zM441 708h4v18h-4zM569 708h3v18h-3zM179 708h3v18h-3zM449 708h2v18h-2z"/>
<path fill="#0030ff" d="M399 708h2v18h-2zM592 708h2v18h-2zM206 708h2v18h-2zM610 708h3v18h-3zM434 708h2v18h-2zM186 708h3v18h-3zM621 708h6v18h-6zM242 708h2v18h-2zM531 708h2v18h-2zM585 708h2v18h-2z"/>
<path fill="#004cff" d="M379 691h3v17h-3zM374 691h2v17h-2zM369 691h2v17h-2zM232 708h5v18h-5zM658 708h2v18h-2zM460 708h2v18h-2zM202 708h2v18h-2zM251 708h4v18h-4zM114 708h3v18h-3zM699 708h2v18h-2zM582 708h3v18h-3zM422 708h4v18h-4zM382 708h2v18h-2z"/>
<path fill="#0068ff" d="M184 708h2v18h-2zM608 708h2v18h-2zM192 708h2v18h-2zM267 708h3v18h-3zM174 708h5v18h-5zM112 708h2v18h-2zM566 708h2v18h-2zM660 708h2v18h-2zM353 708h3v18h-3zM616 708h4v18h-4zM503 726h3v9h-3z"/>
<path fill="#0089ff" d="M675 708h3v18h-3zM404 708h2v18h-2zM276 708h4v18h-4zM650 708h3v18h-3zM598 708h3v18h-3zM260 708h2v18h-2zM121 708h3v18h-3zM604 708h2v18h-2zM283 708h2v18h-2zM204 708h2v18h-2zM221 708h2v18h-2zM246 708h3v18h-3zM409 708h2v18h-2zM629 708h3v18h-3zM492 726h3v9h-3zM515 726h3v9h-3zM487 726h3v9h-3zM470 726h3v9h-3zM462 726h3v9h-3z"/>
<path fill="#00abff" d="M429 708h3v18h-3zM124 708h2v18h-2zM365 708h2v18h-2zM684 708h2v18h-2zM540 708h3v18h-3zM594 708h3v18h-3zM637 708h4v18h-4zM412 708h2v18h-2zM377 708h5v18h-5zM510 708h2v18h-2zM455 726h2v9h-2zM610 726h4v9h-4z"/>
<path fill="#00ceff" d="M679 708h3v18h-3zM197 708h3v18h-3zM654 708h3v18h-3zM118 708h3v18h-3zM691 708h3v18h-3zM686 708h2v18h-2zM189 708h3v18h-3zM264 708h2v18h-2zM316 708h2v18h-2zM372 708h2v18h-2zM106 708h2v18h-2zM290 708h2v18h-2zM274 708h2v18h-2zM664 708h2v18h-2zM624 726h3v9h-3zM436 726h2v9h-2zM227 726h2v9h-2zM200 726h2v9h-2zM499 726h3v9h-3zM522 726h2v9h-2zM249 726h2v9h-2z"/>
<path fill="#00f0ff" d="M374 708h2v18h-2zM418 708h3v18h-3zM194 708h3v18h-3zM633 708h2v18h-2zM286 708h3v18h-3zM343 708h3v18h-3zM696 708h3v18h-3zM513 708h2v18h-2zM347 708h2v18h-2zM427 708h2v18h-2zM445 726h3v9h-3zM518 726h3v9h-3zM422 726h3v9h-3zM483 726h3v9h-3zM526 726h3v9h-3zM621 726h2v9h-2z"/>
<path fill="#00fff1" d="M369 708h2v18h-2zM642 708h2v18h-2zM168 708h5v18h-5zM127 708h4v18h-4zM307 708h3v18h-3zM257 708h2v18h-2zM614 708h2v18h-2zM99 708h5v18h-5zM351 708h2v18h-2zM658 726h2v9h-2zM638 726h3v9h-3zM404 726h2v9h-2zM608 726h2v9h-2zM524 726h2v9h-2zM224 726h2v9h-2zM449 726h3v9h-3zM533 726h2v9h-2zM604 726h2v9h-2zM671 726h3v9h-3zM442 726h3v9h-3z"/>
<path fill="#00ffda" d="M666 708h4v18h-4zM141 708h2v18h-2zM96 708h2v18h-2zM414 708h4v18h-4zM367 708h2v18h-2zM589 726h3v9h-3zM208 726h2v9h-2zM280 726h3v9h-3zM551 726h3v9h-3zM650 726h3v9h-3zM531 726h2v9h-2zM598 726h3v9h-3zM466 726h3v9h-3zM496 726h2v9h-2zM232 726h2v9h-2zM402 726h2v9h-2z"/>
<path fill="#00ffc2" d="M145 708h2v18h-2zM219 708h2v18h-2zM601 708h2v18h-2zM688 708h2v18h-2zM629 726h4v9h-4zM592 726h2v9h-2zM616 726h3v9h-3zM114 726h3v9h-3zM206 726h2v9h-2zM438 726h4v9h-4zM268 726h2v9h-2zM186 726h3v9h-3zM478 726h3v9h-3zM409 726h2v9h-2zM202 726h2v9h-2zM216 726h3v9h-3zM545 726h5v9h-5zM699 726h2v9h-2zM242 726h3v9h-3zM636 726h2v9h-2z"/>
<path fill="#00ffaa" d="M302 708h2v18h-2zM294 708h2v18h-2zM149 708h2v18h-2zM221 726h2v9h-2zM614 726h2v9h-2zM660 726h2v9h-2zM235 726h2v9h-2zM418 726h3v9h-3zM536 726h3v9h-3zM481 726h2v9h-2z"/>
<path fill="#00ff92" d="M338 708h2v18h-2zM318 708h2v18h-2zM151 708h2v18h-2zM407 708h2v18h-2zM246 726h3v9h-3zM277 726h3v9h-3zM184 726h2v9h-2zM412 726h2v9h-2zM633 726h2v9h-2zM179 726h3v9h-3zM290 726h2v9h-2zM594 726h4v9h-4zM316 726h2v9h-2zM192 726h2v9h-2zM283 726h2v9h-2zM141 726h2v9h-2zM260 726h2v9h-2zM654 726h3v9h-3zM204 726h2v9h-2z"/>
<path fill="#00ff72" d="M165 708h3v18h-3zM644 708h3v18h-3zM356 708h2v18h-2zM349 708h2v18h-2zM153 708h3v18h-3zM189 726h3v9h-3zM642 726h2v9h-2zM429 726h3v9h-3zM460 726h2v9h-2zM106 726h2v9h-2zM124 726h2v9h-2zM252 726h3v9h-3zM601 726h2v9h-2zM307 726h3v9h-3zM263 726h3v9h-3zM197 726h3v9h-3zM555 726h3v9h-3z"/>
<path fill="#00ff52" d="M359 708h3v18h-3zM298 708h4v18h-4zM310 708h6v18h-6zM396 726h2v9h-2zM343 726h3v9h-3zM415 726h3v9h-3zM573 726h3v9h-3zM427 726h2v9h-2zM99 726h2v9h-2zM540 726h3v9h-3zM686 726h2v9h-2zM255 726h2v9h-2zM286 726h3v9h-3zM174 726h5v9h-5zM112 726h2v9h-2z"/>
<path fill="#00ff31" d="M331 708h2v18h-2zM147 708h2v18h-2zM132 708h4v18h-4zM325 708h5v18h-5zM644 726h3v9h-3zM274 726h2v9h-2zM582 726h3v9h-3zM679 726h3v9h-3zM96 726h2v9h-2zM434 726h2v9h-2zM121 726h3v9h-3zM684 726h2v9h-2zM510 726h2v9h-2zM101 726h3v9h-3zM129 726h2v9h-2zM675 726h3v9h-3zM399 726h2v9h-2z"/>
<path fill="#00ff10" d="M143 708h2v18h-2zM194 726h3v9h-3zM691 726h3v9h-3zM562 726h4v9h-4zM127 726h2v9h-2zM118 726h3v9h-3zM168 726h2v9h-2zM664 726h2v9h-2zM696 726h3v9h-3zM257 726h2v9h-2zM513 726h2v9h-2zM365 726h2v9h-2zM585 726h2v9h-2zM353 726h3v9h-3z"/>
<path fill="#0dff00" d="M159 708h4v18h-4zM322 708h2v18h-2zM109 726h3v9h-3zM393 726h3v9h-3zM219 726h2v9h-2zM165 726h3v9h-3zM347 726h2v9h-2zM407 726h2v9h-2zM302 726h2v9h-2zM294 726h2v9h-2zM310 726h3v9h-3zM338 726h2v9h-2z"/>
<path fill="#26ff00" d="M335 708h2v18h-2zM163 708h2v18h-2zM320 708h2v18h-2zM372 726h2v9h-2zM688 726h2v9h-2zM667 726h3v9h-3zM149 726h2v9h-2zM170 726h3v9h-3zM153 726h3v9h-3zM390 726h3v9h-3zM578 726h3v9h-3z"/>
<path fill="#3fff00" d="M292 708h2v18h-2zM328 726h2v9h-2zM351 726h2v9h-2zM298 726h4v9h-4zM569 726h3v9h-3zM377 726h5v9h-5zM313 726h3v9h-3z"/>
<path fill="#59ff00" d="M159 726h3v9h-3zM322 726h2v9h-2zM331 726h2v9h-2zM367 726h2v9h-2zM147 726h2v9h-2zM374 726h3v9h-3zM132 726h4v9h-4zM151 726h2v9h-2zM318 726h2v9h-2zM325 726h3v9h-3z"/>
<path fill="#72ff00" d="M369 726h2v9h-2zM566 726h2v9h-2zM143 726h2v9h-2zM163 726h2v9h-2zM382 726h2v9h-2z"/>
<path fill="#a2ff00" d="M335 726h2v9h-2zM356 726h2v9h-2zM320 726h2v9h-2zM349 726h2v9h-2z"/>
<path fill="#b8ff00" d="M359 726h3v9h-3zM292 726h2v9h-2z"/></g><g fill="none" transform="translate(.5 0)"><path stroke="#000000" d="M296 674v17M223 674v17M529 674v17M498 674v17M411 674v17M138 674v17M647 674v17M627 674v17M241 674v17M305 674v17M105 674v17M146 674v17M694 674v17M606 674v17M550 674v17M581 674v17M561 674v17M620 674v17M214 674v17M173 674v17M509 674v17M266 674v17M330 674v17"/>
<path stroke="#0c000e" d="M238 656v18M386 656v18M358 656v18M334 656v18M459 656v18M110 656v18M587 656v18M452 656v18M95 656v18M306 674v17M473 674v17M512 674v17M457 674v17M454 674v17"/>
<path stroke="#18001c" d="M289 656v18M111 656v18M139 656v18M432 656v18M109 656v18M506 656v18M572 656v18M237 656v18M401 656v18M451 656v18M588 656v18M469 656v18M465 656v18M521 656v18M385 656v18M502 656v18M371 656v18M495 656v18M333 656v18M666 656v18M554 656v18M678 656v18M662 656v35M156 656v35M448 656v35M683 656v35M535 656v35M653 656v35M486 656v35M558 656v35M549 656v35M657 656v35M453 656v35M474 656v35M398 656v35M458 656v35M245 656v35M273 674v17M337 674v17"/>
<path stroke="#500089" d="M529 708v18M550 708v18"/>
<path stroke="#5a00a1" d="M498 708v18"/>
<path stroke="#5300b1" d="M561 708v18M581 708v18"/>
<path stroke="#4d00c1" d="M507 708v18M559 708v18M509 708v18"/>
<path stroke="#4600d1" d="M690 691v17M509 691v17M507 691v17M559 691v17M694 691v17M550 691v17M581 691v17M561 691v17M606 691v17M501 708v18M530 708v18"/>
<path stroke="#3f00e0" d="M259 691v17M674 691v17M549 691v17M270 691v17M95 691v17M560 691v17M238 691v17M649 691v17M502 691v17M508 691v17M110 691v17M506 691v17M266 691v17M701 691v17M140 691v17M214 708v18M223 708v18M576 708v18M606 708v18M544 708v18"/>
<path stroke="#2400ee" d="M156 691v17M230 691v17M111 691v17M139 691v17M109 691v17M237 691v17M683 691v17M401 691v17M212 691v17M388 691v17M398 691v17M389 708v18M433 708v18M620 708v18M266 708v18M587 708v18M473 708v18M173 708v18M384 708v18M539 708v18M210 708v18M627 708v18"/>
<path stroke="#0800fb" d="M305 691v17M414 691v17M340 691v17M330 691v17M289 691v17M670 691v17M548 691v17M577 708v18M560 708v18M459 708v18M241 708v18M508 708v18M454 708v18M270 708v18M565 708v18"/>
<path stroke="#0014ff" d="M304 691v17M251 691v17M104 691v17M276 691v17M306 691v17M244 691v35M694 708v18M392 708v18M457 708v18M231 708v18M452 708v18M229 708v18"/>
<path stroke="#0030ff" d="M285 691v17M337 691v17M635 708v18M554 708v18M432 708v18M451 708v18M238 708v18M506 708v18M647 708v18"/>
<path stroke="#004cff" d="M465 708v18M105 708v18M502 708v18M386 708v18M213 708v18M572 708v18M636 708v18M568 708v18M211 708v18M512 708v18M495 708v18M259 708v18M98 708v18M183 708v18M411 708v18M588 708v18M550 726v9"/>
<path stroke="#0068ff" d="M486 708v18M469 708v18M549 708v18M521 708v18M543 708v18M613 708v18M701 708v18M263 708v18M690 708v18M529 726v9M491 726v9"/>
<path stroke="#0089ff" d="M453 708v18M648 708v18M535 708v18M385 708v18M108 708v18M448 708v18M695 708v18M182 708v18M421 708v18M670 708v18M95 708v18M126 708v18M230 708v18M620 726v9M214 726v9M623 726v9M647 726v9M509 726v9"/>
<path stroke="#00abff" d="M632 708v18M255 708v18M607 708v18M262 708v18M458 708v18M104 708v18M271 708v18M603 708v18M117 708v18M628 708v18M401 708v18M558 708v18M212 708v18M606 726v9M627 726v9M498 726v9"/>
<path stroke="#00ceff" d="M474 708v18M256 708v18M597 708v18M387 708v18M239 708v18M406 708v18M237 708v18M475 726v9M539 726v9M266 726v9M490 726v9"/>
<path stroke="#00f0ff" d="M388 708v18M663 708v18M674 708v18M682 708v18M240 708v18M110 708v18M358 708v18M272 708v18M641 708v18M398 708v18M476 726v9M530 726v9M226 726v9M507 726v9M223 726v9M241 726v9M544 726v9M411 726v9M210 726v9"/>
<path stroke="#00fff1" d="M649 708v18M245 708v18M231 726v9M648 726v9M619 726v9M459 726v9M506 726v9M425 726v9M215 726v9M465 726v9M635 726v9M421 726v9M105 726v9M477 726v9"/>
<path stroke="#00ffda" d="M376 708v18M330 708v18M138 708v18M363 708v18M426 708v18M285 708v18M267 726v9M98 726v9M454 726v9M473 726v9M641 726v9M701 726v9M183 726v9M270 726v9M452 726v9M229 726v9"/>
<path stroke="#00ffc2" d="M273 708v18M296 708v18M157 708v18M364 708v18M109 708v18M305 708v18M111 708v18M535 726v9M587 726v9M694 726v9M457 726v9M607 726v9M238 726v9M406 726v9M213 726v9M433 726v9M271 726v9M495 726v9"/>
<path stroke="#00ffaa" d="M297 708v18M678 708v18M131 708v18M371 708v18M340 708v18M173 726v9M211 726v9M628 726v9M259 726v9M521 726v9M251 726v9M508 726v9M695 726v9"/>
<path stroke="#00ff92" d="M653 708v18M140 708v18M362 708v18M346 708v18M341 708v18M486 726v9M603 726v9M117 726v9M543 726v9M212 726v9M561 726v9M234 726v9M559 726v9M581 726v9M95 726v9M502 726v9"/>
<path stroke="#00ff72" d="M137 708v18M324 708v18M342 708v18M662 708v18M469 726v9M453 726v9M649 726v9M448 726v9M588 726v9M182 726v9M414 726v9M104 726v9M296 726v9M512 726v9M426 726v9M458 726v9"/>
<path stroke="#00ff52" d="M306 708v18M289 708v18M334 708v18M657 708v18M330 726v9M108 726v9M262 726v9M146 726v9M157 726v9M230 726v9M554 726v9M239 726v9M126 726v9M690 726v9M663 726v9M276 726v9"/>
<path stroke="#00ff31" d="M158 708v18M138 726v9M358 726v9M670 726v9M653 726v9M245 726v9M237 726v9M432 726v9M576 726v9M285 726v9"/>
<path stroke="#00ff10" d="M683 708v18M136 708v18M304 708v18M474 726v9M131 726v9M140 726v9M324 726v9M401 726v9M682 726v9M240 726v9M305 726v9M137 726v9M674 726v9M145 726v9M340 726v9M272 726v9"/>
<path stroke="#0dff00" d="M572 726v9M577 726v9M384 726v9"/>
<path stroke="#26ff00" d="M333 708v18M139 708v18M568 726v9M306 726v9M297 726v9M341 726v9M662 726v9"/>
<path stroke="#3fff00" d="M156 708v18M162 726v9M136 726v9M304 726v9M289 726v9M342 726v9M389 726v9M657 726v9M560 726v9"/>
<path stroke="#59ff00" d="M386 726v9M273 726v9M398 726v9M334 726v9M363 726v9M346 726v9M666 726v9"/>
<path stroke="#72ff00" d="M678 726v9"/>
<path stroke="#8cff00" d="M337 708v18M364 726v9M558 726v9M139 726v9"/>
<path stroke="#a2ff00" d="M385 726v9M156 726v9M333 726v9M158 726v9M362 726v9"/>
<path stroke="#b8ff00" d="M387 726v9M371 726v9"/>
<path stroke="#ceff00" d="M683 726v9"/>
<path stroke="#e4ff00" d="M388 726v9M337 726v9"/></g>
<g shape-rendering="crispEdges"><text x="84" y="122.8" text-anchor="end" font-size="8.6">10</text>
<text x="84" y="93.8" text-anchor="end" font-size="8.6">100</text>
<text x="84" y="64.8" text-anchor="end" font-size="8.6">1000</text>
<text transform="translate(36.4 79.7) rotate(-90)" text-anchor="middle" font-size="8.4">thb</text>
<text transform="translate(43.7 79.7) rotate(-90)" text-anchor="middle" font-size="8.4">fff</text>
<text transform="translate(51.0 79.7) rotate(-90)" text-anchor="middle" font-size="8.4">64</text>
<text transform="translate(58.3 79.7) rotate(-90)" text-anchor="middle" font-size="8.4">eac34</text>
<text x="84" y="209.9" text-anchor="end" font-size="8.6">10</text>
<text x="84" y="177.4" text-anchor="end" font-size="8.6">100</text>
<text x="84" y="145.1" text-anchor="end" font-size="8.6">1000</text>
<text transform="translate(36.4 167.1) rotate(-90)" text-anchor="middle" font-size="8.4">thb</text>
<text transform="translate(43.7 167.1) rotate(-90)" text-anchor="middle" font-size="8.4">fff</text>
<text transform="translate(51.0 167.1) rotate(-90)" text-anchor="middle" font-size="8.4">64</text>
<text transform="translate(58.3 167.1) rotate(-90)" text-anchor="middle" font-size="8.4">scm3</text>
<text x="84" y="279.5" text-anchor="end" font-size="8.6">10</text>
<text x="84" y="250.5" text-anchor="end" font-size="8.6">100</text>
<text x="84" y="221.4" text-anchor="end" font-size="8.6">1000</text>
<text transform="translate(42.6 254.5) rotate(-90)" text-anchor="middle" font-size="8.4">thb</text>
<text transform="translate(50.3 254.5) rotate(-90)" text-anchor="middle" font-size="8.4">fbk</text>
<text transform="translate(58.0 254.5) rotate(-90)" text-anchor="middle" font-size="8.4">edc34</text>
<text x="84" y="366.9" text-anchor="end" font-size="8.6">10</text>
<text x="84" y="337.9" text-anchor="end" font-size="8.6">100</text>
<text x="84" y="308.8" text-anchor="end" font-size="8.6">1000</text>
<text transform="translate(42.6 341.9) rotate(-90)" text-anchor="middle" font-size="8.4">thb</text>
<text transform="translate(50.3 341.9) rotate(-90)" text-anchor="middle" font-size="8.4">fbk</text>
<text transform="translate(58.0 341.9) rotate(-90)" text-anchor="middle" font-size="8.4">scm1</text>
<text x="84" y="472.4" text-anchor="end" font-size="8.6">10</text>
<text x="84" y="443.4" text-anchor="end" font-size="8.6">100</text>
<text x="84" y="414.4" text-anchor="end" font-size="8.6">1000</text>
<text transform="translate(36.4 429.3) rotate(-90)" text-anchor="middle" font-size="8.4">thc</text>
<text transform="translate(43.7 429.3) rotate(-90)" text-anchor="middle" font-size="8.4">fff</text>
<text transform="translate(51.0 429.3) rotate(-90)" text-anchor="middle" font-size="8.4">64</text>
<text transform="translate(58.3 429.3) rotate(-90)" text-anchor="middle" font-size="8.4">eac34</text>
<text x="84" y="559.5" text-anchor="end" font-size="8.6">10</text>
<text x="84" y="527.0" text-anchor="end" font-size="8.6">100</text>
<text x="84" y="494.7" text-anchor="end" font-size="8.6">1000</text>
<text transform="translate(36.4 516.7) rotate(-90)" text-anchor="middle" font-size="8.4">thc</text>
<text transform="translate(43.7 516.7) rotate(-90)" text-anchor="middle" font-size="8.4">fff</text>
<text transform="translate(51.0 516.7) rotate(-90)" text-anchor="middle" font-size="8.4">64</text>
<text transform="translate(58.3 516.7) rotate(-90)" text-anchor="middle" font-size="8.4">scm3</text>
<text x="84" y="629.1" text-anchor="end" font-size="8.6">10</text>
<text x="84" y="600.1" text-anchor="end" font-size="8.6">100</text>
<text x="84" y="571.0" text-anchor="end" font-size="8.6">1000</text>
<text transform="translate(42.6 604.1) rotate(-90)" text-anchor="middle" font-size="8.4">thc</text>
<text transform="translate(50.3 604.1) rotate(-90)" text-anchor="middle" font-size="8.4">fbk</text>
<text transform="translate(58.0 604.1) rotate(-90)" text-anchor="middle" font-size="8.4">edc12</text>
<text x="84" y="716.5" text-anchor="end" font-size="8.6">10</text>
<text x="84" y="687.5" text-anchor="end" font-size="8.6">100</text>
<text x="84" y="658.4" text-anchor="end" font-size="8.6">1000</text>
<text transform="translate(42.6 691.5) rotate(-90)" text-anchor="middle" font-size="8.4">thc</text>
<text transform="translate(50.3 691.5) rotate(-90)" text-anchor="middle" font-size="8.4">fbk</text>
<text transform="translate(58.0 691.5) rotate(-90)" text-anchor="middle" font-size="8.4">scm1</text>
<path fill="#000" d="M86 35h617v1h-617zM86 35h1v88h-1zM702 35h1v88h-1zM87 36h1v2h-1zM87 121h1v1h-1zM104 36h1v1h-1zM121 36h1v1h-1zM138 36h1v1h-1zM155 36h1v1h-1zM172 36h1v1h-1zM190 36h1v2h-1zM190 121h1v1h-1zM207 36h1v1h-1zM224 36h1v1h-1zM241 36h1v1h-1zM258 36h1v1h-1zM275 36h1v1h-1zM292 36h1v2h-1zM292 121h1v1h-1zM309 36h1v1h-1zM326 36h1v1h-1zM343 36h1v1h-1zM360 36h1v1h-1zM377 36h1v1h-1zM394 36h1v2h-1zM394 121h1v1h-1zM412 36h1v1h-1zM429 36h1v1h-1zM446 36h1v1h-1zM463 36h1v1h-1zM480 36h1v1h-1zM497 36h1v2h-1zM497 121h1v1h-1zM514 36h1v1h-1zM531 36h1v1h-1zM548 36h1v1h-1zM565 36h1v1h-1zM582 36h1v1h-1zM600 36h1v2h-1zM600 121h1v1h-1zM617 36h1v1h-1zM634 36h1v1h-1zM651 36h1v1h-1zM668 36h1v1h-1zM685 36h1v1h-1zM701 36h1v2h-1zM701 121h1v1h-1zM87 112h7v1h-7zM695 112h7v1h-7zM87 106h7v1h-7zM695 106h7v1h-7zM87 103h7v1h-7zM695 103h7v1h-7zM87 100h7v1h-7zM695 100h7v1h-7zM87 98h7v1h-7zM695 98h7v1h-7zM87 96h7v1h-7zM695 96h7v1h-7zM87 94h7v1h-7zM695 94h7v1h-7zM87 93h7v1h-7zM695 93h7v1h-7zM87 91h13v1h-13zM689 91h13v1h-13zM87 83h7v1h-7zM695 83h7v1h-7zM87 77h7v1h-7zM695 77h7v1h-7zM87 74h7v1h-7zM695 74h7v1h-7zM87 71h7v1h-7zM695 71h7v1h-7zM87 69h7v1h-7zM695 69h7v1h-7zM87 67h7v1h-7zM695 67h7v1h-7zM87 65h7v1h-7zM695 65h7v1h-7zM87 64h7v1h-7zM695 64h7v1h-7zM87 62h13v1h-13zM689 62h13v1h-13zM87 54h7v1h-7zM695 54h7v1h-7zM87 48h7v1h-7zM695 48h7v1h-7zM87 45h7v1h-7zM695 45h7v1h-7zM87 42h7v1h-7zM695 42h7v1h-7zM87 40h7v1h-7zM695 40h7v1h-7zM87 38h7v1h-7zM695 38h7v1h-7zM86 122h617v1h-617zM86 122h1v89h-1zM702 122h1v89h-1zM87 123h1v2h-1zM87 209h1v1h-1zM104 123h1v1h-1zM121 123h1v1h-1zM138 123h1v1h-1zM155 123h1v1h-1zM172 123h1v1h-1zM190 123h1v2h-1zM190 209h1v1h-1zM207 123h1v1h-1zM224 123h1v1h-1zM241 123h1v1h-1zM258 123h1v1h-1zM275 123h1v1h-1zM292 123h1v2h-1zM292 209h1v1h-1zM309 123h1v1h-1zM326 123h1v1h-1zM343 123h1v1h-1zM360 123h1v1h-1zM377 123h1v1h-1zM394 123h1v2h-1zM394 209h1v1h-1zM412 123h1v1h-1zM429 123h1v1h-1zM446 123h1v1h-1zM463 123h1v1h-1zM480 123h1v1h-1zM497 123h1v2h-1zM497 209h1v1h-1zM514 123h1v1h-1zM531 123h1v1h-1zM548 123h1v1h-1zM565 123h1v1h-1zM582 123h1v1h-1zM600 123h1v2h-1zM600 209h1v1h-1zM617 123h1v1h-1zM634 123h1v1h-1zM651 123h1v1h-1zM668 123h1v1h-1zM685 123h1v1h-1zM701 123h1v2h-1zM701 209h1v1h-1zM87 207h13v1h-13zM689 207h13v1h-13zM87 198h7v1h-7zM695 198h7v1h-7zM87 192h7v1h-7zM695 192h7v1h-7zM87 188h7v1h-7zM695 188h7v1h-7zM87 185h7v1h-7zM695 185h7v1h-7zM87 182h7v1h-7zM695 182h7v1h-7zM87 180h7v1h-7zM695 180h7v1h-7zM87 178h7v1h-7zM695 178h7v1h-7zM87 176h7v1h-7zM695 176h7v1h-7zM87 175h13v1h-13zM689 175h13v1h-13zM87 165h7v1h-7zM695 165h7v1h-7zM87 160h7v1h-7zM695 160h7v1h-7zM87 155h7v1h-7zM695 155h7v1h-7zM87 152h7v1h-7zM695 152h7v1h-7zM87 150h7v1h-7zM695 150h7v1h-7zM87 148h7v1h-7zM695 148h7v1h-7zM87 146h7v1h-7zM695 146h7v1h-7zM87 144h7v1h-7zM695 144h7v1h-7zM87 143h13v1h-13zM689 143h13v1h-13zM87 133h7v1h-7zM695 133h7v1h-7zM87 127h7v1h-7zM695 127h7v1h-7zM86 210h617v1h-617zM86 210h1v88h-1zM702 210h1v88h-1zM87 211h1v2h-1zM87 296h1v1h-1zM104 211h1v1h-1zM121 211h1v1h-1zM138 211h1v1h-1zM155 211h1v1h-1zM172 211h1v1h-1zM190 211h1v2h-1zM190 296h1v1h-1zM207 211h1v1h-1zM224 211h1v1h-1zM241 211h1v1h-1zM258 211h1v1h-1zM275 211h1v1h-1zM292 211h1v2h-1zM292 296h1v1h-1zM309 211h1v1h-1zM326 211h1v1h-1zM343 211h1v1h-1zM360 211h1v1h-1zM377 211h1v1h-1zM394 211h1v2h-1zM394 296h1v1h-1zM412 211h1v1h-1zM429 211h1v1h-1zM446 211h1v1h-1zM463 211h1v1h-1zM480 211h1v1h-1zM497 211h1v2h-1zM497 296h1v1h-1zM514 211h1v1h-1zM531 211h1v1h-1zM548 211h1v1h-1zM565 211h1v1h-1zM582 211h1v1h-1zM600 211h1v2h-1zM600 296h1v1h-1zM617 211h1v1h-1zM634 211h1v1h-1zM651 211h1v1h-1zM668 211h1v1h-1zM685 211h1v1h-1zM701 211h1v2h-1zM701 296h1v1h-1zM87 292h7v1h-7zM695 292h7v1h-7zM87 289h7v1h-7zM695 289h7v1h-7zM87 286h7v1h-7zM695 286h7v1h-7zM87 283h7v1h-7zM695 283h7v1h-7zM87 281h7v1h-7zM695 281h7v1h-7zM87 280h7v1h-7zM695 280h7v1h-7zM87 278h7v1h-7zM695 278h7v1h-7zM87 277h13v1h-13zM689 277h13v1h-13zM87 268h7v1h-7zM695 268h7v1h-7zM87 263h7v1h-7zM695 263h7v1h-7zM87 260h7v1h-7zM695 260h7v1h-7zM87 257h7v1h-7zM695 257h7v1h-7zM87 254h7v1h-7zM695 254h7v1h-7zM87 252h7v1h-7zM695 252h7v1h-7zM87 251h7v1h-7zM695 251h7v1h-7zM87 249h7v1h-7zM695 249h7v1h-7zM87 248h13v1h-13zM689 248h13v1h-13zM87 239h7v1h-7zM695 239h7v1h-7zM87 234h7v1h-7zM695 234h7v1h-7zM87 230h7v1h-7zM695 230h7v1h-7zM87 228h7v1h-7zM695 228h7v1h-7zM87 225h7v1h-7zM695 225h7v1h-7zM87 223h7v1h-7zM695 223h7v1h-7zM87 222h7v1h-7zM695 222h7v1h-7zM87 220h7v1h-7zM695 220h7v1h-7zM87 219h13v1h-13zM689 219h13v1h-13zM86 297h617v1h-617zM86 297h1v89h-1zM702 297h1v89h-1zM87 298h1v2h-1zM87 384h1v1h-1zM104 298h1v1h-1zM121 298h1v1h-1zM138 298h1v1h-1zM155 298h1v1h-1zM172 298h1v1h-1zM190 298h1v2h-1zM190 384h1v1h-1zM207 298h1v1h-1zM224 298h1v1h-1zM241 298h1v1h-1zM258 298h1v1h-1zM275 298h1v1h-1zM292 298h1v2h-1zM292 384h1v1h-1zM309 298h1v1h-1zM326 298h1v1h-1zM343 298h1v1h-1zM360 298h1v1h-1zM377 298h1v1h-1zM394 298h1v2h-1zM394 384h1v1h-1zM412 298h1v1h-1zM429 298h1v1h-1zM446 298h1v1h-1zM463 298h1v1h-1zM480 298h1v1h-1zM497 298h1v2h-1zM497 384h1v1h-1zM514 298h1v1h-1zM531 298h1v1h-1zM548 298h1v1h-1zM565 298h1v1h-1zM582 298h1v1h-1zM600 298h1v2h-1zM600 384h1v1h-1zM617 298h1v1h-1zM634 298h1v1h-1zM651 298h1v1h-1zM668 298h1v1h-1zM685 298h1v1h-1zM701 298h1v2h-1zM701 384h1v1h-1zM87 380h7v1h-7zM695 380h7v1h-7zM87 376h7v1h-7zM695 376h7v1h-7zM87 373h7v1h-7zM695 373h7v1h-7zM87 371h7v1h-7zM695 371h7v1h-7zM87 369h7v1h-7zM695 369h7v1h-7zM87 367h7v1h-7zM695 367h7v1h-7zM87 366h7v1h-7zM695 366h7v1h-7zM87 364h13v1h-13zM689 364h13v1h-13zM87 356h7v1h-7zM695 356h7v1h-7zM87 351h7v1h-7zM695 351h7v1h-7zM87 347h7v1h-7zM695 347h7v1h-7zM87 344h7v1h-7zM695 344h7v1h-7zM87 342h7v1h-7zM695 342h7v1h-7zM87 340h7v1h-7zM695 340h7v1h-7zM87 338h7v1h-7zM695 338h7v1h-7zM87 337h7v1h-7zM695 337h7v1h-7zM87 335h13v1h-13zM689 335h13v1h-13zM87 327h7v1h-7zM695 327h7v1h-7zM87 321h7v1h-7zM695 321h7v1h-7zM87 318h7v1h-7zM695 318h7v1h-7zM87 315h7v1h-7zM695 315h7v1h-7zM87 313h7v1h-7zM695 313h7v1h-7zM87 311h7v1h-7zM695 311h7v1h-7zM87 309h7v1h-7zM695 309h7v1h-7zM87 308h7v1h-7zM695 308h7v1h-7zM87 306h13v1h-13zM689 306h13v1h-13zM86 385h617v1h-617zM86 385h1v88h-1zM702 385h1v88h-1zM87 386h1v2h-1zM87 471h1v1h-1zM104 386h1v1h-1zM121 386h1v1h-1zM138 386h1v1h-1zM155 386h1v1h-1zM172 386h1v1h-1zM190 386h1v2h-1zM190 471h1v1h-1zM207 386h1v1h-1zM224 386h1v1h-1zM241 386h1v1h-1zM258 386h1v1h-1zM275 386h1v1h-1zM292 386h1v2h-1zM292 471h1v1h-1zM309 386h1v1h-1zM326 386h1v1h-1zM343 386h1v1h-1zM360 386h1v1h-1zM377 386h1v1h-1zM394 386h1v2h-1zM394 471h1v1h-1zM412 386h1v1h-1zM429 386h1v1h-1zM446 386h1v1h-1zM463 386h1v1h-1zM480 386h1v1h-1zM497 386h1v2h-1zM497 471h1v1h-1zM514 386h1v1h-1zM531 386h1v1h-1zM548 386h1v1h-1zM565 386h1v1h-1zM582 386h1v1h-1zM600 386h1v2h-1zM600 471h1v1h-1zM617 386h1v1h-1zM634 386h1v1h-1zM651 386h1v1h-1zM668 386h1v1h-1zM685 386h1v1h-1zM701 386h1v2h-1zM701 471h1v1h-1zM87 461h7v1h-7zM695 461h7v1h-7zM87 456h7v1h-7zM695 456h7v1h-7zM87 452h7v1h-7zM695 452h7v1h-7zM87 450h7v1h-7zM695 450h7v1h-7zM87 447h7v1h-7zM695 447h7v1h-7zM87 445h7v1h-7zM695 445h7v1h-7zM87 444h7v1h-7zM695 444h7v1h-7zM87 442h7v1h-7zM695 442h7v1h-7zM87 441h13v1h-13zM689 441h13v1h-13zM87 432h7v1h-7zM695 432h7v1h-7zM87 427h7v1h-7zM695 427h7v1h-7zM87 423h7v1h-7zM695 423h7v1h-7zM87 421h7v1h-7zM695 421h7v1h-7zM87 418h7v1h-7zM695 418h7v1h-7zM87 416h7v1h-7zM695 416h7v1h-7zM87 415h7v1h-7zM695 415h7v1h-7zM87 413h7v1h-7zM695 413h7v1h-7zM87 412h13v1h-13zM689 412h13v1h-13zM87 403h7v1h-7zM695 403h7v1h-7zM87 398h7v1h-7zM695 398h7v1h-7zM87 394h7v1h-7zM695 394h7v1h-7zM87 392h7v1h-7zM695 392h7v1h-7zM87 389h7v1h-7zM695 389h7v1h-7zM87 387h7v1h-7zM695 387h7v1h-7zM86 472h617v1h-617zM86 472h1v88h-1zM702 472h1v88h-1zM87 473h1v2h-1zM87 558h1v1h-1zM104 473h1v1h-1zM121 473h1v1h-1zM138 473h1v1h-1zM155 473h1v1h-1zM172 473h1v1h-1zM190 473h1v2h-1zM190 558h1v1h-1zM207 473h1v1h-1zM224 473h1v1h-1zM241 473h1v1h-1zM258 473h1v1h-1zM275 473h1v1h-1zM292 473h1v2h-1zM292 558h1v1h-1zM309 473h1v1h-1zM326 473h1v1h-1zM343 473h1v1h-1zM360 473h1v1h-1zM377 473h1v1h-1zM394 473h1v2h-1zM394 558h1v1h-1zM412 473h1v1h-1zM429 473h1v1h-1zM446 473h1v1h-1zM463 473h1v1h-1zM480 473h1v1h-1zM497 473h1v2h-1zM497 558h1v1h-1zM514 473h1v1h-1zM531 473h1v1h-1zM548 473h1v1h-1zM565 473h1v1h-1zM582 473h1v1h-1zM600 473h1v2h-1zM600 558h1v1h-1zM617 473h1v1h-1zM634 473h1v1h-1zM651 473h1v1h-1zM668 473h1v1h-1zM685 473h1v1h-1zM701 473h1v2h-1zM701 558h1v1h-1zM87 557h13v1h-13zM689 557h13v1h-13zM87 547h7v1h-7zM695 547h7v1h-7zM87 542h7v1h-7zM695 542h7v1h-7zM87 537h7v1h-7zM695 537h7v1h-7zM87 534h7v1h-7zM695 534h7v1h-7zM87 532h7v1h-7zM695 532h7v1h-7zM87 530h7v1h-7zM695 530h7v1h-7zM87 528h7v1h-7zM695 528h7v1h-7zM87 526h7v1h-7zM695 526h7v1h-7zM87 525h13v1h-13zM689 525h13v1h-13zM87 515h7v1h-7zM695 515h7v1h-7zM87 509h7v1h-7zM695 509h7v1h-7zM87 505h7v1h-7zM695 505h7v1h-7zM87 502h7v1h-7zM695 502h7v1h-7zM87 499h7v1h-7zM695 499h7v1h-7zM87 497h7v1h-7zM695 497h7v1h-7zM87 495h7v1h-7zM695 495h7v1h-7zM87 494h7v1h-7zM695 494h7v1h-7zM87 492h13v1h-13zM689 492h13v1h-13zM87 482h7v1h-7zM695 482h7v1h-7zM87 477h7v1h-7zM695 477h7v1h-7zM86 559h617v1h-617zM86 559h1v89h-1zM702 559h1v89h-1zM87 560h1v2h-1zM87 646h1v1h-1zM104 560h1v1h-1zM121 560h1v1h-1zM138 560h1v1h-1zM155 560h1v1h-1zM172 560h1v1h-1zM190 560h1v2h-1zM190 646h1v1h-1zM207 560h1v1h-1zM224 560h1v1h-1zM241 560h1v1h-1zM258 560h1v1h-1zM275 560h1v1h-1zM292 560h1v2h-1zM292 646h1v1h-1zM309 560h1v1h-1zM326 560h1v1h-1zM343 560h1v1h-1zM360 560h1v1h-1zM377 560h1v1h-1zM394 560h1v2h-1zM394 646h1v1h-1zM412 560h1v1h-1zM429 560h1v1h-1zM446 560h1v1h-1zM463 560h1v1h-1zM480 560h1v1h-1zM497 560h1v2h-1zM497 646h1v1h-1zM514 560h1v1h-1zM531 560h1v1h-1zM548 560h1v1h-1zM565 560h1v1h-1zM582 560h1v1h-1zM600 560h1v2h-1zM600 646h1v1h-1zM617 560h1v1h-1zM634 560h1v1h-1zM651 560h1v1h-1zM668 560h1v1h-1zM685 560h1v1h-1zM701 560h1v2h-1zM701 646h1v1h-1zM87 642h7v1h-7zM695 642h7v1h-7zM87 638h7v1h-7zM695 638h7v1h-7zM87 635h7v1h-7zM695 635h7v1h-7zM87 633h7v1h-7zM695 633h7v1h-7zM87 631h7v1h-7zM695 631h7v1h-7zM87 629h7v1h-7zM695 629h7v1h-7zM87 628h7v1h-7zM695 628h7v1h-7zM87 627h13v1h-13zM689 627h13v1h-13zM87 618h7v1h-7zM695 618h7v1h-7zM87 613h7v1h-7zM695 613h7v1h-7zM87 609h7v1h-7zM695 609h7v1h-7zM87 606h7v1h-7zM695 606h7v1h-7zM87 604h7v1h-7zM695 604h7v1h-7zM87 602h7v1h-7zM695 602h7v1h-7zM87 600h7v1h-7zM695 600h7v1h-7zM87 599h7v1h-7zM695 599h7v1h-7zM87 598h13v1h-13zM689 598h13v1h-13zM87 589h7v1h-7zM695 589h7v1h-7zM87 584h7v1h-7zM695 584h7v1h-7zM87 580h7v1h-7zM695 580h7v1h-7zM87 577h7v1h-7zM695 577h7v1h-7zM87 575h7v1h-7zM695 575h7v1h-7zM87 573h7v1h-7zM695 573h7v1h-7zM87 571h7v1h-7zM695 571h7v1h-7zM87 570h7v1h-7zM695 570h7v1h-7zM87 569h13v1h-13zM689 569h13v1h-13zM86 647h617v1h-617zM86 647h1v88h-1zM702 647h1v88h-1zM86 734h617v1h-617zM87 648h1v2h-1zM87 732h1v2h-1zM104 648h1v1h-1zM104 733h1v1h-1zM121 648h1v1h-1zM121 733h1v1h-1zM138 648h1v1h-1zM138 733h1v1h-1zM155 648h1v1h-1zM155 733h1v1h-1zM172 648h1v1h-1zM172 733h1v1h-1zM190 648h1v2h-1zM190 732h1v2h-1zM207 648h1v1h-1zM207 733h1v1h-1zM224 648h1v1h-1zM224 733h1v1h-1zM241 648h1v1h-1zM241 733h1v1h-1zM258 648h1v1h-1zM258 733h1v1h-1zM275 648h1v1h-1zM275 733h1v1h-1zM292 648h1v2h-1zM292 732h1v2h-1zM309 648h1v1h-1zM309 733h1v1h-1zM326 648h1v1h-1zM326 733h1v1h-1zM343 648h1v1h-1zM343 733h1v1h-1zM360 648h1v1h-1zM360 733h1v1h-1zM377 648h1v1h-1zM377 733h1v1h-1zM394 648h1v2h-1zM394 732h1v2h-1zM412 648h1v1h-1zM412 733h1v1h-1zM429 648h1v1h-1zM429 733h1v1h-1zM446 648h1v1h-1zM446 733h1v1h-1zM463 648h1v1h-1zM463 733h1v1h-1zM480 648h1v1h-1zM480 733h1v1h-1zM497 648h1v2h-1zM497 732h1v2h-1zM514 648h1v1h-1zM514 733h1v1h-1zM531 648h1v1h-1zM531 733h1v1h-1zM548 648h1v1h-1zM548 733h1v1h-1zM565 648h1v1h-1zM565 733h1v1h-1zM582 648h1v1h-1zM582 733h1v1h-1zM600 648h1v2h-1zM600 732h1v2h-1zM617 648h1v1h-1zM617 733h1v1h-1zM634 648h1v1h-1zM634 733h1v1h-1zM651 648h1v1h-1zM651 733h1v1h-1zM668 648h1v1h-1zM668 733h1v1h-1zM685 648h1v1h-1zM685 733h1v1h-1zM701 648h1v2h-1zM701 732h1v2h-1zM87 729h7v1h-7zM695 729h7v1h-7zM87 726h7v1h-7zM695 726h7v1h-7zM87 723h7v1h-7zM695 723h7v1h-7zM87 720h7v1h-7zM695 720h7v1h-7zM87 718h7v1h-7zM695 718h7v1h-7zM87 717h7v1h-7zM695 717h7v1h-7zM87 715h7v1h-7zM695 715h7v1h-7zM87 714h13v1h-13zM689 714h13v1h-13zM87 705h7v1h-7zM695 705h7v1h-7zM87 700h7v1h-7zM695 700h7v1h-7zM87 697h7v1h-7zM695 697h7v1h-7zM87 694h7v1h-7zM695 694h7v1h-7zM87 691h7v1h-7zM695 691h7v1h-7zM87 689h7v1h-7zM695 689h7v1h-7zM87 688h7v1h-7zM695 688h7v1h-7zM87 686h7v1h-7zM695 686h7v1h-7zM87 685h13v1h-13zM689 685h13v1h-13zM87 676h7v1h-7zM695 676h7v1h-7zM87 671h7v1h-7zM695 671h7v1h-7zM87 667h7v1h-7zM695 667h7v1h-7zM87 665h7v1h-7zM695 665h7v1h-7zM87 662h7v1h-7zM695 662h7v1h-7zM87 660h7v1h-7zM695 660h7v1h-7zM87 659h7v1h-7zM695 659h7v1h-7zM87 657h7v1h-7zM695 657h7v1h-7zM87 656h13v1h-13zM689 656h13v1h-13z"/>
<defs><linearGradient id="cb" x1="0" y1="0" x2="0" y2="1"><stop offset="0.000" stop-color="#900000"/><stop offset="0.040" stop-color="#c80000"/><stop offset="0.100" stop-color="#ff0000"/><stop offset="0.230" stop-color="#ff9000"/><stop offset="0.330" stop-color="#ffff00"/><stop offset="0.410" stop-color="#90ff00"/><stop offset="0.500" stop-color="#00ff00"/><stop offset="0.570" stop-color="#00ff90"/><stop offset="0.644" stop-color="#00ffff"/><stop offset="0.710" stop-color="#0070ff"/><stop offset="0.773" stop-color="#0000ff"/><stop offset="0.810" stop-color="#4000e0"/><stop offset="0.874" stop-color="#5a00a0"/><stop offset="0.945" stop-color="#2a0030"/><stop offset="1.000" stop-color="#000000"/></linearGradient></defs>
<rect x="708" y="36" width="4" height="86" fill="url(#cb)"/>
<rect x="708" y="123" width="4" height="87" fill="url(#cb)"/>
<rect x="708" y="211" width="4" height="86" fill="url(#cb)"/>
<rect x="708" y="298" width="4" height="87" fill="url(#cb)"/>
<rect x="708" y="386" width="4" height="86" fill="url(#cb)"/>
<rect x="708" y="473" width="4" height="86" fill="url(#cb)"/>
<rect x="708" y="560" width="4" height="87" fill="url(#cb)"/>
<rect x="708" y="648" width="4" height="86" fill="url(#cb)"/>
<path fill="#000" d="M707 35h6v1h-6zM707 35h1v88h-1zM712 35h1v88h-1zM707 122h6v1h-6zM707 122h1v89h-1zM712 122h1v89h-1zM707 210h6v1h-6zM707 210h1v88h-1zM712 210h1v88h-1zM707 297h6v1h-6zM707 297h1v89h-1zM712 297h1v89h-1zM707 385h6v1h-6zM707 385h1v88h-1zM712 385h1v88h-1zM707 472h6v1h-6zM707 472h1v88h-1zM712 472h1v88h-1zM707 559h6v1h-6zM707 559h1v89h-1zM712 559h1v89h-1zM707 647h6v1h-6zM707 647h1v88h-1zM712 647h1v88h-1zM707 734h6v1h-6z"/>
<text x="715" y="41.1" font-size="8.6">10<tspan dy="-3.2" font-size="6.4">-4</tspan></text>
<text x="715" y="58.6" font-size="8.6">10<tspan dy="-3.2" font-size="6.4">-6</tspan></text>
<text x="715" y="76.1" font-size="8.6">10<tspan dy="-3.2" font-size="6.4">-8</tspan></text>
<text x="715" y="93.5" font-size="8.6">10<tspan dy="-3.2" font-size="6.4">-10</tspan></text>
<text x="715" y="111.0" font-size="8.6">10<tspan dy="-3.2" font-size="6.4">-12</tspan></text>
<text transform="translate(742.8 80.0) rotate(-90)" text-anchor="middle" letter-spacing="0.7" font-size="8.6">(V/m)<tspan dy="-3" font-size="6.4">2</tspan><tspan dy="3">/Hz</tspan></text>
<text x="715" y="131.4" font-size="8.6">10<tspan dy="-3.2" font-size="6.4">-2</tspan></text>
<text x="715" y="151.9" font-size="8.6">10<tspan dy="-3.2" font-size="6.4">-4</tspan></text>
<text x="715" y="172.4" font-size="8.6">10<tspan dy="-3.2" font-size="6.4">-6</tspan></text>
<text x="715" y="192.9" font-size="8.6">10<tspan dy="-3.2" font-size="6.4">-8</tspan></text>
<text x="715" y="213.4" font-size="8.6">10<tspan dy="-3.2" font-size="6.4">-10</tspan></text>
<text transform="translate(742.8 166.9) rotate(-90)" text-anchor="middle" letter-spacing="0.7" font-size="8.6">nT<tspan dy="-3" font-size="6.4">2</tspan><tspan dy="3">/Hz</tspan></text>
<text x="715" y="405.3" font-size="8.6">10<tspan dy="-3.2" font-size="6.4">-6</tspan></text>
<text x="715" y="423.4" font-size="8.6">10<tspan dy="-3.2" font-size="6.4">-8</tspan></text>
<text x="715" y="441.5" font-size="8.6">10<tspan dy="-3.2" font-size="6.4">-10</tspan></text>
<text x="715" y="459.6" font-size="8.6">10<tspan dy="-3.2" font-size="6.4">-12</tspan></text>
<text transform="translate(742.8 429.6) rotate(-90)" text-anchor="middle" letter-spacing="0.7" font-size="8.6">(V/m)<tspan dy="-3" font-size="6.4">2</tspan><tspan dy="3">/Hz</tspan></text>
<text x="715" y="478.3" font-size="8.6">10<tspan dy="-3.2" font-size="6.4">-2</tspan></text>
<text x="715" y="499.2" font-size="8.6">10<tspan dy="-3.2" font-size="6.4">-4</tspan></text>
<text x="715" y="520.1" font-size="8.6">10<tspan dy="-3.2" font-size="6.4">-6</tspan></text>
<text x="715" y="541.0" font-size="8.6">10<tspan dy="-3.2" font-size="6.4">-8</tspan></text>
<text x="715" y="561.9" font-size="8.6">10<tspan dy="-3.2" font-size="6.4">-10</tspan></text>
<text transform="translate(742.8 516.5) rotate(-90)" text-anchor="middle" letter-spacing="0.7" font-size="8.6">nT<tspan dy="-3" font-size="6.4">2</tspan><tspan dy="3">/Hz</tspan></text>
<text x="715" y="223.4" font-size="8.6">1.00</text>
<text x="715" y="255.4" font-size="8.6">0.10</text>
<text x="715" y="287.4" font-size="8.6">0.01</text>
<text transform="translate(740.4 254.4) rotate(-90)" text-anchor="middle" letter-spacing="0.6" font-size="8.6">&lt;|mV/m|&gt;</text>
<text x="715" y="573.0" font-size="8.6">1.00</text>
<text x="715" y="603.8" font-size="8.6">0.10</text>
<text x="715" y="634.6" font-size="8.6">0.01</text>
<text transform="translate(740.4 604.0) rotate(-90)" text-anchor="middle" letter-spacing="0.6" font-size="8.6">&lt;|mV/m|&gt;</text>
<text x="715" y="308.9" font-size="8.6">1.000</text>
<text x="715" y="333.8" font-size="8.6">0.100</text>
<text x="715" y="358.7" font-size="8.6">0.010</text>
<text x="715" y="383.6" font-size="8.6">0.001</text>
<text transform="translate(745.6 341.5) rotate(-90)" text-anchor="middle" letter-spacing="0.6" font-size="8.6">&lt;|nT|&gt;</text>
<text x="715" y="658.5" font-size="8.6">1.000</text>
<text x="715" y="683.4" font-size="8.6">0.100</text>
<text x="715" y="708.3" font-size="8.6">0.010</text>
<text x="715" y="733.2" font-size="8.6">0.001</text>
<text transform="translate(745.6 691.1) rotate(-90)" text-anchor="middle" letter-spacing="0.6" font-size="8.6">&lt;|nT|&gt;</text>
<text x="291.5" y="31.5" textLength="205.5" lengthAdjust="spacing" font-size="10.2">Outer Probes: P1, P2 (TH-B,C) FFT, FBK</text>
<text x="77.2" y="745.7" textLength="19.5" lengthAdjust="spacing" font-size="8.6">0000</text>
<text x="179.7" y="745.7" textLength="19.5" lengthAdjust="spacing" font-size="8.6">0100</text>
<text x="282.2" y="745.7" textLength="19.5" lengthAdjust="spacing" font-size="8.6">0200</text>
<text x="384.7" y="745.7" textLength="19.5" lengthAdjust="spacing" font-size="8.6">0300</text>
<text x="487.2" y="745.7" textLength="19.5" lengthAdjust="spacing" font-size="8.6">0400</text>
<text x="589.7" y="745.7" textLength="19.5" lengthAdjust="spacing" font-size="8.6">0500</text>
<text x="692.2" y="745.7" textLength="19.5" lengthAdjust="spacing" font-size="8.6">0600</text>
<text x="5.5" y="745.7" textLength="23.5" lengthAdjust="spacing" font-size="8.6">hhmm</text>
<text x="5.5" y="753.5" textLength="51.5" lengthAdjust="spacing" font-size="8.6">2018 Sep 22</text></g>
</svg>
</body></html>
